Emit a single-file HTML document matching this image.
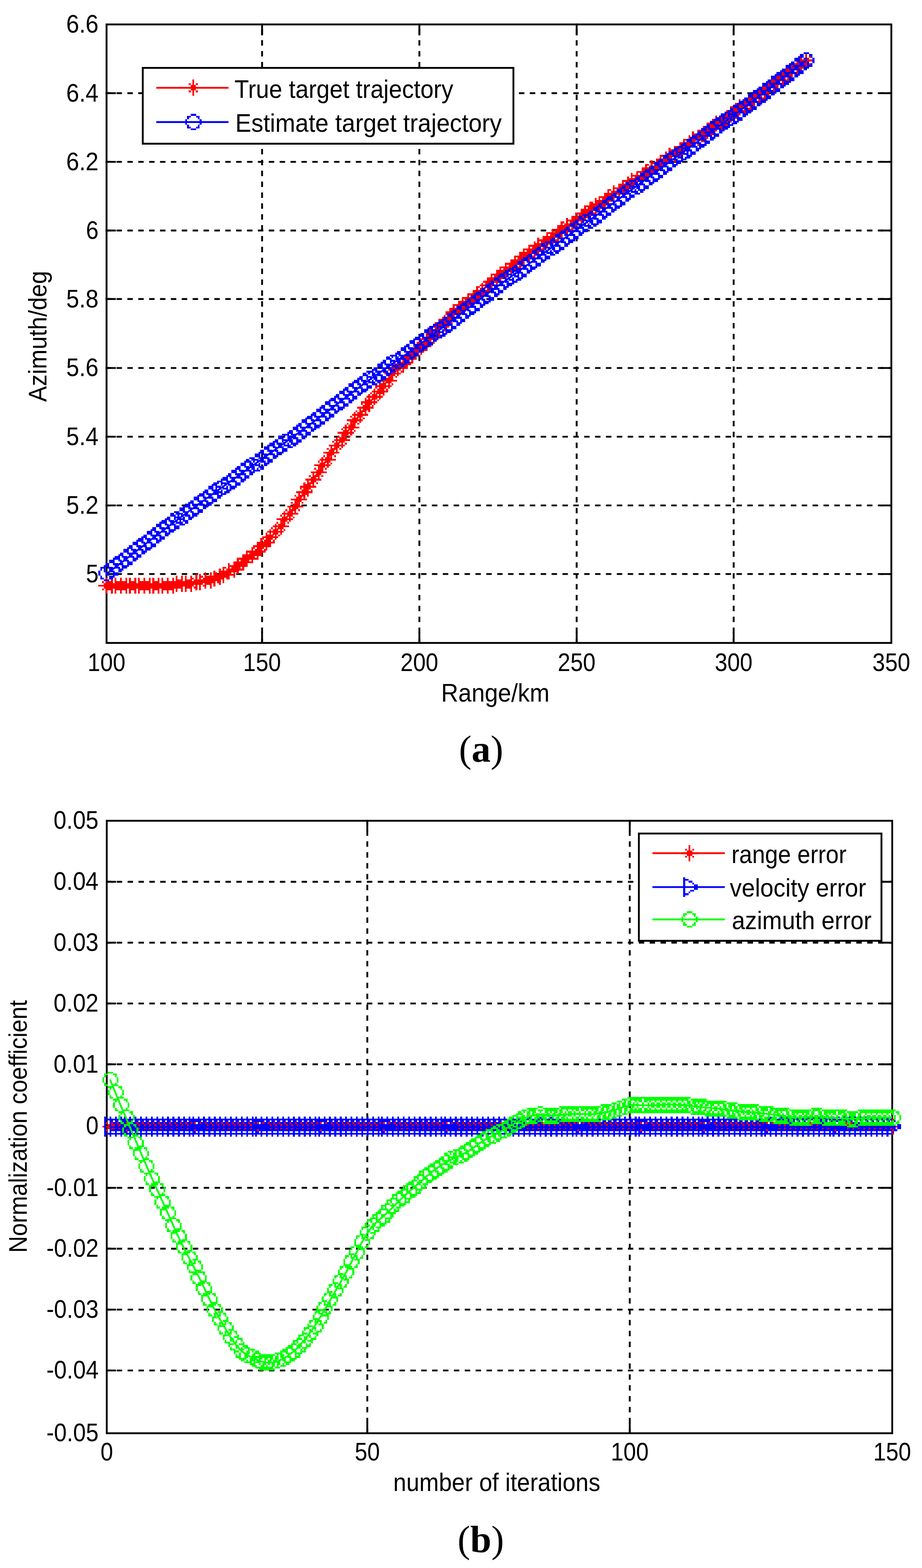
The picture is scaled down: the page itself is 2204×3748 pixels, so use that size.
<!DOCTYPE html><html><head><meta charset="utf-8"><title>Figure</title><style>html,body{margin:0;padding:0;background:#fff;}svg{display:block;}.ax{stroke:#000;stroke-width:4.4;fill:none;stroke-linecap:square}.gr{stroke:#000;stroke-width:4.4;stroke-dasharray:13 13;fill:none}text{font-family:'Liberation Sans', Arial, Helvetica, sans-serif;fill:#000}.cap{font-family:'Liberation Serif', 'Times New Roman', serif}</style></head><body>
<svg xmlns="http://www.w3.org/2000/svg" width="2204" height="3748" viewBox="0 0 2204 3748">
<rect width="2204" height="3748" fill="#fff"/>
<line x1="626.5" y1="1539.0" x2="626.5" y2="58.4" class="gr"/>
<line x1="1002.5" y1="1539.0" x2="1002.5" y2="58.4" class="gr"/>
<line x1="1378.5" y1="1539.0" x2="1378.5" y2="58.4" class="gr"/>
<line x1="1753.8" y1="1539.0" x2="1753.8" y2="58.4" class="gr"/>
<line x1="252.5" y1="222.8" x2="2130.7" y2="222.8" class="gr"/>
<line x1="252.5" y1="386.9" x2="2130.7" y2="386.9" class="gr"/>
<line x1="252.5" y1="551.0" x2="2130.7" y2="551.0" class="gr"/>
<line x1="252.5" y1="714.8" x2="2130.7" y2="714.8" class="gr"/>
<line x1="252.5" y1="879.6" x2="2130.7" y2="879.6" class="gr"/>
<line x1="252.5" y1="1043.9" x2="2130.7" y2="1043.9" class="gr"/>
<line x1="252.5" y1="1208.1" x2="2130.7" y2="1208.1" class="gr"/>
<line x1="252.5" y1="1372.1" x2="2130.7" y2="1372.1" class="gr"/>
<path d="M626.5 1536.8v-24M626.5 58.4v24" class="ax"/>
<path d="M1002.5 1536.8v-24M1002.5 58.4v24" class="ax"/>
<path d="M1378.5 1536.8v-24M1378.5 58.4v24" class="ax"/>
<path d="M1753.8 1536.8v-24M1753.8 58.4v24" class="ax"/>
<path d="M254.7 222.8h20M2130.7 222.8h-24" class="ax"/>
<path d="M254.7 386.9h20M2130.7 386.9h-24" class="ax"/>
<path d="M254.7 551.0h20M2130.7 551.0h-24" class="ax"/>
<path d="M254.7 714.8h20M2130.7 714.8h-24" class="ax"/>
<path d="M254.7 879.6h20M2130.7 879.6h-24" class="ax"/>
<path d="M254.7 1043.9h20M2130.7 1043.9h-24" class="ax"/>
<path d="M254.7 1208.1h20M2130.7 1208.1h-24" class="ax"/>
<path d="M254.7 1372.1h20M2130.7 1372.1h-24" class="ax"/>
<rect x="254.7" y="58.4" width="1876.0" height="1478.4" class="ax" fill="none"/>
<polyline points="255.0,1398.4 266.2,1398.4 277.4,1398.4 288.7,1398.4 299.9,1398.4 311.1,1398.4 322.3,1398.4 333.6,1398.4 344.8,1398.4 356.0,1398.4 367.2,1398.4 378.5,1398.4 389.7,1398.4 400.9,1398.4 412.1,1398.2 423.4,1397.4 434.6,1396.5 445.8,1395.5 457.0,1393.8 468.3,1392.1 479.5,1390.3 490.7,1387.8 501.9,1385.1 513.2,1381.6 524.4,1377.3 535.6,1372.9 546.8,1367.2 558.1,1360.2 569.3,1353.1 580.5,1344.8 591.7,1335.3 602.9,1326.0 614.2,1316.3 625.4,1306.3 636.6,1295.5 647.8,1284.1 659.1,1270.7 670.3,1256.6 681.5,1241.9 692.7,1226.1 704.0,1210.6 715.2,1194.8 726.4,1178.6 737.6,1162.2 748.9,1145.9 760.1,1129.8 771.3,1113.4 782.5,1097.0 793.8,1081.4 805.0,1065.9 816.2,1050.2 827.4,1035.8 838.7,1021.1 849.9,1005.7 861.1,991.0 872.3,976.3 883.6,962.4 894.8,948.5 906.0,934.5 917.2,921.3 928.4,908.0 939.7,894.4 950.9,881.7 962.1,870.5 973.3,859.6 984.6,849.7 995.8,839.9 1007.0,829.9 1018.2,819.0 1029.5,807.9 1040.7,795.2 1051.9,782.7 1063.1,770.2 1074.4,758.2 1085.6,746.7 1096.8,736.6 1108.0,727.4 1119.3,718.7 1130.5,710.2 1141.7,701.8 1152.9,692.9 1164.2,683.8 1175.4,674.7 1186.6,665.5 1197.8,656.4 1209.1,647.2 1220.3,638.3 1231.5,629.6 1242.7,621.1 1254.0,612.9 1265.2,604.9 1276.4,597.0 1287.6,589.1 1298.8,581.2 1310.1,573.3 1321.3,565.4 1332.5,557.4 1343.7,549.5 1355.0,541.6 1366.2,533.7 1377.4,525.8 1388.6,517.9 1399.9,510.0 1411.1,502.3 1422.3,494.5 1433.5,486.9 1444.8,479.3 1456.0,471.8 1467.2,464.2 1478.4,456.7 1489.7,449.1 1500.9,441.6 1512.1,434.1 1523.3,426.5 1534.6,419.0 1545.8,411.4 1557.0,403.9 1568.2,396.3 1579.5,388.8 1590.7,381.2 1601.9,373.6 1613.1,365.9 1624.3,358.3 1635.6,350.6 1646.8,342.9 1658.0,335.3 1669.2,327.6 1680.5,319.9 1691.7,312.3 1702.9,304.6 1714.1,296.9 1725.4,289.3 1736.6,281.6 1747.8,273.9 1759.0,266.2 1770.3,258.3 1781.5,250.2 1792.7,242.0 1803.9,233.5 1815.2,225.0 1826.4,216.4 1837.6,207.8 1848.8,199.3 1860.1,191.1 1871.3,183.0 1882.5,175.2 1893.7,167.5 1905.0,159.9 1916.2,152.4 1927.4,144.8" fill="none" stroke="#ff0000" stroke-width="4.3" stroke-linejoin="round" shape-rendering="crispEdges"/>
<path d="M252.40 1380.70h4.30v38.70h-4.30zM235.20 1397.90h38.70v4.30h-38.70zM248.10 1393.60h12.90v12.90h-12.90zM243.80 1389.30h4.30v4.30h-4.30zM261.00 1389.30h4.30v4.30h-4.30zM243.80 1406.50h4.30v4.30h-4.30zM261.00 1406.50h4.30v4.30h-4.30zM265.30 1380.70h4.30v38.70h-4.30zM248.10 1397.90h38.70v4.30h-38.70zM261.00 1393.60h12.90v12.90h-12.90zM256.70 1389.30h4.30v4.30h-4.30zM273.90 1389.30h4.30v4.30h-4.30zM256.70 1406.50h4.30v4.30h-4.30zM273.90 1406.50h4.30v4.30h-4.30zM273.90 1380.70h4.30v38.70h-4.30zM256.70 1397.90h38.70v4.30h-38.70zM269.60 1393.60h12.90v12.90h-12.90zM265.30 1389.30h4.30v4.30h-4.30zM282.50 1389.30h4.30v4.30h-4.30zM265.30 1406.50h4.30v4.30h-4.30zM282.50 1406.50h4.30v4.30h-4.30zM286.80 1380.70h4.30v38.70h-4.30zM269.60 1397.90h38.70v4.30h-38.70zM282.50 1393.60h12.90v12.90h-12.90zM278.20 1389.30h4.30v4.30h-4.30zM295.40 1389.30h4.30v4.30h-4.30zM278.20 1406.50h4.30v4.30h-4.30zM295.40 1406.50h4.30v4.30h-4.30zM299.70 1380.70h4.30v38.70h-4.30zM282.50 1397.90h38.70v4.30h-38.70zM295.40 1393.60h12.90v12.90h-12.90zM291.10 1389.30h4.30v4.30h-4.30zM308.30 1389.30h4.30v4.30h-4.30zM291.10 1406.50h4.30v4.30h-4.30zM308.30 1406.50h4.30v4.30h-4.30zM308.30 1380.70h4.30v38.70h-4.30zM291.10 1397.90h38.70v4.30h-38.70zM304.00 1393.60h12.90v12.90h-12.90zM299.70 1389.30h4.30v4.30h-4.30zM316.90 1389.30h4.30v4.30h-4.30zM299.70 1406.50h4.30v4.30h-4.30zM316.90 1406.50h4.30v4.30h-4.30zM321.20 1380.70h4.30v38.70h-4.30zM304.00 1397.90h38.70v4.30h-38.70zM316.90 1393.60h12.90v12.90h-12.90zM312.60 1389.30h4.30v4.30h-4.30zM329.80 1389.30h4.30v4.30h-4.30zM312.60 1406.50h4.30v4.30h-4.30zM329.80 1406.50h4.30v4.30h-4.30zM329.80 1380.70h4.30v38.70h-4.30zM312.60 1397.90h38.70v4.30h-38.70zM325.50 1393.60h12.90v12.90h-12.90zM321.20 1389.30h4.30v4.30h-4.30zM338.40 1389.30h4.30v4.30h-4.30zM321.20 1406.50h4.30v4.30h-4.30zM338.40 1406.50h4.30v4.30h-4.30zM342.70 1380.70h4.30v38.70h-4.30zM325.50 1397.90h38.70v4.30h-38.70zM338.40 1393.60h12.90v12.90h-12.90zM334.10 1389.30h4.30v4.30h-4.30zM351.30 1389.30h4.30v4.30h-4.30zM334.10 1406.50h4.30v4.30h-4.30zM351.30 1406.50h4.30v4.30h-4.30zM355.60 1380.70h4.30v38.70h-4.30zM338.40 1397.90h38.70v4.30h-38.70zM351.30 1393.60h12.90v12.90h-12.90zM347.00 1389.30h4.30v4.30h-4.30zM364.20 1389.30h4.30v4.30h-4.30zM347.00 1406.50h4.30v4.30h-4.30zM364.20 1406.50h4.30v4.30h-4.30zM364.20 1380.70h4.30v38.70h-4.30zM347.00 1397.90h38.70v4.30h-38.70zM359.90 1393.60h12.90v12.90h-12.90zM355.60 1389.30h4.30v4.30h-4.30zM372.80 1389.30h4.30v4.30h-4.30zM355.60 1406.50h4.30v4.30h-4.30zM372.80 1406.50h4.30v4.30h-4.30zM377.10 1380.70h4.30v38.70h-4.30zM359.90 1397.90h38.70v4.30h-38.70zM372.80 1393.60h12.90v12.90h-12.90zM368.50 1389.30h4.30v4.30h-4.30zM385.70 1389.30h4.30v4.30h-4.30zM368.50 1406.50h4.30v4.30h-4.30zM385.70 1406.50h4.30v4.30h-4.30zM385.70 1380.70h4.30v38.70h-4.30zM368.50 1397.90h38.70v4.30h-38.70zM381.40 1393.60h12.90v12.90h-12.90zM377.10 1389.30h4.30v4.30h-4.30zM394.30 1389.30h4.30v4.30h-4.30zM377.10 1406.50h4.30v4.30h-4.30zM394.30 1406.50h4.30v4.30h-4.30zM398.60 1380.70h4.30v38.70h-4.30zM381.40 1397.90h38.70v4.30h-38.70zM394.30 1393.60h12.90v12.90h-12.90zM390.00 1389.30h4.30v4.30h-4.30zM407.20 1389.30h4.30v4.30h-4.30zM390.00 1406.50h4.30v4.30h-4.30zM407.20 1406.50h4.30v4.30h-4.30zM411.50 1380.70h4.30v38.70h-4.30zM394.30 1397.90h38.70v4.30h-38.70zM407.20 1393.60h12.90v12.90h-12.90zM402.90 1389.30h4.30v4.30h-4.30zM420.10 1389.30h4.30v4.30h-4.30zM402.90 1406.50h4.30v4.30h-4.30zM420.10 1406.50h4.30v4.30h-4.30zM420.10 1376.40h4.30v38.70h-4.30zM402.90 1393.60h38.70v4.30h-38.70zM415.80 1389.30h12.90v12.90h-12.90zM411.50 1385.00h4.30v4.30h-4.30zM428.70 1385.00h4.30v4.30h-4.30zM411.50 1402.20h4.30v4.30h-4.30zM428.70 1402.20h4.30v4.30h-4.30zM433.00 1376.40h4.30v38.70h-4.30zM415.80 1393.60h38.70v4.30h-38.70zM428.70 1389.30h12.90v12.90h-12.90zM424.40 1385.00h4.30v4.30h-4.30zM441.60 1385.00h4.30v4.30h-4.30zM424.40 1402.20h4.30v4.30h-4.30zM441.60 1402.20h4.30v4.30h-4.30zM441.60 1376.40h4.30v38.70h-4.30zM424.40 1393.60h38.70v4.30h-38.70zM437.30 1389.30h12.90v12.90h-12.90zM433.00 1385.00h4.30v4.30h-4.30zM450.20 1385.00h4.30v4.30h-4.30zM433.00 1402.20h4.30v4.30h-4.30zM450.20 1402.20h4.30v4.30h-4.30zM454.50 1376.40h4.30v38.70h-4.30zM437.30 1393.60h38.70v4.30h-38.70zM450.20 1389.30h12.90v12.90h-12.90zM445.90 1385.00h4.30v4.30h-4.30zM463.10 1385.00h4.30v4.30h-4.30zM445.90 1402.20h4.30v4.30h-4.30zM463.10 1402.20h4.30v4.30h-4.30zM467.40 1372.10h4.30v38.70h-4.30zM450.20 1389.30h38.70v4.30h-38.70zM463.10 1385.00h12.90v12.90h-12.90zM458.80 1380.70h4.30v4.30h-4.30zM476.00 1380.70h4.30v4.30h-4.30zM458.80 1397.90h4.30v4.30h-4.30zM476.00 1397.90h4.30v4.30h-4.30zM476.00 1372.10h4.30v38.70h-4.30zM458.80 1389.30h38.70v4.30h-38.70zM471.70 1385.00h12.90v12.90h-12.90zM467.40 1380.70h4.30v4.30h-4.30zM484.60 1380.70h4.30v4.30h-4.30zM467.40 1397.90h4.30v4.30h-4.30zM484.60 1397.90h4.30v4.30h-4.30zM488.90 1367.80h4.30v38.70h-4.30zM471.70 1385.00h38.70v4.30h-38.70zM484.60 1380.70h12.90v12.90h-12.90zM480.30 1376.40h4.30v4.30h-4.30zM497.50 1376.40h4.30v4.30h-4.30zM480.30 1393.60h4.30v4.30h-4.30zM497.50 1393.60h4.30v4.30h-4.30zM501.80 1367.80h4.30v38.70h-4.30zM484.60 1385.00h38.70v4.30h-38.70zM497.50 1380.70h12.90v12.90h-12.90zM493.20 1376.40h4.30v4.30h-4.30zM510.40 1376.40h4.30v4.30h-4.30zM493.20 1393.60h4.30v4.30h-4.30zM510.40 1393.60h4.30v4.30h-4.30zM510.40 1363.50h4.30v38.70h-4.30zM493.20 1380.70h38.70v4.30h-38.70zM506.10 1376.40h12.90v12.90h-12.90zM501.80 1372.10h4.30v4.30h-4.30zM519.00 1372.10h4.30v4.30h-4.30zM501.80 1389.30h4.30v4.30h-4.30zM519.00 1389.30h4.30v4.30h-4.30zM523.30 1359.20h4.30v38.70h-4.30zM506.10 1376.40h38.70v4.30h-38.70zM519.00 1372.10h12.90v12.90h-12.90zM514.70 1367.80h4.30v4.30h-4.30zM531.90 1367.80h4.30v4.30h-4.30zM514.70 1385.00h4.30v4.30h-4.30zM531.90 1385.00h4.30v4.30h-4.30zM531.90 1354.90h4.30v38.70h-4.30zM514.70 1372.10h38.70v4.30h-38.70zM527.60 1367.80h12.90v12.90h-12.90zM523.30 1363.50h4.30v4.30h-4.30zM540.50 1363.50h4.30v4.30h-4.30zM523.30 1380.70h4.30v4.30h-4.30zM540.50 1380.70h4.30v4.30h-4.30zM544.80 1346.30h4.30v38.70h-4.30zM527.60 1363.50h38.70v4.30h-38.70zM540.50 1359.20h12.90v12.90h-12.90zM536.20 1354.90h4.30v4.30h-4.30zM553.40 1354.90h4.30v4.30h-4.30zM536.20 1372.10h4.30v4.30h-4.30zM553.40 1372.10h4.30v4.30h-4.30zM557.70 1342.00h4.30v38.70h-4.30zM540.50 1359.20h38.70v4.30h-38.70zM553.40 1354.90h12.90v12.90h-12.90zM549.10 1350.60h4.30v4.30h-4.30zM566.30 1350.60h4.30v4.30h-4.30zM549.10 1367.80h4.30v4.30h-4.30zM566.30 1367.80h4.30v4.30h-4.30zM566.30 1333.40h4.30v38.70h-4.30zM549.10 1350.60h38.70v4.30h-38.70zM562.00 1346.30h12.90v12.90h-12.90zM557.70 1342.00h4.30v4.30h-4.30zM574.90 1342.00h4.30v4.30h-4.30zM557.70 1359.20h4.30v4.30h-4.30zM574.90 1359.20h4.30v4.30h-4.30zM579.20 1324.80h4.30v38.70h-4.30zM562.00 1342.00h38.70v4.30h-38.70zM574.90 1337.70h12.90v12.90h-12.90zM570.60 1333.40h4.30v4.30h-4.30zM587.80 1333.40h4.30v4.30h-4.30zM570.60 1350.60h4.30v4.30h-4.30zM587.80 1350.60h4.30v4.30h-4.30zM587.80 1316.20h4.30v38.70h-4.30zM570.60 1333.40h38.70v4.30h-38.70zM583.50 1329.10h12.90v12.90h-12.90zM579.20 1324.80h4.30v4.30h-4.30zM596.40 1324.80h4.30v4.30h-4.30zM579.20 1342.00h4.30v4.30h-4.30zM596.40 1342.00h4.30v4.30h-4.30zM600.70 1307.60h4.30v38.70h-4.30zM583.50 1324.80h38.70v4.30h-38.70zM596.40 1320.50h12.90v12.90h-12.90zM592.10 1316.20h4.30v4.30h-4.30zM609.30 1316.20h4.30v4.30h-4.30zM592.10 1333.40h4.30v4.30h-4.30zM609.30 1333.40h4.30v4.30h-4.30zM613.60 1299.00h4.30v38.70h-4.30zM596.40 1316.20h38.70v4.30h-38.70zM609.30 1311.90h12.90v12.90h-12.90zM605.00 1307.60h4.30v4.30h-4.30zM622.20 1307.60h4.30v4.30h-4.30zM605.00 1324.80h4.30v4.30h-4.30zM622.20 1324.80h4.30v4.30h-4.30zM622.20 1286.10h4.30v38.70h-4.30zM605.00 1303.30h38.70v4.30h-38.70zM617.90 1299.00h12.90v12.90h-12.90zM613.60 1294.70h4.30v4.30h-4.30zM630.80 1294.70h4.30v4.30h-4.30zM613.60 1311.90h4.30v4.30h-4.30zM630.80 1311.90h4.30v4.30h-4.30zM635.10 1277.50h4.30v38.70h-4.30zM617.90 1294.70h38.70v4.30h-38.70zM630.80 1290.40h12.90v12.90h-12.90zM626.50 1286.10h4.30v4.30h-4.30zM643.70 1286.10h4.30v4.30h-4.30zM626.50 1303.30h4.30v4.30h-4.30zM643.70 1303.30h4.30v4.30h-4.30zM643.70 1264.60h4.30v38.70h-4.30zM626.50 1281.80h38.70v4.30h-38.70zM639.40 1277.50h12.90v12.90h-12.90zM635.10 1273.20h4.30v4.30h-4.30zM652.30 1273.20h4.30v4.30h-4.30zM635.10 1290.40h4.30v4.30h-4.30zM652.30 1290.40h4.30v4.30h-4.30zM656.60 1251.70h4.30v38.70h-4.30zM639.40 1268.90h38.70v4.30h-38.70zM652.30 1264.60h12.90v12.90h-12.90zM648.00 1260.30h4.30v4.30h-4.30zM665.20 1260.30h4.30v4.30h-4.30zM648.00 1277.50h4.30v4.30h-4.30zM665.20 1277.50h4.30v4.30h-4.30zM669.50 1238.80h4.30v38.70h-4.30zM652.30 1256.00h38.70v4.30h-38.70zM665.20 1251.70h12.90v12.90h-12.90zM660.90 1247.40h4.30v4.30h-4.30zM678.10 1247.40h4.30v4.30h-4.30zM660.90 1264.60h4.30v4.30h-4.30zM678.10 1264.60h4.30v4.30h-4.30zM678.10 1221.60h4.30v38.70h-4.30zM660.90 1238.80h38.70v4.30h-38.70zM673.80 1234.50h12.90v12.90h-12.90zM669.50 1230.20h4.30v4.30h-4.30zM686.70 1230.20h4.30v4.30h-4.30zM669.50 1247.40h4.30v4.30h-4.30zM686.70 1247.40h4.30v4.30h-4.30zM691.00 1208.70h4.30v38.70h-4.30zM673.80 1225.90h38.70v4.30h-38.70zM686.70 1221.60h12.90v12.90h-12.90zM682.40 1217.30h4.30v4.30h-4.30zM699.60 1217.30h4.30v4.30h-4.30zM682.40 1234.50h4.30v4.30h-4.30zM699.60 1234.50h4.30v4.30h-4.30zM703.90 1191.50h4.30v38.70h-4.30zM686.70 1208.70h38.70v4.30h-38.70zM699.60 1204.40h12.90v12.90h-12.90zM695.30 1200.10h4.30v4.30h-4.30zM712.50 1200.10h4.30v4.30h-4.30zM695.30 1217.30h4.30v4.30h-4.30zM712.50 1217.30h4.30v4.30h-4.30zM712.50 1174.30h4.30v38.70h-4.30zM695.30 1191.50h38.70v4.30h-38.70zM708.20 1187.20h12.90v12.90h-12.90zM703.90 1182.90h4.30v4.30h-4.30zM721.10 1182.90h4.30v4.30h-4.30zM703.90 1200.10h4.30v4.30h-4.30zM721.10 1200.10h4.30v4.30h-4.30zM725.40 1157.10h4.30v38.70h-4.30zM708.20 1174.30h38.70v4.30h-38.70zM721.10 1170.00h12.90v12.90h-12.90zM716.80 1165.70h4.30v4.30h-4.30zM734.00 1165.70h4.30v4.30h-4.30zM716.80 1182.90h4.30v4.30h-4.30zM734.00 1182.90h4.30v4.30h-4.30zM734.00 1144.20h4.30v38.70h-4.30zM716.80 1161.40h38.70v4.30h-38.70zM729.70 1157.10h12.90v12.90h-12.90zM725.40 1152.80h4.30v4.30h-4.30zM742.60 1152.80h4.30v4.30h-4.30zM725.40 1170.00h4.30v4.30h-4.30zM742.60 1170.00h4.30v4.30h-4.30zM746.90 1127.00h4.30v38.70h-4.30zM729.70 1144.20h38.70v4.30h-38.70zM742.60 1139.90h12.90v12.90h-12.90zM738.30 1135.60h4.30v4.30h-4.30zM755.50 1135.60h4.30v4.30h-4.30zM738.30 1152.80h4.30v4.30h-4.30zM755.50 1152.80h4.30v4.30h-4.30zM759.80 1109.80h4.30v38.70h-4.30zM742.60 1127.00h38.70v4.30h-38.70zM755.50 1122.70h12.90v12.90h-12.90zM751.20 1118.40h4.30v4.30h-4.30zM768.40 1118.40h4.30v4.30h-4.30zM751.20 1135.60h4.30v4.30h-4.30zM768.40 1135.60h4.30v4.30h-4.30zM768.40 1092.60h4.30v38.70h-4.30zM751.20 1109.80h38.70v4.30h-38.70zM764.10 1105.50h12.90v12.90h-12.90zM759.80 1101.20h4.30v4.30h-4.30zM777.00 1101.20h4.30v4.30h-4.30zM759.80 1118.40h4.30v4.30h-4.30zM777.00 1118.40h4.30v4.30h-4.30zM781.30 1079.70h4.30v38.70h-4.30zM764.10 1096.90h38.70v4.30h-38.70zM777.00 1092.60h12.90v12.90h-12.90zM772.70 1088.30h4.30v4.30h-4.30zM789.90 1088.30h4.30v4.30h-4.30zM772.70 1105.50h4.30v4.30h-4.30zM789.90 1105.50h4.30v4.30h-4.30zM789.90 1062.50h4.30v38.70h-4.30zM772.70 1079.70h38.70v4.30h-38.70zM785.60 1075.40h12.90v12.90h-12.90zM781.30 1071.10h4.30v4.30h-4.30zM798.50 1071.10h4.30v4.30h-4.30zM781.30 1088.30h4.30v4.30h-4.30zM798.50 1088.30h4.30v4.30h-4.30zM802.80 1045.30h4.30v38.70h-4.30zM785.60 1062.50h38.70v4.30h-38.70zM798.50 1058.20h12.90v12.90h-12.90zM794.20 1053.90h4.30v4.30h-4.30zM811.40 1053.90h4.30v4.30h-4.30zM794.20 1071.10h4.30v4.30h-4.30zM811.40 1071.10h4.30v4.30h-4.30zM815.70 1032.40h4.30v38.70h-4.30zM798.50 1049.60h38.70v4.30h-38.70zM811.40 1045.30h12.90v12.90h-12.90zM807.10 1041.00h4.30v4.30h-4.30zM824.30 1041.00h4.30v4.30h-4.30zM807.10 1058.20h4.30v4.30h-4.30zM824.30 1058.20h4.30v4.30h-4.30zM824.30 1015.20h4.30v38.70h-4.30zM807.10 1032.40h38.70v4.30h-38.70zM820.00 1028.10h12.90v12.90h-12.90zM815.70 1023.80h4.30v4.30h-4.30zM832.90 1023.80h4.30v4.30h-4.30zM815.70 1041.00h4.30v4.30h-4.30zM832.90 1041.00h4.30v4.30h-4.30zM837.20 1002.30h4.30v38.70h-4.30zM820.00 1019.50h38.70v4.30h-38.70zM832.90 1015.20h12.90v12.90h-12.90zM828.60 1010.90h4.30v4.30h-4.30zM845.80 1010.90h4.30v4.30h-4.30zM828.60 1028.10h4.30v4.30h-4.30zM845.80 1028.10h4.30v4.30h-4.30zM845.80 985.10h4.30v38.70h-4.30zM828.60 1002.30h38.70v4.30h-38.70zM841.50 998.00h12.90v12.90h-12.90zM837.20 993.70h4.30v4.30h-4.30zM854.40 993.70h4.30v4.30h-4.30zM837.20 1010.90h4.30v4.30h-4.30zM854.40 1010.90h4.30v4.30h-4.30zM858.70 972.20h4.30v38.70h-4.30zM841.50 989.40h38.70v4.30h-38.70zM854.40 985.10h12.90v12.90h-12.90zM850.10 980.80h4.30v4.30h-4.30zM867.30 980.80h4.30v4.30h-4.30zM850.10 998.00h4.30v4.30h-4.30zM867.30 998.00h4.30v4.30h-4.30zM871.60 955.00h4.30v38.70h-4.30zM854.40 972.20h38.70v4.30h-38.70zM867.30 967.90h12.90v12.90h-12.90zM863.00 963.60h4.30v4.30h-4.30zM880.20 963.60h4.30v4.30h-4.30zM863.00 980.80h4.30v4.30h-4.30zM880.20 980.80h4.30v4.30h-4.30zM880.20 942.10h4.30v38.70h-4.30zM863.00 959.30h38.70v4.30h-38.70zM875.90 955.00h12.90v12.90h-12.90zM871.60 950.70h4.30v4.30h-4.30zM888.80 950.70h4.30v4.30h-4.30zM871.60 967.90h4.30v4.30h-4.30zM888.80 967.90h4.30v4.30h-4.30zM893.10 929.20h4.30v38.70h-4.30zM875.90 946.40h38.70v4.30h-38.70zM888.80 942.10h12.90v12.90h-12.90zM884.50 937.80h4.30v4.30h-4.30zM901.70 937.80h4.30v4.30h-4.30zM884.50 955.00h4.30v4.30h-4.30zM901.70 955.00h4.30v4.30h-4.30zM906.00 916.30h4.30v38.70h-4.30zM888.80 933.50h38.70v4.30h-38.70zM901.70 929.20h12.90v12.90h-12.90zM897.40 924.90h4.30v4.30h-4.30zM914.60 924.90h4.30v4.30h-4.30zM897.40 942.10h4.30v4.30h-4.30zM914.60 942.10h4.30v4.30h-4.30zM914.60 903.40h4.30v38.70h-4.30zM897.40 920.60h38.70v4.30h-38.70zM910.30 916.30h12.90v12.90h-12.90zM906.00 912.00h4.30v4.30h-4.30zM923.20 912.00h4.30v4.30h-4.30zM906.00 929.20h4.30v4.30h-4.30zM923.20 929.20h4.30v4.30h-4.30zM927.50 890.50h4.30v38.70h-4.30zM910.30 907.70h38.70v4.30h-38.70zM923.20 903.40h12.90v12.90h-12.90zM918.90 899.10h4.30v4.30h-4.30zM936.10 899.10h4.30v4.30h-4.30zM918.90 916.30h4.30v4.30h-4.30zM936.10 916.30h4.30v4.30h-4.30zM936.10 873.30h4.30v38.70h-4.30zM918.90 890.50h38.70v4.30h-38.70zM931.80 886.20h12.90v12.90h-12.90zM927.50 881.90h4.30v4.30h-4.30zM944.70 881.90h4.30v4.30h-4.30zM927.50 899.10h4.30v4.30h-4.30zM944.70 899.10h4.30v4.30h-4.30zM949.00 860.40h4.30v38.70h-4.30zM931.80 877.60h38.70v4.30h-38.70zM944.70 873.30h12.90v12.90h-12.90zM940.40 869.00h4.30v4.30h-4.30zM957.60 869.00h4.30v4.30h-4.30zM940.40 886.20h4.30v4.30h-4.30zM957.60 886.20h4.30v4.30h-4.30zM961.90 851.80h4.30v38.70h-4.30zM944.70 869.00h38.70v4.30h-38.70zM957.60 864.70h12.90v12.90h-12.90zM953.30 860.40h4.30v4.30h-4.30zM970.50 860.40h4.30v4.30h-4.30zM953.30 877.60h4.30v4.30h-4.30zM970.50 877.60h4.30v4.30h-4.30zM970.50 838.90h4.30v38.70h-4.30zM953.30 856.10h38.70v4.30h-38.70zM966.20 851.80h12.90v12.90h-12.90zM961.90 847.50h4.30v4.30h-4.30zM979.10 847.50h4.30v4.30h-4.30zM961.90 864.70h4.30v4.30h-4.30zM979.10 864.70h4.30v4.30h-4.30zM983.40 830.30h4.30v38.70h-4.30zM966.20 847.50h38.70v4.30h-38.70zM979.10 843.20h12.90v12.90h-12.90zM974.80 838.90h4.30v4.30h-4.30zM992.00 838.90h4.30v4.30h-4.30zM974.80 856.10h4.30v4.30h-4.30zM992.00 856.10h4.30v4.30h-4.30zM992.00 821.70h4.30v38.70h-4.30zM974.80 838.90h38.70v4.30h-38.70zM987.70 834.60h12.90v12.90h-12.90zM983.40 830.30h4.30v4.30h-4.30zM1000.60 830.30h4.30v4.30h-4.30zM983.40 847.50h4.30v4.30h-4.30zM1000.60 847.50h4.30v4.30h-4.30zM1004.90 808.80h4.30v38.70h-4.30zM987.70 826.00h38.70v4.30h-38.70zM1000.60 821.70h12.90v12.90h-12.90zM996.30 817.40h4.30v4.30h-4.30zM1013.50 817.40h4.30v4.30h-4.30zM996.30 834.60h4.30v4.30h-4.30zM1013.50 834.60h4.30v4.30h-4.30zM1017.80 800.20h4.30v38.70h-4.30zM1000.60 817.40h38.70v4.30h-38.70zM1013.50 813.10h12.90v12.90h-12.90zM1009.20 808.80h4.30v4.30h-4.30zM1026.40 808.80h4.30v4.30h-4.30zM1009.20 826.00h4.30v4.30h-4.30zM1026.40 826.00h4.30v4.30h-4.30zM1026.40 787.30h4.30v38.70h-4.30zM1009.20 804.50h38.70v4.30h-38.70zM1022.10 800.20h12.90v12.90h-12.90zM1017.80 795.90h4.30v4.30h-4.30zM1035.00 795.90h4.30v4.30h-4.30zM1017.80 813.10h4.30v4.30h-4.30zM1035.00 813.10h4.30v4.30h-4.30zM1039.30 774.40h4.30v38.70h-4.30zM1022.10 791.60h38.70v4.30h-38.70zM1035.00 787.30h12.90v12.90h-12.90zM1030.70 783.00h4.30v4.30h-4.30zM1047.90 783.00h4.30v4.30h-4.30zM1030.70 800.20h4.30v4.30h-4.30zM1047.90 800.20h4.30v4.30h-4.30zM1047.90 761.50h4.30v38.70h-4.30zM1030.70 778.70h38.70v4.30h-38.70zM1043.60 774.40h12.90v12.90h-12.90zM1039.30 770.10h4.30v4.30h-4.30zM1056.50 770.10h4.30v4.30h-4.30zM1039.30 787.30h4.30v4.30h-4.30zM1056.50 787.30h4.30v4.30h-4.30zM1060.80 752.90h4.30v38.70h-4.30zM1043.60 770.10h38.70v4.30h-38.70zM1056.50 765.80h12.90v12.90h-12.90zM1052.20 761.50h4.30v4.30h-4.30zM1069.40 761.50h4.30v4.30h-4.30zM1052.20 778.70h4.30v4.30h-4.30zM1069.40 778.70h4.30v4.30h-4.30zM1073.70 740.00h4.30v38.70h-4.30zM1056.50 757.20h38.70v4.30h-38.70zM1069.40 752.90h12.90v12.90h-12.90zM1065.10 748.60h4.30v4.30h-4.30zM1082.30 748.60h4.30v4.30h-4.30zM1065.10 765.80h4.30v4.30h-4.30zM1082.30 765.80h4.30v4.30h-4.30zM1082.30 727.10h4.30v38.70h-4.30zM1065.10 744.30h38.70v4.30h-38.70zM1078.00 740.00h12.90v12.90h-12.90zM1073.70 735.70h4.30v4.30h-4.30zM1090.90 735.70h4.30v4.30h-4.30zM1073.70 752.90h4.30v4.30h-4.30zM1090.90 752.90h4.30v4.30h-4.30zM1095.20 718.50h4.30v38.70h-4.30zM1078.00 735.70h38.70v4.30h-38.70zM1090.90 731.40h12.90v12.90h-12.90zM1086.60 727.10h4.30v4.30h-4.30zM1103.80 727.10h4.30v4.30h-4.30zM1086.60 744.30h4.30v4.30h-4.30zM1103.80 744.30h4.30v4.30h-4.30zM1103.80 709.90h4.30v38.70h-4.30zM1086.60 727.10h38.70v4.30h-38.70zM1099.50 722.80h12.90v12.90h-12.90zM1095.20 718.50h4.30v4.30h-4.30zM1112.40 718.50h4.30v4.30h-4.30zM1095.20 735.70h4.30v4.30h-4.30zM1112.40 735.70h4.30v4.30h-4.30zM1116.70 701.30h4.30v38.70h-4.30zM1099.50 718.50h38.70v4.30h-38.70zM1112.40 714.20h12.90v12.90h-12.90zM1108.10 709.90h4.30v4.30h-4.30zM1125.30 709.90h4.30v4.30h-4.30zM1108.10 727.10h4.30v4.30h-4.30zM1125.30 727.10h4.30v4.30h-4.30zM1129.60 692.70h4.30v38.70h-4.30zM1112.40 709.90h38.70v4.30h-38.70zM1125.30 705.60h12.90v12.90h-12.90zM1121.00 701.30h4.30v4.30h-4.30zM1138.20 701.30h4.30v4.30h-4.30zM1121.00 718.50h4.30v4.30h-4.30zM1138.20 718.50h4.30v4.30h-4.30zM1138.20 684.10h4.30v38.70h-4.30zM1121.00 701.30h38.70v4.30h-38.70zM1133.90 697.00h12.90v12.90h-12.90zM1129.60 692.70h4.30v4.30h-4.30zM1146.80 692.70h4.30v4.30h-4.30zM1129.60 709.90h4.30v4.30h-4.30zM1146.80 709.90h4.30v4.30h-4.30zM1151.10 675.50h4.30v38.70h-4.30zM1133.90 692.70h38.70v4.30h-38.70zM1146.80 688.40h12.90v12.90h-12.90zM1142.50 684.10h4.30v4.30h-4.30zM1159.70 684.10h4.30v4.30h-4.30zM1142.50 701.30h4.30v4.30h-4.30zM1159.70 701.30h4.30v4.30h-4.30zM1164.00 662.60h4.30v38.70h-4.30zM1146.80 679.80h38.70v4.30h-38.70zM1159.70 675.50h12.90v12.90h-12.90zM1155.40 671.20h4.30v4.30h-4.30zM1172.60 671.20h4.30v4.30h-4.30zM1155.40 688.40h4.30v4.30h-4.30zM1172.60 688.40h4.30v4.30h-4.30zM1172.60 654.00h4.30v38.70h-4.30zM1155.40 671.20h38.70v4.30h-38.70zM1168.30 666.90h12.90v12.90h-12.90zM1164.00 662.60h4.30v4.30h-4.30zM1181.20 662.60h4.30v4.30h-4.30zM1164.00 679.80h4.30v4.30h-4.30zM1181.20 679.80h4.30v4.30h-4.30zM1185.50 645.40h4.30v38.70h-4.30zM1168.30 662.60h38.70v4.30h-38.70zM1181.20 658.30h12.90v12.90h-12.90zM1176.90 654.00h4.30v4.30h-4.30zM1194.10 654.00h4.30v4.30h-4.30zM1176.90 671.20h4.30v4.30h-4.30zM1194.10 671.20h4.30v4.30h-4.30zM1194.10 636.80h4.30v38.70h-4.30zM1176.90 654.00h38.70v4.30h-38.70zM1189.80 649.70h12.90v12.90h-12.90zM1185.50 645.40h4.30v4.30h-4.30zM1202.70 645.40h4.30v4.30h-4.30zM1185.50 662.60h4.30v4.30h-4.30zM1202.70 662.60h4.30v4.30h-4.30zM1207.00 628.20h4.30v38.70h-4.30zM1189.80 645.40h38.70v4.30h-38.70zM1202.70 641.10h12.90v12.90h-12.90zM1198.40 636.80h4.30v4.30h-4.30zM1215.60 636.80h4.30v4.30h-4.30zM1198.40 654.00h4.30v4.30h-4.30zM1215.60 654.00h4.30v4.30h-4.30zM1219.90 619.60h4.30v38.70h-4.30zM1202.70 636.80h38.70v4.30h-38.70zM1215.60 632.50h12.90v12.90h-12.90zM1211.30 628.20h4.30v4.30h-4.30zM1228.50 628.20h4.30v4.30h-4.30zM1211.30 645.40h4.30v4.30h-4.30zM1228.50 645.40h4.30v4.30h-4.30zM1228.50 611.00h4.30v38.70h-4.30zM1211.30 628.20h38.70v4.30h-38.70zM1224.20 623.90h12.90v12.90h-12.90zM1219.90 619.60h4.30v4.30h-4.30zM1237.10 619.60h4.30v4.30h-4.30zM1219.90 636.80h4.30v4.30h-4.30zM1237.10 636.80h4.30v4.30h-4.30zM1241.40 602.40h4.30v38.70h-4.30zM1224.20 619.60h38.70v4.30h-38.70zM1237.10 615.30h12.90v12.90h-12.90zM1232.80 611.00h4.30v4.30h-4.30zM1250.00 611.00h4.30v4.30h-4.30zM1232.80 628.20h4.30v4.30h-4.30zM1250.00 628.20h4.30v4.30h-4.30zM1250.00 593.80h4.30v38.70h-4.30zM1232.80 611.00h38.70v4.30h-38.70zM1245.70 606.70h12.90v12.90h-12.90zM1241.40 602.40h4.30v4.30h-4.30zM1258.60 602.40h4.30v4.30h-4.30zM1241.40 619.60h4.30v4.30h-4.30zM1258.60 619.60h4.30v4.30h-4.30zM1262.90 585.20h4.30v38.70h-4.30zM1245.70 602.40h38.70v4.30h-38.70zM1258.60 598.10h12.90v12.90h-12.90zM1254.30 593.80h4.30v4.30h-4.30zM1271.50 593.80h4.30v4.30h-4.30zM1254.30 611.00h4.30v4.30h-4.30zM1271.50 611.00h4.30v4.30h-4.30zM1275.80 576.60h4.30v38.70h-4.30zM1258.60 593.80h38.70v4.30h-38.70zM1271.50 589.50h12.90v12.90h-12.90zM1267.20 585.20h4.30v4.30h-4.30zM1284.40 585.20h4.30v4.30h-4.30zM1267.20 602.40h4.30v4.30h-4.30zM1284.40 602.40h4.30v4.30h-4.30zM1284.40 568.00h4.30v38.70h-4.30zM1267.20 585.20h38.70v4.30h-38.70zM1280.10 580.90h12.90v12.90h-12.90zM1275.80 576.60h4.30v4.30h-4.30zM1293.00 576.60h4.30v4.30h-4.30zM1275.80 593.80h4.30v4.30h-4.30zM1293.00 593.80h4.30v4.30h-4.30zM1297.30 563.70h4.30v38.70h-4.30zM1280.10 580.90h38.70v4.30h-38.70zM1293.00 576.60h12.90v12.90h-12.90zM1288.70 572.30h4.30v4.30h-4.30zM1305.90 572.30h4.30v4.30h-4.30zM1288.70 589.50h4.30v4.30h-4.30zM1305.90 589.50h4.30v4.30h-4.30zM1305.90 555.10h4.30v38.70h-4.30zM1288.70 572.30h38.70v4.30h-38.70zM1301.60 568.00h12.90v12.90h-12.90zM1297.30 563.70h4.30v4.30h-4.30zM1314.50 563.70h4.30v4.30h-4.30zM1297.30 580.90h4.30v4.30h-4.30zM1314.50 580.90h4.30v4.30h-4.30zM1318.80 546.50h4.30v38.70h-4.30zM1301.60 563.70h38.70v4.30h-38.70zM1314.50 559.40h12.90v12.90h-12.90zM1310.20 555.10h4.30v4.30h-4.30zM1327.40 555.10h4.30v4.30h-4.30zM1310.20 572.30h4.30v4.30h-4.30zM1327.40 572.30h4.30v4.30h-4.30zM1331.70 537.90h4.30v38.70h-4.30zM1314.50 555.10h38.70v4.30h-38.70zM1327.40 550.80h12.90v12.90h-12.90zM1323.10 546.50h4.30v4.30h-4.30zM1340.30 546.50h4.30v4.30h-4.30zM1323.10 563.70h4.30v4.30h-4.30zM1340.30 563.70h4.30v4.30h-4.30zM1340.30 529.30h4.30v38.70h-4.30zM1323.10 546.50h38.70v4.30h-38.70zM1336.00 542.20h12.90v12.90h-12.90zM1331.70 537.90h4.30v4.30h-4.30zM1348.90 537.90h4.30v4.30h-4.30zM1331.70 555.10h4.30v4.30h-4.30zM1348.90 555.10h4.30v4.30h-4.30zM1353.20 520.70h4.30v38.70h-4.30zM1336.00 537.90h38.70v4.30h-38.70zM1348.90 533.60h12.90v12.90h-12.90zM1344.60 529.30h4.30v4.30h-4.30zM1361.80 529.30h4.30v4.30h-4.30zM1344.60 546.50h4.30v4.30h-4.30zM1361.80 546.50h4.30v4.30h-4.30zM1366.10 516.40h4.30v38.70h-4.30zM1348.90 533.60h38.70v4.30h-38.70zM1361.80 529.30h12.90v12.90h-12.90zM1357.50 525.00h4.30v4.30h-4.30zM1374.70 525.00h4.30v4.30h-4.30zM1357.50 542.20h4.30v4.30h-4.30zM1374.70 542.20h4.30v4.30h-4.30zM1374.70 507.80h4.30v38.70h-4.30zM1357.50 525.00h38.70v4.30h-38.70zM1370.40 520.70h12.90v12.90h-12.90zM1366.10 516.40h4.30v4.30h-4.30zM1383.30 516.40h4.30v4.30h-4.30zM1366.10 533.60h4.30v4.30h-4.30zM1383.30 533.60h4.30v4.30h-4.30zM1387.60 499.20h4.30v38.70h-4.30zM1370.40 516.40h38.70v4.30h-38.70zM1383.30 512.10h12.90v12.90h-12.90zM1379.00 507.80h4.30v4.30h-4.30zM1396.20 507.80h4.30v4.30h-4.30zM1379.00 525.00h4.30v4.30h-4.30zM1396.20 525.00h4.30v4.30h-4.30zM1396.20 490.60h4.30v38.70h-4.30zM1379.00 507.80h38.70v4.30h-38.70zM1391.90 503.50h12.90v12.90h-12.90zM1387.60 499.20h4.30v4.30h-4.30zM1404.80 499.20h4.30v4.30h-4.30zM1387.60 516.40h4.30v4.30h-4.30zM1404.80 516.40h4.30v4.30h-4.30zM1409.10 482.00h4.30v38.70h-4.30zM1391.90 499.20h38.70v4.30h-38.70zM1404.80 494.90h12.90v12.90h-12.90zM1400.50 490.60h4.30v4.30h-4.30zM1417.70 490.60h4.30v4.30h-4.30zM1400.50 507.80h4.30v4.30h-4.30zM1417.70 507.80h4.30v4.30h-4.30zM1422.00 473.40h4.30v38.70h-4.30zM1404.80 490.60h38.70v4.30h-38.70zM1417.70 486.30h12.90v12.90h-12.90zM1413.40 482.00h4.30v4.30h-4.30zM1430.60 482.00h4.30v4.30h-4.30zM1413.40 499.20h4.30v4.30h-4.30zM1430.60 499.20h4.30v4.30h-4.30zM1430.60 469.10h4.30v38.70h-4.30zM1413.40 486.30h38.70v4.30h-38.70zM1426.30 482.00h12.90v12.90h-12.90zM1422.00 477.70h4.30v4.30h-4.30zM1439.20 477.70h4.30v4.30h-4.30zM1422.00 494.90h4.30v4.30h-4.30zM1439.20 494.90h4.30v4.30h-4.30zM1443.50 460.50h4.30v38.70h-4.30zM1426.30 477.70h38.70v4.30h-38.70zM1439.20 473.40h12.90v12.90h-12.90zM1434.90 469.10h4.30v4.30h-4.30zM1452.10 469.10h4.30v4.30h-4.30zM1434.90 486.30h4.30v4.30h-4.30zM1452.10 486.30h4.30v4.30h-4.30zM1452.10 451.90h4.30v38.70h-4.30zM1434.90 469.10h38.70v4.30h-38.70zM1447.80 464.80h12.90v12.90h-12.90zM1443.50 460.50h4.30v4.30h-4.30zM1460.70 460.50h4.30v4.30h-4.30zM1443.50 477.70h4.30v4.30h-4.30zM1460.70 477.70h4.30v4.30h-4.30zM1465.00 443.30h4.30v38.70h-4.30zM1447.80 460.50h38.70v4.30h-38.70zM1460.70 456.20h12.90v12.90h-12.90zM1456.40 451.90h4.30v4.30h-4.30zM1473.60 451.90h4.30v4.30h-4.30zM1456.40 469.10h4.30v4.30h-4.30zM1473.60 469.10h4.30v4.30h-4.30zM1477.90 439.00h4.30v38.70h-4.30zM1460.70 456.20h38.70v4.30h-38.70zM1473.60 451.90h12.90v12.90h-12.90zM1469.30 447.60h4.30v4.30h-4.30zM1486.50 447.60h4.30v4.30h-4.30zM1469.30 464.80h4.30v4.30h-4.30zM1486.50 464.80h4.30v4.30h-4.30zM1486.50 430.40h4.30v38.70h-4.30zM1469.30 447.60h38.70v4.30h-38.70zM1482.20 443.30h12.90v12.90h-12.90zM1477.90 439.00h4.30v4.30h-4.30zM1495.10 439.00h4.30v4.30h-4.30zM1477.90 456.20h4.30v4.30h-4.30zM1495.10 456.20h4.30v4.30h-4.30zM1499.40 421.80h4.30v38.70h-4.30zM1482.20 439.00h38.70v4.30h-38.70zM1495.10 434.70h12.90v12.90h-12.90zM1490.80 430.40h4.30v4.30h-4.30zM1508.00 430.40h4.30v4.30h-4.30zM1490.80 447.60h4.30v4.30h-4.30zM1508.00 447.60h4.30v4.30h-4.30zM1508.00 413.20h4.30v38.70h-4.30zM1490.80 430.40h38.70v4.30h-38.70zM1503.70 426.10h12.90v12.90h-12.90zM1499.40 421.80h4.30v4.30h-4.30zM1516.60 421.80h4.30v4.30h-4.30zM1499.40 439.00h4.30v4.30h-4.30zM1516.60 439.00h4.30v4.30h-4.30zM1520.90 408.90h4.30v38.70h-4.30zM1503.70 426.10h38.70v4.30h-38.70zM1516.60 421.80h12.90v12.90h-12.90zM1512.30 417.50h4.30v4.30h-4.30zM1529.50 417.50h4.30v4.30h-4.30zM1512.30 434.70h4.30v4.30h-4.30zM1529.50 434.70h4.30v4.30h-4.30zM1533.80 400.30h4.30v38.70h-4.30zM1516.60 417.50h38.70v4.30h-38.70zM1529.50 413.20h12.90v12.90h-12.90zM1525.20 408.90h4.30v4.30h-4.30zM1542.40 408.90h4.30v4.30h-4.30zM1525.20 426.10h4.30v4.30h-4.30zM1542.40 426.10h4.30v4.30h-4.30zM1542.40 391.70h4.30v38.70h-4.30zM1525.20 408.90h38.70v4.30h-38.70zM1538.10 404.60h12.90v12.90h-12.90zM1533.80 400.30h4.30v4.30h-4.30zM1551.00 400.30h4.30v4.30h-4.30zM1533.80 417.50h4.30v4.30h-4.30zM1551.00 417.50h4.30v4.30h-4.30zM1555.30 383.10h4.30v38.70h-4.30zM1538.10 400.30h38.70v4.30h-38.70zM1551.00 396.00h12.90v12.90h-12.90zM1546.70 391.70h4.30v4.30h-4.30zM1563.90 391.70h4.30v4.30h-4.30zM1546.70 408.90h4.30v4.30h-4.30zM1563.90 408.90h4.30v4.30h-4.30zM1568.20 378.80h4.30v38.70h-4.30zM1551.00 396.00h38.70v4.30h-38.70zM1563.90 391.70h12.90v12.90h-12.90zM1559.60 387.40h4.30v4.30h-4.30zM1576.80 387.40h4.30v4.30h-4.30zM1559.60 404.60h4.30v4.30h-4.30zM1576.80 404.60h4.30v4.30h-4.30zM1576.80 370.20h4.30v38.70h-4.30zM1559.60 387.40h38.70v4.30h-38.70zM1572.50 383.10h12.90v12.90h-12.90zM1568.20 378.80h4.30v4.30h-4.30zM1585.40 378.80h4.30v4.30h-4.30zM1568.20 396.00h4.30v4.30h-4.30zM1585.40 396.00h4.30v4.30h-4.30zM1589.70 361.60h4.30v38.70h-4.30zM1572.50 378.80h38.70v4.30h-38.70zM1585.40 374.50h12.90v12.90h-12.90zM1581.10 370.20h4.30v4.30h-4.30zM1598.30 370.20h4.30v4.30h-4.30zM1581.10 387.40h4.30v4.30h-4.30zM1598.30 387.40h4.30v4.30h-4.30zM1598.30 353.00h4.30v38.70h-4.30zM1581.10 370.20h38.70v4.30h-38.70zM1594.00 365.90h12.90v12.90h-12.90zM1589.70 361.60h4.30v4.30h-4.30zM1606.90 361.60h4.30v4.30h-4.30zM1589.70 378.80h4.30v4.30h-4.30zM1606.90 378.80h4.30v4.30h-4.30zM1611.20 348.70h4.30v38.70h-4.30zM1594.00 365.90h38.70v4.30h-38.70zM1606.90 361.60h12.90v12.90h-12.90zM1602.60 357.30h4.30v4.30h-4.30zM1619.80 357.30h4.30v4.30h-4.30zM1602.60 374.50h4.30v4.30h-4.30zM1619.80 374.50h4.30v4.30h-4.30zM1624.10 340.10h4.30v38.70h-4.30zM1606.90 357.30h38.70v4.30h-38.70zM1619.80 353.00h12.90v12.90h-12.90zM1615.50 348.70h4.30v4.30h-4.30zM1632.70 348.70h4.30v4.30h-4.30zM1615.50 365.90h4.30v4.30h-4.30zM1632.70 365.90h4.30v4.30h-4.30zM1632.70 331.50h4.30v38.70h-4.30zM1615.50 348.70h38.70v4.30h-38.70zM1628.40 344.40h12.90v12.90h-12.90zM1624.10 340.10h4.30v4.30h-4.30zM1641.30 340.10h4.30v4.30h-4.30zM1624.10 357.30h4.30v4.30h-4.30zM1641.30 357.30h4.30v4.30h-4.30zM1645.60 322.90h4.30v38.70h-4.30zM1628.40 340.10h38.70v4.30h-38.70zM1641.30 335.80h12.90v12.90h-12.90zM1637.00 331.50h4.30v4.30h-4.30zM1654.20 331.50h4.30v4.30h-4.30zM1637.00 348.70h4.30v4.30h-4.30zM1654.20 348.70h4.30v4.30h-4.30zM1654.20 314.30h4.30v38.70h-4.30zM1637.00 331.50h38.70v4.30h-38.70zM1649.90 327.20h12.90v12.90h-12.90zM1645.60 322.90h4.30v4.30h-4.30zM1662.80 322.90h4.30v4.30h-4.30zM1645.60 340.10h4.30v4.30h-4.30zM1662.80 340.10h4.30v4.30h-4.30zM1667.10 310.00h4.30v38.70h-4.30zM1649.90 327.20h38.70v4.30h-38.70zM1662.80 322.90h12.90v12.90h-12.90zM1658.50 318.60h4.30v4.30h-4.30zM1675.70 318.60h4.30v4.30h-4.30zM1658.50 335.80h4.30v4.30h-4.30zM1675.70 335.80h4.30v4.30h-4.30zM1680.00 301.40h4.30v38.70h-4.30zM1662.80 318.60h38.70v4.30h-38.70zM1675.70 314.30h12.90v12.90h-12.90zM1671.40 310.00h4.30v4.30h-4.30zM1688.60 310.00h4.30v4.30h-4.30zM1671.40 327.20h4.30v4.30h-4.30zM1688.60 327.20h4.30v4.30h-4.30zM1688.60 292.80h4.30v38.70h-4.30zM1671.40 310.00h38.70v4.30h-38.70zM1684.30 305.70h12.90v12.90h-12.90zM1680.00 301.40h4.30v4.30h-4.30zM1697.20 301.40h4.30v4.30h-4.30zM1680.00 318.60h4.30v4.30h-4.30zM1697.20 318.60h4.30v4.30h-4.30zM1701.50 284.20h4.30v38.70h-4.30zM1684.30 301.40h38.70v4.30h-38.70zM1697.20 297.10h12.90v12.90h-12.90zM1692.90 292.80h4.30v4.30h-4.30zM1710.10 292.80h4.30v4.30h-4.30zM1692.90 310.00h4.30v4.30h-4.30zM1710.10 310.00h4.30v4.30h-4.30zM1710.10 275.60h4.30v38.70h-4.30zM1692.90 292.80h38.70v4.30h-38.70zM1705.80 288.50h12.90v12.90h-12.90zM1701.50 284.20h4.30v4.30h-4.30zM1718.70 284.20h4.30v4.30h-4.30zM1701.50 301.40h4.30v4.30h-4.30zM1718.70 301.40h4.30v4.30h-4.30zM1723.00 271.30h4.30v38.70h-4.30zM1705.80 288.50h38.70v4.30h-38.70zM1718.70 284.20h12.90v12.90h-12.90zM1714.40 279.90h4.30v4.30h-4.30zM1731.60 279.90h4.30v4.30h-4.30zM1714.40 297.10h4.30v4.30h-4.30zM1731.60 297.10h4.30v4.30h-4.30zM1735.90 262.70h4.30v38.70h-4.30zM1718.70 279.90h38.70v4.30h-38.70zM1731.60 275.60h12.90v12.90h-12.90zM1727.30 271.30h4.30v4.30h-4.30zM1744.50 271.30h4.30v4.30h-4.30zM1727.30 288.50h4.30v4.30h-4.30zM1744.50 288.50h4.30v4.30h-4.30zM1744.50 254.10h4.30v38.70h-4.30zM1727.30 271.30h38.70v4.30h-38.70zM1740.20 267.00h12.90v12.90h-12.90zM1735.90 262.70h4.30v4.30h-4.30zM1753.10 262.70h4.30v4.30h-4.30zM1735.90 279.90h4.30v4.30h-4.30zM1753.10 279.90h4.30v4.30h-4.30zM1757.40 245.50h4.30v38.70h-4.30zM1740.20 262.70h38.70v4.30h-38.70zM1753.10 258.40h12.90v12.90h-12.90zM1748.80 254.10h4.30v4.30h-4.30zM1766.00 254.10h4.30v4.30h-4.30zM1748.80 271.30h4.30v4.30h-4.30zM1766.00 271.30h4.30v4.30h-4.30zM1766.00 236.90h4.30v38.70h-4.30zM1748.80 254.10h38.70v4.30h-38.70zM1761.70 249.80h12.90v12.90h-12.90zM1757.40 245.50h4.30v4.30h-4.30zM1774.60 245.50h4.30v4.30h-4.30zM1757.40 262.70h4.30v4.30h-4.30zM1774.60 262.70h4.30v4.30h-4.30zM1778.90 232.60h4.30v38.70h-4.30zM1761.70 249.80h38.70v4.30h-38.70zM1774.60 245.50h12.90v12.90h-12.90zM1770.30 241.20h4.30v4.30h-4.30zM1787.50 241.20h4.30v4.30h-4.30zM1770.30 258.40h4.30v4.30h-4.30zM1787.50 258.40h4.30v4.30h-4.30zM1791.80 224.00h4.30v38.70h-4.30zM1774.60 241.20h38.70v4.30h-38.70zM1787.50 236.90h12.90v12.90h-12.90zM1783.20 232.60h4.30v4.30h-4.30zM1800.40 232.60h4.30v4.30h-4.30zM1783.20 249.80h4.30v4.30h-4.30zM1800.40 249.80h4.30v4.30h-4.30zM1800.40 215.40h4.30v38.70h-4.30zM1783.20 232.60h38.70v4.30h-38.70zM1796.10 228.30h12.90v12.90h-12.90zM1791.80 224.00h4.30v4.30h-4.30zM1809.00 224.00h4.30v4.30h-4.30zM1791.80 241.20h4.30v4.30h-4.30zM1809.00 241.20h4.30v4.30h-4.30zM1813.30 206.80h4.30v38.70h-4.30zM1796.10 224.00h38.70v4.30h-38.70zM1809.00 219.70h12.90v12.90h-12.90zM1804.70 215.40h4.30v4.30h-4.30zM1821.90 215.40h4.30v4.30h-4.30zM1804.70 232.60h4.30v4.30h-4.30zM1821.90 232.60h4.30v4.30h-4.30zM1826.20 198.20h4.30v38.70h-4.30zM1809.00 215.40h38.70v4.30h-38.70zM1821.90 211.10h12.90v12.90h-12.90zM1817.60 206.80h4.30v4.30h-4.30zM1834.80 206.80h4.30v4.30h-4.30zM1817.60 224.00h4.30v4.30h-4.30zM1834.80 224.00h4.30v4.30h-4.30zM1834.80 189.60h4.30v38.70h-4.30zM1817.60 206.80h38.70v4.30h-38.70zM1830.50 202.50h12.90v12.90h-12.90zM1826.20 198.20h4.30v4.30h-4.30zM1843.40 198.20h4.30v4.30h-4.30zM1826.20 215.40h4.30v4.30h-4.30zM1843.40 215.40h4.30v4.30h-4.30zM1847.70 181.00h4.30v38.70h-4.30zM1830.50 198.20h38.70v4.30h-38.70zM1843.40 193.90h12.90v12.90h-12.90zM1839.10 189.60h4.30v4.30h-4.30zM1856.30 189.60h4.30v4.30h-4.30zM1839.10 206.80h4.30v4.30h-4.30zM1856.30 206.80h4.30v4.30h-4.30zM1856.30 172.40h4.30v38.70h-4.30zM1839.10 189.60h38.70v4.30h-38.70zM1852.00 185.30h12.90v12.90h-12.90zM1847.70 181.00h4.30v4.30h-4.30zM1864.90 181.00h4.30v4.30h-4.30zM1847.70 198.20h4.30v4.30h-4.30zM1864.90 198.20h4.30v4.30h-4.30zM1869.20 163.80h4.30v38.70h-4.30zM1852.00 181.00h38.70v4.30h-38.70zM1864.90 176.70h12.90v12.90h-12.90zM1860.60 172.40h4.30v4.30h-4.30zM1877.80 172.40h4.30v4.30h-4.30zM1860.60 189.60h4.30v4.30h-4.30zM1877.80 189.60h4.30v4.30h-4.30zM1882.10 155.20h4.30v38.70h-4.30zM1864.90 172.40h38.70v4.30h-38.70zM1877.80 168.10h12.90v12.90h-12.90zM1873.50 163.80h4.30v4.30h-4.30zM1890.70 163.80h4.30v4.30h-4.30zM1873.50 181.00h4.30v4.30h-4.30zM1890.70 181.00h4.30v4.30h-4.30zM1890.70 146.60h4.30v38.70h-4.30zM1873.50 163.80h38.70v4.30h-38.70zM1886.40 159.50h12.90v12.90h-12.90zM1882.10 155.20h4.30v4.30h-4.30zM1899.30 155.20h4.30v4.30h-4.30zM1882.10 172.40h4.30v4.30h-4.30zM1899.30 172.40h4.30v4.30h-4.30zM1903.60 142.30h4.30v38.70h-4.30zM1886.40 159.50h38.70v4.30h-38.70zM1899.30 155.20h12.90v12.90h-12.90zM1895.00 150.90h4.30v4.30h-4.30zM1912.20 150.90h4.30v4.30h-4.30zM1895.00 168.10h4.30v4.30h-4.30zM1912.20 168.10h4.30v4.30h-4.30zM1912.20 133.70h4.30v38.70h-4.30zM1895.00 150.90h38.70v4.30h-38.70zM1907.90 146.60h12.90v12.90h-12.90zM1903.60 142.30h4.30v4.30h-4.30zM1920.80 142.30h4.30v4.30h-4.30zM1903.60 159.50h4.30v4.30h-4.30zM1920.80 159.50h4.30v4.30h-4.30zM1925.10 125.10h4.30v38.70h-4.30zM1907.90 142.30h38.70v4.30h-38.70zM1920.80 138.00h12.90v12.90h-12.90zM1916.50 133.70h4.30v4.30h-4.30zM1933.70 133.70h4.30v4.30h-4.30zM1916.50 150.90h4.30v4.30h-4.30zM1933.70 150.90h4.30v4.30h-4.30z" fill="#ff0000" shape-rendering="crispEdges"/>
<polyline points="255.0,1371.8 266.2,1363.2 277.4,1354.6 288.7,1346.0 299.9,1337.4 311.1,1328.7 322.3,1320.1 333.6,1311.4 344.8,1302.7 356.0,1294.0 367.2,1285.5 378.5,1276.9 389.7,1268.3 400.9,1259.8 412.1,1251.3 423.4,1242.9 434.6,1234.5 445.8,1226.2 457.0,1218.0 468.3,1209.8 479.5,1201.7 490.7,1193.6 501.9,1185.6 513.2,1177.5 524.4,1169.5 535.6,1161.5 546.8,1153.5 558.1,1145.6 569.3,1137.6 580.5,1129.6 591.7,1121.6 602.9,1113.7 614.2,1105.7 625.4,1097.7 636.6,1089.7 647.8,1081.7 659.1,1073.7 670.3,1065.7 681.5,1057.7 692.7,1049.7 704.0,1041.6 715.2,1033.5 726.4,1025.3 737.6,1017.1 748.9,1008.8 760.1,1000.5 771.3,992.1 782.5,983.6 793.8,975.1 805.0,966.5 816.2,958.0 827.4,949.4 838.7,941.0 849.9,932.5 861.1,924.1 872.3,915.8 883.6,907.6 894.8,899.6 906.0,891.8 917.2,884.0 928.4,876.3 939.7,868.5 950.9,860.7 962.1,852.9 973.3,845.1 984.6,837.1 995.8,828.9 1007.0,820.6 1018.2,812.2 1029.5,804.0 1040.7,795.9 1051.9,787.7 1063.1,779.3 1074.4,770.9 1085.6,762.3 1096.8,753.8 1108.0,745.3 1119.3,736.8 1130.5,728.3 1141.7,719.6 1152.9,711.0 1164.2,702.6 1175.4,694.4 1186.6,686.4 1197.8,678.3 1209.1,670.3 1220.3,662.2 1231.5,654.1 1242.7,646.1 1254.0,638.0 1265.2,630.0 1276.4,621.9 1287.6,613.9 1298.8,605.9 1310.1,597.8 1321.3,589.8 1332.5,581.7 1343.7,573.7 1355.0,565.6 1366.2,557.6 1377.4,549.5 1388.6,541.5 1399.9,533.4 1411.1,525.3 1422.3,517.2 1433.5,509.0 1444.8,500.9 1456.0,492.7 1467.2,484.5 1478.4,476.3 1489.7,468.1 1500.9,459.9 1512.1,451.7 1523.3,443.5 1534.6,435.3 1545.8,427.1 1557.0,418.9 1568.2,410.7 1579.5,402.6 1590.7,394.4 1601.9,386.2 1613.1,378.0 1624.3,369.9 1635.6,361.7 1646.8,353.6 1658.0,345.4 1669.2,337.3 1680.5,329.1 1691.7,321.0 1702.9,312.8 1714.1,304.7 1725.4,296.5 1736.6,288.4 1747.8,280.1 1759.0,271.8 1770.3,263.4 1781.5,255.0 1792.7,246.4 1803.9,237.8 1815.2,229.1 1826.4,220.4 1837.6,211.7 1848.8,203.1 1860.1,194.6 1871.3,186.1 1882.5,177.7 1893.7,169.4 1905.0,161.1 1916.2,152.9 1927.4,144.8" fill="none" stroke="#0000ff" stroke-width="4.3" stroke-linejoin="round" shape-rendering="crispEdges"/>
<path d="M248.10 1350.60h12.90v4.30h-12.90zM239.50 1354.90h8.60v4.30h-8.60zM261.00 1354.90h8.60v4.30h-8.60zM239.50 1359.20h4.30v4.30h-4.30zM265.30 1359.20h4.30v4.30h-4.30zM235.20 1363.50h4.30v12.90h-4.30zM269.60 1363.50h4.30v12.90h-4.30zM239.50 1376.40h4.30v4.30h-4.30zM265.30 1376.40h4.30v4.30h-4.30zM239.50 1380.70h8.60v4.30h-8.60zM261.00 1380.70h8.60v4.30h-8.60zM248.10 1385.00h12.90v4.30h-12.90zM261.00 1342.00h12.90v4.30h-12.90zM252.40 1346.30h8.60v4.30h-8.60zM273.90 1346.30h8.60v4.30h-8.60zM252.40 1350.60h4.30v4.30h-4.30zM278.20 1350.60h4.30v4.30h-4.30zM248.10 1354.90h4.30v12.90h-4.30zM282.50 1354.90h4.30v12.90h-4.30zM252.40 1367.80h4.30v4.30h-4.30zM278.20 1367.80h4.30v4.30h-4.30zM252.40 1372.10h8.60v4.30h-8.60zM273.90 1372.10h8.60v4.30h-8.60zM261.00 1376.40h12.90v4.30h-12.90zM269.60 1333.40h12.90v4.30h-12.90zM261.00 1337.70h8.60v4.30h-8.60zM282.50 1337.70h8.60v4.30h-8.60zM261.00 1342.00h4.30v4.30h-4.30zM286.80 1342.00h4.30v4.30h-4.30zM256.70 1346.30h4.30v12.90h-4.30zM291.10 1346.30h4.30v12.90h-4.30zM261.00 1359.20h4.30v4.30h-4.30zM286.80 1359.20h4.30v4.30h-4.30zM261.00 1363.50h8.60v4.30h-8.60zM282.50 1363.50h8.60v4.30h-8.60zM269.60 1367.80h12.90v4.30h-12.90zM282.50 1324.80h12.90v4.30h-12.90zM273.90 1329.10h8.60v4.30h-8.60zM295.40 1329.10h8.60v4.30h-8.60zM273.90 1333.40h4.30v4.30h-4.30zM299.70 1333.40h4.30v4.30h-4.30zM269.60 1337.70h4.30v12.90h-4.30zM304.00 1337.70h4.30v12.90h-4.30zM273.90 1350.60h4.30v4.30h-4.30zM299.70 1350.60h4.30v4.30h-4.30zM273.90 1354.90h8.60v4.30h-8.60zM295.40 1354.90h8.60v4.30h-8.60zM282.50 1359.20h12.90v4.30h-12.90zM295.40 1316.20h12.90v4.30h-12.90zM286.80 1320.50h8.60v4.30h-8.60zM308.30 1320.50h8.60v4.30h-8.60zM286.80 1324.80h4.30v4.30h-4.30zM312.60 1324.80h4.30v4.30h-4.30zM282.50 1329.10h4.30v12.90h-4.30zM316.90 1329.10h4.30v12.90h-4.30zM286.80 1342.00h4.30v4.30h-4.30zM312.60 1342.00h4.30v4.30h-4.30zM286.80 1346.30h8.60v4.30h-8.60zM308.30 1346.30h8.60v4.30h-8.60zM295.40 1350.60h12.90v4.30h-12.90zM304.00 1307.60h12.90v4.30h-12.90zM295.40 1311.90h8.60v4.30h-8.60zM316.90 1311.90h8.60v4.30h-8.60zM295.40 1316.20h4.30v4.30h-4.30zM321.20 1316.20h4.30v4.30h-4.30zM291.10 1320.50h4.30v12.90h-4.30zM325.50 1320.50h4.30v12.90h-4.30zM295.40 1333.40h4.30v4.30h-4.30zM321.20 1333.40h4.30v4.30h-4.30zM295.40 1337.70h8.60v4.30h-8.60zM316.90 1337.70h8.60v4.30h-8.60zM304.00 1342.00h12.90v4.30h-12.90zM316.90 1299.00h12.90v4.30h-12.90zM308.30 1303.30h8.60v4.30h-8.60zM329.80 1303.30h8.60v4.30h-8.60zM308.30 1307.60h4.30v4.30h-4.30zM334.10 1307.60h4.30v4.30h-4.30zM304.00 1311.90h4.30v12.90h-4.30zM338.40 1311.90h4.30v12.90h-4.30zM308.30 1324.80h4.30v4.30h-4.30zM334.10 1324.80h4.30v4.30h-4.30zM308.30 1329.10h8.60v4.30h-8.60zM329.80 1329.10h8.60v4.30h-8.60zM316.90 1333.40h12.90v4.30h-12.90zM325.50 1290.40h12.90v4.30h-12.90zM316.90 1294.70h8.60v4.30h-8.60zM338.40 1294.70h8.60v4.30h-8.60zM316.90 1299.00h4.30v4.30h-4.30zM342.70 1299.00h4.30v4.30h-4.30zM312.60 1303.30h4.30v12.90h-4.30zM347.00 1303.30h4.30v12.90h-4.30zM316.90 1316.20h4.30v4.30h-4.30zM342.70 1316.20h4.30v4.30h-4.30zM316.90 1320.50h8.60v4.30h-8.60zM338.40 1320.50h8.60v4.30h-8.60zM325.50 1324.80h12.90v4.30h-12.90zM338.40 1281.80h12.90v4.30h-12.90zM329.80 1286.10h8.60v4.30h-8.60zM351.30 1286.10h8.60v4.30h-8.60zM329.80 1290.40h4.30v4.30h-4.30zM355.60 1290.40h4.30v4.30h-4.30zM325.50 1294.70h4.30v12.90h-4.30zM359.90 1294.70h4.30v12.90h-4.30zM329.80 1307.60h4.30v4.30h-4.30zM355.60 1307.60h4.30v4.30h-4.30zM329.80 1311.90h8.60v4.30h-8.60zM351.30 1311.90h8.60v4.30h-8.60zM338.40 1316.20h12.90v4.30h-12.90zM351.30 1273.20h12.90v4.30h-12.90zM342.70 1277.50h8.60v4.30h-8.60zM364.20 1277.50h8.60v4.30h-8.60zM342.70 1281.80h4.30v4.30h-4.30zM368.50 1281.80h4.30v4.30h-4.30zM338.40 1286.10h4.30v12.90h-4.30zM372.80 1286.10h4.30v12.90h-4.30zM342.70 1299.00h4.30v4.30h-4.30zM368.50 1299.00h4.30v4.30h-4.30zM342.70 1303.30h8.60v4.30h-8.60zM364.20 1303.30h8.60v4.30h-8.60zM351.30 1307.60h12.90v4.30h-12.90zM359.90 1264.60h12.90v4.30h-12.90zM351.30 1268.90h8.60v4.30h-8.60zM372.80 1268.90h8.60v4.30h-8.60zM351.30 1273.20h4.30v4.30h-4.30zM377.10 1273.20h4.30v4.30h-4.30zM347.00 1277.50h4.30v12.90h-4.30zM381.40 1277.50h4.30v12.90h-4.30zM351.30 1290.40h4.30v4.30h-4.30zM377.10 1290.40h4.30v4.30h-4.30zM351.30 1294.70h8.60v4.30h-8.60zM372.80 1294.70h8.60v4.30h-8.60zM359.90 1299.00h12.90v4.30h-12.90zM372.80 1256.00h12.90v4.30h-12.90zM364.20 1260.30h8.60v4.30h-8.60zM385.70 1260.30h8.60v4.30h-8.60zM364.20 1264.60h4.30v4.30h-4.30zM390.00 1264.60h4.30v4.30h-4.30zM359.90 1268.90h4.30v12.90h-4.30zM394.30 1268.90h4.30v12.90h-4.30zM364.20 1281.80h4.30v4.30h-4.30zM390.00 1281.80h4.30v4.30h-4.30zM364.20 1286.10h8.60v4.30h-8.60zM385.70 1286.10h8.60v4.30h-8.60zM372.80 1290.40h12.90v4.30h-12.90zM381.40 1247.40h12.90v4.30h-12.90zM372.80 1251.70h8.60v4.30h-8.60zM394.30 1251.70h8.60v4.30h-8.60zM372.80 1256.00h4.30v4.30h-4.30zM398.60 1256.00h4.30v4.30h-4.30zM368.50 1260.30h4.30v12.90h-4.30zM402.90 1260.30h4.30v12.90h-4.30zM372.80 1273.20h4.30v4.30h-4.30zM398.60 1273.20h4.30v4.30h-4.30zM372.80 1277.50h8.60v4.30h-8.60zM394.30 1277.50h8.60v4.30h-8.60zM381.40 1281.80h12.90v4.30h-12.90zM394.30 1238.80h12.90v4.30h-12.90zM385.70 1243.10h8.60v4.30h-8.60zM407.20 1243.10h8.60v4.30h-8.60zM385.70 1247.40h4.30v4.30h-4.30zM411.50 1247.40h4.30v4.30h-4.30zM381.40 1251.70h4.30v12.90h-4.30zM415.80 1251.70h4.30v12.90h-4.30zM385.70 1264.60h4.30v4.30h-4.30zM411.50 1264.60h4.30v4.30h-4.30zM385.70 1268.90h8.60v4.30h-8.60zM407.20 1268.90h8.60v4.30h-8.60zM394.30 1273.20h12.90v4.30h-12.90zM407.20 1230.20h12.90v4.30h-12.90zM398.60 1234.50h8.60v4.30h-8.60zM420.10 1234.50h8.60v4.30h-8.60zM398.60 1238.80h4.30v4.30h-4.30zM424.40 1238.80h4.30v4.30h-4.30zM394.30 1243.10h4.30v12.90h-4.30zM428.70 1243.10h4.30v12.90h-4.30zM398.60 1256.00h4.30v4.30h-4.30zM424.40 1256.00h4.30v4.30h-4.30zM398.60 1260.30h8.60v4.30h-8.60zM420.10 1260.30h8.60v4.30h-8.60zM407.20 1264.60h12.90v4.30h-12.90zM415.80 1221.60h12.90v4.30h-12.90zM407.20 1225.90h8.60v4.30h-8.60zM428.70 1225.90h8.60v4.30h-8.60zM407.20 1230.20h4.30v4.30h-4.30zM433.00 1230.20h4.30v4.30h-4.30zM402.90 1234.50h4.30v12.90h-4.30zM437.30 1234.50h4.30v12.90h-4.30zM407.20 1247.40h4.30v4.30h-4.30zM433.00 1247.40h4.30v4.30h-4.30zM407.20 1251.70h8.60v4.30h-8.60zM428.70 1251.70h8.60v4.30h-8.60zM415.80 1256.00h12.90v4.30h-12.90zM428.70 1217.30h12.90v4.30h-12.90zM420.10 1221.60h8.60v4.30h-8.60zM441.60 1221.60h8.60v4.30h-8.60zM420.10 1225.90h4.30v4.30h-4.30zM445.90 1225.90h4.30v4.30h-4.30zM415.80 1230.20h4.30v12.90h-4.30zM450.20 1230.20h4.30v12.90h-4.30zM420.10 1243.10h4.30v4.30h-4.30zM445.90 1243.10h4.30v4.30h-4.30zM420.10 1247.40h8.60v4.30h-8.60zM441.60 1247.40h8.60v4.30h-8.60zM428.70 1251.70h12.90v4.30h-12.90zM437.30 1208.70h12.90v4.30h-12.90zM428.70 1213.00h8.60v4.30h-8.60zM450.20 1213.00h8.60v4.30h-8.60zM428.70 1217.30h4.30v4.30h-4.30zM454.50 1217.30h4.30v4.30h-4.30zM424.40 1221.60h4.30v12.90h-4.30zM458.80 1221.60h4.30v12.90h-4.30zM428.70 1234.50h4.30v4.30h-4.30zM454.50 1234.50h4.30v4.30h-4.30zM428.70 1238.80h8.60v4.30h-8.60zM450.20 1238.80h8.60v4.30h-8.60zM437.30 1243.10h12.90v4.30h-12.90zM450.20 1200.10h12.90v4.30h-12.90zM441.60 1204.40h8.60v4.30h-8.60zM463.10 1204.40h8.60v4.30h-8.60zM441.60 1208.70h4.30v4.30h-4.30zM467.40 1208.70h4.30v4.30h-4.30zM437.30 1213.00h4.30v12.90h-4.30zM471.70 1213.00h4.30v12.90h-4.30zM441.60 1225.90h4.30v4.30h-4.30zM467.40 1225.90h4.30v4.30h-4.30zM441.60 1230.20h8.60v4.30h-8.60zM463.10 1230.20h8.60v4.30h-8.60zM450.20 1234.50h12.90v4.30h-12.90zM463.10 1191.50h12.90v4.30h-12.90zM454.50 1195.80h8.60v4.30h-8.60zM476.00 1195.80h8.60v4.30h-8.60zM454.50 1200.10h4.30v4.30h-4.30zM480.30 1200.10h4.30v4.30h-4.30zM450.20 1204.40h4.30v12.90h-4.30zM484.60 1204.40h4.30v12.90h-4.30zM454.50 1217.30h4.30v4.30h-4.30zM480.30 1217.30h4.30v4.30h-4.30zM454.50 1221.60h8.60v4.30h-8.60zM476.00 1221.60h8.60v4.30h-8.60zM463.10 1225.90h12.90v4.30h-12.90zM471.70 1182.90h12.90v4.30h-12.90zM463.10 1187.20h8.60v4.30h-8.60zM484.60 1187.20h8.60v4.30h-8.60zM463.10 1191.50h4.30v4.30h-4.30zM488.90 1191.50h4.30v4.30h-4.30zM458.80 1195.80h4.30v12.90h-4.30zM493.20 1195.80h4.30v12.90h-4.30zM463.10 1208.70h4.30v4.30h-4.30zM488.90 1208.70h4.30v4.30h-4.30zM463.10 1213.00h8.60v4.30h-8.60zM484.60 1213.00h8.60v4.30h-8.60zM471.70 1217.30h12.90v4.30h-12.90zM484.60 1174.30h12.90v4.30h-12.90zM476.00 1178.60h8.60v4.30h-8.60zM497.50 1178.60h8.60v4.30h-8.60zM476.00 1182.90h4.30v4.30h-4.30zM501.80 1182.90h4.30v4.30h-4.30zM471.70 1187.20h4.30v12.90h-4.30zM506.10 1187.20h4.30v12.90h-4.30zM476.00 1200.10h4.30v4.30h-4.30zM501.80 1200.10h4.30v4.30h-4.30zM476.00 1204.40h8.60v4.30h-8.60zM497.50 1204.40h8.60v4.30h-8.60zM484.60 1208.70h12.90v4.30h-12.90zM497.50 1165.70h12.90v4.30h-12.90zM488.90 1170.00h8.60v4.30h-8.60zM510.40 1170.00h8.60v4.30h-8.60zM488.90 1174.30h4.30v4.30h-4.30zM514.70 1174.30h4.30v4.30h-4.30zM484.60 1178.60h4.30v12.90h-4.30zM519.00 1178.60h4.30v12.90h-4.30zM488.90 1191.50h4.30v4.30h-4.30zM514.70 1191.50h4.30v4.30h-4.30zM488.90 1195.80h8.60v4.30h-8.60zM510.40 1195.80h8.60v4.30h-8.60zM497.50 1200.10h12.90v4.30h-12.90zM506.10 1157.10h12.90v4.30h-12.90zM497.50 1161.40h8.60v4.30h-8.60zM519.00 1161.40h8.60v4.30h-8.60zM497.50 1165.70h4.30v4.30h-4.30zM523.30 1165.70h4.30v4.30h-4.30zM493.20 1170.00h4.30v12.90h-4.30zM527.60 1170.00h4.30v12.90h-4.30zM497.50 1182.90h4.30v4.30h-4.30zM523.30 1182.90h4.30v4.30h-4.30zM497.50 1187.20h8.60v4.30h-8.60zM519.00 1187.20h8.60v4.30h-8.60zM506.10 1191.50h12.90v4.30h-12.90zM519.00 1148.50h12.90v4.30h-12.90zM510.40 1152.80h8.60v4.30h-8.60zM531.90 1152.80h8.60v4.30h-8.60zM510.40 1157.10h4.30v4.30h-4.30zM536.20 1157.10h4.30v4.30h-4.30zM506.10 1161.40h4.30v12.90h-4.30zM540.50 1161.40h4.30v12.90h-4.30zM510.40 1174.30h4.30v4.30h-4.30zM536.20 1174.30h4.30v4.30h-4.30zM510.40 1178.60h8.60v4.30h-8.60zM531.90 1178.60h8.60v4.30h-8.60zM519.00 1182.90h12.90v4.30h-12.90zM527.60 1144.20h12.90v4.30h-12.90zM519.00 1148.50h8.60v4.30h-8.60zM540.50 1148.50h8.60v4.30h-8.60zM519.00 1152.80h4.30v4.30h-4.30zM544.80 1152.80h4.30v4.30h-4.30zM514.70 1157.10h4.30v12.90h-4.30zM549.10 1157.10h4.30v12.90h-4.30zM519.00 1170.00h4.30v4.30h-4.30zM544.80 1170.00h4.30v4.30h-4.30zM519.00 1174.30h8.60v4.30h-8.60zM540.50 1174.30h8.60v4.30h-8.60zM527.60 1178.60h12.90v4.30h-12.90zM540.50 1135.60h12.90v4.30h-12.90zM531.90 1139.90h8.60v4.30h-8.60zM553.40 1139.90h8.60v4.30h-8.60zM531.90 1144.20h4.30v4.30h-4.30zM557.70 1144.20h4.30v4.30h-4.30zM527.60 1148.50h4.30v12.90h-4.30zM562.00 1148.50h4.30v12.90h-4.30zM531.90 1161.40h4.30v4.30h-4.30zM557.70 1161.40h4.30v4.30h-4.30zM531.90 1165.70h8.60v4.30h-8.60zM553.40 1165.70h8.60v4.30h-8.60zM540.50 1170.00h12.90v4.30h-12.90zM553.40 1127.00h12.90v4.30h-12.90zM544.80 1131.30h8.60v4.30h-8.60zM566.30 1131.30h8.60v4.30h-8.60zM544.80 1135.60h4.30v4.30h-4.30zM570.60 1135.60h4.30v4.30h-4.30zM540.50 1139.90h4.30v12.90h-4.30zM574.90 1139.90h4.30v12.90h-4.30zM544.80 1152.80h4.30v4.30h-4.30zM570.60 1152.80h4.30v4.30h-4.30zM544.80 1157.10h8.60v4.30h-8.60zM566.30 1157.10h8.60v4.30h-8.60zM553.40 1161.40h12.90v4.30h-12.90zM562.00 1118.40h12.90v4.30h-12.90zM553.40 1122.70h8.60v4.30h-8.60zM574.90 1122.70h8.60v4.30h-8.60zM553.40 1127.00h4.30v4.30h-4.30zM579.20 1127.00h4.30v4.30h-4.30zM549.10 1131.30h4.30v12.90h-4.30zM583.50 1131.30h4.30v12.90h-4.30zM553.40 1144.20h4.30v4.30h-4.30zM579.20 1144.20h4.30v4.30h-4.30zM553.40 1148.50h8.60v4.30h-8.60zM574.90 1148.50h8.60v4.30h-8.60zM562.00 1152.80h12.90v4.30h-12.90zM574.90 1109.80h12.90v4.30h-12.90zM566.30 1114.10h8.60v4.30h-8.60zM587.80 1114.10h8.60v4.30h-8.60zM566.30 1118.40h4.30v4.30h-4.30zM592.10 1118.40h4.30v4.30h-4.30zM562.00 1122.70h4.30v12.90h-4.30zM596.40 1122.70h4.30v12.90h-4.30zM566.30 1135.60h4.30v4.30h-4.30zM592.10 1135.60h4.30v4.30h-4.30zM566.30 1139.90h8.60v4.30h-8.60zM587.80 1139.90h8.60v4.30h-8.60zM574.90 1144.20h12.90v4.30h-12.90zM583.50 1101.20h12.90v4.30h-12.90zM574.90 1105.50h8.60v4.30h-8.60zM596.40 1105.50h8.60v4.30h-8.60zM574.90 1109.80h4.30v4.30h-4.30zM600.70 1109.80h4.30v4.30h-4.30zM570.60 1114.10h4.30v12.90h-4.30zM605.00 1114.10h4.30v12.90h-4.30zM574.90 1127.00h4.30v4.30h-4.30zM600.70 1127.00h4.30v4.30h-4.30zM574.90 1131.30h8.60v4.30h-8.60zM596.40 1131.30h8.60v4.30h-8.60zM583.50 1135.60h12.90v4.30h-12.90zM596.40 1092.60h12.90v4.30h-12.90zM587.80 1096.90h8.60v4.30h-8.60zM609.30 1096.90h8.60v4.30h-8.60zM587.80 1101.20h4.30v4.30h-4.30zM613.60 1101.20h4.30v4.30h-4.30zM583.50 1105.50h4.30v12.90h-4.30zM617.90 1105.50h4.30v12.90h-4.30zM587.80 1118.40h4.30v4.30h-4.30zM613.60 1118.40h4.30v4.30h-4.30zM587.80 1122.70h8.60v4.30h-8.60zM609.30 1122.70h8.60v4.30h-8.60zM596.40 1127.00h12.90v4.30h-12.90zM609.30 1088.30h12.90v4.30h-12.90zM600.70 1092.60h8.60v4.30h-8.60zM622.20 1092.60h8.60v4.30h-8.60zM600.70 1096.90h4.30v4.30h-4.30zM626.50 1096.90h4.30v4.30h-4.30zM596.40 1101.20h4.30v12.90h-4.30zM630.80 1101.20h4.30v12.90h-4.30zM600.70 1114.10h4.30v4.30h-4.30zM626.50 1114.10h4.30v4.30h-4.30zM600.70 1118.40h8.60v4.30h-8.60zM622.20 1118.40h8.60v4.30h-8.60zM609.30 1122.70h12.90v4.30h-12.90zM617.90 1079.70h12.90v4.30h-12.90zM609.30 1084.00h8.60v4.30h-8.60zM630.80 1084.00h8.60v4.30h-8.60zM609.30 1088.30h4.30v4.30h-4.30zM635.10 1088.30h4.30v4.30h-4.30zM605.00 1092.60h4.30v12.90h-4.30zM639.40 1092.60h4.30v12.90h-4.30zM609.30 1105.50h4.30v4.30h-4.30zM635.10 1105.50h4.30v4.30h-4.30zM609.30 1109.80h8.60v4.30h-8.60zM630.80 1109.80h8.60v4.30h-8.60zM617.90 1114.10h12.90v4.30h-12.90zM630.80 1071.10h12.90v4.30h-12.90zM622.20 1075.40h8.60v4.30h-8.60zM643.70 1075.40h8.60v4.30h-8.60zM622.20 1079.70h4.30v4.30h-4.30zM648.00 1079.70h4.30v4.30h-4.30zM617.90 1084.00h4.30v12.90h-4.30zM652.30 1084.00h4.30v12.90h-4.30zM622.20 1096.90h4.30v4.30h-4.30zM648.00 1096.90h4.30v4.30h-4.30zM622.20 1101.20h8.60v4.30h-8.60zM643.70 1101.20h8.60v4.30h-8.60zM630.80 1105.50h12.90v4.30h-12.90zM639.40 1062.50h12.90v4.30h-12.90zM630.80 1066.80h8.60v4.30h-8.60zM652.30 1066.80h8.60v4.30h-8.60zM630.80 1071.10h4.30v4.30h-4.30zM656.60 1071.10h4.30v4.30h-4.30zM626.50 1075.40h4.30v12.90h-4.30zM660.90 1075.40h4.30v12.90h-4.30zM630.80 1088.30h4.30v4.30h-4.30zM656.60 1088.30h4.30v4.30h-4.30zM630.80 1092.60h8.60v4.30h-8.60zM652.30 1092.60h8.60v4.30h-8.60zM639.40 1096.90h12.90v4.30h-12.90zM652.30 1053.90h12.90v4.30h-12.90zM643.70 1058.20h8.60v4.30h-8.60zM665.20 1058.20h8.60v4.30h-8.60zM643.70 1062.50h4.30v4.30h-4.30zM669.50 1062.50h4.30v4.30h-4.30zM639.40 1066.80h4.30v12.90h-4.30zM673.80 1066.80h4.30v12.90h-4.30zM643.70 1079.70h4.30v4.30h-4.30zM669.50 1079.70h4.30v4.30h-4.30zM643.70 1084.00h8.60v4.30h-8.60zM665.20 1084.00h8.60v4.30h-8.60zM652.30 1088.30h12.90v4.30h-12.90zM665.20 1045.30h12.90v4.30h-12.90zM656.60 1049.60h8.60v4.30h-8.60zM678.10 1049.60h8.60v4.30h-8.60zM656.60 1053.90h4.30v4.30h-4.30zM682.40 1053.90h4.30v4.30h-4.30zM652.30 1058.20h4.30v12.90h-4.30zM686.70 1058.20h4.30v12.90h-4.30zM656.60 1071.10h4.30v4.30h-4.30zM682.40 1071.10h4.30v4.30h-4.30zM656.60 1075.40h8.60v4.30h-8.60zM678.10 1075.40h8.60v4.30h-8.60zM665.20 1079.70h12.90v4.30h-12.90zM673.80 1036.70h12.90v4.30h-12.90zM665.20 1041.00h8.60v4.30h-8.60zM686.70 1041.00h8.60v4.30h-8.60zM665.20 1045.30h4.30v4.30h-4.30zM691.00 1045.30h4.30v4.30h-4.30zM660.90 1049.60h4.30v12.90h-4.30zM695.30 1049.60h4.30v12.90h-4.30zM665.20 1062.50h4.30v4.30h-4.30zM691.00 1062.50h4.30v4.30h-4.30zM665.20 1066.80h8.60v4.30h-8.60zM686.70 1066.80h8.60v4.30h-8.60zM673.80 1071.10h12.90v4.30h-12.90zM686.70 1032.40h12.90v4.30h-12.90zM678.10 1036.70h8.60v4.30h-8.60zM699.60 1036.70h8.60v4.30h-8.60zM678.10 1041.00h4.30v4.30h-4.30zM703.90 1041.00h4.30v4.30h-4.30zM673.80 1045.30h4.30v12.90h-4.30zM708.20 1045.30h4.30v12.90h-4.30zM678.10 1058.20h4.30v4.30h-4.30zM703.90 1058.20h4.30v4.30h-4.30zM678.10 1062.50h8.60v4.30h-8.60zM699.60 1062.50h8.60v4.30h-8.60zM686.70 1066.80h12.90v4.30h-12.90zM699.60 1023.80h12.90v4.30h-12.90zM691.00 1028.10h8.60v4.30h-8.60zM712.50 1028.10h8.60v4.30h-8.60zM691.00 1032.40h4.30v4.30h-4.30zM716.80 1032.40h4.30v4.30h-4.30zM686.70 1036.70h4.30v12.90h-4.30zM721.10 1036.70h4.30v12.90h-4.30zM691.00 1049.60h4.30v4.30h-4.30zM716.80 1049.60h4.30v4.30h-4.30zM691.00 1053.90h8.60v4.30h-8.60zM712.50 1053.90h8.60v4.30h-8.60zM699.60 1058.20h12.90v4.30h-12.90zM708.20 1015.20h12.90v4.30h-12.90zM699.60 1019.50h8.60v4.30h-8.60zM721.10 1019.50h8.60v4.30h-8.60zM699.60 1023.80h4.30v4.30h-4.30zM725.40 1023.80h4.30v4.30h-4.30zM695.30 1028.10h4.30v12.90h-4.30zM729.70 1028.10h4.30v12.90h-4.30zM699.60 1041.00h4.30v4.30h-4.30zM725.40 1041.00h4.30v4.30h-4.30zM699.60 1045.30h8.60v4.30h-8.60zM721.10 1045.30h8.60v4.30h-8.60zM708.20 1049.60h12.90v4.30h-12.90zM721.10 1006.60h12.90v4.30h-12.90zM712.50 1010.90h8.60v4.30h-8.60zM734.00 1010.90h8.60v4.30h-8.60zM712.50 1015.20h4.30v4.30h-4.30zM738.30 1015.20h4.30v4.30h-4.30zM708.20 1019.50h4.30v12.90h-4.30zM742.60 1019.50h4.30v12.90h-4.30zM712.50 1032.40h4.30v4.30h-4.30zM738.30 1032.40h4.30v4.30h-4.30zM712.50 1036.70h8.60v4.30h-8.60zM734.00 1036.70h8.60v4.30h-8.60zM721.10 1041.00h12.90v4.30h-12.90zM729.70 998.00h12.90v4.30h-12.90zM721.10 1002.30h8.60v4.30h-8.60zM742.60 1002.30h8.60v4.30h-8.60zM721.10 1006.60h4.30v4.30h-4.30zM746.90 1006.60h4.30v4.30h-4.30zM716.80 1010.90h4.30v12.90h-4.30zM751.20 1010.90h4.30v12.90h-4.30zM721.10 1023.80h4.30v4.30h-4.30zM746.90 1023.80h4.30v4.30h-4.30zM721.10 1028.10h8.60v4.30h-8.60zM742.60 1028.10h8.60v4.30h-8.60zM729.70 1032.40h12.90v4.30h-12.90zM742.60 989.40h12.90v4.30h-12.90zM734.00 993.70h8.60v4.30h-8.60zM755.50 993.70h8.60v4.30h-8.60zM734.00 998.00h4.30v4.30h-4.30zM759.80 998.00h4.30v4.30h-4.30zM729.70 1002.30h4.30v12.90h-4.30zM764.10 1002.30h4.30v12.90h-4.30zM734.00 1015.20h4.30v4.30h-4.30zM759.80 1015.20h4.30v4.30h-4.30zM734.00 1019.50h8.60v4.30h-8.60zM755.50 1019.50h8.60v4.30h-8.60zM742.60 1023.80h12.90v4.30h-12.90zM755.50 980.80h12.90v4.30h-12.90zM746.90 985.10h8.60v4.30h-8.60zM768.40 985.10h8.60v4.30h-8.60zM746.90 989.40h4.30v4.30h-4.30zM772.70 989.40h4.30v4.30h-4.30zM742.60 993.70h4.30v12.90h-4.30zM777.00 993.70h4.30v12.90h-4.30zM746.90 1006.60h4.30v4.30h-4.30zM772.70 1006.60h4.30v4.30h-4.30zM746.90 1010.90h8.60v4.30h-8.60zM768.40 1010.90h8.60v4.30h-8.60zM755.50 1015.20h12.90v4.30h-12.90zM764.10 972.20h12.90v4.30h-12.90zM755.50 976.50h8.60v4.30h-8.60zM777.00 976.50h8.60v4.30h-8.60zM755.50 980.80h4.30v4.30h-4.30zM781.30 980.80h4.30v4.30h-4.30zM751.20 985.10h4.30v12.90h-4.30zM785.60 985.10h4.30v12.90h-4.30zM755.50 998.00h4.30v4.30h-4.30zM781.30 998.00h4.30v4.30h-4.30zM755.50 1002.30h8.60v4.30h-8.60zM777.00 1002.30h8.60v4.30h-8.60zM764.10 1006.60h12.90v4.30h-12.90zM777.00 963.60h12.90v4.30h-12.90zM768.40 967.90h8.60v4.30h-8.60zM789.90 967.90h8.60v4.30h-8.60zM768.40 972.20h4.30v4.30h-4.30zM794.20 972.20h4.30v4.30h-4.30zM764.10 976.50h4.30v12.90h-4.30zM798.50 976.50h4.30v12.90h-4.30zM768.40 989.40h4.30v4.30h-4.30zM794.20 989.40h4.30v4.30h-4.30zM768.40 993.70h8.60v4.30h-8.60zM789.90 993.70h8.60v4.30h-8.60zM777.00 998.00h12.90v4.30h-12.90zM785.60 955.00h12.90v4.30h-12.90zM777.00 959.30h8.60v4.30h-8.60zM798.50 959.30h8.60v4.30h-8.60zM777.00 963.60h4.30v4.30h-4.30zM802.80 963.60h4.30v4.30h-4.30zM772.70 967.90h4.30v12.90h-4.30zM807.10 967.90h4.30v12.90h-4.30zM777.00 980.80h4.30v4.30h-4.30zM802.80 980.80h4.30v4.30h-4.30zM777.00 985.10h8.60v4.30h-8.60zM798.50 985.10h8.60v4.30h-8.60zM785.60 989.40h12.90v4.30h-12.90zM798.50 946.40h12.90v4.30h-12.90zM789.90 950.70h8.60v4.30h-8.60zM811.40 950.70h8.60v4.30h-8.60zM789.90 955.00h4.30v4.30h-4.30zM815.70 955.00h4.30v4.30h-4.30zM785.60 959.30h4.30v12.90h-4.30zM820.00 959.30h4.30v12.90h-4.30zM789.90 972.20h4.30v4.30h-4.30zM815.70 972.20h4.30v4.30h-4.30zM789.90 976.50h8.60v4.30h-8.60zM811.40 976.50h8.60v4.30h-8.60zM798.50 980.80h12.90v4.30h-12.90zM811.40 937.80h12.90v4.30h-12.90zM802.80 942.10h8.60v4.30h-8.60zM824.30 942.10h8.60v4.30h-8.60zM802.80 946.40h4.30v4.30h-4.30zM828.60 946.40h4.30v4.30h-4.30zM798.50 950.70h4.30v12.90h-4.30zM832.90 950.70h4.30v12.90h-4.30zM802.80 963.60h4.30v4.30h-4.30zM828.60 963.60h4.30v4.30h-4.30zM802.80 967.90h8.60v4.30h-8.60zM824.30 967.90h8.60v4.30h-8.60zM811.40 972.20h12.90v4.30h-12.90zM820.00 929.20h12.90v4.30h-12.90zM811.40 933.50h8.60v4.30h-8.60zM832.90 933.50h8.60v4.30h-8.60zM811.40 937.80h4.30v4.30h-4.30zM837.20 937.80h4.30v4.30h-4.30zM807.10 942.10h4.30v12.90h-4.30zM841.50 942.10h4.30v12.90h-4.30zM811.40 955.00h4.30v4.30h-4.30zM837.20 955.00h4.30v4.30h-4.30zM811.40 959.30h8.60v4.30h-8.60zM832.90 959.30h8.60v4.30h-8.60zM820.00 963.60h12.90v4.30h-12.90zM832.90 920.60h12.90v4.30h-12.90zM824.30 924.90h8.60v4.30h-8.60zM845.80 924.90h8.60v4.30h-8.60zM824.30 929.20h4.30v4.30h-4.30zM850.10 929.20h4.30v4.30h-4.30zM820.00 933.50h4.30v12.90h-4.30zM854.40 933.50h4.30v12.90h-4.30zM824.30 946.40h4.30v4.30h-4.30zM850.10 946.40h4.30v4.30h-4.30zM824.30 950.70h8.60v4.30h-8.60zM845.80 950.70h8.60v4.30h-8.60zM832.90 955.00h12.90v4.30h-12.90zM841.50 912.00h12.90v4.30h-12.90zM832.90 916.30h8.60v4.30h-8.60zM854.40 916.30h8.60v4.30h-8.60zM832.90 920.60h4.30v4.30h-4.30zM858.70 920.60h4.30v4.30h-4.30zM828.60 924.90h4.30v12.90h-4.30zM863.00 924.90h4.30v12.90h-4.30zM832.90 937.80h4.30v4.30h-4.30zM858.70 937.80h4.30v4.30h-4.30zM832.90 942.10h8.60v4.30h-8.60zM854.40 942.10h8.60v4.30h-8.60zM841.50 946.40h12.90v4.30h-12.90zM854.40 903.40h12.90v4.30h-12.90zM845.80 907.70h8.60v4.30h-8.60zM867.30 907.70h8.60v4.30h-8.60zM845.80 912.00h4.30v4.30h-4.30zM871.60 912.00h4.30v4.30h-4.30zM841.50 916.30h4.30v12.90h-4.30zM875.90 916.30h4.30v12.90h-4.30zM845.80 929.20h4.30v4.30h-4.30zM871.60 929.20h4.30v4.30h-4.30zM845.80 933.50h8.60v4.30h-8.60zM867.30 933.50h8.60v4.30h-8.60zM854.40 937.80h12.90v4.30h-12.90zM867.30 894.80h12.90v4.30h-12.90zM858.70 899.10h8.60v4.30h-8.60zM880.20 899.10h8.60v4.30h-8.60zM858.70 903.40h4.30v4.30h-4.30zM884.50 903.40h4.30v4.30h-4.30zM854.40 907.70h4.30v12.90h-4.30zM888.80 907.70h4.30v12.90h-4.30zM858.70 920.60h4.30v4.30h-4.30zM884.50 920.60h4.30v4.30h-4.30zM858.70 924.90h8.60v4.30h-8.60zM880.20 924.90h8.60v4.30h-8.60zM867.30 929.20h12.90v4.30h-12.90zM875.90 886.20h12.90v4.30h-12.90zM867.30 890.50h8.60v4.30h-8.60zM888.80 890.50h8.60v4.30h-8.60zM867.30 894.80h4.30v4.30h-4.30zM893.10 894.80h4.30v4.30h-4.30zM863.00 899.10h4.30v12.90h-4.30zM897.40 899.10h4.30v12.90h-4.30zM867.30 912.00h4.30v4.30h-4.30zM893.10 912.00h4.30v4.30h-4.30zM867.30 916.30h8.60v4.30h-8.60zM888.80 916.30h8.60v4.30h-8.60zM875.90 920.60h12.90v4.30h-12.90zM888.80 881.90h12.90v4.30h-12.90zM880.20 886.20h8.60v4.30h-8.60zM901.70 886.20h8.60v4.30h-8.60zM880.20 890.50h4.30v4.30h-4.30zM906.00 890.50h4.30v4.30h-4.30zM875.90 894.80h4.30v12.90h-4.30zM910.30 894.80h4.30v12.90h-4.30zM880.20 907.70h4.30v4.30h-4.30zM906.00 907.70h4.30v4.30h-4.30zM880.20 912.00h8.60v4.30h-8.60zM901.70 912.00h8.60v4.30h-8.60zM888.80 916.30h12.90v4.30h-12.90zM901.70 873.30h12.90v4.30h-12.90zM893.10 877.60h8.60v4.30h-8.60zM914.60 877.60h8.60v4.30h-8.60zM893.10 881.90h4.30v4.30h-4.30zM918.90 881.90h4.30v4.30h-4.30zM888.80 886.20h4.30v12.90h-4.30zM923.20 886.20h4.30v12.90h-4.30zM893.10 899.10h4.30v4.30h-4.30zM918.90 899.10h4.30v4.30h-4.30zM893.10 903.40h8.60v4.30h-8.60zM914.60 903.40h8.60v4.30h-8.60zM901.70 907.70h12.90v4.30h-12.90zM910.30 864.70h12.90v4.30h-12.90zM901.70 869.00h8.60v4.30h-8.60zM923.20 869.00h8.60v4.30h-8.60zM901.70 873.30h4.30v4.30h-4.30zM927.50 873.30h4.30v4.30h-4.30zM897.40 877.60h4.30v12.90h-4.30zM931.80 877.60h4.30v12.90h-4.30zM901.70 890.50h4.30v4.30h-4.30zM927.50 890.50h4.30v4.30h-4.30zM901.70 894.80h8.60v4.30h-8.60zM923.20 894.80h8.60v4.30h-8.60zM910.30 899.10h12.90v4.30h-12.90zM923.20 856.10h12.90v4.30h-12.90zM914.60 860.40h8.60v4.30h-8.60zM936.10 860.40h8.60v4.30h-8.60zM914.60 864.70h4.30v4.30h-4.30zM940.40 864.70h4.30v4.30h-4.30zM910.30 869.00h4.30v12.90h-4.30zM944.70 869.00h4.30v12.90h-4.30zM914.60 881.90h4.30v4.30h-4.30zM940.40 881.90h4.30v4.30h-4.30zM914.60 886.20h8.60v4.30h-8.60zM936.10 886.20h8.60v4.30h-8.60zM923.20 890.50h12.90v4.30h-12.90zM931.80 847.50h12.90v4.30h-12.90zM923.20 851.80h8.60v4.30h-8.60zM944.70 851.80h8.60v4.30h-8.60zM923.20 856.10h4.30v4.30h-4.30zM949.00 856.10h4.30v4.30h-4.30zM918.90 860.40h4.30v12.90h-4.30zM953.30 860.40h4.30v12.90h-4.30zM923.20 873.30h4.30v4.30h-4.30zM949.00 873.30h4.30v4.30h-4.30zM923.20 877.60h8.60v4.30h-8.60zM944.70 877.60h8.60v4.30h-8.60zM931.80 881.90h12.90v4.30h-12.90zM944.70 843.20h12.90v4.30h-12.90zM936.10 847.50h8.60v4.30h-8.60zM957.60 847.50h8.60v4.30h-8.60zM936.10 851.80h4.30v4.30h-4.30zM961.90 851.80h4.30v4.30h-4.30zM931.80 856.10h4.30v12.90h-4.30zM966.20 856.10h4.30v12.90h-4.30zM936.10 869.00h4.30v4.30h-4.30zM961.90 869.00h4.30v4.30h-4.30zM936.10 873.30h8.60v4.30h-8.60zM957.60 873.30h8.60v4.30h-8.60zM944.70 877.60h12.90v4.30h-12.90zM957.60 834.60h12.90v4.30h-12.90zM949.00 838.90h8.60v4.30h-8.60zM970.50 838.90h8.60v4.30h-8.60zM949.00 843.20h4.30v4.30h-4.30zM974.80 843.20h4.30v4.30h-4.30zM944.70 847.50h4.30v12.90h-4.30zM979.10 847.50h4.30v12.90h-4.30zM949.00 860.40h4.30v4.30h-4.30zM974.80 860.40h4.30v4.30h-4.30zM949.00 864.70h8.60v4.30h-8.60zM970.50 864.70h8.60v4.30h-8.60zM957.60 869.00h12.90v4.30h-12.90zM966.20 826.00h12.90v4.30h-12.90zM957.60 830.30h8.60v4.30h-8.60zM979.10 830.30h8.60v4.30h-8.60zM957.60 834.60h4.30v4.30h-4.30zM983.40 834.60h4.30v4.30h-4.30zM953.30 838.90h4.30v12.90h-4.30zM987.70 838.90h4.30v12.90h-4.30zM957.60 851.80h4.30v4.30h-4.30zM983.40 851.80h4.30v4.30h-4.30zM957.60 856.10h8.60v4.30h-8.60zM979.10 856.10h8.60v4.30h-8.60zM966.20 860.40h12.90v4.30h-12.90zM979.10 817.40h12.90v4.30h-12.90zM970.50 821.70h8.60v4.30h-8.60zM992.00 821.70h8.60v4.30h-8.60zM970.50 826.00h4.30v4.30h-4.30zM996.30 826.00h4.30v4.30h-4.30zM966.20 830.30h4.30v12.90h-4.30zM1000.60 830.30h4.30v12.90h-4.30zM970.50 843.20h4.30v4.30h-4.30zM996.30 843.20h4.30v4.30h-4.30zM970.50 847.50h8.60v4.30h-8.60zM992.00 847.50h8.60v4.30h-8.60zM979.10 851.80h12.90v4.30h-12.90zM987.70 808.80h12.90v4.30h-12.90zM979.10 813.10h8.60v4.30h-8.60zM1000.60 813.10h8.60v4.30h-8.60zM979.10 817.40h4.30v4.30h-4.30zM1004.90 817.40h4.30v4.30h-4.30zM974.80 821.70h4.30v12.90h-4.30zM1009.20 821.70h4.30v12.90h-4.30zM979.10 834.60h4.30v4.30h-4.30zM1004.90 834.60h4.30v4.30h-4.30zM979.10 838.90h8.60v4.30h-8.60zM1000.60 838.90h8.60v4.30h-8.60zM987.70 843.20h12.90v4.30h-12.90zM1000.60 800.20h12.90v4.30h-12.90zM992.00 804.50h8.60v4.30h-8.60zM1013.50 804.50h8.60v4.30h-8.60zM992.00 808.80h4.30v4.30h-4.30zM1017.80 808.80h4.30v4.30h-4.30zM987.70 813.10h4.30v12.90h-4.30zM1022.10 813.10h4.30v12.90h-4.30zM992.00 826.00h4.30v4.30h-4.30zM1017.80 826.00h4.30v4.30h-4.30zM992.00 830.30h8.60v4.30h-8.60zM1013.50 830.30h8.60v4.30h-8.60zM1000.60 834.60h12.90v4.30h-12.90zM1013.50 791.60h12.90v4.30h-12.90zM1004.90 795.90h8.60v4.30h-8.60zM1026.40 795.90h8.60v4.30h-8.60zM1004.90 800.20h4.30v4.30h-4.30zM1030.70 800.20h4.30v4.30h-4.30zM1000.60 804.50h4.30v12.90h-4.30zM1035.00 804.50h4.30v12.90h-4.30zM1004.90 817.40h4.30v4.30h-4.30zM1030.70 817.40h4.30v4.30h-4.30zM1004.90 821.70h8.60v4.30h-8.60zM1026.40 821.70h8.60v4.30h-8.60zM1013.50 826.00h12.90v4.30h-12.90zM1022.10 783.00h12.90v4.30h-12.90zM1013.50 787.30h8.60v4.30h-8.60zM1035.00 787.30h8.60v4.30h-8.60zM1013.50 791.60h4.30v4.30h-4.30zM1039.30 791.60h4.30v4.30h-4.30zM1009.20 795.90h4.30v12.90h-4.30zM1043.60 795.90h4.30v12.90h-4.30zM1013.50 808.80h4.30v4.30h-4.30zM1039.30 808.80h4.30v4.30h-4.30zM1013.50 813.10h8.60v4.30h-8.60zM1035.00 813.10h8.60v4.30h-8.60zM1022.10 817.40h12.90v4.30h-12.90zM1035.00 774.40h12.90v4.30h-12.90zM1026.40 778.70h8.60v4.30h-8.60zM1047.90 778.70h8.60v4.30h-8.60zM1026.40 783.00h4.30v4.30h-4.30zM1052.20 783.00h4.30v4.30h-4.30zM1022.10 787.30h4.30v12.90h-4.30zM1056.50 787.30h4.30v12.90h-4.30zM1026.40 800.20h4.30v4.30h-4.30zM1052.20 800.20h4.30v4.30h-4.30zM1026.40 804.50h8.60v4.30h-8.60zM1047.90 804.50h8.60v4.30h-8.60zM1035.00 808.80h12.90v4.30h-12.90zM1043.60 770.10h12.90v4.30h-12.90zM1035.00 774.40h8.60v4.30h-8.60zM1056.50 774.40h8.60v4.30h-8.60zM1035.00 778.70h4.30v4.30h-4.30zM1060.80 778.70h4.30v4.30h-4.30zM1030.70 783.00h4.30v12.90h-4.30zM1065.10 783.00h4.30v12.90h-4.30zM1035.00 795.90h4.30v4.30h-4.30zM1060.80 795.90h4.30v4.30h-4.30zM1035.00 800.20h8.60v4.30h-8.60zM1056.50 800.20h8.60v4.30h-8.60zM1043.60 804.50h12.90v4.30h-12.90zM1056.50 761.50h12.90v4.30h-12.90zM1047.90 765.80h8.60v4.30h-8.60zM1069.40 765.80h8.60v4.30h-8.60zM1047.90 770.10h4.30v4.30h-4.30zM1073.70 770.10h4.30v4.30h-4.30zM1043.60 774.40h4.30v12.90h-4.30zM1078.00 774.40h4.30v12.90h-4.30zM1047.90 787.30h4.30v4.30h-4.30zM1073.70 787.30h4.30v4.30h-4.30zM1047.90 791.60h8.60v4.30h-8.60zM1069.40 791.60h8.60v4.30h-8.60zM1056.50 795.90h12.90v4.30h-12.90zM1069.40 752.90h12.90v4.30h-12.90zM1060.80 757.20h8.60v4.30h-8.60zM1082.30 757.20h8.60v4.30h-8.60zM1060.80 761.50h4.30v4.30h-4.30zM1086.60 761.50h4.30v4.30h-4.30zM1056.50 765.80h4.30v12.90h-4.30zM1090.90 765.80h4.30v12.90h-4.30zM1060.80 778.70h4.30v4.30h-4.30zM1086.60 778.70h4.30v4.30h-4.30zM1060.80 783.00h8.60v4.30h-8.60zM1082.30 783.00h8.60v4.30h-8.60zM1069.40 787.30h12.90v4.30h-12.90zM1078.00 744.30h12.90v4.30h-12.90zM1069.40 748.60h8.60v4.30h-8.60zM1090.90 748.60h8.60v4.30h-8.60zM1069.40 752.90h4.30v4.30h-4.30zM1095.20 752.90h4.30v4.30h-4.30zM1065.10 757.20h4.30v12.90h-4.30zM1099.50 757.20h4.30v12.90h-4.30zM1069.40 770.10h4.30v4.30h-4.30zM1095.20 770.10h4.30v4.30h-4.30zM1069.40 774.40h8.60v4.30h-8.60zM1090.90 774.40h8.60v4.30h-8.60zM1078.00 778.70h12.90v4.30h-12.90zM1090.90 735.70h12.90v4.30h-12.90zM1082.30 740.00h8.60v4.30h-8.60zM1103.80 740.00h8.60v4.30h-8.60zM1082.30 744.30h4.30v4.30h-4.30zM1108.10 744.30h4.30v4.30h-4.30zM1078.00 748.60h4.30v12.90h-4.30zM1112.40 748.60h4.30v12.90h-4.30zM1082.30 761.50h4.30v4.30h-4.30zM1108.10 761.50h4.30v4.30h-4.30zM1082.30 765.80h8.60v4.30h-8.60zM1103.80 765.80h8.60v4.30h-8.60zM1090.90 770.10h12.90v4.30h-12.90zM1099.50 727.10h12.90v4.30h-12.90zM1090.90 731.40h8.60v4.30h-8.60zM1112.40 731.40h8.60v4.30h-8.60zM1090.90 735.70h4.30v4.30h-4.30zM1116.70 735.70h4.30v4.30h-4.30zM1086.60 740.00h4.30v12.90h-4.30zM1121.00 740.00h4.30v12.90h-4.30zM1090.90 752.90h4.30v4.30h-4.30zM1116.70 752.90h4.30v4.30h-4.30zM1090.90 757.20h8.60v4.30h-8.60zM1112.40 757.20h8.60v4.30h-8.60zM1099.50 761.50h12.90v4.30h-12.90zM1112.40 718.50h12.90v4.30h-12.90zM1103.80 722.80h8.60v4.30h-8.60zM1125.30 722.80h8.60v4.30h-8.60zM1103.80 727.10h4.30v4.30h-4.30zM1129.60 727.10h4.30v4.30h-4.30zM1099.50 731.40h4.30v12.90h-4.30zM1133.90 731.40h4.30v12.90h-4.30zM1103.80 744.30h4.30v4.30h-4.30zM1129.60 744.30h4.30v4.30h-4.30zM1103.80 748.60h8.60v4.30h-8.60zM1125.30 748.60h8.60v4.30h-8.60zM1112.40 752.90h12.90v4.30h-12.90zM1125.30 709.90h12.90v4.30h-12.90zM1116.70 714.20h8.60v4.30h-8.60zM1138.20 714.20h8.60v4.30h-8.60zM1116.70 718.50h4.30v4.30h-4.30zM1142.50 718.50h4.30v4.30h-4.30zM1112.40 722.80h4.30v12.90h-4.30zM1146.80 722.80h4.30v12.90h-4.30zM1116.70 735.70h4.30v4.30h-4.30zM1142.50 735.70h4.30v4.30h-4.30zM1116.70 740.00h8.60v4.30h-8.60zM1138.20 740.00h8.60v4.30h-8.60zM1125.30 744.30h12.90v4.30h-12.90zM1133.90 701.30h12.90v4.30h-12.90zM1125.30 705.60h8.60v4.30h-8.60zM1146.80 705.60h8.60v4.30h-8.60zM1125.30 709.90h4.30v4.30h-4.30zM1151.10 709.90h4.30v4.30h-4.30zM1121.00 714.20h4.30v12.90h-4.30zM1155.40 714.20h4.30v12.90h-4.30zM1125.30 727.10h4.30v4.30h-4.30zM1151.10 727.10h4.30v4.30h-4.30zM1125.30 731.40h8.60v4.30h-8.60zM1146.80 731.40h8.60v4.30h-8.60zM1133.90 735.70h12.90v4.30h-12.90zM1146.80 692.70h12.90v4.30h-12.90zM1138.20 697.00h8.60v4.30h-8.60zM1159.70 697.00h8.60v4.30h-8.60zM1138.20 701.30h4.30v4.30h-4.30zM1164.00 701.30h4.30v4.30h-4.30zM1133.90 705.60h4.30v12.90h-4.30zM1168.30 705.60h4.30v12.90h-4.30zM1138.20 718.50h4.30v4.30h-4.30zM1164.00 718.50h4.30v4.30h-4.30zM1138.20 722.80h8.60v4.30h-8.60zM1159.70 722.80h8.60v4.30h-8.60zM1146.80 727.10h12.90v4.30h-12.90zM1159.70 684.10h12.90v4.30h-12.90zM1151.10 688.40h8.60v4.30h-8.60zM1172.60 688.40h8.60v4.30h-8.60zM1151.10 692.70h4.30v4.30h-4.30zM1176.90 692.70h4.30v4.30h-4.30zM1146.80 697.00h4.30v12.90h-4.30zM1181.20 697.00h4.30v12.90h-4.30zM1151.10 709.90h4.30v4.30h-4.30zM1176.90 709.90h4.30v4.30h-4.30zM1151.10 714.20h8.60v4.30h-8.60zM1172.60 714.20h8.60v4.30h-8.60zM1159.70 718.50h12.90v4.30h-12.90zM1168.30 675.50h12.90v4.30h-12.90zM1159.70 679.80h8.60v4.30h-8.60zM1181.20 679.80h8.60v4.30h-8.60zM1159.70 684.10h4.30v4.30h-4.30zM1185.50 684.10h4.30v4.30h-4.30zM1155.40 688.40h4.30v12.90h-4.30zM1189.80 688.40h4.30v12.90h-4.30zM1159.70 701.30h4.30v4.30h-4.30zM1185.50 701.30h4.30v4.30h-4.30zM1159.70 705.60h8.60v4.30h-8.60zM1181.20 705.60h8.60v4.30h-8.60zM1168.30 709.90h12.90v4.30h-12.90zM1181.20 666.90h12.90v4.30h-12.90zM1172.60 671.20h8.60v4.30h-8.60zM1194.10 671.20h8.60v4.30h-8.60zM1172.60 675.50h4.30v4.30h-4.30zM1198.40 675.50h4.30v4.30h-4.30zM1168.30 679.80h4.30v12.90h-4.30zM1202.70 679.80h4.30v12.90h-4.30zM1172.60 692.70h4.30v4.30h-4.30zM1198.40 692.70h4.30v4.30h-4.30zM1172.60 697.00h8.60v4.30h-8.60zM1194.10 697.00h8.60v4.30h-8.60zM1181.20 701.30h12.90v4.30h-12.90zM1189.80 658.30h12.90v4.30h-12.90zM1181.20 662.60h8.60v4.30h-8.60zM1202.70 662.60h8.60v4.30h-8.60zM1181.20 666.90h4.30v4.30h-4.30zM1207.00 666.90h4.30v4.30h-4.30zM1176.90 671.20h4.30v12.90h-4.30zM1211.30 671.20h4.30v12.90h-4.30zM1181.20 684.10h4.30v4.30h-4.30zM1207.00 684.10h4.30v4.30h-4.30zM1181.20 688.40h8.60v4.30h-8.60zM1202.70 688.40h8.60v4.30h-8.60zM1189.80 692.70h12.90v4.30h-12.90zM1202.70 649.70h12.90v4.30h-12.90zM1194.10 654.00h8.60v4.30h-8.60zM1215.60 654.00h8.60v4.30h-8.60zM1194.10 658.30h4.30v4.30h-4.30zM1219.90 658.30h4.30v4.30h-4.30zM1189.80 662.60h4.30v12.90h-4.30zM1224.20 662.60h4.30v12.90h-4.30zM1194.10 675.50h4.30v4.30h-4.30zM1219.90 675.50h4.30v4.30h-4.30zM1194.10 679.80h8.60v4.30h-8.60zM1215.60 679.80h8.60v4.30h-8.60zM1202.70 684.10h12.90v4.30h-12.90zM1215.60 641.10h12.90v4.30h-12.90zM1207.00 645.40h8.60v4.30h-8.60zM1228.50 645.40h8.60v4.30h-8.60zM1207.00 649.70h4.30v4.30h-4.30zM1232.80 649.70h4.30v4.30h-4.30zM1202.70 654.00h4.30v12.90h-4.30zM1237.10 654.00h4.30v12.90h-4.30zM1207.00 666.90h4.30v4.30h-4.30zM1232.80 666.90h4.30v4.30h-4.30zM1207.00 671.20h8.60v4.30h-8.60zM1228.50 671.20h8.60v4.30h-8.60zM1215.60 675.50h12.90v4.30h-12.90zM1224.20 636.80h12.90v4.30h-12.90zM1215.60 641.10h8.60v4.30h-8.60zM1237.10 641.10h8.60v4.30h-8.60zM1215.60 645.40h4.30v4.30h-4.30zM1241.40 645.40h4.30v4.30h-4.30zM1211.30 649.70h4.30v12.90h-4.30zM1245.70 649.70h4.30v12.90h-4.30zM1215.60 662.60h4.30v4.30h-4.30zM1241.40 662.60h4.30v4.30h-4.30zM1215.60 666.90h8.60v4.30h-8.60zM1237.10 666.90h8.60v4.30h-8.60zM1224.20 671.20h12.90v4.30h-12.90zM1237.10 628.20h12.90v4.30h-12.90zM1228.50 632.50h8.60v4.30h-8.60zM1250.00 632.50h8.60v4.30h-8.60zM1228.50 636.80h4.30v4.30h-4.30zM1254.30 636.80h4.30v4.30h-4.30zM1224.20 641.10h4.30v12.90h-4.30zM1258.60 641.10h4.30v12.90h-4.30zM1228.50 654.00h4.30v4.30h-4.30zM1254.30 654.00h4.30v4.30h-4.30zM1228.50 658.30h8.60v4.30h-8.60zM1250.00 658.30h8.60v4.30h-8.60zM1237.10 662.60h12.90v4.30h-12.90zM1245.70 619.60h12.90v4.30h-12.90zM1237.10 623.90h8.60v4.30h-8.60zM1258.60 623.90h8.60v4.30h-8.60zM1237.10 628.20h4.30v4.30h-4.30zM1262.90 628.20h4.30v4.30h-4.30zM1232.80 632.50h4.30v12.90h-4.30zM1267.20 632.50h4.30v12.90h-4.30zM1237.10 645.40h4.30v4.30h-4.30zM1262.90 645.40h4.30v4.30h-4.30zM1237.10 649.70h8.60v4.30h-8.60zM1258.60 649.70h8.60v4.30h-8.60zM1245.70 654.00h12.90v4.30h-12.90zM1258.60 611.00h12.90v4.30h-12.90zM1250.00 615.30h8.60v4.30h-8.60zM1271.50 615.30h8.60v4.30h-8.60zM1250.00 619.60h4.30v4.30h-4.30zM1275.80 619.60h4.30v4.30h-4.30zM1245.70 623.90h4.30v12.90h-4.30zM1280.10 623.90h4.30v12.90h-4.30zM1250.00 636.80h4.30v4.30h-4.30zM1275.80 636.80h4.30v4.30h-4.30zM1250.00 641.10h8.60v4.30h-8.60zM1271.50 641.10h8.60v4.30h-8.60zM1258.60 645.40h12.90v4.30h-12.90zM1271.50 602.40h12.90v4.30h-12.90zM1262.90 606.70h8.60v4.30h-8.60zM1284.40 606.70h8.60v4.30h-8.60zM1262.90 611.00h4.30v4.30h-4.30zM1288.70 611.00h4.30v4.30h-4.30zM1258.60 615.30h4.30v12.90h-4.30zM1293.00 615.30h4.30v12.90h-4.30zM1262.90 628.20h4.30v4.30h-4.30zM1288.70 628.20h4.30v4.30h-4.30zM1262.90 632.50h8.60v4.30h-8.60zM1284.40 632.50h8.60v4.30h-8.60zM1271.50 636.80h12.90v4.30h-12.90zM1280.10 593.80h12.90v4.30h-12.90zM1271.50 598.10h8.60v4.30h-8.60zM1293.00 598.10h8.60v4.30h-8.60zM1271.50 602.40h4.30v4.30h-4.30zM1297.30 602.40h4.30v4.30h-4.30zM1267.20 606.70h4.30v12.90h-4.30zM1301.60 606.70h4.30v12.90h-4.30zM1271.50 619.60h4.30v4.30h-4.30zM1297.30 619.60h4.30v4.30h-4.30zM1271.50 623.90h8.60v4.30h-8.60zM1293.00 623.90h8.60v4.30h-8.60zM1280.10 628.20h12.90v4.30h-12.90zM1293.00 585.20h12.90v4.30h-12.90zM1284.40 589.50h8.60v4.30h-8.60zM1305.90 589.50h8.60v4.30h-8.60zM1284.40 593.80h4.30v4.30h-4.30zM1310.20 593.80h4.30v4.30h-4.30zM1280.10 598.10h4.30v12.90h-4.30zM1314.50 598.10h4.30v12.90h-4.30zM1284.40 611.00h4.30v4.30h-4.30zM1310.20 611.00h4.30v4.30h-4.30zM1284.40 615.30h8.60v4.30h-8.60zM1305.90 615.30h8.60v4.30h-8.60zM1293.00 619.60h12.90v4.30h-12.90zM1301.60 576.60h12.90v4.30h-12.90zM1293.00 580.90h8.60v4.30h-8.60zM1314.50 580.90h8.60v4.30h-8.60zM1293.00 585.20h4.30v4.30h-4.30zM1318.80 585.20h4.30v4.30h-4.30zM1288.70 589.50h4.30v12.90h-4.30zM1323.10 589.50h4.30v12.90h-4.30zM1293.00 602.40h4.30v4.30h-4.30zM1318.80 602.40h4.30v4.30h-4.30zM1293.00 606.70h8.60v4.30h-8.60zM1314.50 606.70h8.60v4.30h-8.60zM1301.60 611.00h12.90v4.30h-12.90zM1314.50 572.30h12.90v4.30h-12.90zM1305.90 576.60h8.60v4.30h-8.60zM1327.40 576.60h8.60v4.30h-8.60zM1305.90 580.90h4.30v4.30h-4.30zM1331.70 580.90h4.30v4.30h-4.30zM1301.60 585.20h4.30v12.90h-4.30zM1336.00 585.20h4.30v12.90h-4.30zM1305.90 598.10h4.30v4.30h-4.30zM1331.70 598.10h4.30v4.30h-4.30zM1305.90 602.40h8.60v4.30h-8.60zM1327.40 602.40h8.60v4.30h-8.60zM1314.50 606.70h12.90v4.30h-12.90zM1327.40 563.70h12.90v4.30h-12.90zM1318.80 568.00h8.60v4.30h-8.60zM1340.30 568.00h8.60v4.30h-8.60zM1318.80 572.30h4.30v4.30h-4.30zM1344.60 572.30h4.30v4.30h-4.30zM1314.50 576.60h4.30v12.90h-4.30zM1348.90 576.60h4.30v12.90h-4.30zM1318.80 589.50h4.30v4.30h-4.30zM1344.60 589.50h4.30v4.30h-4.30zM1318.80 593.80h8.60v4.30h-8.60zM1340.30 593.80h8.60v4.30h-8.60zM1327.40 598.10h12.90v4.30h-12.90zM1336.00 555.10h12.90v4.30h-12.90zM1327.40 559.40h8.60v4.30h-8.60zM1348.90 559.40h8.60v4.30h-8.60zM1327.40 563.70h4.30v4.30h-4.30zM1353.20 563.70h4.30v4.30h-4.30zM1323.10 568.00h4.30v12.90h-4.30zM1357.50 568.00h4.30v12.90h-4.30zM1327.40 580.90h4.30v4.30h-4.30zM1353.20 580.90h4.30v4.30h-4.30zM1327.40 585.20h8.60v4.30h-8.60zM1348.90 585.20h8.60v4.30h-8.60zM1336.00 589.50h12.90v4.30h-12.90zM1348.90 546.50h12.90v4.30h-12.90zM1340.30 550.80h8.60v4.30h-8.60zM1361.80 550.80h8.60v4.30h-8.60zM1340.30 555.10h4.30v4.30h-4.30zM1366.10 555.10h4.30v4.30h-4.30zM1336.00 559.40h4.30v12.90h-4.30zM1370.40 559.40h4.30v12.90h-4.30zM1340.30 572.30h4.30v4.30h-4.30zM1366.10 572.30h4.30v4.30h-4.30zM1340.30 576.60h8.60v4.30h-8.60zM1361.80 576.60h8.60v4.30h-8.60zM1348.90 580.90h12.90v4.30h-12.90zM1361.80 537.90h12.90v4.30h-12.90zM1353.20 542.20h8.60v4.30h-8.60zM1374.70 542.20h8.60v4.30h-8.60zM1353.20 546.50h4.30v4.30h-4.30zM1379.00 546.50h4.30v4.30h-4.30zM1348.90 550.80h4.30v12.90h-4.30zM1383.30 550.80h4.30v12.90h-4.30zM1353.20 563.70h4.30v4.30h-4.30zM1379.00 563.70h4.30v4.30h-4.30zM1353.20 568.00h8.60v4.30h-8.60zM1374.70 568.00h8.60v4.30h-8.60zM1361.80 572.30h12.90v4.30h-12.90zM1370.40 529.30h12.90v4.30h-12.90zM1361.80 533.60h8.60v4.30h-8.60zM1383.30 533.60h8.60v4.30h-8.60zM1361.80 537.90h4.30v4.30h-4.30zM1387.60 537.90h4.30v4.30h-4.30zM1357.50 542.20h4.30v12.90h-4.30zM1391.90 542.20h4.30v12.90h-4.30zM1361.80 555.10h4.30v4.30h-4.30zM1387.60 555.10h4.30v4.30h-4.30zM1361.80 559.40h8.60v4.30h-8.60zM1383.30 559.40h8.60v4.30h-8.60zM1370.40 563.70h12.90v4.30h-12.90zM1383.30 520.70h12.90v4.30h-12.90zM1374.70 525.00h8.60v4.30h-8.60zM1396.20 525.00h8.60v4.30h-8.60zM1374.70 529.30h4.30v4.30h-4.30zM1400.50 529.30h4.30v4.30h-4.30zM1370.40 533.60h4.30v12.90h-4.30zM1404.80 533.60h4.30v12.90h-4.30zM1374.70 546.50h4.30v4.30h-4.30zM1400.50 546.50h4.30v4.30h-4.30zM1374.70 550.80h8.60v4.30h-8.60zM1396.20 550.80h8.60v4.30h-8.60zM1383.30 555.10h12.90v4.30h-12.90zM1391.90 512.10h12.90v4.30h-12.90zM1383.30 516.40h8.60v4.30h-8.60zM1404.80 516.40h8.60v4.30h-8.60zM1383.30 520.70h4.30v4.30h-4.30zM1409.10 520.70h4.30v4.30h-4.30zM1379.00 525.00h4.30v12.90h-4.30zM1413.40 525.00h4.30v12.90h-4.30zM1383.30 537.90h4.30v4.30h-4.30zM1409.10 537.90h4.30v4.30h-4.30zM1383.30 542.20h8.60v4.30h-8.60zM1404.80 542.20h8.60v4.30h-8.60zM1391.90 546.50h12.90v4.30h-12.90zM1404.80 507.80h12.90v4.30h-12.90zM1396.20 512.10h8.60v4.30h-8.60zM1417.70 512.10h8.60v4.30h-8.60zM1396.20 516.40h4.30v4.30h-4.30zM1422.00 516.40h4.30v4.30h-4.30zM1391.90 520.70h4.30v12.90h-4.30zM1426.30 520.70h4.30v12.90h-4.30zM1396.20 533.60h4.30v4.30h-4.30zM1422.00 533.60h4.30v4.30h-4.30zM1396.20 537.90h8.60v4.30h-8.60zM1417.70 537.90h8.60v4.30h-8.60zM1404.80 542.20h12.90v4.30h-12.90zM1417.70 499.20h12.90v4.30h-12.90zM1409.10 503.50h8.60v4.30h-8.60zM1430.60 503.50h8.60v4.30h-8.60zM1409.10 507.80h4.30v4.30h-4.30zM1434.90 507.80h4.30v4.30h-4.30zM1404.80 512.10h4.30v12.90h-4.30zM1439.20 512.10h4.30v12.90h-4.30zM1409.10 525.00h4.30v4.30h-4.30zM1434.90 525.00h4.30v4.30h-4.30zM1409.10 529.30h8.60v4.30h-8.60zM1430.60 529.30h8.60v4.30h-8.60zM1417.70 533.60h12.90v4.30h-12.90zM1426.30 490.60h12.90v4.30h-12.90zM1417.70 494.90h8.60v4.30h-8.60zM1439.20 494.90h8.60v4.30h-8.60zM1417.70 499.20h4.30v4.30h-4.30zM1443.50 499.20h4.30v4.30h-4.30zM1413.40 503.50h4.30v12.90h-4.30zM1447.80 503.50h4.30v12.90h-4.30zM1417.70 516.40h4.30v4.30h-4.30zM1443.50 516.40h4.30v4.30h-4.30zM1417.70 520.70h8.60v4.30h-8.60zM1439.20 520.70h8.60v4.30h-8.60zM1426.30 525.00h12.90v4.30h-12.90zM1439.20 482.00h12.90v4.30h-12.90zM1430.60 486.30h8.60v4.30h-8.60zM1452.10 486.30h8.60v4.30h-8.60zM1430.60 490.60h4.30v4.30h-4.30zM1456.40 490.60h4.30v4.30h-4.30zM1426.30 494.90h4.30v12.90h-4.30zM1460.70 494.90h4.30v12.90h-4.30zM1430.60 507.80h4.30v4.30h-4.30zM1456.40 507.80h4.30v4.30h-4.30zM1430.60 512.10h8.60v4.30h-8.60zM1452.10 512.10h8.60v4.30h-8.60zM1439.20 516.40h12.90v4.30h-12.90zM1447.80 473.40h12.90v4.30h-12.90zM1439.20 477.70h8.60v4.30h-8.60zM1460.70 477.70h8.60v4.30h-8.60zM1439.20 482.00h4.30v4.30h-4.30zM1465.00 482.00h4.30v4.30h-4.30zM1434.90 486.30h4.30v12.90h-4.30zM1469.30 486.30h4.30v12.90h-4.30zM1439.20 499.20h4.30v4.30h-4.30zM1465.00 499.20h4.30v4.30h-4.30zM1439.20 503.50h8.60v4.30h-8.60zM1460.70 503.50h8.60v4.30h-8.60zM1447.80 507.80h12.90v4.30h-12.90zM1460.70 464.80h12.90v4.30h-12.90zM1452.10 469.10h8.60v4.30h-8.60zM1473.60 469.10h8.60v4.30h-8.60zM1452.10 473.40h4.30v4.30h-4.30zM1477.90 473.40h4.30v4.30h-4.30zM1447.80 477.70h4.30v12.90h-4.30zM1482.20 477.70h4.30v12.90h-4.30zM1452.10 490.60h4.30v4.30h-4.30zM1477.90 490.60h4.30v4.30h-4.30zM1452.10 494.90h8.60v4.30h-8.60zM1473.60 494.90h8.60v4.30h-8.60zM1460.70 499.20h12.90v4.30h-12.90zM1473.60 456.20h12.90v4.30h-12.90zM1465.00 460.50h8.60v4.30h-8.60zM1486.50 460.50h8.60v4.30h-8.60zM1465.00 464.80h4.30v4.30h-4.30zM1490.80 464.80h4.30v4.30h-4.30zM1460.70 469.10h4.30v12.90h-4.30zM1495.10 469.10h4.30v12.90h-4.30zM1465.00 482.00h4.30v4.30h-4.30zM1490.80 482.00h4.30v4.30h-4.30zM1465.00 486.30h8.60v4.30h-8.60zM1486.50 486.30h8.60v4.30h-8.60zM1473.60 490.60h12.90v4.30h-12.90zM1482.20 447.60h12.90v4.30h-12.90zM1473.60 451.90h8.60v4.30h-8.60zM1495.10 451.90h8.60v4.30h-8.60zM1473.60 456.20h4.30v4.30h-4.30zM1499.40 456.20h4.30v4.30h-4.30zM1469.30 460.50h4.30v12.90h-4.30zM1503.70 460.50h4.30v12.90h-4.30zM1473.60 473.40h4.30v4.30h-4.30zM1499.40 473.40h4.30v4.30h-4.30zM1473.60 477.70h8.60v4.30h-8.60zM1495.10 477.70h8.60v4.30h-8.60zM1482.20 482.00h12.90v4.30h-12.90zM1495.10 439.00h12.90v4.30h-12.90zM1486.50 443.30h8.60v4.30h-8.60zM1508.00 443.30h8.60v4.30h-8.60zM1486.50 447.60h4.30v4.30h-4.30zM1512.30 447.60h4.30v4.30h-4.30zM1482.20 451.90h4.30v12.90h-4.30zM1516.60 451.90h4.30v12.90h-4.30zM1486.50 464.80h4.30v4.30h-4.30zM1512.30 464.80h4.30v4.30h-4.30zM1486.50 469.10h8.60v4.30h-8.60zM1508.00 469.10h8.60v4.30h-8.60zM1495.10 473.40h12.90v4.30h-12.90zM1503.70 430.40h12.90v4.30h-12.90zM1495.10 434.70h8.60v4.30h-8.60zM1516.60 434.70h8.60v4.30h-8.60zM1495.10 439.00h4.30v4.30h-4.30zM1520.90 439.00h4.30v4.30h-4.30zM1490.80 443.30h4.30v12.90h-4.30zM1525.20 443.30h4.30v12.90h-4.30zM1495.10 456.20h4.30v4.30h-4.30zM1520.90 456.20h4.30v4.30h-4.30zM1495.10 460.50h8.60v4.30h-8.60zM1516.60 460.50h8.60v4.30h-8.60zM1503.70 464.80h12.90v4.30h-12.90zM1516.60 426.10h12.90v4.30h-12.90zM1508.00 430.40h8.60v4.30h-8.60zM1529.50 430.40h8.60v4.30h-8.60zM1508.00 434.70h4.30v4.30h-4.30zM1533.80 434.70h4.30v4.30h-4.30zM1503.70 439.00h4.30v12.90h-4.30zM1538.10 439.00h4.30v12.90h-4.30zM1508.00 451.90h4.30v4.30h-4.30zM1533.80 451.90h4.30v4.30h-4.30zM1508.00 456.20h8.60v4.30h-8.60zM1529.50 456.20h8.60v4.30h-8.60zM1516.60 460.50h12.90v4.30h-12.90zM1529.50 417.50h12.90v4.30h-12.90zM1520.90 421.80h8.60v4.30h-8.60zM1542.40 421.80h8.60v4.30h-8.60zM1520.90 426.10h4.30v4.30h-4.30zM1546.70 426.10h4.30v4.30h-4.30zM1516.60 430.40h4.30v12.90h-4.30zM1551.00 430.40h4.30v12.90h-4.30zM1520.90 443.30h4.30v4.30h-4.30zM1546.70 443.30h4.30v4.30h-4.30zM1520.90 447.60h8.60v4.30h-8.60zM1542.40 447.60h8.60v4.30h-8.60zM1529.50 451.90h12.90v4.30h-12.90zM1538.10 408.90h12.90v4.30h-12.90zM1529.50 413.20h8.60v4.30h-8.60zM1551.00 413.20h8.60v4.30h-8.60zM1529.50 417.50h4.30v4.30h-4.30zM1555.30 417.50h4.30v4.30h-4.30zM1525.20 421.80h4.30v12.90h-4.30zM1559.60 421.80h4.30v12.90h-4.30zM1529.50 434.70h4.30v4.30h-4.30zM1555.30 434.70h4.30v4.30h-4.30zM1529.50 439.00h8.60v4.30h-8.60zM1551.00 439.00h8.60v4.30h-8.60zM1538.10 443.30h12.90v4.30h-12.90zM1551.00 400.30h12.90v4.30h-12.90zM1542.40 404.60h8.60v4.30h-8.60zM1563.90 404.60h8.60v4.30h-8.60zM1542.40 408.90h4.30v4.30h-4.30zM1568.20 408.90h4.30v4.30h-4.30zM1538.10 413.20h4.30v12.90h-4.30zM1572.50 413.20h4.30v12.90h-4.30zM1542.40 426.10h4.30v4.30h-4.30zM1568.20 426.10h4.30v4.30h-4.30zM1542.40 430.40h8.60v4.30h-8.60zM1563.90 430.40h8.60v4.30h-8.60zM1551.00 434.70h12.90v4.30h-12.90zM1563.90 391.70h12.90v4.30h-12.90zM1555.30 396.00h8.60v4.30h-8.60zM1576.80 396.00h8.60v4.30h-8.60zM1555.30 400.30h4.30v4.30h-4.30zM1581.10 400.30h4.30v4.30h-4.30zM1551.00 404.60h4.30v12.90h-4.30zM1585.40 404.60h4.30v12.90h-4.30zM1555.30 417.50h4.30v4.30h-4.30zM1581.10 417.50h4.30v4.30h-4.30zM1555.30 421.80h8.60v4.30h-8.60zM1576.80 421.80h8.60v4.30h-8.60zM1563.90 426.10h12.90v4.30h-12.90zM1572.50 383.10h12.90v4.30h-12.90zM1563.90 387.40h8.60v4.30h-8.60zM1585.40 387.40h8.60v4.30h-8.60zM1563.90 391.70h4.30v4.30h-4.30zM1589.70 391.70h4.30v4.30h-4.30zM1559.60 396.00h4.30v12.90h-4.30zM1594.00 396.00h4.30v12.90h-4.30zM1563.90 408.90h4.30v4.30h-4.30zM1589.70 408.90h4.30v4.30h-4.30zM1563.90 413.20h8.60v4.30h-8.60zM1585.40 413.20h8.60v4.30h-8.60zM1572.50 417.50h12.90v4.30h-12.90zM1585.40 374.50h12.90v4.30h-12.90zM1576.80 378.80h8.60v4.30h-8.60zM1598.30 378.80h8.60v4.30h-8.60zM1576.80 383.10h4.30v4.30h-4.30zM1602.60 383.10h4.30v4.30h-4.30zM1572.50 387.40h4.30v12.90h-4.30zM1606.90 387.40h4.30v12.90h-4.30zM1576.80 400.30h4.30v4.30h-4.30zM1602.60 400.30h4.30v4.30h-4.30zM1576.80 404.60h8.60v4.30h-8.60zM1598.30 404.60h8.60v4.30h-8.60zM1585.40 408.90h12.90v4.30h-12.90zM1594.00 365.90h12.90v4.30h-12.90zM1585.40 370.20h8.60v4.30h-8.60zM1606.90 370.20h8.60v4.30h-8.60zM1585.40 374.50h4.30v4.30h-4.30zM1611.20 374.50h4.30v4.30h-4.30zM1581.10 378.80h4.30v12.90h-4.30zM1615.50 378.80h4.30v12.90h-4.30zM1585.40 391.70h4.30v4.30h-4.30zM1611.20 391.70h4.30v4.30h-4.30zM1585.40 396.00h8.60v4.30h-8.60zM1606.90 396.00h8.60v4.30h-8.60zM1594.00 400.30h12.90v4.30h-12.90zM1606.90 357.30h12.90v4.30h-12.90zM1598.30 361.60h8.60v4.30h-8.60zM1619.80 361.60h8.60v4.30h-8.60zM1598.30 365.90h4.30v4.30h-4.30zM1624.10 365.90h4.30v4.30h-4.30zM1594.00 370.20h4.30v12.90h-4.30zM1628.40 370.20h4.30v12.90h-4.30zM1598.30 383.10h4.30v4.30h-4.30zM1624.10 383.10h4.30v4.30h-4.30zM1598.30 387.40h8.60v4.30h-8.60zM1619.80 387.40h8.60v4.30h-8.60zM1606.90 391.70h12.90v4.30h-12.90zM1619.80 348.70h12.90v4.30h-12.90zM1611.20 353.00h8.60v4.30h-8.60zM1632.70 353.00h8.60v4.30h-8.60zM1611.20 357.30h4.30v4.30h-4.30zM1637.00 357.30h4.30v4.30h-4.30zM1606.90 361.60h4.30v12.90h-4.30zM1641.30 361.60h4.30v12.90h-4.30zM1611.20 374.50h4.30v4.30h-4.30zM1637.00 374.50h4.30v4.30h-4.30zM1611.20 378.80h8.60v4.30h-8.60zM1632.70 378.80h8.60v4.30h-8.60zM1619.80 383.10h12.90v4.30h-12.90zM1628.40 344.40h12.90v4.30h-12.90zM1619.80 348.70h8.60v4.30h-8.60zM1641.30 348.70h8.60v4.30h-8.60zM1619.80 353.00h4.30v4.30h-4.30zM1645.60 353.00h4.30v4.30h-4.30zM1615.50 357.30h4.30v12.90h-4.30zM1649.90 357.30h4.30v12.90h-4.30zM1619.80 370.20h4.30v4.30h-4.30zM1645.60 370.20h4.30v4.30h-4.30zM1619.80 374.50h8.60v4.30h-8.60zM1641.30 374.50h8.60v4.30h-8.60zM1628.40 378.80h12.90v4.30h-12.90zM1641.30 335.80h12.90v4.30h-12.90zM1632.70 340.10h8.60v4.30h-8.60zM1654.20 340.10h8.60v4.30h-8.60zM1632.70 344.40h4.30v4.30h-4.30zM1658.50 344.40h4.30v4.30h-4.30zM1628.40 348.70h4.30v12.90h-4.30zM1662.80 348.70h4.30v12.90h-4.30zM1632.70 361.60h4.30v4.30h-4.30zM1658.50 361.60h4.30v4.30h-4.30zM1632.70 365.90h8.60v4.30h-8.60zM1654.20 365.90h8.60v4.30h-8.60zM1641.30 370.20h12.90v4.30h-12.90zM1649.90 327.20h12.90v4.30h-12.90zM1641.30 331.50h8.60v4.30h-8.60zM1662.80 331.50h8.60v4.30h-8.60zM1641.30 335.80h4.30v4.30h-4.30zM1667.10 335.80h4.30v4.30h-4.30zM1637.00 340.10h4.30v12.90h-4.30zM1671.40 340.10h4.30v12.90h-4.30zM1641.30 353.00h4.30v4.30h-4.30zM1667.10 353.00h4.30v4.30h-4.30zM1641.30 357.30h8.60v4.30h-8.60zM1662.80 357.30h8.60v4.30h-8.60zM1649.90 361.60h12.90v4.30h-12.90zM1662.80 318.60h12.90v4.30h-12.90zM1654.20 322.90h8.60v4.30h-8.60zM1675.70 322.90h8.60v4.30h-8.60zM1654.20 327.20h4.30v4.30h-4.30zM1680.00 327.20h4.30v4.30h-4.30zM1649.90 331.50h4.30v12.90h-4.30zM1684.30 331.50h4.30v12.90h-4.30zM1654.20 344.40h4.30v4.30h-4.30zM1680.00 344.40h4.30v4.30h-4.30zM1654.20 348.70h8.60v4.30h-8.60zM1675.70 348.70h8.60v4.30h-8.60zM1662.80 353.00h12.90v4.30h-12.90zM1675.70 310.00h12.90v4.30h-12.90zM1667.10 314.30h8.60v4.30h-8.60zM1688.60 314.30h8.60v4.30h-8.60zM1667.10 318.60h4.30v4.30h-4.30zM1692.90 318.60h4.30v4.30h-4.30zM1662.80 322.90h4.30v12.90h-4.30zM1697.20 322.90h4.30v12.90h-4.30zM1667.10 335.80h4.30v4.30h-4.30zM1692.90 335.80h4.30v4.30h-4.30zM1667.10 340.10h8.60v4.30h-8.60zM1688.60 340.10h8.60v4.30h-8.60zM1675.70 344.40h12.90v4.30h-12.90zM1684.30 301.40h12.90v4.30h-12.90zM1675.70 305.70h8.60v4.30h-8.60zM1697.20 305.70h8.60v4.30h-8.60zM1675.70 310.00h4.30v4.30h-4.30zM1701.50 310.00h4.30v4.30h-4.30zM1671.40 314.30h4.30v12.90h-4.30zM1705.80 314.30h4.30v12.90h-4.30zM1675.70 327.20h4.30v4.30h-4.30zM1701.50 327.20h4.30v4.30h-4.30zM1675.70 331.50h8.60v4.30h-8.60zM1697.20 331.50h8.60v4.30h-8.60zM1684.30 335.80h12.90v4.30h-12.90zM1697.20 292.80h12.90v4.30h-12.90zM1688.60 297.10h8.60v4.30h-8.60zM1710.10 297.10h8.60v4.30h-8.60zM1688.60 301.40h4.30v4.30h-4.30zM1714.40 301.40h4.30v4.30h-4.30zM1684.30 305.70h4.30v12.90h-4.30zM1718.70 305.70h4.30v12.90h-4.30zM1688.60 318.60h4.30v4.30h-4.30zM1714.40 318.60h4.30v4.30h-4.30zM1688.60 322.90h8.60v4.30h-8.60zM1710.10 322.90h8.60v4.30h-8.60zM1697.20 327.20h12.90v4.30h-12.90zM1705.80 284.20h12.90v4.30h-12.90zM1697.20 288.50h8.60v4.30h-8.60zM1718.70 288.50h8.60v4.30h-8.60zM1697.20 292.80h4.30v4.30h-4.30zM1723.00 292.80h4.30v4.30h-4.30zM1692.90 297.10h4.30v12.90h-4.30zM1727.30 297.10h4.30v12.90h-4.30zM1697.20 310.00h4.30v4.30h-4.30zM1723.00 310.00h4.30v4.30h-4.30zM1697.20 314.30h8.60v4.30h-8.60zM1718.70 314.30h8.60v4.30h-8.60zM1705.80 318.60h12.90v4.30h-12.90zM1718.70 275.60h12.90v4.30h-12.90zM1710.10 279.90h8.60v4.30h-8.60zM1731.60 279.90h8.60v4.30h-8.60zM1710.10 284.20h4.30v4.30h-4.30zM1735.90 284.20h4.30v4.30h-4.30zM1705.80 288.50h4.30v12.90h-4.30zM1740.20 288.50h4.30v12.90h-4.30zM1710.10 301.40h4.30v4.30h-4.30zM1735.90 301.40h4.30v4.30h-4.30zM1710.10 305.70h8.60v4.30h-8.60zM1731.60 305.70h8.60v4.30h-8.60zM1718.70 310.00h12.90v4.30h-12.90zM1731.60 267.00h12.90v4.30h-12.90zM1723.00 271.30h8.60v4.30h-8.60zM1744.50 271.30h8.60v4.30h-8.60zM1723.00 275.60h4.30v4.30h-4.30zM1748.80 275.60h4.30v4.30h-4.30zM1718.70 279.90h4.30v12.90h-4.30zM1753.10 279.90h4.30v12.90h-4.30zM1723.00 292.80h4.30v4.30h-4.30zM1748.80 292.80h4.30v4.30h-4.30zM1723.00 297.10h8.60v4.30h-8.60zM1744.50 297.10h8.60v4.30h-8.60zM1731.60 301.40h12.90v4.30h-12.90zM1740.20 262.70h12.90v4.30h-12.90zM1731.60 267.00h8.60v4.30h-8.60zM1753.10 267.00h8.60v4.30h-8.60zM1731.60 271.30h4.30v4.30h-4.30zM1757.40 271.30h4.30v4.30h-4.30zM1727.30 275.60h4.30v12.90h-4.30zM1761.70 275.60h4.30v12.90h-4.30zM1731.60 288.50h4.30v4.30h-4.30zM1757.40 288.50h4.30v4.30h-4.30zM1731.60 292.80h8.60v4.30h-8.60zM1753.10 292.80h8.60v4.30h-8.60zM1740.20 297.10h12.90v4.30h-12.90zM1753.10 254.10h12.90v4.30h-12.90zM1744.50 258.40h8.60v4.30h-8.60zM1766.00 258.40h8.60v4.30h-8.60zM1744.50 262.70h4.30v4.30h-4.30zM1770.30 262.70h4.30v4.30h-4.30zM1740.20 267.00h4.30v12.90h-4.30zM1774.60 267.00h4.30v12.90h-4.30zM1744.50 279.90h4.30v4.30h-4.30zM1770.30 279.90h4.30v4.30h-4.30zM1744.50 284.20h8.60v4.30h-8.60zM1766.00 284.20h8.60v4.30h-8.60zM1753.10 288.50h12.90v4.30h-12.90zM1761.70 245.50h12.90v4.30h-12.90zM1753.10 249.80h8.60v4.30h-8.60zM1774.60 249.80h8.60v4.30h-8.60zM1753.10 254.10h4.30v4.30h-4.30zM1778.90 254.10h4.30v4.30h-4.30zM1748.80 258.40h4.30v12.90h-4.30zM1783.20 258.40h4.30v12.90h-4.30zM1753.10 271.30h4.30v4.30h-4.30zM1778.90 271.30h4.30v4.30h-4.30zM1753.10 275.60h8.60v4.30h-8.60zM1774.60 275.60h8.60v4.30h-8.60zM1761.70 279.90h12.90v4.30h-12.90zM1774.60 236.90h12.90v4.30h-12.90zM1766.00 241.20h8.60v4.30h-8.60zM1787.50 241.20h8.60v4.30h-8.60zM1766.00 245.50h4.30v4.30h-4.30zM1791.80 245.50h4.30v4.30h-4.30zM1761.70 249.80h4.30v12.90h-4.30zM1796.10 249.80h4.30v12.90h-4.30zM1766.00 262.70h4.30v4.30h-4.30zM1791.80 262.70h4.30v4.30h-4.30zM1766.00 267.00h8.60v4.30h-8.60zM1787.50 267.00h8.60v4.30h-8.60zM1774.60 271.30h12.90v4.30h-12.90zM1787.50 228.30h12.90v4.30h-12.90zM1778.90 232.60h8.60v4.30h-8.60zM1800.40 232.60h8.60v4.30h-8.60zM1778.90 236.90h4.30v4.30h-4.30zM1804.70 236.90h4.30v4.30h-4.30zM1774.60 241.20h4.30v12.90h-4.30zM1809.00 241.20h4.30v12.90h-4.30zM1778.90 254.10h4.30v4.30h-4.30zM1804.70 254.10h4.30v4.30h-4.30zM1778.90 258.40h8.60v4.30h-8.60zM1800.40 258.40h8.60v4.30h-8.60zM1787.50 262.70h12.90v4.30h-12.90zM1796.10 219.70h12.90v4.30h-12.90zM1787.50 224.00h8.60v4.30h-8.60zM1809.00 224.00h8.60v4.30h-8.60zM1787.50 228.30h4.30v4.30h-4.30zM1813.30 228.30h4.30v4.30h-4.30zM1783.20 232.60h4.30v12.90h-4.30zM1817.60 232.60h4.30v12.90h-4.30zM1787.50 245.50h4.30v4.30h-4.30zM1813.30 245.50h4.30v4.30h-4.30zM1787.50 249.80h8.60v4.30h-8.60zM1809.00 249.80h8.60v4.30h-8.60zM1796.10 254.10h12.90v4.30h-12.90zM1809.00 211.10h12.90v4.30h-12.90zM1800.40 215.40h8.60v4.30h-8.60zM1821.90 215.40h8.60v4.30h-8.60zM1800.40 219.70h4.30v4.30h-4.30zM1826.20 219.70h4.30v4.30h-4.30zM1796.10 224.00h4.30v12.90h-4.30zM1830.50 224.00h4.30v12.90h-4.30zM1800.40 236.90h4.30v4.30h-4.30zM1826.20 236.90h4.30v4.30h-4.30zM1800.40 241.20h8.60v4.30h-8.60zM1821.90 241.20h8.60v4.30h-8.60zM1809.00 245.50h12.90v4.30h-12.90zM1821.90 202.50h12.90v4.30h-12.90zM1813.30 206.80h8.60v4.30h-8.60zM1834.80 206.80h8.60v4.30h-8.60zM1813.30 211.10h4.30v4.30h-4.30zM1839.10 211.10h4.30v4.30h-4.30zM1809.00 215.40h4.30v12.90h-4.30zM1843.40 215.40h4.30v12.90h-4.30zM1813.30 228.30h4.30v4.30h-4.30zM1839.10 228.30h4.30v4.30h-4.30zM1813.30 232.60h8.60v4.30h-8.60zM1834.80 232.60h8.60v4.30h-8.60zM1821.90 236.90h12.90v4.30h-12.90zM1830.50 193.90h12.90v4.30h-12.90zM1821.90 198.20h8.60v4.30h-8.60zM1843.40 198.20h8.60v4.30h-8.60zM1821.90 202.50h4.30v4.30h-4.30zM1847.70 202.50h4.30v4.30h-4.30zM1817.60 206.80h4.30v12.90h-4.30zM1852.00 206.80h4.30v12.90h-4.30zM1821.90 219.70h4.30v4.30h-4.30zM1847.70 219.70h4.30v4.30h-4.30zM1821.90 224.00h8.60v4.30h-8.60zM1843.40 224.00h8.60v4.30h-8.60zM1830.50 228.30h12.90v4.30h-12.90zM1843.40 185.30h12.90v4.30h-12.90zM1834.80 189.60h8.60v4.30h-8.60zM1856.30 189.60h8.60v4.30h-8.60zM1834.80 193.90h4.30v4.30h-4.30zM1860.60 193.90h4.30v4.30h-4.30zM1830.50 198.20h4.30v12.90h-4.30zM1864.90 198.20h4.30v12.90h-4.30zM1834.80 211.10h4.30v4.30h-4.30zM1860.60 211.10h4.30v4.30h-4.30zM1834.80 215.40h8.60v4.30h-8.60zM1856.30 215.40h8.60v4.30h-8.60zM1843.40 219.70h12.90v4.30h-12.90zM1852.00 176.70h12.90v4.30h-12.90zM1843.40 181.00h8.60v4.30h-8.60zM1864.90 181.00h8.60v4.30h-8.60zM1843.40 185.30h4.30v4.30h-4.30zM1869.20 185.30h4.30v4.30h-4.30zM1839.10 189.60h4.30v12.90h-4.30zM1873.50 189.60h4.30v12.90h-4.30zM1843.40 202.50h4.30v4.30h-4.30zM1869.20 202.50h4.30v4.30h-4.30zM1843.40 206.80h8.60v4.30h-8.60zM1864.90 206.80h8.60v4.30h-8.60zM1852.00 211.10h12.90v4.30h-12.90zM1864.90 168.10h12.90v4.30h-12.90zM1856.30 172.40h8.60v4.30h-8.60zM1877.80 172.40h8.60v4.30h-8.60zM1856.30 176.70h4.30v4.30h-4.30zM1882.10 176.70h4.30v4.30h-4.30zM1852.00 181.00h4.30v12.90h-4.30zM1886.40 181.00h4.30v12.90h-4.30zM1856.30 193.90h4.30v4.30h-4.30zM1882.10 193.90h4.30v4.30h-4.30zM1856.30 198.20h8.60v4.30h-8.60zM1877.80 198.20h8.60v4.30h-8.60zM1864.90 202.50h12.90v4.30h-12.90zM1877.80 159.50h12.90v4.30h-12.90zM1869.20 163.80h8.60v4.30h-8.60zM1890.70 163.80h8.60v4.30h-8.60zM1869.20 168.10h4.30v4.30h-4.30zM1895.00 168.10h4.30v4.30h-4.30zM1864.90 172.40h4.30v12.90h-4.30zM1899.30 172.40h4.30v12.90h-4.30zM1869.20 185.30h4.30v4.30h-4.30zM1895.00 185.30h4.30v4.30h-4.30zM1869.20 189.60h8.60v4.30h-8.60zM1890.70 189.60h8.60v4.30h-8.60zM1877.80 193.90h12.90v4.30h-12.90zM1886.40 150.90h12.90v4.30h-12.90zM1877.80 155.20h8.60v4.30h-8.60zM1899.30 155.20h8.60v4.30h-8.60zM1877.80 159.50h4.30v4.30h-4.30zM1903.60 159.50h4.30v4.30h-4.30zM1873.50 163.80h4.30v12.90h-4.30zM1907.90 163.80h4.30v12.90h-4.30zM1877.80 176.70h4.30v4.30h-4.30zM1903.60 176.70h4.30v4.30h-4.30zM1877.80 181.00h8.60v4.30h-8.60zM1899.30 181.00h8.60v4.30h-8.60zM1886.40 185.30h12.90v4.30h-12.90zM1899.30 142.30h12.90v4.30h-12.90zM1890.70 146.60h8.60v4.30h-8.60zM1912.20 146.60h8.60v4.30h-8.60zM1890.70 150.90h4.30v4.30h-4.30zM1916.50 150.90h4.30v4.30h-4.30zM1886.40 155.20h4.30v12.90h-4.30zM1920.80 155.20h4.30v12.90h-4.30zM1890.70 168.10h4.30v4.30h-4.30zM1916.50 168.10h4.30v4.30h-4.30zM1890.70 172.40h8.60v4.30h-8.60zM1912.20 172.40h8.60v4.30h-8.60zM1899.30 176.70h12.90v4.30h-12.90zM1907.90 133.70h12.90v4.30h-12.90zM1899.30 138.00h8.60v4.30h-8.60zM1920.80 138.00h8.60v4.30h-8.60zM1899.30 142.30h4.30v4.30h-4.30zM1925.10 142.30h4.30v4.30h-4.30zM1895.00 146.60h4.30v12.90h-4.30zM1929.40 146.60h4.30v12.90h-4.30zM1899.30 159.50h4.30v4.30h-4.30zM1925.10 159.50h4.30v4.30h-4.30zM1899.30 163.80h8.60v4.30h-8.60zM1920.80 163.80h8.60v4.30h-8.60zM1907.90 168.10h12.90v4.30h-12.90zM1920.80 125.10h12.90v4.30h-12.90zM1912.20 129.40h8.60v4.30h-8.60zM1933.70 129.40h8.60v4.30h-8.60zM1912.20 133.70h4.30v4.30h-4.30zM1938.00 133.70h4.30v4.30h-4.30zM1907.90 138.00h4.30v12.90h-4.30zM1942.30 138.00h4.30v12.90h-4.30zM1912.20 150.90h4.30v4.30h-4.30zM1938.00 150.90h4.30v4.30h-4.30zM1912.20 155.20h8.60v4.30h-8.60zM1933.70 155.20h8.60v4.30h-8.60zM1920.80 159.50h12.90v4.30h-12.90z" fill="#0000ff" shape-rendering="crispEdges"/>
<rect x="341.3" y="162.3" width="886" height="181.2" fill="#fff" stroke="#000" stroke-width="4.4"/>
<line x1="373.6" y1="209.9" x2="546.3" y2="209.9" stroke="#ff0000" stroke-width="4.4"/>
<path d="M459.85 190.45h4.30v38.70h-4.30zM442.65 207.65h38.70v4.30h-38.70zM455.55 203.35h12.90v12.90h-12.90zM451.25 199.05h4.30v4.30h-4.30zM468.45 199.05h4.30v4.30h-4.30zM451.25 216.25h4.30v4.30h-4.30zM468.45 216.25h4.30v4.30h-4.30z" fill="#ff0000" shape-rendering="crispEdges"/>
<line x1="373.6" y1="291.8" x2="546.3" y2="291.8" stroke="#0000ff" stroke-width="4.4"/>
<path d="M455.85 272.45h12.90v4.30h-12.90zM447.25 276.75h8.60v4.30h-8.60zM468.75 276.75h8.60v4.30h-8.60zM447.25 281.05h4.30v4.30h-4.30zM473.05 281.05h4.30v4.30h-4.30zM442.95 285.35h4.30v12.90h-4.30zM477.35 285.35h4.30v12.90h-4.30zM447.25 298.25h4.30v4.30h-4.30zM473.05 298.25h4.30v4.30h-4.30zM447.25 302.55h8.60v4.30h-8.60zM468.75 302.55h8.60v4.30h-8.60zM455.85 306.85h12.90v4.30h-12.90z" fill="#0000ff" shape-rendering="crispEdges"/>
<text x="560.5" y="233.5" text-anchor="start" textLength="523.0" lengthAdjust="spacingAndGlyphs" font-size="61">True target trajectory</text>
<text x="562.5" y="315.1" text-anchor="start" textLength="637.0" lengthAdjust="spacingAndGlyphs" font-size="61">Estimate target trajectory</text>
<text x="235.6" y="78.2" text-anchor="end" textLength="77.4" lengthAdjust="spacingAndGlyphs" font-size="61">6.6</text>
<text x="235.6" y="242.6" text-anchor="end" textLength="77.4" lengthAdjust="spacingAndGlyphs" font-size="61">6.4</text>
<text x="235.6" y="406.7" text-anchor="end" textLength="77.4" lengthAdjust="spacingAndGlyphs" font-size="61">6.2</text>
<text x="235.6" y="570.8" text-anchor="end" textLength="30.1" lengthAdjust="spacingAndGlyphs" font-size="61">6</text>
<text x="235.6" y="734.6" text-anchor="end" textLength="77.4" lengthAdjust="spacingAndGlyphs" font-size="61">5.8</text>
<text x="235.6" y="899.4" text-anchor="end" textLength="77.4" lengthAdjust="spacingAndGlyphs" font-size="61">5.6</text>
<text x="235.6" y="1063.7" text-anchor="end" textLength="77.4" lengthAdjust="spacingAndGlyphs" font-size="61">5.4</text>
<text x="235.6" y="1227.9" text-anchor="end" textLength="77.4" lengthAdjust="spacingAndGlyphs" font-size="61">5.2</text>
<text x="235.6" y="1391.9" text-anchor="end" textLength="30.1" lengthAdjust="spacingAndGlyphs" font-size="61">5</text>
<text x="254.7" y="1603.6" text-anchor="middle" textLength="90.3" lengthAdjust="spacingAndGlyphs" font-size="61">100</text>
<text x="626.5" y="1603.6" text-anchor="middle" textLength="90.3" lengthAdjust="spacingAndGlyphs" font-size="61">150</text>
<text x="1002.5" y="1603.6" text-anchor="middle" textLength="90.3" lengthAdjust="spacingAndGlyphs" font-size="61">200</text>
<text x="1378.5" y="1603.6" text-anchor="middle" textLength="90.3" lengthAdjust="spacingAndGlyphs" font-size="61">250</text>
<text x="1753.8" y="1603.6" text-anchor="middle" textLength="90.3" lengthAdjust="spacingAndGlyphs" font-size="61">300</text>
<text x="2130.7" y="1603.6" text-anchor="middle" textLength="90.3" lengthAdjust="spacingAndGlyphs" font-size="61">350</text>
<text x="1054.5" y="1677.0" text-anchor="start" textLength="259.0" lengthAdjust="spacingAndGlyphs" font-size="61">Range/km</text>
<text transform="translate(110.5 960.5) rotate(-90)" x="0" y="0" textLength="313" lengthAdjust="spacingAndGlyphs" font-size="61">Azimuth/deg</text>
<text class="cap" x="1150" y="1821" text-anchor="middle" font-size="91">(<tspan font-weight="bold">a</tspan>)</text>
<line x1="878.0" y1="3428.1" x2="878.0" y2="1961.9" class="gr"/>
<line x1="1505.4" y1="3428.1" x2="1505.4" y2="1961.9" class="gr"/>
<line x1="253.0" y1="2107.7" x2="2132.8" y2="2107.7" class="gr"/>
<line x1="253.0" y1="2253.3" x2="2132.8" y2="2253.3" class="gr"/>
<line x1="253.0" y1="2398.6" x2="2132.8" y2="2398.6" class="gr"/>
<line x1="253.0" y1="2544.0" x2="2132.8" y2="2544.0" class="gr"/>
<line x1="253.0" y1="2691.6" x2="2132.8" y2="2691.6" class="gr"/>
<line x1="253.0" y1="2839.3" x2="2132.8" y2="2839.3" class="gr"/>
<line x1="253.0" y1="2984.8" x2="2132.8" y2="2984.8" class="gr"/>
<line x1="253.0" y1="3130.4" x2="2132.8" y2="3130.4" class="gr"/>
<line x1="253.0" y1="3275.9" x2="2132.8" y2="3275.9" class="gr"/>
<path d="M878.0 3425.9v-24M878.0 1961.9v24" class="ax"/>
<path d="M1505.4 3425.9v-24M1505.4 1961.9v24" class="ax"/>
<path d="M255.2 2107.7h20M2132.8 2107.7h-24" class="ax"/>
<path d="M255.2 2253.3h20M2132.8 2253.3h-24" class="ax"/>
<path d="M255.2 2398.6h20M2132.8 2398.6h-24" class="ax"/>
<path d="M255.2 2544.0h20M2132.8 2544.0h-24" class="ax"/>
<path d="M255.2 2691.6h20M2132.8 2691.6h-24" class="ax"/>
<path d="M255.2 2839.3h20M2132.8 2839.3h-24" class="ax"/>
<path d="M255.2 2984.8h20M2132.8 2984.8h-24" class="ax"/>
<path d="M255.2 3130.4h20M2132.8 3130.4h-24" class="ax"/>
<path d="M255.2 3275.9h20M2132.8 3275.9h-24" class="ax"/>
<rect x="255.2" y="1961.9" width="1877.6" height="1464.0" class="ax" fill="none"/>
<polyline points="263.1,2694.0 275.7,2694.0 288.2,2694.0 300.8,2694.0 313.3,2694.0 325.9,2694.0 338.4,2694.0 351.0,2694.0 363.5,2694.0 376.1,2694.0 388.6,2694.0 401.2,2694.0 413.7,2694.0 426.3,2694.0 438.8,2694.0 451.4,2694.0 463.9,2694.0 476.5,2694.0 489.0,2694.0 501.6,2694.0 514.1,2694.0 526.7,2694.0 539.2,2694.0 551.8,2694.0 564.3,2694.0 576.8,2694.0 589.4,2694.0 601.9,2694.0 614.5,2694.0 627.0,2694.0 639.6,2694.0 652.1,2694.0 664.7,2694.0 677.2,2694.0 689.8,2694.0 702.3,2694.0 714.9,2694.0 727.4,2694.0 740.0,2694.0 752.5,2694.0 765.1,2694.0 777.6,2694.0 790.2,2694.0 802.7,2694.0 815.3,2694.0 827.8,2694.0 840.4,2694.0 852.9,2694.0 865.5,2694.0 878.0,2694.0 890.5,2694.0 903.1,2694.0 915.6,2694.0 928.2,2694.0 940.7,2694.0 953.3,2694.0 965.8,2694.0 978.4,2694.0 990.9,2694.0 1003.5,2694.0 1016.0,2694.0 1028.6,2694.0 1041.1,2694.0 1053.7,2694.0 1066.2,2694.0 1078.8,2694.0 1091.3,2694.0 1103.9,2694.0 1116.4,2694.0 1129.0,2694.0 1141.5,2694.0 1154.1,2694.0 1166.6,2694.0 1179.2,2694.0 1191.7,2694.0 1204.2,2694.0 1216.8,2694.0 1229.3,2694.0 1241.9,2694.0 1254.4,2694.0 1267.0,2694.0 1279.5,2694.0 1292.1,2694.0 1304.6,2694.0 1317.2,2694.0 1329.7,2694.0 1342.3,2694.0 1354.8,2694.0 1367.4,2694.0 1379.9,2694.0 1392.5,2694.0 1405.0,2694.0 1417.6,2694.0 1430.1,2694.0 1442.7,2694.0 1455.2,2694.0 1467.8,2694.0 1480.3,2694.0 1492.9,2694.0 1505.4,2694.0 1517.9,2694.0 1530.5,2694.0 1543.0,2694.0 1555.6,2694.0 1568.1,2694.0 1580.7,2694.0 1593.2,2694.0 1605.8,2694.0 1618.3,2694.0 1630.9,2694.0 1643.4,2694.0 1656.0,2694.0 1668.5,2694.0 1681.1,2694.0 1693.6,2694.0 1706.2,2694.0 1718.7,2694.0 1731.3,2694.0 1743.8,2694.0 1756.4,2694.0 1768.9,2694.0 1781.5,2694.0 1794.0,2694.0 1806.6,2694.0 1819.1,2694.0 1831.6,2694.0 1844.2,2694.0 1856.7,2694.0 1869.3,2694.0 1881.8,2694.0 1894.4,2694.0 1906.9,2694.0 1919.5,2694.0 1932.0,2694.0 1944.6,2694.0 1957.1,2694.0 1969.7,2694.0 1982.2,2694.0 1994.8,2694.0 2007.3,2694.0 2019.9,2694.0 2032.4,2694.0 2045.0,2694.0 2057.5,2694.0 2070.1,2694.0 2082.6,2694.0 2095.2,2694.0 2107.7,2694.0 2120.3,2694.0 2132.8,2694.0" fill="none" stroke="#ff0000" stroke-width="4.3" stroke-linejoin="round" shape-rendering="crispEdges"/>
<path d="M261.80 2673.60h4.30v38.70h-4.30zM244.60 2690.80h38.70v4.30h-38.70zM257.50 2686.50h12.90v12.90h-12.90zM253.20 2682.20h4.30v4.30h-4.30zM270.40 2682.20h4.30v4.30h-4.30zM253.20 2699.40h4.30v4.30h-4.30zM270.40 2699.40h4.30v4.30h-4.30zM274.70 2673.60h4.30v38.70h-4.30zM257.50 2690.80h38.70v4.30h-38.70zM270.40 2686.50h12.90v12.90h-12.90zM266.10 2682.20h4.30v4.30h-4.30zM283.30 2682.20h4.30v4.30h-4.30zM266.10 2699.40h4.30v4.30h-4.30zM283.30 2699.40h4.30v4.30h-4.30zM287.60 2673.60h4.30v38.70h-4.30zM270.40 2690.80h38.70v4.30h-38.70zM283.30 2686.50h12.90v12.90h-12.90zM279.00 2682.20h4.30v4.30h-4.30zM296.20 2682.20h4.30v4.30h-4.30zM279.00 2699.40h4.30v4.30h-4.30zM296.20 2699.40h4.30v4.30h-4.30zM300.50 2673.60h4.30v38.70h-4.30zM283.30 2690.80h38.70v4.30h-38.70zM296.20 2686.50h12.90v12.90h-12.90zM291.90 2682.20h4.30v4.30h-4.30zM309.10 2682.20h4.30v4.30h-4.30zM291.90 2699.40h4.30v4.30h-4.30zM309.10 2699.40h4.30v4.30h-4.30zM309.10 2673.60h4.30v38.70h-4.30zM291.90 2690.80h38.70v4.30h-38.70zM304.80 2686.50h12.90v12.90h-12.90zM300.50 2682.20h4.30v4.30h-4.30zM317.70 2682.20h4.30v4.30h-4.30zM300.50 2699.40h4.30v4.30h-4.30zM317.70 2699.40h4.30v4.30h-4.30zM322.00 2673.60h4.30v38.70h-4.30zM304.80 2690.80h38.70v4.30h-38.70zM317.70 2686.50h12.90v12.90h-12.90zM313.40 2682.20h4.30v4.30h-4.30zM330.60 2682.20h4.30v4.30h-4.30zM313.40 2699.40h4.30v4.30h-4.30zM330.60 2699.40h4.30v4.30h-4.30zM334.90 2673.60h4.30v38.70h-4.30zM317.70 2690.80h38.70v4.30h-38.70zM330.60 2686.50h12.90v12.90h-12.90zM326.30 2682.20h4.30v4.30h-4.30zM343.50 2682.20h4.30v4.30h-4.30zM326.30 2699.40h4.30v4.30h-4.30zM343.50 2699.40h4.30v4.30h-4.30zM347.80 2673.60h4.30v38.70h-4.30zM330.60 2690.80h38.70v4.30h-38.70zM343.50 2686.50h12.90v12.90h-12.90zM339.20 2682.20h4.30v4.30h-4.30zM356.40 2682.20h4.30v4.30h-4.30zM339.20 2699.40h4.30v4.30h-4.30zM356.40 2699.40h4.30v4.30h-4.30zM360.70 2673.60h4.30v38.70h-4.30zM343.50 2690.80h38.70v4.30h-38.70zM356.40 2686.50h12.90v12.90h-12.90zM352.10 2682.20h4.30v4.30h-4.30zM369.30 2682.20h4.30v4.30h-4.30zM352.10 2699.40h4.30v4.30h-4.30zM369.30 2699.40h4.30v4.30h-4.30zM373.60 2673.60h4.30v38.70h-4.30zM356.40 2690.80h38.70v4.30h-38.70zM369.30 2686.50h12.90v12.90h-12.90zM365.00 2682.20h4.30v4.30h-4.30zM382.20 2682.20h4.30v4.30h-4.30zM365.00 2699.40h4.30v4.30h-4.30zM382.20 2699.40h4.30v4.30h-4.30zM386.50 2673.60h4.30v38.70h-4.30zM369.30 2690.80h38.70v4.30h-38.70zM382.20 2686.50h12.90v12.90h-12.90zM377.90 2682.20h4.30v4.30h-4.30zM395.10 2682.20h4.30v4.30h-4.30zM377.90 2699.40h4.30v4.30h-4.30zM395.10 2699.40h4.30v4.30h-4.30zM399.40 2673.60h4.30v38.70h-4.30zM382.20 2690.80h38.70v4.30h-38.70zM395.10 2686.50h12.90v12.90h-12.90zM390.80 2682.20h4.30v4.30h-4.30zM408.00 2682.20h4.30v4.30h-4.30zM390.80 2699.40h4.30v4.30h-4.30zM408.00 2699.40h4.30v4.30h-4.30zM412.30 2673.60h4.30v38.70h-4.30zM395.10 2690.80h38.70v4.30h-38.70zM408.00 2686.50h12.90v12.90h-12.90zM403.70 2682.20h4.30v4.30h-4.30zM420.90 2682.20h4.30v4.30h-4.30zM403.70 2699.40h4.30v4.30h-4.30zM420.90 2699.40h4.30v4.30h-4.30zM425.20 2673.60h4.30v38.70h-4.30zM408.00 2690.80h38.70v4.30h-38.70zM420.90 2686.50h12.90v12.90h-12.90zM416.60 2682.20h4.30v4.30h-4.30zM433.80 2682.20h4.30v4.30h-4.30zM416.60 2699.40h4.30v4.30h-4.30zM433.80 2699.40h4.30v4.30h-4.30zM438.10 2673.60h4.30v38.70h-4.30zM420.90 2690.80h38.70v4.30h-38.70zM433.80 2686.50h12.90v12.90h-12.90zM429.50 2682.20h4.30v4.30h-4.30zM446.70 2682.20h4.30v4.30h-4.30zM429.50 2699.40h4.30v4.30h-4.30zM446.70 2699.40h4.30v4.30h-4.30zM451.00 2673.60h4.30v38.70h-4.30zM433.80 2690.80h38.70v4.30h-38.70zM446.70 2686.50h12.90v12.90h-12.90zM442.40 2682.20h4.30v4.30h-4.30zM459.60 2682.20h4.30v4.30h-4.30zM442.40 2699.40h4.30v4.30h-4.30zM459.60 2699.40h4.30v4.30h-4.30zM463.90 2673.60h4.30v38.70h-4.30zM446.70 2690.80h38.70v4.30h-38.70zM459.60 2686.50h12.90v12.90h-12.90zM455.30 2682.20h4.30v4.30h-4.30zM472.50 2682.20h4.30v4.30h-4.30zM455.30 2699.40h4.30v4.30h-4.30zM472.50 2699.40h4.30v4.30h-4.30zM472.50 2673.60h4.30v38.70h-4.30zM455.30 2690.80h38.70v4.30h-38.70zM468.20 2686.50h12.90v12.90h-12.90zM463.90 2682.20h4.30v4.30h-4.30zM481.10 2682.20h4.30v4.30h-4.30zM463.90 2699.40h4.30v4.30h-4.30zM481.10 2699.40h4.30v4.30h-4.30zM485.40 2673.60h4.30v38.70h-4.30zM468.20 2690.80h38.70v4.30h-38.70zM481.10 2686.50h12.90v12.90h-12.90zM476.80 2682.20h4.30v4.30h-4.30zM494.00 2682.20h4.30v4.30h-4.30zM476.80 2699.40h4.30v4.30h-4.30zM494.00 2699.40h4.30v4.30h-4.30zM498.30 2673.60h4.30v38.70h-4.30zM481.10 2690.80h38.70v4.30h-38.70zM494.00 2686.50h12.90v12.90h-12.90zM489.70 2682.20h4.30v4.30h-4.30zM506.90 2682.20h4.30v4.30h-4.30zM489.70 2699.40h4.30v4.30h-4.30zM506.90 2699.40h4.30v4.30h-4.30zM511.20 2673.60h4.30v38.70h-4.30zM494.00 2690.80h38.70v4.30h-38.70zM506.90 2686.50h12.90v12.90h-12.90zM502.60 2682.20h4.30v4.30h-4.30zM519.80 2682.20h4.30v4.30h-4.30zM502.60 2699.40h4.30v4.30h-4.30zM519.80 2699.40h4.30v4.30h-4.30zM524.10 2673.60h4.30v38.70h-4.30zM506.90 2690.80h38.70v4.30h-38.70zM519.80 2686.50h12.90v12.90h-12.90zM515.50 2682.20h4.30v4.30h-4.30zM532.70 2682.20h4.30v4.30h-4.30zM515.50 2699.40h4.30v4.30h-4.30zM532.70 2699.40h4.30v4.30h-4.30zM537.00 2673.60h4.30v38.70h-4.30zM519.80 2690.80h38.70v4.30h-38.70zM532.70 2686.50h12.90v12.90h-12.90zM528.40 2682.20h4.30v4.30h-4.30zM545.60 2682.20h4.30v4.30h-4.30zM528.40 2699.40h4.30v4.30h-4.30zM545.60 2699.40h4.30v4.30h-4.30zM549.90 2673.60h4.30v38.70h-4.30zM532.70 2690.80h38.70v4.30h-38.70zM545.60 2686.50h12.90v12.90h-12.90zM541.30 2682.20h4.30v4.30h-4.30zM558.50 2682.20h4.30v4.30h-4.30zM541.30 2699.40h4.30v4.30h-4.30zM558.50 2699.40h4.30v4.30h-4.30zM562.80 2673.60h4.30v38.70h-4.30zM545.60 2690.80h38.70v4.30h-38.70zM558.50 2686.50h12.90v12.90h-12.90zM554.20 2682.20h4.30v4.30h-4.30zM571.40 2682.20h4.30v4.30h-4.30zM554.20 2699.40h4.30v4.30h-4.30zM571.40 2699.40h4.30v4.30h-4.30zM575.70 2673.60h4.30v38.70h-4.30zM558.50 2690.80h38.70v4.30h-38.70zM571.40 2686.50h12.90v12.90h-12.90zM567.10 2682.20h4.30v4.30h-4.30zM584.30 2682.20h4.30v4.30h-4.30zM567.10 2699.40h4.30v4.30h-4.30zM584.30 2699.40h4.30v4.30h-4.30zM588.60 2673.60h4.30v38.70h-4.30zM571.40 2690.80h38.70v4.30h-38.70zM584.30 2686.50h12.90v12.90h-12.90zM580.00 2682.20h4.30v4.30h-4.30zM597.20 2682.20h4.30v4.30h-4.30zM580.00 2699.40h4.30v4.30h-4.30zM597.20 2699.40h4.30v4.30h-4.30zM601.50 2673.60h4.30v38.70h-4.30zM584.30 2690.80h38.70v4.30h-38.70zM597.20 2686.50h12.90v12.90h-12.90zM592.90 2682.20h4.30v4.30h-4.30zM610.10 2682.20h4.30v4.30h-4.30zM592.90 2699.40h4.30v4.30h-4.30zM610.10 2699.40h4.30v4.30h-4.30zM614.40 2673.60h4.30v38.70h-4.30zM597.20 2690.80h38.70v4.30h-38.70zM610.10 2686.50h12.90v12.90h-12.90zM605.80 2682.20h4.30v4.30h-4.30zM623.00 2682.20h4.30v4.30h-4.30zM605.80 2699.40h4.30v4.30h-4.30zM623.00 2699.40h4.30v4.30h-4.30zM623.00 2673.60h4.30v38.70h-4.30zM605.80 2690.80h38.70v4.30h-38.70zM618.70 2686.50h12.90v12.90h-12.90zM614.40 2682.20h4.30v4.30h-4.30zM631.60 2682.20h4.30v4.30h-4.30zM614.40 2699.40h4.30v4.30h-4.30zM631.60 2699.40h4.30v4.30h-4.30zM635.90 2673.60h4.30v38.70h-4.30zM618.70 2690.80h38.70v4.30h-38.70zM631.60 2686.50h12.90v12.90h-12.90zM627.30 2682.20h4.30v4.30h-4.30zM644.50 2682.20h4.30v4.30h-4.30zM627.30 2699.40h4.30v4.30h-4.30zM644.50 2699.40h4.30v4.30h-4.30zM648.80 2673.60h4.30v38.70h-4.30zM631.60 2690.80h38.70v4.30h-38.70zM644.50 2686.50h12.90v12.90h-12.90zM640.20 2682.20h4.30v4.30h-4.30zM657.40 2682.20h4.30v4.30h-4.30zM640.20 2699.40h4.30v4.30h-4.30zM657.40 2699.40h4.30v4.30h-4.30zM661.70 2673.60h4.30v38.70h-4.30zM644.50 2690.80h38.70v4.30h-38.70zM657.40 2686.50h12.90v12.90h-12.90zM653.10 2682.20h4.30v4.30h-4.30zM670.30 2682.20h4.30v4.30h-4.30zM653.10 2699.40h4.30v4.30h-4.30zM670.30 2699.40h4.30v4.30h-4.30zM674.60 2673.60h4.30v38.70h-4.30zM657.40 2690.80h38.70v4.30h-38.70zM670.30 2686.50h12.90v12.90h-12.90zM666.00 2682.20h4.30v4.30h-4.30zM683.20 2682.20h4.30v4.30h-4.30zM666.00 2699.40h4.30v4.30h-4.30zM683.20 2699.40h4.30v4.30h-4.30zM687.50 2673.60h4.30v38.70h-4.30zM670.30 2690.80h38.70v4.30h-38.70zM683.20 2686.50h12.90v12.90h-12.90zM678.90 2682.20h4.30v4.30h-4.30zM696.10 2682.20h4.30v4.30h-4.30zM678.90 2699.40h4.30v4.30h-4.30zM696.10 2699.40h4.30v4.30h-4.30zM700.40 2673.60h4.30v38.70h-4.30zM683.20 2690.80h38.70v4.30h-38.70zM696.10 2686.50h12.90v12.90h-12.90zM691.80 2682.20h4.30v4.30h-4.30zM709.00 2682.20h4.30v4.30h-4.30zM691.80 2699.40h4.30v4.30h-4.30zM709.00 2699.40h4.30v4.30h-4.30zM713.30 2673.60h4.30v38.70h-4.30zM696.10 2690.80h38.70v4.30h-38.70zM709.00 2686.50h12.90v12.90h-12.90zM704.70 2682.20h4.30v4.30h-4.30zM721.90 2682.20h4.30v4.30h-4.30zM704.70 2699.40h4.30v4.30h-4.30zM721.90 2699.40h4.30v4.30h-4.30zM726.20 2673.60h4.30v38.70h-4.30zM709.00 2690.80h38.70v4.30h-38.70zM721.90 2686.50h12.90v12.90h-12.90zM717.60 2682.20h4.30v4.30h-4.30zM734.80 2682.20h4.30v4.30h-4.30zM717.60 2699.40h4.30v4.30h-4.30zM734.80 2699.40h4.30v4.30h-4.30zM739.10 2673.60h4.30v38.70h-4.30zM721.90 2690.80h38.70v4.30h-38.70zM734.80 2686.50h12.90v12.90h-12.90zM730.50 2682.20h4.30v4.30h-4.30zM747.70 2682.20h4.30v4.30h-4.30zM730.50 2699.40h4.30v4.30h-4.30zM747.70 2699.40h4.30v4.30h-4.30zM752.00 2673.60h4.30v38.70h-4.30zM734.80 2690.80h38.70v4.30h-38.70zM747.70 2686.50h12.90v12.90h-12.90zM743.40 2682.20h4.30v4.30h-4.30zM760.60 2682.20h4.30v4.30h-4.30zM743.40 2699.40h4.30v4.30h-4.30zM760.60 2699.40h4.30v4.30h-4.30zM764.90 2673.60h4.30v38.70h-4.30zM747.70 2690.80h38.70v4.30h-38.70zM760.60 2686.50h12.90v12.90h-12.90zM756.30 2682.20h4.30v4.30h-4.30zM773.50 2682.20h4.30v4.30h-4.30zM756.30 2699.40h4.30v4.30h-4.30zM773.50 2699.40h4.30v4.30h-4.30zM773.50 2673.60h4.30v38.70h-4.30zM756.30 2690.80h38.70v4.30h-38.70zM769.20 2686.50h12.90v12.90h-12.90zM764.90 2682.20h4.30v4.30h-4.30zM782.10 2682.20h4.30v4.30h-4.30zM764.90 2699.40h4.30v4.30h-4.30zM782.10 2699.40h4.30v4.30h-4.30zM786.40 2673.60h4.30v38.70h-4.30zM769.20 2690.80h38.70v4.30h-38.70zM782.10 2686.50h12.90v12.90h-12.90zM777.80 2682.20h4.30v4.30h-4.30zM795.00 2682.20h4.30v4.30h-4.30zM777.80 2699.40h4.30v4.30h-4.30zM795.00 2699.40h4.30v4.30h-4.30zM799.30 2673.60h4.30v38.70h-4.30zM782.10 2690.80h38.70v4.30h-38.70zM795.00 2686.50h12.90v12.90h-12.90zM790.70 2682.20h4.30v4.30h-4.30zM807.90 2682.20h4.30v4.30h-4.30zM790.70 2699.40h4.30v4.30h-4.30zM807.90 2699.40h4.30v4.30h-4.30zM812.20 2673.60h4.30v38.70h-4.30zM795.00 2690.80h38.70v4.30h-38.70zM807.90 2686.50h12.90v12.90h-12.90zM803.60 2682.20h4.30v4.30h-4.30zM820.80 2682.20h4.30v4.30h-4.30zM803.60 2699.40h4.30v4.30h-4.30zM820.80 2699.40h4.30v4.30h-4.30zM825.10 2673.60h4.30v38.70h-4.30zM807.90 2690.80h38.70v4.30h-38.70zM820.80 2686.50h12.90v12.90h-12.90zM816.50 2682.20h4.30v4.30h-4.30zM833.70 2682.20h4.30v4.30h-4.30zM816.50 2699.40h4.30v4.30h-4.30zM833.70 2699.40h4.30v4.30h-4.30zM838.00 2673.60h4.30v38.70h-4.30zM820.80 2690.80h38.70v4.30h-38.70zM833.70 2686.50h12.90v12.90h-12.90zM829.40 2682.20h4.30v4.30h-4.30zM846.60 2682.20h4.30v4.30h-4.30zM829.40 2699.40h4.30v4.30h-4.30zM846.60 2699.40h4.30v4.30h-4.30zM850.90 2673.60h4.30v38.70h-4.30zM833.70 2690.80h38.70v4.30h-38.70zM846.60 2686.50h12.90v12.90h-12.90zM842.30 2682.20h4.30v4.30h-4.30zM859.50 2682.20h4.30v4.30h-4.30zM842.30 2699.40h4.30v4.30h-4.30zM859.50 2699.40h4.30v4.30h-4.30zM863.80 2673.60h4.30v38.70h-4.30zM846.60 2690.80h38.70v4.30h-38.70zM859.50 2686.50h12.90v12.90h-12.90zM855.20 2682.20h4.30v4.30h-4.30zM872.40 2682.20h4.30v4.30h-4.30zM855.20 2699.40h4.30v4.30h-4.30zM872.40 2699.40h4.30v4.30h-4.30zM876.70 2673.60h4.30v38.70h-4.30zM859.50 2690.80h38.70v4.30h-38.70zM872.40 2686.50h12.90v12.90h-12.90zM868.10 2682.20h4.30v4.30h-4.30zM885.30 2682.20h4.30v4.30h-4.30zM868.10 2699.40h4.30v4.30h-4.30zM885.30 2699.40h4.30v4.30h-4.30zM889.60 2673.60h4.30v38.70h-4.30zM872.40 2690.80h38.70v4.30h-38.70zM885.30 2686.50h12.90v12.90h-12.90zM881.00 2682.20h4.30v4.30h-4.30zM898.20 2682.20h4.30v4.30h-4.30zM881.00 2699.40h4.30v4.30h-4.30zM898.20 2699.40h4.30v4.30h-4.30zM902.50 2673.60h4.30v38.70h-4.30zM885.30 2690.80h38.70v4.30h-38.70zM898.20 2686.50h12.90v12.90h-12.90zM893.90 2682.20h4.30v4.30h-4.30zM911.10 2682.20h4.30v4.30h-4.30zM893.90 2699.40h4.30v4.30h-4.30zM911.10 2699.40h4.30v4.30h-4.30zM915.40 2673.60h4.30v38.70h-4.30zM898.20 2690.80h38.70v4.30h-38.70zM911.10 2686.50h12.90v12.90h-12.90zM906.80 2682.20h4.30v4.30h-4.30zM924.00 2682.20h4.30v4.30h-4.30zM906.80 2699.40h4.30v4.30h-4.30zM924.00 2699.40h4.30v4.30h-4.30zM924.00 2673.60h4.30v38.70h-4.30zM906.80 2690.80h38.70v4.30h-38.70zM919.70 2686.50h12.90v12.90h-12.90zM915.40 2682.20h4.30v4.30h-4.30zM932.60 2682.20h4.30v4.30h-4.30zM915.40 2699.40h4.30v4.30h-4.30zM932.60 2699.40h4.30v4.30h-4.30zM936.90 2673.60h4.30v38.70h-4.30zM919.70 2690.80h38.70v4.30h-38.70zM932.60 2686.50h12.90v12.90h-12.90zM928.30 2682.20h4.30v4.30h-4.30zM945.50 2682.20h4.30v4.30h-4.30zM928.30 2699.40h4.30v4.30h-4.30zM945.50 2699.40h4.30v4.30h-4.30zM949.80 2673.60h4.30v38.70h-4.30zM932.60 2690.80h38.70v4.30h-38.70zM945.50 2686.50h12.90v12.90h-12.90zM941.20 2682.20h4.30v4.30h-4.30zM958.40 2682.20h4.30v4.30h-4.30zM941.20 2699.40h4.30v4.30h-4.30zM958.40 2699.40h4.30v4.30h-4.30zM962.70 2673.60h4.30v38.70h-4.30zM945.50 2690.80h38.70v4.30h-38.70zM958.40 2686.50h12.90v12.90h-12.90zM954.10 2682.20h4.30v4.30h-4.30zM971.30 2682.20h4.30v4.30h-4.30zM954.10 2699.40h4.30v4.30h-4.30zM971.30 2699.40h4.30v4.30h-4.30zM975.60 2673.60h4.30v38.70h-4.30zM958.40 2690.80h38.70v4.30h-38.70zM971.30 2686.50h12.90v12.90h-12.90zM967.00 2682.20h4.30v4.30h-4.30zM984.20 2682.20h4.30v4.30h-4.30zM967.00 2699.40h4.30v4.30h-4.30zM984.20 2699.40h4.30v4.30h-4.30zM988.50 2673.60h4.30v38.70h-4.30zM971.30 2690.80h38.70v4.30h-38.70zM984.20 2686.50h12.90v12.90h-12.90zM979.90 2682.20h4.30v4.30h-4.30zM997.10 2682.20h4.30v4.30h-4.30zM979.90 2699.40h4.30v4.30h-4.30zM997.10 2699.40h4.30v4.30h-4.30zM1001.40 2673.60h4.30v38.70h-4.30zM984.20 2690.80h38.70v4.30h-38.70zM997.10 2686.50h12.90v12.90h-12.90zM992.80 2682.20h4.30v4.30h-4.30zM1010.00 2682.20h4.30v4.30h-4.30zM992.80 2699.40h4.30v4.30h-4.30zM1010.00 2699.40h4.30v4.30h-4.30zM1014.30 2673.60h4.30v38.70h-4.30zM997.10 2690.80h38.70v4.30h-38.70zM1010.00 2686.50h12.90v12.90h-12.90zM1005.70 2682.20h4.30v4.30h-4.30zM1022.90 2682.20h4.30v4.30h-4.30zM1005.70 2699.40h4.30v4.30h-4.30zM1022.90 2699.40h4.30v4.30h-4.30zM1027.20 2673.60h4.30v38.70h-4.30zM1010.00 2690.80h38.70v4.30h-38.70zM1022.90 2686.50h12.90v12.90h-12.90zM1018.60 2682.20h4.30v4.30h-4.30zM1035.80 2682.20h4.30v4.30h-4.30zM1018.60 2699.40h4.30v4.30h-4.30zM1035.80 2699.40h4.30v4.30h-4.30zM1040.10 2673.60h4.30v38.70h-4.30zM1022.90 2690.80h38.70v4.30h-38.70zM1035.80 2686.50h12.90v12.90h-12.90zM1031.50 2682.20h4.30v4.30h-4.30zM1048.70 2682.20h4.30v4.30h-4.30zM1031.50 2699.40h4.30v4.30h-4.30zM1048.70 2699.40h4.30v4.30h-4.30zM1053.00 2673.60h4.30v38.70h-4.30zM1035.80 2690.80h38.70v4.30h-38.70zM1048.70 2686.50h12.90v12.90h-12.90zM1044.40 2682.20h4.30v4.30h-4.30zM1061.60 2682.20h4.30v4.30h-4.30zM1044.40 2699.40h4.30v4.30h-4.30zM1061.60 2699.40h4.30v4.30h-4.30zM1065.90 2673.60h4.30v38.70h-4.30zM1048.70 2690.80h38.70v4.30h-38.70zM1061.60 2686.50h12.90v12.90h-12.90zM1057.30 2682.20h4.30v4.30h-4.30zM1074.50 2682.20h4.30v4.30h-4.30zM1057.30 2699.40h4.30v4.30h-4.30zM1074.50 2699.40h4.30v4.30h-4.30zM1074.50 2673.60h4.30v38.70h-4.30zM1057.30 2690.80h38.70v4.30h-38.70zM1070.20 2686.50h12.90v12.90h-12.90zM1065.90 2682.20h4.30v4.30h-4.30zM1083.10 2682.20h4.30v4.30h-4.30zM1065.90 2699.40h4.30v4.30h-4.30zM1083.10 2699.40h4.30v4.30h-4.30zM1087.40 2673.60h4.30v38.70h-4.30zM1070.20 2690.80h38.70v4.30h-38.70zM1083.10 2686.50h12.90v12.90h-12.90zM1078.80 2682.20h4.30v4.30h-4.30zM1096.00 2682.20h4.30v4.30h-4.30zM1078.80 2699.40h4.30v4.30h-4.30zM1096.00 2699.40h4.30v4.30h-4.30zM1100.30 2673.60h4.30v38.70h-4.30zM1083.10 2690.80h38.70v4.30h-38.70zM1096.00 2686.50h12.90v12.90h-12.90zM1091.70 2682.20h4.30v4.30h-4.30zM1108.90 2682.20h4.30v4.30h-4.30zM1091.70 2699.40h4.30v4.30h-4.30zM1108.90 2699.40h4.30v4.30h-4.30zM1113.20 2673.60h4.30v38.70h-4.30zM1096.00 2690.80h38.70v4.30h-38.70zM1108.90 2686.50h12.90v12.90h-12.90zM1104.60 2682.20h4.30v4.30h-4.30zM1121.80 2682.20h4.30v4.30h-4.30zM1104.60 2699.40h4.30v4.30h-4.30zM1121.80 2699.40h4.30v4.30h-4.30zM1126.10 2673.60h4.30v38.70h-4.30zM1108.90 2690.80h38.70v4.30h-38.70zM1121.80 2686.50h12.90v12.90h-12.90zM1117.50 2682.20h4.30v4.30h-4.30zM1134.70 2682.20h4.30v4.30h-4.30zM1117.50 2699.40h4.30v4.30h-4.30zM1134.70 2699.40h4.30v4.30h-4.30zM1139.00 2673.60h4.30v38.70h-4.30zM1121.80 2690.80h38.70v4.30h-38.70zM1134.70 2686.50h12.90v12.90h-12.90zM1130.40 2682.20h4.30v4.30h-4.30zM1147.60 2682.20h4.30v4.30h-4.30zM1130.40 2699.40h4.30v4.30h-4.30zM1147.60 2699.40h4.30v4.30h-4.30zM1151.90 2673.60h4.30v38.70h-4.30zM1134.70 2690.80h38.70v4.30h-38.70zM1147.60 2686.50h12.90v12.90h-12.90zM1143.30 2682.20h4.30v4.30h-4.30zM1160.50 2682.20h4.30v4.30h-4.30zM1143.30 2699.40h4.30v4.30h-4.30zM1160.50 2699.40h4.30v4.30h-4.30zM1164.80 2673.60h4.30v38.70h-4.30zM1147.60 2690.80h38.70v4.30h-38.70zM1160.50 2686.50h12.90v12.90h-12.90zM1156.20 2682.20h4.30v4.30h-4.30zM1173.40 2682.20h4.30v4.30h-4.30zM1156.20 2699.40h4.30v4.30h-4.30zM1173.40 2699.40h4.30v4.30h-4.30zM1177.70 2673.60h4.30v38.70h-4.30zM1160.50 2690.80h38.70v4.30h-38.70zM1173.40 2686.50h12.90v12.90h-12.90zM1169.10 2682.20h4.30v4.30h-4.30zM1186.30 2682.20h4.30v4.30h-4.30zM1169.10 2699.40h4.30v4.30h-4.30zM1186.30 2699.40h4.30v4.30h-4.30zM1190.60 2673.60h4.30v38.70h-4.30zM1173.40 2690.80h38.70v4.30h-38.70zM1186.30 2686.50h12.90v12.90h-12.90zM1182.00 2682.20h4.30v4.30h-4.30zM1199.20 2682.20h4.30v4.30h-4.30zM1182.00 2699.40h4.30v4.30h-4.30zM1199.20 2699.40h4.30v4.30h-4.30zM1203.50 2673.60h4.30v38.70h-4.30zM1186.30 2690.80h38.70v4.30h-38.70zM1199.20 2686.50h12.90v12.90h-12.90zM1194.90 2682.20h4.30v4.30h-4.30zM1212.10 2682.20h4.30v4.30h-4.30zM1194.90 2699.40h4.30v4.30h-4.30zM1212.10 2699.40h4.30v4.30h-4.30zM1216.40 2673.60h4.30v38.70h-4.30zM1199.20 2690.80h38.70v4.30h-38.70zM1212.10 2686.50h12.90v12.90h-12.90zM1207.80 2682.20h4.30v4.30h-4.30zM1225.00 2682.20h4.30v4.30h-4.30zM1207.80 2699.40h4.30v4.30h-4.30zM1225.00 2699.40h4.30v4.30h-4.30zM1229.30 2673.60h4.30v38.70h-4.30zM1212.10 2690.80h38.70v4.30h-38.70zM1225.00 2686.50h12.90v12.90h-12.90zM1220.70 2682.20h4.30v4.30h-4.30zM1237.90 2682.20h4.30v4.30h-4.30zM1220.70 2699.40h4.30v4.30h-4.30zM1237.90 2699.40h4.30v4.30h-4.30zM1237.90 2673.60h4.30v38.70h-4.30zM1220.70 2690.80h38.70v4.30h-38.70zM1233.60 2686.50h12.90v12.90h-12.90zM1229.30 2682.20h4.30v4.30h-4.30zM1246.50 2682.20h4.30v4.30h-4.30zM1229.30 2699.40h4.30v4.30h-4.30zM1246.50 2699.40h4.30v4.30h-4.30zM1250.80 2673.60h4.30v38.70h-4.30zM1233.60 2690.80h38.70v4.30h-38.70zM1246.50 2686.50h12.90v12.90h-12.90zM1242.20 2682.20h4.30v4.30h-4.30zM1259.40 2682.20h4.30v4.30h-4.30zM1242.20 2699.40h4.30v4.30h-4.30zM1259.40 2699.40h4.30v4.30h-4.30zM1263.70 2673.60h4.30v38.70h-4.30zM1246.50 2690.80h38.70v4.30h-38.70zM1259.40 2686.50h12.90v12.90h-12.90zM1255.10 2682.20h4.30v4.30h-4.30zM1272.30 2682.20h4.30v4.30h-4.30zM1255.10 2699.40h4.30v4.30h-4.30zM1272.30 2699.40h4.30v4.30h-4.30zM1276.60 2673.60h4.30v38.70h-4.30zM1259.40 2690.80h38.70v4.30h-38.70zM1272.30 2686.50h12.90v12.90h-12.90zM1268.00 2682.20h4.30v4.30h-4.30zM1285.20 2682.20h4.30v4.30h-4.30zM1268.00 2699.40h4.30v4.30h-4.30zM1285.20 2699.40h4.30v4.30h-4.30zM1289.50 2673.60h4.30v38.70h-4.30zM1272.30 2690.80h38.70v4.30h-38.70zM1285.20 2686.50h12.90v12.90h-12.90zM1280.90 2682.20h4.30v4.30h-4.30zM1298.10 2682.20h4.30v4.30h-4.30zM1280.90 2699.40h4.30v4.30h-4.30zM1298.10 2699.40h4.30v4.30h-4.30zM1302.40 2673.60h4.30v38.70h-4.30zM1285.20 2690.80h38.70v4.30h-38.70zM1298.10 2686.50h12.90v12.90h-12.90zM1293.80 2682.20h4.30v4.30h-4.30zM1311.00 2682.20h4.30v4.30h-4.30zM1293.80 2699.40h4.30v4.30h-4.30zM1311.00 2699.40h4.30v4.30h-4.30zM1315.30 2673.60h4.30v38.70h-4.30zM1298.10 2690.80h38.70v4.30h-38.70zM1311.00 2686.50h12.90v12.90h-12.90zM1306.70 2682.20h4.30v4.30h-4.30zM1323.90 2682.20h4.30v4.30h-4.30zM1306.70 2699.40h4.30v4.30h-4.30zM1323.90 2699.40h4.30v4.30h-4.30zM1328.20 2673.60h4.30v38.70h-4.30zM1311.00 2690.80h38.70v4.30h-38.70zM1323.90 2686.50h12.90v12.90h-12.90zM1319.60 2682.20h4.30v4.30h-4.30zM1336.80 2682.20h4.30v4.30h-4.30zM1319.60 2699.40h4.30v4.30h-4.30zM1336.80 2699.40h4.30v4.30h-4.30zM1341.10 2673.60h4.30v38.70h-4.30zM1323.90 2690.80h38.70v4.30h-38.70zM1336.80 2686.50h12.90v12.90h-12.90zM1332.50 2682.20h4.30v4.30h-4.30zM1349.70 2682.20h4.30v4.30h-4.30zM1332.50 2699.40h4.30v4.30h-4.30zM1349.70 2699.40h4.30v4.30h-4.30zM1354.00 2673.60h4.30v38.70h-4.30zM1336.80 2690.80h38.70v4.30h-38.70zM1349.70 2686.50h12.90v12.90h-12.90zM1345.40 2682.20h4.30v4.30h-4.30zM1362.60 2682.20h4.30v4.30h-4.30zM1345.40 2699.40h4.30v4.30h-4.30zM1362.60 2699.40h4.30v4.30h-4.30zM1366.90 2673.60h4.30v38.70h-4.30zM1349.70 2690.80h38.70v4.30h-38.70zM1362.60 2686.50h12.90v12.90h-12.90zM1358.30 2682.20h4.30v4.30h-4.30zM1375.50 2682.20h4.30v4.30h-4.30zM1358.30 2699.40h4.30v4.30h-4.30zM1375.50 2699.40h4.30v4.30h-4.30zM1379.80 2673.60h4.30v38.70h-4.30zM1362.60 2690.80h38.70v4.30h-38.70zM1375.50 2686.50h12.90v12.90h-12.90zM1371.20 2682.20h4.30v4.30h-4.30zM1388.40 2682.20h4.30v4.30h-4.30zM1371.20 2699.40h4.30v4.30h-4.30zM1388.40 2699.40h4.30v4.30h-4.30zM1388.40 2673.60h4.30v38.70h-4.30zM1371.20 2690.80h38.70v4.30h-38.70zM1384.10 2686.50h12.90v12.90h-12.90zM1379.80 2682.20h4.30v4.30h-4.30zM1397.00 2682.20h4.30v4.30h-4.30zM1379.80 2699.40h4.30v4.30h-4.30zM1397.00 2699.40h4.30v4.30h-4.30zM1401.30 2673.60h4.30v38.70h-4.30zM1384.10 2690.80h38.70v4.30h-38.70zM1397.00 2686.50h12.90v12.90h-12.90zM1392.70 2682.20h4.30v4.30h-4.30zM1409.90 2682.20h4.30v4.30h-4.30zM1392.70 2699.40h4.30v4.30h-4.30zM1409.90 2699.40h4.30v4.30h-4.30zM1414.20 2673.60h4.30v38.70h-4.30zM1397.00 2690.80h38.70v4.30h-38.70zM1409.90 2686.50h12.90v12.90h-12.90zM1405.60 2682.20h4.30v4.30h-4.30zM1422.80 2682.20h4.30v4.30h-4.30zM1405.60 2699.40h4.30v4.30h-4.30zM1422.80 2699.40h4.30v4.30h-4.30zM1427.10 2673.60h4.30v38.70h-4.30zM1409.90 2690.80h38.70v4.30h-38.70zM1422.80 2686.50h12.90v12.90h-12.90zM1418.50 2682.20h4.30v4.30h-4.30zM1435.70 2682.20h4.30v4.30h-4.30zM1418.50 2699.40h4.30v4.30h-4.30zM1435.70 2699.40h4.30v4.30h-4.30zM1440.00 2673.60h4.30v38.70h-4.30zM1422.80 2690.80h38.70v4.30h-38.70zM1435.70 2686.50h12.90v12.90h-12.90zM1431.40 2682.20h4.30v4.30h-4.30zM1448.60 2682.20h4.30v4.30h-4.30zM1431.40 2699.40h4.30v4.30h-4.30zM1448.60 2699.40h4.30v4.30h-4.30zM1452.90 2673.60h4.30v38.70h-4.30zM1435.70 2690.80h38.70v4.30h-38.70zM1448.60 2686.50h12.90v12.90h-12.90zM1444.30 2682.20h4.30v4.30h-4.30zM1461.50 2682.20h4.30v4.30h-4.30zM1444.30 2699.40h4.30v4.30h-4.30zM1461.50 2699.40h4.30v4.30h-4.30zM1465.80 2673.60h4.30v38.70h-4.30zM1448.60 2690.80h38.70v4.30h-38.70zM1461.50 2686.50h12.90v12.90h-12.90zM1457.20 2682.20h4.30v4.30h-4.30zM1474.40 2682.20h4.30v4.30h-4.30zM1457.20 2699.40h4.30v4.30h-4.30zM1474.40 2699.40h4.30v4.30h-4.30zM1478.70 2673.60h4.30v38.70h-4.30zM1461.50 2690.80h38.70v4.30h-38.70zM1474.40 2686.50h12.90v12.90h-12.90zM1470.10 2682.20h4.30v4.30h-4.30zM1487.30 2682.20h4.30v4.30h-4.30zM1470.10 2699.40h4.30v4.30h-4.30zM1487.30 2699.40h4.30v4.30h-4.30zM1491.60 2673.60h4.30v38.70h-4.30zM1474.40 2690.80h38.70v4.30h-38.70zM1487.30 2686.50h12.90v12.90h-12.90zM1483.00 2682.20h4.30v4.30h-4.30zM1500.20 2682.20h4.30v4.30h-4.30zM1483.00 2699.40h4.30v4.30h-4.30zM1500.20 2699.40h4.30v4.30h-4.30zM1504.50 2673.60h4.30v38.70h-4.30zM1487.30 2690.80h38.70v4.30h-38.70zM1500.20 2686.50h12.90v12.90h-12.90zM1495.90 2682.20h4.30v4.30h-4.30zM1513.10 2682.20h4.30v4.30h-4.30zM1495.90 2699.40h4.30v4.30h-4.30zM1513.10 2699.40h4.30v4.30h-4.30zM1517.40 2673.60h4.30v38.70h-4.30zM1500.20 2690.80h38.70v4.30h-38.70zM1513.10 2686.50h12.90v12.90h-12.90zM1508.80 2682.20h4.30v4.30h-4.30zM1526.00 2682.20h4.30v4.30h-4.30zM1508.80 2699.40h4.30v4.30h-4.30zM1526.00 2699.40h4.30v4.30h-4.30zM1530.30 2673.60h4.30v38.70h-4.30zM1513.10 2690.80h38.70v4.30h-38.70zM1526.00 2686.50h12.90v12.90h-12.90zM1521.70 2682.20h4.30v4.30h-4.30zM1538.90 2682.20h4.30v4.30h-4.30zM1521.70 2699.40h4.30v4.30h-4.30zM1538.90 2699.40h4.30v4.30h-4.30zM1538.90 2673.60h4.30v38.70h-4.30zM1521.70 2690.80h38.70v4.30h-38.70zM1534.60 2686.50h12.90v12.90h-12.90zM1530.30 2682.20h4.30v4.30h-4.30zM1547.50 2682.20h4.30v4.30h-4.30zM1530.30 2699.40h4.30v4.30h-4.30zM1547.50 2699.40h4.30v4.30h-4.30zM1551.80 2673.60h4.30v38.70h-4.30zM1534.60 2690.80h38.70v4.30h-38.70zM1547.50 2686.50h12.90v12.90h-12.90zM1543.20 2682.20h4.30v4.30h-4.30zM1560.40 2682.20h4.30v4.30h-4.30zM1543.20 2699.40h4.30v4.30h-4.30zM1560.40 2699.40h4.30v4.30h-4.30zM1564.70 2673.60h4.30v38.70h-4.30zM1547.50 2690.80h38.70v4.30h-38.70zM1560.40 2686.50h12.90v12.90h-12.90zM1556.10 2682.20h4.30v4.30h-4.30zM1573.30 2682.20h4.30v4.30h-4.30zM1556.10 2699.40h4.30v4.30h-4.30zM1573.30 2699.40h4.30v4.30h-4.30zM1577.60 2673.60h4.30v38.70h-4.30zM1560.40 2690.80h38.70v4.30h-38.70zM1573.30 2686.50h12.90v12.90h-12.90zM1569.00 2682.20h4.30v4.30h-4.30zM1586.20 2682.20h4.30v4.30h-4.30zM1569.00 2699.40h4.30v4.30h-4.30zM1586.20 2699.40h4.30v4.30h-4.30zM1590.50 2673.60h4.30v38.70h-4.30zM1573.30 2690.80h38.70v4.30h-38.70zM1586.20 2686.50h12.90v12.90h-12.90zM1581.90 2682.20h4.30v4.30h-4.30zM1599.10 2682.20h4.30v4.30h-4.30zM1581.90 2699.40h4.30v4.30h-4.30zM1599.10 2699.40h4.30v4.30h-4.30zM1603.40 2673.60h4.30v38.70h-4.30zM1586.20 2690.80h38.70v4.30h-38.70zM1599.10 2686.50h12.90v12.90h-12.90zM1594.80 2682.20h4.30v4.30h-4.30zM1612.00 2682.20h4.30v4.30h-4.30zM1594.80 2699.40h4.30v4.30h-4.30zM1612.00 2699.40h4.30v4.30h-4.30zM1616.30 2673.60h4.30v38.70h-4.30zM1599.10 2690.80h38.70v4.30h-38.70zM1612.00 2686.50h12.90v12.90h-12.90zM1607.70 2682.20h4.30v4.30h-4.30zM1624.90 2682.20h4.30v4.30h-4.30zM1607.70 2699.40h4.30v4.30h-4.30zM1624.90 2699.40h4.30v4.30h-4.30zM1629.20 2673.60h4.30v38.70h-4.30zM1612.00 2690.80h38.70v4.30h-38.70zM1624.90 2686.50h12.90v12.90h-12.90zM1620.60 2682.20h4.30v4.30h-4.30zM1637.80 2682.20h4.30v4.30h-4.30zM1620.60 2699.40h4.30v4.30h-4.30zM1637.80 2699.40h4.30v4.30h-4.30zM1642.10 2673.60h4.30v38.70h-4.30zM1624.90 2690.80h38.70v4.30h-38.70zM1637.80 2686.50h12.90v12.90h-12.90zM1633.50 2682.20h4.30v4.30h-4.30zM1650.70 2682.20h4.30v4.30h-4.30zM1633.50 2699.40h4.30v4.30h-4.30zM1650.70 2699.40h4.30v4.30h-4.30zM1655.00 2673.60h4.30v38.70h-4.30zM1637.80 2690.80h38.70v4.30h-38.70zM1650.70 2686.50h12.90v12.90h-12.90zM1646.40 2682.20h4.30v4.30h-4.30zM1663.60 2682.20h4.30v4.30h-4.30zM1646.40 2699.40h4.30v4.30h-4.30zM1663.60 2699.40h4.30v4.30h-4.30zM1667.90 2673.60h4.30v38.70h-4.30zM1650.70 2690.80h38.70v4.30h-38.70zM1663.60 2686.50h12.90v12.90h-12.90zM1659.30 2682.20h4.30v4.30h-4.30zM1676.50 2682.20h4.30v4.30h-4.30zM1659.30 2699.40h4.30v4.30h-4.30zM1676.50 2699.40h4.30v4.30h-4.30zM1680.80 2673.60h4.30v38.70h-4.30zM1663.60 2690.80h38.70v4.30h-38.70zM1676.50 2686.50h12.90v12.90h-12.90zM1672.20 2682.20h4.30v4.30h-4.30zM1689.40 2682.20h4.30v4.30h-4.30zM1672.20 2699.40h4.30v4.30h-4.30zM1689.40 2699.40h4.30v4.30h-4.30zM1689.40 2673.60h4.30v38.70h-4.30zM1672.20 2690.80h38.70v4.30h-38.70zM1685.10 2686.50h12.90v12.90h-12.90zM1680.80 2682.20h4.30v4.30h-4.30zM1698.00 2682.20h4.30v4.30h-4.30zM1680.80 2699.40h4.30v4.30h-4.30zM1698.00 2699.40h4.30v4.30h-4.30zM1702.30 2673.60h4.30v38.70h-4.30zM1685.10 2690.80h38.70v4.30h-38.70zM1698.00 2686.50h12.90v12.90h-12.90zM1693.70 2682.20h4.30v4.30h-4.30zM1710.90 2682.20h4.30v4.30h-4.30zM1693.70 2699.40h4.30v4.30h-4.30zM1710.90 2699.40h4.30v4.30h-4.30zM1715.20 2673.60h4.30v38.70h-4.30zM1698.00 2690.80h38.70v4.30h-38.70zM1710.90 2686.50h12.90v12.90h-12.90zM1706.60 2682.20h4.30v4.30h-4.30zM1723.80 2682.20h4.30v4.30h-4.30zM1706.60 2699.40h4.30v4.30h-4.30zM1723.80 2699.40h4.30v4.30h-4.30zM1728.10 2673.60h4.30v38.70h-4.30zM1710.90 2690.80h38.70v4.30h-38.70zM1723.80 2686.50h12.90v12.90h-12.90zM1719.50 2682.20h4.30v4.30h-4.30zM1736.70 2682.20h4.30v4.30h-4.30zM1719.50 2699.40h4.30v4.30h-4.30zM1736.70 2699.40h4.30v4.30h-4.30zM1741.00 2673.60h4.30v38.70h-4.30zM1723.80 2690.80h38.70v4.30h-38.70zM1736.70 2686.50h12.90v12.90h-12.90zM1732.40 2682.20h4.30v4.30h-4.30zM1749.60 2682.20h4.30v4.30h-4.30zM1732.40 2699.40h4.30v4.30h-4.30zM1749.60 2699.40h4.30v4.30h-4.30zM1753.90 2673.60h4.30v38.70h-4.30zM1736.70 2690.80h38.70v4.30h-38.70zM1749.60 2686.50h12.90v12.90h-12.90zM1745.30 2682.20h4.30v4.30h-4.30zM1762.50 2682.20h4.30v4.30h-4.30zM1745.30 2699.40h4.30v4.30h-4.30zM1762.50 2699.40h4.30v4.30h-4.30zM1766.80 2673.60h4.30v38.70h-4.30zM1749.60 2690.80h38.70v4.30h-38.70zM1762.50 2686.50h12.90v12.90h-12.90zM1758.20 2682.20h4.30v4.30h-4.30zM1775.40 2682.20h4.30v4.30h-4.30zM1758.20 2699.40h4.30v4.30h-4.30zM1775.40 2699.40h4.30v4.30h-4.30zM1779.70 2673.60h4.30v38.70h-4.30zM1762.50 2690.80h38.70v4.30h-38.70zM1775.40 2686.50h12.90v12.90h-12.90zM1771.10 2682.20h4.30v4.30h-4.30zM1788.30 2682.20h4.30v4.30h-4.30zM1771.10 2699.40h4.30v4.30h-4.30zM1788.30 2699.40h4.30v4.30h-4.30zM1792.60 2673.60h4.30v38.70h-4.30zM1775.40 2690.80h38.70v4.30h-38.70zM1788.30 2686.50h12.90v12.90h-12.90zM1784.00 2682.20h4.30v4.30h-4.30zM1801.20 2682.20h4.30v4.30h-4.30zM1784.00 2699.40h4.30v4.30h-4.30zM1801.20 2699.40h4.30v4.30h-4.30zM1805.50 2673.60h4.30v38.70h-4.30zM1788.30 2690.80h38.70v4.30h-38.70zM1801.20 2686.50h12.90v12.90h-12.90zM1796.90 2682.20h4.30v4.30h-4.30zM1814.10 2682.20h4.30v4.30h-4.30zM1796.90 2699.40h4.30v4.30h-4.30zM1814.10 2699.40h4.30v4.30h-4.30zM1818.40 2673.60h4.30v38.70h-4.30zM1801.20 2690.80h38.70v4.30h-38.70zM1814.10 2686.50h12.90v12.90h-12.90zM1809.80 2682.20h4.30v4.30h-4.30zM1827.00 2682.20h4.30v4.30h-4.30zM1809.80 2699.40h4.30v4.30h-4.30zM1827.00 2699.40h4.30v4.30h-4.30zM1831.30 2673.60h4.30v38.70h-4.30zM1814.10 2690.80h38.70v4.30h-38.70zM1827.00 2686.50h12.90v12.90h-12.90zM1822.70 2682.20h4.30v4.30h-4.30zM1839.90 2682.20h4.30v4.30h-4.30zM1822.70 2699.40h4.30v4.30h-4.30zM1839.90 2699.40h4.30v4.30h-4.30zM1839.90 2673.60h4.30v38.70h-4.30zM1822.70 2690.80h38.70v4.30h-38.70zM1835.60 2686.50h12.90v12.90h-12.90zM1831.30 2682.20h4.30v4.30h-4.30zM1848.50 2682.20h4.30v4.30h-4.30zM1831.30 2699.40h4.30v4.30h-4.30zM1848.50 2699.40h4.30v4.30h-4.30zM1852.80 2673.60h4.30v38.70h-4.30zM1835.60 2690.80h38.70v4.30h-38.70zM1848.50 2686.50h12.90v12.90h-12.90zM1844.20 2682.20h4.30v4.30h-4.30zM1861.40 2682.20h4.30v4.30h-4.30zM1844.20 2699.40h4.30v4.30h-4.30zM1861.40 2699.40h4.30v4.30h-4.30zM1865.70 2673.60h4.30v38.70h-4.30zM1848.50 2690.80h38.70v4.30h-38.70zM1861.40 2686.50h12.90v12.90h-12.90zM1857.10 2682.20h4.30v4.30h-4.30zM1874.30 2682.20h4.30v4.30h-4.30zM1857.10 2699.40h4.30v4.30h-4.30zM1874.30 2699.40h4.30v4.30h-4.30zM1878.60 2673.60h4.30v38.70h-4.30zM1861.40 2690.80h38.70v4.30h-38.70zM1874.30 2686.50h12.90v12.90h-12.90zM1870.00 2682.20h4.30v4.30h-4.30zM1887.20 2682.20h4.30v4.30h-4.30zM1870.00 2699.40h4.30v4.30h-4.30zM1887.20 2699.40h4.30v4.30h-4.30zM1891.50 2673.60h4.30v38.70h-4.30zM1874.30 2690.80h38.70v4.30h-38.70zM1887.20 2686.50h12.90v12.90h-12.90zM1882.90 2682.20h4.30v4.30h-4.30zM1900.10 2682.20h4.30v4.30h-4.30zM1882.90 2699.40h4.30v4.30h-4.30zM1900.10 2699.40h4.30v4.30h-4.30zM1904.40 2673.60h4.30v38.70h-4.30zM1887.20 2690.80h38.70v4.30h-38.70zM1900.10 2686.50h12.90v12.90h-12.90zM1895.80 2682.20h4.30v4.30h-4.30zM1913.00 2682.20h4.30v4.30h-4.30zM1895.80 2699.40h4.30v4.30h-4.30zM1913.00 2699.40h4.30v4.30h-4.30zM1917.30 2673.60h4.30v38.70h-4.30zM1900.10 2690.80h38.70v4.30h-38.70zM1913.00 2686.50h12.90v12.90h-12.90zM1908.70 2682.20h4.30v4.30h-4.30zM1925.90 2682.20h4.30v4.30h-4.30zM1908.70 2699.40h4.30v4.30h-4.30zM1925.90 2699.40h4.30v4.30h-4.30zM1930.20 2673.60h4.30v38.70h-4.30zM1913.00 2690.80h38.70v4.30h-38.70zM1925.90 2686.50h12.90v12.90h-12.90zM1921.60 2682.20h4.30v4.30h-4.30zM1938.80 2682.20h4.30v4.30h-4.30zM1921.60 2699.40h4.30v4.30h-4.30zM1938.80 2699.40h4.30v4.30h-4.30zM1943.10 2673.60h4.30v38.70h-4.30zM1925.90 2690.80h38.70v4.30h-38.70zM1938.80 2686.50h12.90v12.90h-12.90zM1934.50 2682.20h4.30v4.30h-4.30zM1951.70 2682.20h4.30v4.30h-4.30zM1934.50 2699.40h4.30v4.30h-4.30zM1951.70 2699.40h4.30v4.30h-4.30zM1956.00 2673.60h4.30v38.70h-4.30zM1938.80 2690.80h38.70v4.30h-38.70zM1951.70 2686.50h12.90v12.90h-12.90zM1947.40 2682.20h4.30v4.30h-4.30zM1964.60 2682.20h4.30v4.30h-4.30zM1947.40 2699.40h4.30v4.30h-4.30zM1964.60 2699.40h4.30v4.30h-4.30zM1968.90 2673.60h4.30v38.70h-4.30zM1951.70 2690.80h38.70v4.30h-38.70zM1964.60 2686.50h12.90v12.90h-12.90zM1960.30 2682.20h4.30v4.30h-4.30zM1977.50 2682.20h4.30v4.30h-4.30zM1960.30 2699.40h4.30v4.30h-4.30zM1977.50 2699.40h4.30v4.30h-4.30zM1981.80 2673.60h4.30v38.70h-4.30zM1964.60 2690.80h38.70v4.30h-38.70zM1977.50 2686.50h12.90v12.90h-12.90zM1973.20 2682.20h4.30v4.30h-4.30zM1990.40 2682.20h4.30v4.30h-4.30zM1973.20 2699.40h4.30v4.30h-4.30zM1990.40 2699.40h4.30v4.30h-4.30zM1994.70 2673.60h4.30v38.70h-4.30zM1977.50 2690.80h38.70v4.30h-38.70zM1990.40 2686.50h12.90v12.90h-12.90zM1986.10 2682.20h4.30v4.30h-4.30zM2003.30 2682.20h4.30v4.30h-4.30zM1986.10 2699.40h4.30v4.30h-4.30zM2003.30 2699.40h4.30v4.30h-4.30zM2003.30 2673.60h4.30v38.70h-4.30zM1986.10 2690.80h38.70v4.30h-38.70zM1999.00 2686.50h12.90v12.90h-12.90zM1994.70 2682.20h4.30v4.30h-4.30zM2011.90 2682.20h4.30v4.30h-4.30zM1994.70 2699.40h4.30v4.30h-4.30zM2011.90 2699.40h4.30v4.30h-4.30zM2016.20 2673.60h4.30v38.70h-4.30zM1999.00 2690.80h38.70v4.30h-38.70zM2011.90 2686.50h12.90v12.90h-12.90zM2007.60 2682.20h4.30v4.30h-4.30zM2024.80 2682.20h4.30v4.30h-4.30zM2007.60 2699.40h4.30v4.30h-4.30zM2024.80 2699.40h4.30v4.30h-4.30zM2029.10 2673.60h4.30v38.70h-4.30zM2011.90 2690.80h38.70v4.30h-38.70zM2024.80 2686.50h12.90v12.90h-12.90zM2020.50 2682.20h4.30v4.30h-4.30zM2037.70 2682.20h4.30v4.30h-4.30zM2020.50 2699.40h4.30v4.30h-4.30zM2037.70 2699.40h4.30v4.30h-4.30zM2042.00 2673.60h4.30v38.70h-4.30zM2024.80 2690.80h38.70v4.30h-38.70zM2037.70 2686.50h12.90v12.90h-12.90zM2033.40 2682.20h4.30v4.30h-4.30zM2050.60 2682.20h4.30v4.30h-4.30zM2033.40 2699.40h4.30v4.30h-4.30zM2050.60 2699.40h4.30v4.30h-4.30zM2054.90 2673.60h4.30v38.70h-4.30zM2037.70 2690.80h38.70v4.30h-38.70zM2050.60 2686.50h12.90v12.90h-12.90zM2046.30 2682.20h4.30v4.30h-4.30zM2063.50 2682.20h4.30v4.30h-4.30zM2046.30 2699.40h4.30v4.30h-4.30zM2063.50 2699.40h4.30v4.30h-4.30zM2067.80 2673.60h4.30v38.70h-4.30zM2050.60 2690.80h38.70v4.30h-38.70zM2063.50 2686.50h12.90v12.90h-12.90zM2059.20 2682.20h4.30v4.30h-4.30zM2076.40 2682.20h4.30v4.30h-4.30zM2059.20 2699.40h4.30v4.30h-4.30zM2076.40 2699.40h4.30v4.30h-4.30zM2080.70 2673.60h4.30v38.70h-4.30zM2063.50 2690.80h38.70v4.30h-38.70zM2076.40 2686.50h12.90v12.90h-12.90zM2072.10 2682.20h4.30v4.30h-4.30zM2089.30 2682.20h4.30v4.30h-4.30zM2072.10 2699.40h4.30v4.30h-4.30zM2089.30 2699.40h4.30v4.30h-4.30zM2093.60 2673.60h4.30v38.70h-4.30zM2076.40 2690.80h38.70v4.30h-38.70zM2089.30 2686.50h12.90v12.90h-12.90zM2085.00 2682.20h4.30v4.30h-4.30zM2102.20 2682.20h4.30v4.30h-4.30zM2085.00 2699.40h4.30v4.30h-4.30zM2102.20 2699.40h4.30v4.30h-4.30zM2106.50 2673.60h4.30v38.70h-4.30zM2089.30 2690.80h38.70v4.30h-38.70zM2102.20 2686.50h12.90v12.90h-12.90zM2097.90 2682.20h4.30v4.30h-4.30zM2115.10 2682.20h4.30v4.30h-4.30zM2097.90 2699.40h4.30v4.30h-4.30zM2115.10 2699.40h4.30v4.30h-4.30zM2119.40 2673.60h4.30v38.70h-4.30zM2102.20 2690.80h38.70v4.30h-38.70zM2115.10 2686.50h12.90v12.90h-12.90zM2110.80 2682.20h4.30v4.30h-4.30zM2128.00 2682.20h4.30v4.30h-4.30zM2110.80 2699.40h4.30v4.30h-4.30zM2128.00 2699.40h4.30v4.30h-4.30zM2132.30 2673.60h4.30v38.70h-4.30zM2115.10 2690.80h38.70v4.30h-38.70zM2128.00 2686.50h12.90v12.90h-12.90zM2123.70 2682.20h4.30v4.30h-4.30zM2140.90 2682.20h4.30v4.30h-4.30zM2123.70 2699.40h4.30v4.30h-4.30zM2140.90 2699.40h4.30v4.30h-4.30z" fill="#ff0000" shape-rendering="crispEdges"/>
<polyline points="263.1,2694.0 275.7,2694.0 288.2,2694.0 300.8,2694.0 313.3,2694.0 325.9,2694.0 338.4,2694.0 351.0,2694.0 363.5,2694.0 376.1,2694.0 388.6,2694.0 401.2,2694.0 413.7,2694.0 426.3,2694.0 438.8,2694.0 451.4,2694.0 463.9,2694.0 476.5,2694.0 489.0,2694.0 501.6,2694.0 514.1,2694.0 526.7,2694.0 539.2,2694.0 551.8,2694.0 564.3,2694.0 576.8,2694.0 589.4,2694.0 601.9,2694.0 614.5,2694.0 627.0,2694.0 639.6,2694.0 652.1,2694.0 664.7,2694.0 677.2,2694.0 689.8,2694.0 702.3,2694.0 714.9,2694.0 727.4,2694.0 740.0,2694.0 752.5,2694.0 765.1,2694.0 777.6,2694.0 790.2,2694.0 802.7,2694.0 815.3,2694.0 827.8,2694.0 840.4,2694.0 852.9,2694.0 865.5,2694.0 878.0,2694.0 890.5,2694.0 903.1,2694.0 915.6,2694.0 928.2,2694.0 940.7,2694.0 953.3,2694.0 965.8,2694.0 978.4,2694.0 990.9,2694.0 1003.5,2694.0 1016.0,2694.0 1028.6,2694.0 1041.1,2694.0 1053.7,2694.0 1066.2,2694.0 1078.8,2694.0 1091.3,2694.0 1103.9,2694.0 1116.4,2694.0 1129.0,2694.0 1141.5,2694.0 1154.1,2694.0 1166.6,2694.0 1179.2,2694.0 1191.7,2694.0 1204.2,2694.0 1216.8,2694.0 1229.3,2694.0 1241.9,2694.0 1254.4,2694.0 1267.0,2694.0 1279.5,2694.0 1292.1,2694.0 1304.6,2694.0 1317.2,2694.0 1329.7,2694.0 1342.3,2694.0 1354.8,2694.0 1367.4,2694.0 1379.9,2694.0 1392.5,2694.0 1405.0,2694.0 1417.6,2694.0 1430.1,2694.0 1442.7,2694.0 1455.2,2694.0 1467.8,2694.0 1480.3,2694.0 1492.9,2694.0 1505.4,2694.0 1517.9,2694.0 1530.5,2694.0 1543.0,2694.0 1555.6,2694.0 1568.1,2694.0 1580.7,2694.0 1593.2,2694.0 1605.8,2694.0 1618.3,2694.0 1630.9,2694.0 1643.4,2694.0 1656.0,2694.0 1668.5,2694.0 1681.1,2694.0 1693.6,2694.0 1706.2,2694.0 1718.7,2694.0 1731.3,2694.0 1743.8,2694.0 1756.4,2694.0 1768.9,2694.0 1781.5,2694.0 1794.0,2694.0 1806.6,2694.0 1819.1,2694.0 1831.6,2694.0 1844.2,2694.0 1856.7,2694.0 1869.3,2694.0 1881.8,2694.0 1894.4,2694.0 1906.9,2694.0 1919.5,2694.0 1932.0,2694.0 1944.6,2694.0 1957.1,2694.0 1969.7,2694.0 1982.2,2694.0 1994.8,2694.0 2007.3,2694.0 2019.9,2694.0 2032.4,2694.0 2045.0,2694.0 2057.5,2694.0 2070.1,2694.0 2082.6,2694.0 2095.2,2694.0 2107.7,2694.0 2120.3,2694.0 2132.8,2694.0" fill="none" stroke="#0000ff" stroke-width="4.3" stroke-linejoin="round" shape-rendering="crispEdges"/>
<path d="M248.90 2669.30h4.30v47.30h-4.30zM253.20 2673.60h8.60v4.30h-8.60zM261.80 2677.90h8.60v4.30h-8.60zM270.40 2682.20h4.30v4.30h-4.30zM274.70 2686.50h8.60v12.90h-8.60zM266.10 2699.40h8.60v4.30h-8.60zM261.80 2703.70h4.30v4.30h-4.30zM253.20 2708.00h8.60v4.30h-8.60zM261.80 2669.30h4.30v47.30h-4.30zM266.10 2673.60h8.60v4.30h-8.60zM274.70 2677.90h8.60v4.30h-8.60zM283.30 2682.20h4.30v4.30h-4.30zM287.60 2686.50h8.60v12.90h-8.60zM279.00 2699.40h8.60v4.30h-8.60zM274.70 2703.70h4.30v4.30h-4.30zM266.10 2708.00h8.60v4.30h-8.60zM274.70 2669.30h4.30v47.30h-4.30zM279.00 2673.60h8.60v4.30h-8.60zM287.60 2677.90h8.60v4.30h-8.60zM296.20 2682.20h4.30v4.30h-4.30zM300.50 2686.50h8.60v12.90h-8.60zM291.90 2699.40h8.60v4.30h-8.60zM287.60 2703.70h4.30v4.30h-4.30zM279.00 2708.00h8.60v4.30h-8.60zM287.60 2669.30h4.30v47.30h-4.30zM291.90 2673.60h8.60v4.30h-8.60zM300.50 2677.90h8.60v4.30h-8.60zM309.10 2682.20h4.30v4.30h-4.30zM313.40 2686.50h8.60v12.90h-8.60zM304.80 2699.40h8.60v4.30h-8.60zM300.50 2703.70h4.30v4.30h-4.30zM291.90 2708.00h8.60v4.30h-8.60zM296.20 2669.30h4.30v47.30h-4.30zM300.50 2673.60h8.60v4.30h-8.60zM309.10 2677.90h8.60v4.30h-8.60zM317.70 2682.20h4.30v4.30h-4.30zM322.00 2686.50h8.60v12.90h-8.60zM313.40 2699.40h8.60v4.30h-8.60zM309.10 2703.70h4.30v4.30h-4.30zM300.50 2708.00h8.60v4.30h-8.60zM309.10 2669.30h4.30v47.30h-4.30zM313.40 2673.60h8.60v4.30h-8.60zM322.00 2677.90h8.60v4.30h-8.60zM330.60 2682.20h4.30v4.30h-4.30zM334.90 2686.50h8.60v12.90h-8.60zM326.30 2699.40h8.60v4.30h-8.60zM322.00 2703.70h4.30v4.30h-4.30zM313.40 2708.00h8.60v4.30h-8.60zM322.00 2669.30h4.30v47.30h-4.30zM326.30 2673.60h8.60v4.30h-8.60zM334.90 2677.90h8.60v4.30h-8.60zM343.50 2682.20h4.30v4.30h-4.30zM347.80 2686.50h8.60v12.90h-8.60zM339.20 2699.40h8.60v4.30h-8.60zM334.90 2703.70h4.30v4.30h-4.30zM326.30 2708.00h8.60v4.30h-8.60zM334.90 2669.30h4.30v47.30h-4.30zM339.20 2673.60h8.60v4.30h-8.60zM347.80 2677.90h8.60v4.30h-8.60zM356.40 2682.20h4.30v4.30h-4.30zM360.70 2686.50h8.60v12.90h-8.60zM352.10 2699.40h8.60v4.30h-8.60zM347.80 2703.70h4.30v4.30h-4.30zM339.20 2708.00h8.60v4.30h-8.60zM347.80 2669.30h4.30v47.30h-4.30zM352.10 2673.60h8.60v4.30h-8.60zM360.70 2677.90h8.60v4.30h-8.60zM369.30 2682.20h4.30v4.30h-4.30zM373.60 2686.50h8.60v12.90h-8.60zM365.00 2699.40h8.60v4.30h-8.60zM360.70 2703.70h4.30v4.30h-4.30zM352.10 2708.00h8.60v4.30h-8.60zM360.70 2669.30h4.30v47.30h-4.30zM365.00 2673.60h8.60v4.30h-8.60zM373.60 2677.90h8.60v4.30h-8.60zM382.20 2682.20h4.30v4.30h-4.30zM386.50 2686.50h8.60v12.90h-8.60zM377.90 2699.40h8.60v4.30h-8.60zM373.60 2703.70h4.30v4.30h-4.30zM365.00 2708.00h8.60v4.30h-8.60zM373.60 2669.30h4.30v47.30h-4.30zM377.90 2673.60h8.60v4.30h-8.60zM386.50 2677.90h8.60v4.30h-8.60zM395.10 2682.20h4.30v4.30h-4.30zM399.40 2686.50h8.60v12.90h-8.60zM390.80 2699.40h8.60v4.30h-8.60zM386.50 2703.70h4.30v4.30h-4.30zM377.90 2708.00h8.60v4.30h-8.60zM386.50 2669.30h4.30v47.30h-4.30zM390.80 2673.60h8.60v4.30h-8.60zM399.40 2677.90h8.60v4.30h-8.60zM408.00 2682.20h4.30v4.30h-4.30zM412.30 2686.50h8.60v12.90h-8.60zM403.70 2699.40h8.60v4.30h-8.60zM399.40 2703.70h4.30v4.30h-4.30zM390.80 2708.00h8.60v4.30h-8.60zM399.40 2669.30h4.30v47.30h-4.30zM403.70 2673.60h8.60v4.30h-8.60zM412.30 2677.90h8.60v4.30h-8.60zM420.90 2682.20h4.30v4.30h-4.30zM425.20 2686.50h8.60v12.90h-8.60zM416.60 2699.40h8.60v4.30h-8.60zM412.30 2703.70h4.30v4.30h-4.30zM403.70 2708.00h8.60v4.30h-8.60zM412.30 2669.30h4.30v47.30h-4.30zM416.60 2673.60h8.60v4.30h-8.60zM425.20 2677.90h8.60v4.30h-8.60zM433.80 2682.20h4.30v4.30h-4.30zM438.10 2686.50h8.60v12.90h-8.60zM429.50 2699.40h8.60v4.30h-8.60zM425.20 2703.70h4.30v4.30h-4.30zM416.60 2708.00h8.60v4.30h-8.60zM425.20 2669.30h4.30v47.30h-4.30zM429.50 2673.60h8.60v4.30h-8.60zM438.10 2677.90h8.60v4.30h-8.60zM446.70 2682.20h4.30v4.30h-4.30zM451.00 2686.50h8.60v12.90h-8.60zM442.40 2699.40h8.60v4.30h-8.60zM438.10 2703.70h4.30v4.30h-4.30zM429.50 2708.00h8.60v4.30h-8.60zM438.10 2669.30h4.30v47.30h-4.30zM442.40 2673.60h8.60v4.30h-8.60zM451.00 2677.90h8.60v4.30h-8.60zM459.60 2682.20h4.30v4.30h-4.30zM463.90 2686.50h8.60v12.90h-8.60zM455.30 2699.40h8.60v4.30h-8.60zM451.00 2703.70h4.30v4.30h-4.30zM442.40 2708.00h8.60v4.30h-8.60zM451.00 2669.30h4.30v47.30h-4.30zM455.30 2673.60h8.60v4.30h-8.60zM463.90 2677.90h8.60v4.30h-8.60zM472.50 2682.20h4.30v4.30h-4.30zM476.80 2686.50h8.60v12.90h-8.60zM468.20 2699.40h8.60v4.30h-8.60zM463.90 2703.70h4.30v4.30h-4.30zM455.30 2708.00h8.60v4.30h-8.60zM459.60 2669.30h4.30v47.30h-4.30zM463.90 2673.60h8.60v4.30h-8.60zM472.50 2677.90h8.60v4.30h-8.60zM481.10 2682.20h4.30v4.30h-4.30zM485.40 2686.50h8.60v12.90h-8.60zM476.80 2699.40h8.60v4.30h-8.60zM472.50 2703.70h4.30v4.30h-4.30zM463.90 2708.00h8.60v4.30h-8.60zM472.50 2669.30h4.30v47.30h-4.30zM476.80 2673.60h8.60v4.30h-8.60zM485.40 2677.90h8.60v4.30h-8.60zM494.00 2682.20h4.30v4.30h-4.30zM498.30 2686.50h8.60v12.90h-8.60zM489.70 2699.40h8.60v4.30h-8.60zM485.40 2703.70h4.30v4.30h-4.30zM476.80 2708.00h8.60v4.30h-8.60zM485.40 2669.30h4.30v47.30h-4.30zM489.70 2673.60h8.60v4.30h-8.60zM498.30 2677.90h8.60v4.30h-8.60zM506.90 2682.20h4.30v4.30h-4.30zM511.20 2686.50h8.60v12.90h-8.60zM502.60 2699.40h8.60v4.30h-8.60zM498.30 2703.70h4.30v4.30h-4.30zM489.70 2708.00h8.60v4.30h-8.60zM498.30 2669.30h4.30v47.30h-4.30zM502.60 2673.60h8.60v4.30h-8.60zM511.20 2677.90h8.60v4.30h-8.60zM519.80 2682.20h4.30v4.30h-4.30zM524.10 2686.50h8.60v12.90h-8.60zM515.50 2699.40h8.60v4.30h-8.60zM511.20 2703.70h4.30v4.30h-4.30zM502.60 2708.00h8.60v4.30h-8.60zM511.20 2669.30h4.30v47.30h-4.30zM515.50 2673.60h8.60v4.30h-8.60zM524.10 2677.90h8.60v4.30h-8.60zM532.70 2682.20h4.30v4.30h-4.30zM537.00 2686.50h8.60v12.90h-8.60zM528.40 2699.40h8.60v4.30h-8.60zM524.10 2703.70h4.30v4.30h-4.30zM515.50 2708.00h8.60v4.30h-8.60zM524.10 2669.30h4.30v47.30h-4.30zM528.40 2673.60h8.60v4.30h-8.60zM537.00 2677.90h8.60v4.30h-8.60zM545.60 2682.20h4.30v4.30h-4.30zM549.90 2686.50h8.60v12.90h-8.60zM541.30 2699.40h8.60v4.30h-8.60zM537.00 2703.70h4.30v4.30h-4.30zM528.40 2708.00h8.60v4.30h-8.60zM537.00 2669.30h4.30v47.30h-4.30zM541.30 2673.60h8.60v4.30h-8.60zM549.90 2677.90h8.60v4.30h-8.60zM558.50 2682.20h4.30v4.30h-4.30zM562.80 2686.50h8.60v12.90h-8.60zM554.20 2699.40h8.60v4.30h-8.60zM549.90 2703.70h4.30v4.30h-4.30zM541.30 2708.00h8.60v4.30h-8.60zM549.90 2669.30h4.30v47.30h-4.30zM554.20 2673.60h8.60v4.30h-8.60zM562.80 2677.90h8.60v4.30h-8.60zM571.40 2682.20h4.30v4.30h-4.30zM575.70 2686.50h8.60v12.90h-8.60zM567.10 2699.40h8.60v4.30h-8.60zM562.80 2703.70h4.30v4.30h-4.30zM554.20 2708.00h8.60v4.30h-8.60zM562.80 2669.30h4.30v47.30h-4.30zM567.10 2673.60h8.60v4.30h-8.60zM575.70 2677.90h8.60v4.30h-8.60zM584.30 2682.20h4.30v4.30h-4.30zM588.60 2686.50h8.60v12.90h-8.60zM580.00 2699.40h8.60v4.30h-8.60zM575.70 2703.70h4.30v4.30h-4.30zM567.10 2708.00h8.60v4.30h-8.60zM575.70 2669.30h4.30v47.30h-4.30zM580.00 2673.60h8.60v4.30h-8.60zM588.60 2677.90h8.60v4.30h-8.60zM597.20 2682.20h4.30v4.30h-4.30zM601.50 2686.50h8.60v12.90h-8.60zM592.90 2699.40h8.60v4.30h-8.60zM588.60 2703.70h4.30v4.30h-4.30zM580.00 2708.00h8.60v4.30h-8.60zM588.60 2669.30h4.30v47.30h-4.30zM592.90 2673.60h8.60v4.30h-8.60zM601.50 2677.90h8.60v4.30h-8.60zM610.10 2682.20h4.30v4.30h-4.30zM614.40 2686.50h8.60v12.90h-8.60zM605.80 2699.40h8.60v4.30h-8.60zM601.50 2703.70h4.30v4.30h-4.30zM592.90 2708.00h8.60v4.30h-8.60zM601.50 2669.30h4.30v47.30h-4.30zM605.80 2673.60h8.60v4.30h-8.60zM614.40 2677.90h8.60v4.30h-8.60zM623.00 2682.20h4.30v4.30h-4.30zM627.30 2686.50h8.60v12.90h-8.60zM618.70 2699.40h8.60v4.30h-8.60zM614.40 2703.70h4.30v4.30h-4.30zM605.80 2708.00h8.60v4.30h-8.60zM610.10 2669.30h4.30v47.30h-4.30zM614.40 2673.60h8.60v4.30h-8.60zM623.00 2677.90h8.60v4.30h-8.60zM631.60 2682.20h4.30v4.30h-4.30zM635.90 2686.50h8.60v12.90h-8.60zM627.30 2699.40h8.60v4.30h-8.60zM623.00 2703.70h4.30v4.30h-4.30zM614.40 2708.00h8.60v4.30h-8.60zM623.00 2669.30h4.30v47.30h-4.30zM627.30 2673.60h8.60v4.30h-8.60zM635.90 2677.90h8.60v4.30h-8.60zM644.50 2682.20h4.30v4.30h-4.30zM648.80 2686.50h8.60v12.90h-8.60zM640.20 2699.40h8.60v4.30h-8.60zM635.90 2703.70h4.30v4.30h-4.30zM627.30 2708.00h8.60v4.30h-8.60zM635.90 2669.30h4.30v47.30h-4.30zM640.20 2673.60h8.60v4.30h-8.60zM648.80 2677.90h8.60v4.30h-8.60zM657.40 2682.20h4.30v4.30h-4.30zM661.70 2686.50h8.60v12.90h-8.60zM653.10 2699.40h8.60v4.30h-8.60zM648.80 2703.70h4.30v4.30h-4.30zM640.20 2708.00h8.60v4.30h-8.60zM648.80 2669.30h4.30v47.30h-4.30zM653.10 2673.60h8.60v4.30h-8.60zM661.70 2677.90h8.60v4.30h-8.60zM670.30 2682.20h4.30v4.30h-4.30zM674.60 2686.50h8.60v12.90h-8.60zM666.00 2699.40h8.60v4.30h-8.60zM661.70 2703.70h4.30v4.30h-4.30zM653.10 2708.00h8.60v4.30h-8.60zM661.70 2669.30h4.30v47.30h-4.30zM666.00 2673.60h8.60v4.30h-8.60zM674.60 2677.90h8.60v4.30h-8.60zM683.20 2682.20h4.30v4.30h-4.30zM687.50 2686.50h8.60v12.90h-8.60zM678.90 2699.40h8.60v4.30h-8.60zM674.60 2703.70h4.30v4.30h-4.30zM666.00 2708.00h8.60v4.30h-8.60zM674.60 2669.30h4.30v47.30h-4.30zM678.90 2673.60h8.60v4.30h-8.60zM687.50 2677.90h8.60v4.30h-8.60zM696.10 2682.20h4.30v4.30h-4.30zM700.40 2686.50h8.60v12.90h-8.60zM691.80 2699.40h8.60v4.30h-8.60zM687.50 2703.70h4.30v4.30h-4.30zM678.90 2708.00h8.60v4.30h-8.60zM687.50 2669.30h4.30v47.30h-4.30zM691.80 2673.60h8.60v4.30h-8.60zM700.40 2677.90h8.60v4.30h-8.60zM709.00 2682.20h4.30v4.30h-4.30zM713.30 2686.50h8.60v12.90h-8.60zM704.70 2699.40h8.60v4.30h-8.60zM700.40 2703.70h4.30v4.30h-4.30zM691.80 2708.00h8.60v4.30h-8.60zM700.40 2669.30h4.30v47.30h-4.30zM704.70 2673.60h8.60v4.30h-8.60zM713.30 2677.90h8.60v4.30h-8.60zM721.90 2682.20h4.30v4.30h-4.30zM726.20 2686.50h8.60v12.90h-8.60zM717.60 2699.40h8.60v4.30h-8.60zM713.30 2703.70h4.30v4.30h-4.30zM704.70 2708.00h8.60v4.30h-8.60zM713.30 2669.30h4.30v47.30h-4.30zM717.60 2673.60h8.60v4.30h-8.60zM726.20 2677.90h8.60v4.30h-8.60zM734.80 2682.20h4.30v4.30h-4.30zM739.10 2686.50h8.60v12.90h-8.60zM730.50 2699.40h8.60v4.30h-8.60zM726.20 2703.70h4.30v4.30h-4.30zM717.60 2708.00h8.60v4.30h-8.60zM726.20 2669.30h4.30v47.30h-4.30zM730.50 2673.60h8.60v4.30h-8.60zM739.10 2677.90h8.60v4.30h-8.60zM747.70 2682.20h4.30v4.30h-4.30zM752.00 2686.50h8.60v12.90h-8.60zM743.40 2699.40h8.60v4.30h-8.60zM739.10 2703.70h4.30v4.30h-4.30zM730.50 2708.00h8.60v4.30h-8.60zM739.10 2669.30h4.30v47.30h-4.30zM743.40 2673.60h8.60v4.30h-8.60zM752.00 2677.90h8.60v4.30h-8.60zM760.60 2682.20h4.30v4.30h-4.30zM764.90 2686.50h8.60v12.90h-8.60zM756.30 2699.40h8.60v4.30h-8.60zM752.00 2703.70h4.30v4.30h-4.30zM743.40 2708.00h8.60v4.30h-8.60zM752.00 2669.30h4.30v47.30h-4.30zM756.30 2673.60h8.60v4.30h-8.60zM764.90 2677.90h8.60v4.30h-8.60zM773.50 2682.20h4.30v4.30h-4.30zM777.80 2686.50h8.60v12.90h-8.60zM769.20 2699.40h8.60v4.30h-8.60zM764.90 2703.70h4.30v4.30h-4.30zM756.30 2708.00h8.60v4.30h-8.60zM760.60 2669.30h4.30v47.30h-4.30zM764.90 2673.60h8.60v4.30h-8.60zM773.50 2677.90h8.60v4.30h-8.60zM782.10 2682.20h4.30v4.30h-4.30zM786.40 2686.50h8.60v12.90h-8.60zM777.80 2699.40h8.60v4.30h-8.60zM773.50 2703.70h4.30v4.30h-4.30zM764.90 2708.00h8.60v4.30h-8.60zM773.50 2669.30h4.30v47.30h-4.30zM777.80 2673.60h8.60v4.30h-8.60zM786.40 2677.90h8.60v4.30h-8.60zM795.00 2682.20h4.30v4.30h-4.30zM799.30 2686.50h8.60v12.90h-8.60zM790.70 2699.40h8.60v4.30h-8.60zM786.40 2703.70h4.30v4.30h-4.30zM777.80 2708.00h8.60v4.30h-8.60zM786.40 2669.30h4.30v47.30h-4.30zM790.70 2673.60h8.60v4.30h-8.60zM799.30 2677.90h8.60v4.30h-8.60zM807.90 2682.20h4.30v4.30h-4.30zM812.20 2686.50h8.60v12.90h-8.60zM803.60 2699.40h8.60v4.30h-8.60zM799.30 2703.70h4.30v4.30h-4.30zM790.70 2708.00h8.60v4.30h-8.60zM799.30 2669.30h4.30v47.30h-4.30zM803.60 2673.60h8.60v4.30h-8.60zM812.20 2677.90h8.60v4.30h-8.60zM820.80 2682.20h4.30v4.30h-4.30zM825.10 2686.50h8.60v12.90h-8.60zM816.50 2699.40h8.60v4.30h-8.60zM812.20 2703.70h4.30v4.30h-4.30zM803.60 2708.00h8.60v4.30h-8.60zM812.20 2669.30h4.30v47.30h-4.30zM816.50 2673.60h8.60v4.30h-8.60zM825.10 2677.90h8.60v4.30h-8.60zM833.70 2682.20h4.30v4.30h-4.30zM838.00 2686.50h8.60v12.90h-8.60zM829.40 2699.40h8.60v4.30h-8.60zM825.10 2703.70h4.30v4.30h-4.30zM816.50 2708.00h8.60v4.30h-8.60zM825.10 2669.30h4.30v47.30h-4.30zM829.40 2673.60h8.60v4.30h-8.60zM838.00 2677.90h8.60v4.30h-8.60zM846.60 2682.20h4.30v4.30h-4.30zM850.90 2686.50h8.60v12.90h-8.60zM842.30 2699.40h8.60v4.30h-8.60zM838.00 2703.70h4.30v4.30h-4.30zM829.40 2708.00h8.60v4.30h-8.60zM838.00 2669.30h4.30v47.30h-4.30zM842.30 2673.60h8.60v4.30h-8.60zM850.90 2677.90h8.60v4.30h-8.60zM859.50 2682.20h4.30v4.30h-4.30zM863.80 2686.50h8.60v12.90h-8.60zM855.20 2699.40h8.60v4.30h-8.60zM850.90 2703.70h4.30v4.30h-4.30zM842.30 2708.00h8.60v4.30h-8.60zM850.90 2669.30h4.30v47.30h-4.30zM855.20 2673.60h8.60v4.30h-8.60zM863.80 2677.90h8.60v4.30h-8.60zM872.40 2682.20h4.30v4.30h-4.30zM876.70 2686.50h8.60v12.90h-8.60zM868.10 2699.40h8.60v4.30h-8.60zM863.80 2703.70h4.30v4.30h-4.30zM855.20 2708.00h8.60v4.30h-8.60zM863.80 2669.30h4.30v47.30h-4.30zM868.10 2673.60h8.60v4.30h-8.60zM876.70 2677.90h8.60v4.30h-8.60zM885.30 2682.20h4.30v4.30h-4.30zM889.60 2686.50h8.60v12.90h-8.60zM881.00 2699.40h8.60v4.30h-8.60zM876.70 2703.70h4.30v4.30h-4.30zM868.10 2708.00h8.60v4.30h-8.60zM876.70 2669.30h4.30v47.30h-4.30zM881.00 2673.60h8.60v4.30h-8.60zM889.60 2677.90h8.60v4.30h-8.60zM898.20 2682.20h4.30v4.30h-4.30zM902.50 2686.50h8.60v12.90h-8.60zM893.90 2699.40h8.60v4.30h-8.60zM889.60 2703.70h4.30v4.30h-4.30zM881.00 2708.00h8.60v4.30h-8.60zM889.60 2669.30h4.30v47.30h-4.30zM893.90 2673.60h8.60v4.30h-8.60zM902.50 2677.90h8.60v4.30h-8.60zM911.10 2682.20h4.30v4.30h-4.30zM915.40 2686.50h8.60v12.90h-8.60zM906.80 2699.40h8.60v4.30h-8.60zM902.50 2703.70h4.30v4.30h-4.30zM893.90 2708.00h8.60v4.30h-8.60zM902.50 2669.30h4.30v47.30h-4.30zM906.80 2673.60h8.60v4.30h-8.60zM915.40 2677.90h8.60v4.30h-8.60zM924.00 2682.20h4.30v4.30h-4.30zM928.30 2686.50h8.60v12.90h-8.60zM919.70 2699.40h8.60v4.30h-8.60zM915.40 2703.70h4.30v4.30h-4.30zM906.80 2708.00h8.60v4.30h-8.60zM911.10 2669.30h4.30v47.30h-4.30zM915.40 2673.60h8.60v4.30h-8.60zM924.00 2677.90h8.60v4.30h-8.60zM932.60 2682.20h4.30v4.30h-4.30zM936.90 2686.50h8.60v12.90h-8.60zM928.30 2699.40h8.60v4.30h-8.60zM924.00 2703.70h4.30v4.30h-4.30zM915.40 2708.00h8.60v4.30h-8.60zM924.00 2669.30h4.30v47.30h-4.30zM928.30 2673.60h8.60v4.30h-8.60zM936.90 2677.90h8.60v4.30h-8.60zM945.50 2682.20h4.30v4.30h-4.30zM949.80 2686.50h8.60v12.90h-8.60zM941.20 2699.40h8.60v4.30h-8.60zM936.90 2703.70h4.30v4.30h-4.30zM928.30 2708.00h8.60v4.30h-8.60zM936.90 2669.30h4.30v47.30h-4.30zM941.20 2673.60h8.60v4.30h-8.60zM949.80 2677.90h8.60v4.30h-8.60zM958.40 2682.20h4.30v4.30h-4.30zM962.70 2686.50h8.60v12.90h-8.60zM954.10 2699.40h8.60v4.30h-8.60zM949.80 2703.70h4.30v4.30h-4.30zM941.20 2708.00h8.60v4.30h-8.60zM949.80 2669.30h4.30v47.30h-4.30zM954.10 2673.60h8.60v4.30h-8.60zM962.70 2677.90h8.60v4.30h-8.60zM971.30 2682.20h4.30v4.30h-4.30zM975.60 2686.50h8.60v12.90h-8.60zM967.00 2699.40h8.60v4.30h-8.60zM962.70 2703.70h4.30v4.30h-4.30zM954.10 2708.00h8.60v4.30h-8.60zM962.70 2669.30h4.30v47.30h-4.30zM967.00 2673.60h8.60v4.30h-8.60zM975.60 2677.90h8.60v4.30h-8.60zM984.20 2682.20h4.30v4.30h-4.30zM988.50 2686.50h8.60v12.90h-8.60zM979.90 2699.40h8.60v4.30h-8.60zM975.60 2703.70h4.30v4.30h-4.30zM967.00 2708.00h8.60v4.30h-8.60zM975.60 2669.30h4.30v47.30h-4.30zM979.90 2673.60h8.60v4.30h-8.60zM988.50 2677.90h8.60v4.30h-8.60zM997.10 2682.20h4.30v4.30h-4.30zM1001.40 2686.50h8.60v12.90h-8.60zM992.80 2699.40h8.60v4.30h-8.60zM988.50 2703.70h4.30v4.30h-4.30zM979.90 2708.00h8.60v4.30h-8.60zM988.50 2669.30h4.30v47.30h-4.30zM992.80 2673.60h8.60v4.30h-8.60zM1001.40 2677.90h8.60v4.30h-8.60zM1010.00 2682.20h4.30v4.30h-4.30zM1014.30 2686.50h8.60v12.90h-8.60zM1005.70 2699.40h8.60v4.30h-8.60zM1001.40 2703.70h4.30v4.30h-4.30zM992.80 2708.00h8.60v4.30h-8.60zM1001.40 2669.30h4.30v47.30h-4.30zM1005.70 2673.60h8.60v4.30h-8.60zM1014.30 2677.90h8.60v4.30h-8.60zM1022.90 2682.20h4.30v4.30h-4.30zM1027.20 2686.50h8.60v12.90h-8.60zM1018.60 2699.40h8.60v4.30h-8.60zM1014.30 2703.70h4.30v4.30h-4.30zM1005.70 2708.00h8.60v4.30h-8.60zM1014.30 2669.30h4.30v47.30h-4.30zM1018.60 2673.60h8.60v4.30h-8.60zM1027.20 2677.90h8.60v4.30h-8.60zM1035.80 2682.20h4.30v4.30h-4.30zM1040.10 2686.50h8.60v12.90h-8.60zM1031.50 2699.40h8.60v4.30h-8.60zM1027.20 2703.70h4.30v4.30h-4.30zM1018.60 2708.00h8.60v4.30h-8.60zM1027.20 2669.30h4.30v47.30h-4.30zM1031.50 2673.60h8.60v4.30h-8.60zM1040.10 2677.90h8.60v4.30h-8.60zM1048.70 2682.20h4.30v4.30h-4.30zM1053.00 2686.50h8.60v12.90h-8.60zM1044.40 2699.40h8.60v4.30h-8.60zM1040.10 2703.70h4.30v4.30h-4.30zM1031.50 2708.00h8.60v4.30h-8.60zM1040.10 2669.30h4.30v47.30h-4.30zM1044.40 2673.60h8.60v4.30h-8.60zM1053.00 2677.90h8.60v4.30h-8.60zM1061.60 2682.20h4.30v4.30h-4.30zM1065.90 2686.50h8.60v12.90h-8.60zM1057.30 2699.40h8.60v4.30h-8.60zM1053.00 2703.70h4.30v4.30h-4.30zM1044.40 2708.00h8.60v4.30h-8.60zM1053.00 2669.30h4.30v47.30h-4.30zM1057.30 2673.60h8.60v4.30h-8.60zM1065.90 2677.90h8.60v4.30h-8.60zM1074.50 2682.20h4.30v4.30h-4.30zM1078.80 2686.50h8.60v12.90h-8.60zM1070.20 2699.40h8.60v4.30h-8.60zM1065.90 2703.70h4.30v4.30h-4.30zM1057.30 2708.00h8.60v4.30h-8.60zM1061.60 2669.30h4.30v47.30h-4.30zM1065.90 2673.60h8.60v4.30h-8.60zM1074.50 2677.90h8.60v4.30h-8.60zM1083.10 2682.20h4.30v4.30h-4.30zM1087.40 2686.50h8.60v12.90h-8.60zM1078.80 2699.40h8.60v4.30h-8.60zM1074.50 2703.70h4.30v4.30h-4.30zM1065.90 2708.00h8.60v4.30h-8.60zM1074.50 2669.30h4.30v47.30h-4.30zM1078.80 2673.60h8.60v4.30h-8.60zM1087.40 2677.90h8.60v4.30h-8.60zM1096.00 2682.20h4.30v4.30h-4.30zM1100.30 2686.50h8.60v12.90h-8.60zM1091.70 2699.40h8.60v4.30h-8.60zM1087.40 2703.70h4.30v4.30h-4.30zM1078.80 2708.00h8.60v4.30h-8.60zM1087.40 2669.30h4.30v47.30h-4.30zM1091.70 2673.60h8.60v4.30h-8.60zM1100.30 2677.90h8.60v4.30h-8.60zM1108.90 2682.20h4.30v4.30h-4.30zM1113.20 2686.50h8.60v12.90h-8.60zM1104.60 2699.40h8.60v4.30h-8.60zM1100.30 2703.70h4.30v4.30h-4.30zM1091.70 2708.00h8.60v4.30h-8.60zM1100.30 2669.30h4.30v47.30h-4.30zM1104.60 2673.60h8.60v4.30h-8.60zM1113.20 2677.90h8.60v4.30h-8.60zM1121.80 2682.20h4.30v4.30h-4.30zM1126.10 2686.50h8.60v12.90h-8.60zM1117.50 2699.40h8.60v4.30h-8.60zM1113.20 2703.70h4.30v4.30h-4.30zM1104.60 2708.00h8.60v4.30h-8.60zM1113.20 2669.30h4.30v47.30h-4.30zM1117.50 2673.60h8.60v4.30h-8.60zM1126.10 2677.90h8.60v4.30h-8.60zM1134.70 2682.20h4.30v4.30h-4.30zM1139.00 2686.50h8.60v12.90h-8.60zM1130.40 2699.40h8.60v4.30h-8.60zM1126.10 2703.70h4.30v4.30h-4.30zM1117.50 2708.00h8.60v4.30h-8.60zM1126.10 2669.30h4.30v47.30h-4.30zM1130.40 2673.60h8.60v4.30h-8.60zM1139.00 2677.90h8.60v4.30h-8.60zM1147.60 2682.20h4.30v4.30h-4.30zM1151.90 2686.50h8.60v12.90h-8.60zM1143.30 2699.40h8.60v4.30h-8.60zM1139.00 2703.70h4.30v4.30h-4.30zM1130.40 2708.00h8.60v4.30h-8.60zM1139.00 2669.30h4.30v47.30h-4.30zM1143.30 2673.60h8.60v4.30h-8.60zM1151.90 2677.90h8.60v4.30h-8.60zM1160.50 2682.20h4.30v4.30h-4.30zM1164.80 2686.50h8.60v12.90h-8.60zM1156.20 2699.40h8.60v4.30h-8.60zM1151.90 2703.70h4.30v4.30h-4.30zM1143.30 2708.00h8.60v4.30h-8.60zM1151.90 2669.30h4.30v47.30h-4.30zM1156.20 2673.60h8.60v4.30h-8.60zM1164.80 2677.90h8.60v4.30h-8.60zM1173.40 2682.20h4.30v4.30h-4.30zM1177.70 2686.50h8.60v12.90h-8.60zM1169.10 2699.40h8.60v4.30h-8.60zM1164.80 2703.70h4.30v4.30h-4.30zM1156.20 2708.00h8.60v4.30h-8.60zM1164.80 2669.30h4.30v47.30h-4.30zM1169.10 2673.60h8.60v4.30h-8.60zM1177.70 2677.90h8.60v4.30h-8.60zM1186.30 2682.20h4.30v4.30h-4.30zM1190.60 2686.50h8.60v12.90h-8.60zM1182.00 2699.40h8.60v4.30h-8.60zM1177.70 2703.70h4.30v4.30h-4.30zM1169.10 2708.00h8.60v4.30h-8.60zM1177.70 2669.30h4.30v47.30h-4.30zM1182.00 2673.60h8.60v4.30h-8.60zM1190.60 2677.90h8.60v4.30h-8.60zM1199.20 2682.20h4.30v4.30h-4.30zM1203.50 2686.50h8.60v12.90h-8.60zM1194.90 2699.40h8.60v4.30h-8.60zM1190.60 2703.70h4.30v4.30h-4.30zM1182.00 2708.00h8.60v4.30h-8.60zM1190.60 2669.30h4.30v47.30h-4.30zM1194.90 2673.60h8.60v4.30h-8.60zM1203.50 2677.90h8.60v4.30h-8.60zM1212.10 2682.20h4.30v4.30h-4.30zM1216.40 2686.50h8.60v12.90h-8.60zM1207.80 2699.40h8.60v4.30h-8.60zM1203.50 2703.70h4.30v4.30h-4.30zM1194.90 2708.00h8.60v4.30h-8.60zM1203.50 2669.30h4.30v47.30h-4.30zM1207.80 2673.60h8.60v4.30h-8.60zM1216.40 2677.90h8.60v4.30h-8.60zM1225.00 2682.20h4.30v4.30h-4.30zM1229.30 2686.50h8.60v12.90h-8.60zM1220.70 2699.40h8.60v4.30h-8.60zM1216.40 2703.70h4.30v4.30h-4.30zM1207.80 2708.00h8.60v4.30h-8.60zM1216.40 2669.30h4.30v47.30h-4.30zM1220.70 2673.60h8.60v4.30h-8.60zM1229.30 2677.90h8.60v4.30h-8.60zM1237.90 2682.20h4.30v4.30h-4.30zM1242.20 2686.50h8.60v12.90h-8.60zM1233.60 2699.40h8.60v4.30h-8.60zM1229.30 2703.70h4.30v4.30h-4.30zM1220.70 2708.00h8.60v4.30h-8.60zM1225.00 2669.30h4.30v47.30h-4.30zM1229.30 2673.60h8.60v4.30h-8.60zM1237.90 2677.90h8.60v4.30h-8.60zM1246.50 2682.20h4.30v4.30h-4.30zM1250.80 2686.50h8.60v12.90h-8.60zM1242.20 2699.40h8.60v4.30h-8.60zM1237.90 2703.70h4.30v4.30h-4.30zM1229.30 2708.00h8.60v4.30h-8.60zM1237.90 2669.30h4.30v47.30h-4.30zM1242.20 2673.60h8.60v4.30h-8.60zM1250.80 2677.90h8.60v4.30h-8.60zM1259.40 2682.20h4.30v4.30h-4.30zM1263.70 2686.50h8.60v12.90h-8.60zM1255.10 2699.40h8.60v4.30h-8.60zM1250.80 2703.70h4.30v4.30h-4.30zM1242.20 2708.00h8.60v4.30h-8.60zM1250.80 2669.30h4.30v47.30h-4.30zM1255.10 2673.60h8.60v4.30h-8.60zM1263.70 2677.90h8.60v4.30h-8.60zM1272.30 2682.20h4.30v4.30h-4.30zM1276.60 2686.50h8.60v12.90h-8.60zM1268.00 2699.40h8.60v4.30h-8.60zM1263.70 2703.70h4.30v4.30h-4.30zM1255.10 2708.00h8.60v4.30h-8.60zM1263.70 2669.30h4.30v47.30h-4.30zM1268.00 2673.60h8.60v4.30h-8.60zM1276.60 2677.90h8.60v4.30h-8.60zM1285.20 2682.20h4.30v4.30h-4.30zM1289.50 2686.50h8.60v12.90h-8.60zM1280.90 2699.40h8.60v4.30h-8.60zM1276.60 2703.70h4.30v4.30h-4.30zM1268.00 2708.00h8.60v4.30h-8.60zM1276.60 2669.30h4.30v47.30h-4.30zM1280.90 2673.60h8.60v4.30h-8.60zM1289.50 2677.90h8.60v4.30h-8.60zM1298.10 2682.20h4.30v4.30h-4.30zM1302.40 2686.50h8.60v12.90h-8.60zM1293.80 2699.40h8.60v4.30h-8.60zM1289.50 2703.70h4.30v4.30h-4.30zM1280.90 2708.00h8.60v4.30h-8.60zM1289.50 2669.30h4.30v47.30h-4.30zM1293.80 2673.60h8.60v4.30h-8.60zM1302.40 2677.90h8.60v4.30h-8.60zM1311.00 2682.20h4.30v4.30h-4.30zM1315.30 2686.50h8.60v12.90h-8.60zM1306.70 2699.40h8.60v4.30h-8.60zM1302.40 2703.70h4.30v4.30h-4.30zM1293.80 2708.00h8.60v4.30h-8.60zM1302.40 2669.30h4.30v47.30h-4.30zM1306.70 2673.60h8.60v4.30h-8.60zM1315.30 2677.90h8.60v4.30h-8.60zM1323.90 2682.20h4.30v4.30h-4.30zM1328.20 2686.50h8.60v12.90h-8.60zM1319.60 2699.40h8.60v4.30h-8.60zM1315.30 2703.70h4.30v4.30h-4.30zM1306.70 2708.00h8.60v4.30h-8.60zM1315.30 2669.30h4.30v47.30h-4.30zM1319.60 2673.60h8.60v4.30h-8.60zM1328.20 2677.90h8.60v4.30h-8.60zM1336.80 2682.20h4.30v4.30h-4.30zM1341.10 2686.50h8.60v12.90h-8.60zM1332.50 2699.40h8.60v4.30h-8.60zM1328.20 2703.70h4.30v4.30h-4.30zM1319.60 2708.00h8.60v4.30h-8.60zM1328.20 2669.30h4.30v47.30h-4.30zM1332.50 2673.60h8.60v4.30h-8.60zM1341.10 2677.90h8.60v4.30h-8.60zM1349.70 2682.20h4.30v4.30h-4.30zM1354.00 2686.50h8.60v12.90h-8.60zM1345.40 2699.40h8.60v4.30h-8.60zM1341.10 2703.70h4.30v4.30h-4.30zM1332.50 2708.00h8.60v4.30h-8.60zM1341.10 2669.30h4.30v47.30h-4.30zM1345.40 2673.60h8.60v4.30h-8.60zM1354.00 2677.90h8.60v4.30h-8.60zM1362.60 2682.20h4.30v4.30h-4.30zM1366.90 2686.50h8.60v12.90h-8.60zM1358.30 2699.40h8.60v4.30h-8.60zM1354.00 2703.70h4.30v4.30h-4.30zM1345.40 2708.00h8.60v4.30h-8.60zM1354.00 2669.30h4.30v47.30h-4.30zM1358.30 2673.60h8.60v4.30h-8.60zM1366.90 2677.90h8.60v4.30h-8.60zM1375.50 2682.20h4.30v4.30h-4.30zM1379.80 2686.50h8.60v12.90h-8.60zM1371.20 2699.40h8.60v4.30h-8.60zM1366.90 2703.70h4.30v4.30h-4.30zM1358.30 2708.00h8.60v4.30h-8.60zM1366.90 2669.30h4.30v47.30h-4.30zM1371.20 2673.60h8.60v4.30h-8.60zM1379.80 2677.90h8.60v4.30h-8.60zM1388.40 2682.20h4.30v4.30h-4.30zM1392.70 2686.50h8.60v12.90h-8.60zM1384.10 2699.40h8.60v4.30h-8.60zM1379.80 2703.70h4.30v4.30h-4.30zM1371.20 2708.00h8.60v4.30h-8.60zM1375.50 2669.30h4.30v47.30h-4.30zM1379.80 2673.60h8.60v4.30h-8.60zM1388.40 2677.90h8.60v4.30h-8.60zM1397.00 2682.20h4.30v4.30h-4.30zM1401.30 2686.50h8.60v12.90h-8.60zM1392.70 2699.40h8.60v4.30h-8.60zM1388.40 2703.70h4.30v4.30h-4.30zM1379.80 2708.00h8.60v4.30h-8.60zM1388.40 2669.30h4.30v47.30h-4.30zM1392.70 2673.60h8.60v4.30h-8.60zM1401.30 2677.90h8.60v4.30h-8.60zM1409.90 2682.20h4.30v4.30h-4.30zM1414.20 2686.50h8.60v12.90h-8.60zM1405.60 2699.40h8.60v4.30h-8.60zM1401.30 2703.70h4.30v4.30h-4.30zM1392.70 2708.00h8.60v4.30h-8.60zM1401.30 2669.30h4.30v47.30h-4.30zM1405.60 2673.60h8.60v4.30h-8.60zM1414.20 2677.90h8.60v4.30h-8.60zM1422.80 2682.20h4.30v4.30h-4.30zM1427.10 2686.50h8.60v12.90h-8.60zM1418.50 2699.40h8.60v4.30h-8.60zM1414.20 2703.70h4.30v4.30h-4.30zM1405.60 2708.00h8.60v4.30h-8.60zM1414.20 2669.30h4.30v47.30h-4.30zM1418.50 2673.60h8.60v4.30h-8.60zM1427.10 2677.90h8.60v4.30h-8.60zM1435.70 2682.20h4.30v4.30h-4.30zM1440.00 2686.50h8.60v12.90h-8.60zM1431.40 2699.40h8.60v4.30h-8.60zM1427.10 2703.70h4.30v4.30h-4.30zM1418.50 2708.00h8.60v4.30h-8.60zM1427.10 2669.30h4.30v47.30h-4.30zM1431.40 2673.60h8.60v4.30h-8.60zM1440.00 2677.90h8.60v4.30h-8.60zM1448.60 2682.20h4.30v4.30h-4.30zM1452.90 2686.50h8.60v12.90h-8.60zM1444.30 2699.40h8.60v4.30h-8.60zM1440.00 2703.70h4.30v4.30h-4.30zM1431.40 2708.00h8.60v4.30h-8.60zM1440.00 2669.30h4.30v47.30h-4.30zM1444.30 2673.60h8.60v4.30h-8.60zM1452.90 2677.90h8.60v4.30h-8.60zM1461.50 2682.20h4.30v4.30h-4.30zM1465.80 2686.50h8.60v12.90h-8.60zM1457.20 2699.40h8.60v4.30h-8.60zM1452.90 2703.70h4.30v4.30h-4.30zM1444.30 2708.00h8.60v4.30h-8.60zM1452.90 2669.30h4.30v47.30h-4.30zM1457.20 2673.60h8.60v4.30h-8.60zM1465.80 2677.90h8.60v4.30h-8.60zM1474.40 2682.20h4.30v4.30h-4.30zM1478.70 2686.50h8.60v12.90h-8.60zM1470.10 2699.40h8.60v4.30h-8.60zM1465.80 2703.70h4.30v4.30h-4.30zM1457.20 2708.00h8.60v4.30h-8.60zM1465.80 2669.30h4.30v47.30h-4.30zM1470.10 2673.60h8.60v4.30h-8.60zM1478.70 2677.90h8.60v4.30h-8.60zM1487.30 2682.20h4.30v4.30h-4.30zM1491.60 2686.50h8.60v12.90h-8.60zM1483.00 2699.40h8.60v4.30h-8.60zM1478.70 2703.70h4.30v4.30h-4.30zM1470.10 2708.00h8.60v4.30h-8.60zM1478.70 2669.30h4.30v47.30h-4.30zM1483.00 2673.60h8.60v4.30h-8.60zM1491.60 2677.90h8.60v4.30h-8.60zM1500.20 2682.20h4.30v4.30h-4.30zM1504.50 2686.50h8.60v12.90h-8.60zM1495.90 2699.40h8.60v4.30h-8.60zM1491.60 2703.70h4.30v4.30h-4.30zM1483.00 2708.00h8.60v4.30h-8.60zM1491.60 2669.30h4.30v47.30h-4.30zM1495.90 2673.60h8.60v4.30h-8.60zM1504.50 2677.90h8.60v4.30h-8.60zM1513.10 2682.20h4.30v4.30h-4.30zM1517.40 2686.50h8.60v12.90h-8.60zM1508.80 2699.40h8.60v4.30h-8.60zM1504.50 2703.70h4.30v4.30h-4.30zM1495.90 2708.00h8.60v4.30h-8.60zM1504.50 2669.30h4.30v47.30h-4.30zM1508.80 2673.60h8.60v4.30h-8.60zM1517.40 2677.90h8.60v4.30h-8.60zM1526.00 2682.20h4.30v4.30h-4.30zM1530.30 2686.50h8.60v12.90h-8.60zM1521.70 2699.40h8.60v4.30h-8.60zM1517.40 2703.70h4.30v4.30h-4.30zM1508.80 2708.00h8.60v4.30h-8.60zM1517.40 2669.30h4.30v47.30h-4.30zM1521.70 2673.60h8.60v4.30h-8.60zM1530.30 2677.90h8.60v4.30h-8.60zM1538.90 2682.20h4.30v4.30h-4.30zM1543.20 2686.50h8.60v12.90h-8.60zM1534.60 2699.40h8.60v4.30h-8.60zM1530.30 2703.70h4.30v4.30h-4.30zM1521.70 2708.00h8.60v4.30h-8.60zM1526.00 2669.30h4.30v47.30h-4.30zM1530.30 2673.60h8.60v4.30h-8.60zM1538.90 2677.90h8.60v4.30h-8.60zM1547.50 2682.20h4.30v4.30h-4.30zM1551.80 2686.50h8.60v12.90h-8.60zM1543.20 2699.40h8.60v4.30h-8.60zM1538.90 2703.70h4.30v4.30h-4.30zM1530.30 2708.00h8.60v4.30h-8.60zM1538.90 2669.30h4.30v47.30h-4.30zM1543.20 2673.60h8.60v4.30h-8.60zM1551.80 2677.90h8.60v4.30h-8.60zM1560.40 2682.20h4.30v4.30h-4.30zM1564.70 2686.50h8.60v12.90h-8.60zM1556.10 2699.40h8.60v4.30h-8.60zM1551.80 2703.70h4.30v4.30h-4.30zM1543.20 2708.00h8.60v4.30h-8.60zM1551.80 2669.30h4.30v47.30h-4.30zM1556.10 2673.60h8.60v4.30h-8.60zM1564.70 2677.90h8.60v4.30h-8.60zM1573.30 2682.20h4.30v4.30h-4.30zM1577.60 2686.50h8.60v12.90h-8.60zM1569.00 2699.40h8.60v4.30h-8.60zM1564.70 2703.70h4.30v4.30h-4.30zM1556.10 2708.00h8.60v4.30h-8.60zM1564.70 2669.30h4.30v47.30h-4.30zM1569.00 2673.60h8.60v4.30h-8.60zM1577.60 2677.90h8.60v4.30h-8.60zM1586.20 2682.20h4.30v4.30h-4.30zM1590.50 2686.50h8.60v12.90h-8.60zM1581.90 2699.40h8.60v4.30h-8.60zM1577.60 2703.70h4.30v4.30h-4.30zM1569.00 2708.00h8.60v4.30h-8.60zM1577.60 2669.30h4.30v47.30h-4.30zM1581.90 2673.60h8.60v4.30h-8.60zM1590.50 2677.90h8.60v4.30h-8.60zM1599.10 2682.20h4.30v4.30h-4.30zM1603.40 2686.50h8.60v12.90h-8.60zM1594.80 2699.40h8.60v4.30h-8.60zM1590.50 2703.70h4.30v4.30h-4.30zM1581.90 2708.00h8.60v4.30h-8.60zM1590.50 2669.30h4.30v47.30h-4.30zM1594.80 2673.60h8.60v4.30h-8.60zM1603.40 2677.90h8.60v4.30h-8.60zM1612.00 2682.20h4.30v4.30h-4.30zM1616.30 2686.50h8.60v12.90h-8.60zM1607.70 2699.40h8.60v4.30h-8.60zM1603.40 2703.70h4.30v4.30h-4.30zM1594.80 2708.00h8.60v4.30h-8.60zM1603.40 2669.30h4.30v47.30h-4.30zM1607.70 2673.60h8.60v4.30h-8.60zM1616.30 2677.90h8.60v4.30h-8.60zM1624.90 2682.20h4.30v4.30h-4.30zM1629.20 2686.50h8.60v12.90h-8.60zM1620.60 2699.40h8.60v4.30h-8.60zM1616.30 2703.70h4.30v4.30h-4.30zM1607.70 2708.00h8.60v4.30h-8.60zM1616.30 2669.30h4.30v47.30h-4.30zM1620.60 2673.60h8.60v4.30h-8.60zM1629.20 2677.90h8.60v4.30h-8.60zM1637.80 2682.20h4.30v4.30h-4.30zM1642.10 2686.50h8.60v12.90h-8.60zM1633.50 2699.40h8.60v4.30h-8.60zM1629.20 2703.70h4.30v4.30h-4.30zM1620.60 2708.00h8.60v4.30h-8.60zM1629.20 2669.30h4.30v47.30h-4.30zM1633.50 2673.60h8.60v4.30h-8.60zM1642.10 2677.90h8.60v4.30h-8.60zM1650.70 2682.20h4.30v4.30h-4.30zM1655.00 2686.50h8.60v12.90h-8.60zM1646.40 2699.40h8.60v4.30h-8.60zM1642.10 2703.70h4.30v4.30h-4.30zM1633.50 2708.00h8.60v4.30h-8.60zM1642.10 2669.30h4.30v47.30h-4.30zM1646.40 2673.60h8.60v4.30h-8.60zM1655.00 2677.90h8.60v4.30h-8.60zM1663.60 2682.20h4.30v4.30h-4.30zM1667.90 2686.50h8.60v12.90h-8.60zM1659.30 2699.40h8.60v4.30h-8.60zM1655.00 2703.70h4.30v4.30h-4.30zM1646.40 2708.00h8.60v4.30h-8.60zM1655.00 2669.30h4.30v47.30h-4.30zM1659.30 2673.60h8.60v4.30h-8.60zM1667.90 2677.90h8.60v4.30h-8.60zM1676.50 2682.20h4.30v4.30h-4.30zM1680.80 2686.50h8.60v12.90h-8.60zM1672.20 2699.40h8.60v4.30h-8.60zM1667.90 2703.70h4.30v4.30h-4.30zM1659.30 2708.00h8.60v4.30h-8.60zM1667.90 2669.30h4.30v47.30h-4.30zM1672.20 2673.60h8.60v4.30h-8.60zM1680.80 2677.90h8.60v4.30h-8.60zM1689.40 2682.20h4.30v4.30h-4.30zM1693.70 2686.50h8.60v12.90h-8.60zM1685.10 2699.40h8.60v4.30h-8.60zM1680.80 2703.70h4.30v4.30h-4.30zM1672.20 2708.00h8.60v4.30h-8.60zM1676.50 2669.30h4.30v47.30h-4.30zM1680.80 2673.60h8.60v4.30h-8.60zM1689.40 2677.90h8.60v4.30h-8.60zM1698.00 2682.20h4.30v4.30h-4.30zM1702.30 2686.50h8.60v12.90h-8.60zM1693.70 2699.40h8.60v4.30h-8.60zM1689.40 2703.70h4.30v4.30h-4.30zM1680.80 2708.00h8.60v4.30h-8.60zM1689.40 2669.30h4.30v47.30h-4.30zM1693.70 2673.60h8.60v4.30h-8.60zM1702.30 2677.90h8.60v4.30h-8.60zM1710.90 2682.20h4.30v4.30h-4.30zM1715.20 2686.50h8.60v12.90h-8.60zM1706.60 2699.40h8.60v4.30h-8.60zM1702.30 2703.70h4.30v4.30h-4.30zM1693.70 2708.00h8.60v4.30h-8.60zM1702.30 2669.30h4.30v47.30h-4.30zM1706.60 2673.60h8.60v4.30h-8.60zM1715.20 2677.90h8.60v4.30h-8.60zM1723.80 2682.20h4.30v4.30h-4.30zM1728.10 2686.50h8.60v12.90h-8.60zM1719.50 2699.40h8.60v4.30h-8.60zM1715.20 2703.70h4.30v4.30h-4.30zM1706.60 2708.00h8.60v4.30h-8.60zM1715.20 2669.30h4.30v47.30h-4.30zM1719.50 2673.60h8.60v4.30h-8.60zM1728.10 2677.90h8.60v4.30h-8.60zM1736.70 2682.20h4.30v4.30h-4.30zM1741.00 2686.50h8.60v12.90h-8.60zM1732.40 2699.40h8.60v4.30h-8.60zM1728.10 2703.70h4.30v4.30h-4.30zM1719.50 2708.00h8.60v4.30h-8.60zM1728.10 2669.30h4.30v47.30h-4.30zM1732.40 2673.60h8.60v4.30h-8.60zM1741.00 2677.90h8.60v4.30h-8.60zM1749.60 2682.20h4.30v4.30h-4.30zM1753.90 2686.50h8.60v12.90h-8.60zM1745.30 2699.40h8.60v4.30h-8.60zM1741.00 2703.70h4.30v4.30h-4.30zM1732.40 2708.00h8.60v4.30h-8.60zM1741.00 2669.30h4.30v47.30h-4.30zM1745.30 2673.60h8.60v4.30h-8.60zM1753.90 2677.90h8.60v4.30h-8.60zM1762.50 2682.20h4.30v4.30h-4.30zM1766.80 2686.50h8.60v12.90h-8.60zM1758.20 2699.40h8.60v4.30h-8.60zM1753.90 2703.70h4.30v4.30h-4.30zM1745.30 2708.00h8.60v4.30h-8.60zM1753.90 2669.30h4.30v47.30h-4.30zM1758.20 2673.60h8.60v4.30h-8.60zM1766.80 2677.90h8.60v4.30h-8.60zM1775.40 2682.20h4.30v4.30h-4.30zM1779.70 2686.50h8.60v12.90h-8.60zM1771.10 2699.40h8.60v4.30h-8.60zM1766.80 2703.70h4.30v4.30h-4.30zM1758.20 2708.00h8.60v4.30h-8.60zM1766.80 2669.30h4.30v47.30h-4.30zM1771.10 2673.60h8.60v4.30h-8.60zM1779.70 2677.90h8.60v4.30h-8.60zM1788.30 2682.20h4.30v4.30h-4.30zM1792.60 2686.50h8.60v12.90h-8.60zM1784.00 2699.40h8.60v4.30h-8.60zM1779.70 2703.70h4.30v4.30h-4.30zM1771.10 2708.00h8.60v4.30h-8.60zM1779.70 2669.30h4.30v47.30h-4.30zM1784.00 2673.60h8.60v4.30h-8.60zM1792.60 2677.90h8.60v4.30h-8.60zM1801.20 2682.20h4.30v4.30h-4.30zM1805.50 2686.50h8.60v12.90h-8.60zM1796.90 2699.40h8.60v4.30h-8.60zM1792.60 2703.70h4.30v4.30h-4.30zM1784.00 2708.00h8.60v4.30h-8.60zM1792.60 2669.30h4.30v47.30h-4.30zM1796.90 2673.60h8.60v4.30h-8.60zM1805.50 2677.90h8.60v4.30h-8.60zM1814.10 2682.20h4.30v4.30h-4.30zM1818.40 2686.50h8.60v12.90h-8.60zM1809.80 2699.40h8.60v4.30h-8.60zM1805.50 2703.70h4.30v4.30h-4.30zM1796.90 2708.00h8.60v4.30h-8.60zM1805.50 2669.30h4.30v47.30h-4.30zM1809.80 2673.60h8.60v4.30h-8.60zM1818.40 2677.90h8.60v4.30h-8.60zM1827.00 2682.20h4.30v4.30h-4.30zM1831.30 2686.50h8.60v12.90h-8.60zM1822.70 2699.40h8.60v4.30h-8.60zM1818.40 2703.70h4.30v4.30h-4.30zM1809.80 2708.00h8.60v4.30h-8.60zM1818.40 2669.30h4.30v47.30h-4.30zM1822.70 2673.60h8.60v4.30h-8.60zM1831.30 2677.90h8.60v4.30h-8.60zM1839.90 2682.20h4.30v4.30h-4.30zM1844.20 2686.50h8.60v12.90h-8.60zM1835.60 2699.40h8.60v4.30h-8.60zM1831.30 2703.70h4.30v4.30h-4.30zM1822.70 2708.00h8.60v4.30h-8.60zM1827.00 2669.30h4.30v47.30h-4.30zM1831.30 2673.60h8.60v4.30h-8.60zM1839.90 2677.90h8.60v4.30h-8.60zM1848.50 2682.20h4.30v4.30h-4.30zM1852.80 2686.50h8.60v12.90h-8.60zM1844.20 2699.40h8.60v4.30h-8.60zM1839.90 2703.70h4.30v4.30h-4.30zM1831.30 2708.00h8.60v4.30h-8.60zM1839.90 2669.30h4.30v47.30h-4.30zM1844.20 2673.60h8.60v4.30h-8.60zM1852.80 2677.90h8.60v4.30h-8.60zM1861.40 2682.20h4.30v4.30h-4.30zM1865.70 2686.50h8.60v12.90h-8.60zM1857.10 2699.40h8.60v4.30h-8.60zM1852.80 2703.70h4.30v4.30h-4.30zM1844.20 2708.00h8.60v4.30h-8.60zM1852.80 2669.30h4.30v47.30h-4.30zM1857.10 2673.60h8.60v4.30h-8.60zM1865.70 2677.90h8.60v4.30h-8.60zM1874.30 2682.20h4.30v4.30h-4.30zM1878.60 2686.50h8.60v12.90h-8.60zM1870.00 2699.40h8.60v4.30h-8.60zM1865.70 2703.70h4.30v4.30h-4.30zM1857.10 2708.00h8.60v4.30h-8.60zM1865.70 2669.30h4.30v47.30h-4.30zM1870.00 2673.60h8.60v4.30h-8.60zM1878.60 2677.90h8.60v4.30h-8.60zM1887.20 2682.20h4.30v4.30h-4.30zM1891.50 2686.50h8.60v12.90h-8.60zM1882.90 2699.40h8.60v4.30h-8.60zM1878.60 2703.70h4.30v4.30h-4.30zM1870.00 2708.00h8.60v4.30h-8.60zM1878.60 2669.30h4.30v47.30h-4.30zM1882.90 2673.60h8.60v4.30h-8.60zM1891.50 2677.90h8.60v4.30h-8.60zM1900.10 2682.20h4.30v4.30h-4.30zM1904.40 2686.50h8.60v12.90h-8.60zM1895.80 2699.40h8.60v4.30h-8.60zM1891.50 2703.70h4.30v4.30h-4.30zM1882.90 2708.00h8.60v4.30h-8.60zM1891.50 2669.30h4.30v47.30h-4.30zM1895.80 2673.60h8.60v4.30h-8.60zM1904.40 2677.90h8.60v4.30h-8.60zM1913.00 2682.20h4.30v4.30h-4.30zM1917.30 2686.50h8.60v12.90h-8.60zM1908.70 2699.40h8.60v4.30h-8.60zM1904.40 2703.70h4.30v4.30h-4.30zM1895.80 2708.00h8.60v4.30h-8.60zM1904.40 2669.30h4.30v47.30h-4.30zM1908.70 2673.60h8.60v4.30h-8.60zM1917.30 2677.90h8.60v4.30h-8.60zM1925.90 2682.20h4.30v4.30h-4.30zM1930.20 2686.50h8.60v12.90h-8.60zM1921.60 2699.40h8.60v4.30h-8.60zM1917.30 2703.70h4.30v4.30h-4.30zM1908.70 2708.00h8.60v4.30h-8.60zM1917.30 2669.30h4.30v47.30h-4.30zM1921.60 2673.60h8.60v4.30h-8.60zM1930.20 2677.90h8.60v4.30h-8.60zM1938.80 2682.20h4.30v4.30h-4.30zM1943.10 2686.50h8.60v12.90h-8.60zM1934.50 2699.40h8.60v4.30h-8.60zM1930.20 2703.70h4.30v4.30h-4.30zM1921.60 2708.00h8.60v4.30h-8.60zM1930.20 2669.30h4.30v47.30h-4.30zM1934.50 2673.60h8.60v4.30h-8.60zM1943.10 2677.90h8.60v4.30h-8.60zM1951.70 2682.20h4.30v4.30h-4.30zM1956.00 2686.50h8.60v12.90h-8.60zM1947.40 2699.40h8.60v4.30h-8.60zM1943.10 2703.70h4.30v4.30h-4.30zM1934.50 2708.00h8.60v4.30h-8.60zM1943.10 2669.30h4.30v47.30h-4.30zM1947.40 2673.60h8.60v4.30h-8.60zM1956.00 2677.90h8.60v4.30h-8.60zM1964.60 2682.20h4.30v4.30h-4.30zM1968.90 2686.50h8.60v12.90h-8.60zM1960.30 2699.40h8.60v4.30h-8.60zM1956.00 2703.70h4.30v4.30h-4.30zM1947.40 2708.00h8.60v4.30h-8.60zM1956.00 2669.30h4.30v47.30h-4.30zM1960.30 2673.60h8.60v4.30h-8.60zM1968.90 2677.90h8.60v4.30h-8.60zM1977.50 2682.20h4.30v4.30h-4.30zM1981.80 2686.50h8.60v12.90h-8.60zM1973.20 2699.40h8.60v4.30h-8.60zM1968.90 2703.70h4.30v4.30h-4.30zM1960.30 2708.00h8.60v4.30h-8.60zM1968.90 2669.30h4.30v47.30h-4.30zM1973.20 2673.60h8.60v4.30h-8.60zM1981.80 2677.90h8.60v4.30h-8.60zM1990.40 2682.20h4.30v4.30h-4.30zM1994.70 2686.50h8.60v12.90h-8.60zM1986.10 2699.40h8.60v4.30h-8.60zM1981.80 2703.70h4.30v4.30h-4.30zM1973.20 2708.00h8.60v4.30h-8.60zM1981.80 2669.30h4.30v47.30h-4.30zM1986.10 2673.60h8.60v4.30h-8.60zM1994.70 2677.90h8.60v4.30h-8.60zM2003.30 2682.20h4.30v4.30h-4.30zM2007.60 2686.50h8.60v12.90h-8.60zM1999.00 2699.40h8.60v4.30h-8.60zM1994.70 2703.70h4.30v4.30h-4.30zM1986.10 2708.00h8.60v4.30h-8.60zM1990.40 2669.30h4.30v47.30h-4.30zM1994.70 2673.60h8.60v4.30h-8.60zM2003.30 2677.90h8.60v4.30h-8.60zM2011.90 2682.20h4.30v4.30h-4.30zM2016.20 2686.50h8.60v12.90h-8.60zM2007.60 2699.40h8.60v4.30h-8.60zM2003.30 2703.70h4.30v4.30h-4.30zM1994.70 2708.00h8.60v4.30h-8.60zM2003.30 2669.30h4.30v47.30h-4.30zM2007.60 2673.60h8.60v4.30h-8.60zM2016.20 2677.90h8.60v4.30h-8.60zM2024.80 2682.20h4.30v4.30h-4.30zM2029.10 2686.50h8.60v12.90h-8.60zM2020.50 2699.40h8.60v4.30h-8.60zM2016.20 2703.70h4.30v4.30h-4.30zM2007.60 2708.00h8.60v4.30h-8.60zM2016.20 2669.30h4.30v47.30h-4.30zM2020.50 2673.60h8.60v4.30h-8.60zM2029.10 2677.90h8.60v4.30h-8.60zM2037.70 2682.20h4.30v4.30h-4.30zM2042.00 2686.50h8.60v12.90h-8.60zM2033.40 2699.40h8.60v4.30h-8.60zM2029.10 2703.70h4.30v4.30h-4.30zM2020.50 2708.00h8.60v4.30h-8.60zM2029.10 2669.30h4.30v47.30h-4.30zM2033.40 2673.60h8.60v4.30h-8.60zM2042.00 2677.90h8.60v4.30h-8.60zM2050.60 2682.20h4.30v4.30h-4.30zM2054.90 2686.50h8.60v12.90h-8.60zM2046.30 2699.40h8.60v4.30h-8.60zM2042.00 2703.70h4.30v4.30h-4.30zM2033.40 2708.00h8.60v4.30h-8.60zM2042.00 2669.30h4.30v47.30h-4.30zM2046.30 2673.60h8.60v4.30h-8.60zM2054.90 2677.90h8.60v4.30h-8.60zM2063.50 2682.20h4.30v4.30h-4.30zM2067.80 2686.50h8.60v12.90h-8.60zM2059.20 2699.40h8.60v4.30h-8.60zM2054.90 2703.70h4.30v4.30h-4.30zM2046.30 2708.00h8.60v4.30h-8.60zM2054.90 2669.30h4.30v47.30h-4.30zM2059.20 2673.60h8.60v4.30h-8.60zM2067.80 2677.90h8.60v4.30h-8.60zM2076.40 2682.20h4.30v4.30h-4.30zM2080.70 2686.50h8.60v12.90h-8.60zM2072.10 2699.40h8.60v4.30h-8.60zM2067.80 2703.70h4.30v4.30h-4.30zM2059.20 2708.00h8.60v4.30h-8.60zM2067.80 2669.30h4.30v47.30h-4.30zM2072.10 2673.60h8.60v4.30h-8.60zM2080.70 2677.90h8.60v4.30h-8.60zM2089.30 2682.20h4.30v4.30h-4.30zM2093.60 2686.50h8.60v12.90h-8.60zM2085.00 2699.40h8.60v4.30h-8.60zM2080.70 2703.70h4.30v4.30h-4.30zM2072.10 2708.00h8.60v4.30h-8.60zM2080.70 2669.30h4.30v47.30h-4.30zM2085.00 2673.60h8.60v4.30h-8.60zM2093.60 2677.90h8.60v4.30h-8.60zM2102.20 2682.20h4.30v4.30h-4.30zM2106.50 2686.50h8.60v12.90h-8.60zM2097.90 2699.40h8.60v4.30h-8.60zM2093.60 2703.70h4.30v4.30h-4.30zM2085.00 2708.00h8.60v4.30h-8.60zM2093.60 2669.30h4.30v47.30h-4.30zM2097.90 2673.60h8.60v4.30h-8.60zM2106.50 2677.90h8.60v4.30h-8.60zM2115.10 2682.20h4.30v4.30h-4.30zM2119.40 2686.50h8.60v12.90h-8.60zM2110.80 2699.40h8.60v4.30h-8.60zM2106.50 2703.70h4.30v4.30h-4.30zM2097.90 2708.00h8.60v4.30h-8.60zM2106.50 2669.30h4.30v47.30h-4.30zM2110.80 2673.60h8.60v4.30h-8.60zM2119.40 2677.90h8.60v4.30h-8.60zM2128.00 2682.20h4.30v4.30h-4.30zM2132.30 2686.50h8.60v12.90h-8.60zM2123.70 2699.40h8.60v4.30h-8.60zM2119.40 2703.70h4.30v4.30h-4.30zM2110.80 2708.00h8.60v4.30h-8.60zM2119.40 2669.30h4.30v47.30h-4.30zM2123.70 2673.60h8.60v4.30h-8.60zM2132.30 2677.90h8.60v4.30h-8.60zM2140.90 2682.20h4.30v4.30h-4.30zM2145.20 2686.50h8.60v12.90h-8.60zM2136.60 2699.40h8.60v4.30h-8.60zM2132.30 2703.70h4.30v4.30h-4.30zM2123.70 2708.00h8.60v4.30h-8.60z" fill="#0000ff" shape-rendering="crispEdges"/>
<polyline points="263.1,2580.5 275.7,2611.1 288.2,2641.7 300.8,2670.9 313.3,2701.0 325.9,2729.8 338.4,2759.5 351.0,2788.3 363.5,2817.1 376.1,2845.0 388.6,2872.0 401.2,2899.9 413.7,2928.2 426.3,2956.1 438.8,2981.9 451.4,3006.2 463.9,3029.8 476.5,3054.5 489.0,3080.7 501.6,3107.5 514.1,3132.5 526.7,3155.2 539.2,3176.3 551.8,3197.0 564.3,3215.2 576.8,3228.8 589.4,3238.0 601.9,3244.8 614.5,3250.7 627.0,3255.0 639.6,3257.3 652.1,3256.7 664.7,3253.5 677.2,3247.6 689.8,3239.9 702.3,3229.9 714.9,3217.8 727.4,3203.5 740.0,3187.1 752.5,3168.9 765.1,3149.1 777.6,3128.6 790.2,3106.2 802.7,3084.6 815.3,3062.3 827.8,3040.2 840.4,3016.3 852.9,2992.4 865.5,2968.8 878.0,2947.8 890.5,2931.0 903.1,2918.6 915.6,2907.9 928.2,2896.3 940.7,2883.7 953.3,2871.0 965.8,2859.2 978.4,2848.0 990.9,2837.1 1003.5,2826.1 1016.0,2814.9 1028.6,2804.4 1041.1,2794.8 1053.7,2786.1 1066.2,2778.2 1078.8,2771.4 1091.3,2765.7 1103.9,2760.3 1116.4,2753.6 1129.0,2745.5 1141.5,2736.1 1154.1,2727.7 1166.6,2720.4 1179.2,2714.0 1191.7,2707.4 1204.2,2700.4 1216.8,2693.1 1229.3,2686.0 1241.9,2679.3 1254.4,2672.8 1267.0,2667.8 1279.5,2665.2 1292.1,2664.9 1304.6,2665.5 1317.2,2666.0 1329.7,2665.8 1342.3,2665.0 1354.8,2663.7 1367.4,2662.9 1379.9,2662.5 1392.5,2662.8 1405.0,2663.2 1417.6,2662.8 1430.1,2661.6 1442.7,2659.7 1455.2,2657.4 1467.8,2654.1 1480.3,2650.0 1492.9,2645.3 1505.4,2642.4 1517.9,2641.2 1530.5,2641.8 1543.0,2642.3 1555.6,2642.3 1568.1,2641.9 1580.7,2641.0 1593.2,2640.3 1605.8,2640.3 1618.3,2640.7 1630.9,2641.4 1643.4,2642.5 1656.0,2643.8 1668.5,2645.4 1681.1,2647.0 1693.6,2648.1 1706.2,2649.1 1718.7,2650.3 1731.3,2652.0 1743.8,2653.9 1756.4,2655.5 1768.9,2656.7 1781.5,2657.6 1794.0,2658.5 1806.6,2659.6 1819.1,2660.8 1831.6,2662.3 1844.2,2663.9 1856.7,2665.5 1869.3,2667.2 1881.8,2669.1 1894.4,2670.6 1906.9,2671.1 1919.5,2670.6 1932.0,2669.6 1944.6,2669.1 1957.1,2669.2 1969.7,2670.1 1982.2,2671.3 1994.8,2672.3 2007.3,2673.0 2019.9,2673.5 2032.4,2673.8 2045.0,2673.8 2057.5,2673.5 2070.1,2672.7 2082.6,2672.0 2095.2,2671.5 2107.7,2671.3 2120.3,2671.3 2132.8,2671.3" fill="none" stroke="#00ff00" stroke-width="4.3" stroke-linejoin="round" shape-rendering="crispEdges"/>
<path d="M257.50 2561.80h12.90v4.30h-12.90zM248.90 2566.10h8.60v4.30h-8.60zM270.40 2566.10h8.60v4.30h-8.60zM248.90 2570.40h4.30v4.30h-4.30zM274.70 2570.40h4.30v4.30h-4.30zM244.60 2574.70h4.30v12.90h-4.30zM279.00 2574.70h4.30v12.90h-4.30zM248.90 2587.60h4.30v4.30h-4.30zM274.70 2587.60h4.30v4.30h-4.30zM248.90 2591.90h8.60v4.30h-8.60zM270.40 2591.90h8.60v4.30h-8.60zM257.50 2596.20h12.90v4.30h-12.90zM270.40 2591.90h12.90v4.30h-12.90zM261.80 2596.20h8.60v4.30h-8.60zM283.30 2596.20h8.60v4.30h-8.60zM261.80 2600.50h4.30v4.30h-4.30zM287.60 2600.50h4.30v4.30h-4.30zM257.50 2604.80h4.30v12.90h-4.30zM291.90 2604.80h4.30v12.90h-4.30zM261.80 2617.70h4.30v4.30h-4.30zM287.60 2617.70h4.30v4.30h-4.30zM261.80 2622.00h8.60v4.30h-8.60zM283.30 2622.00h8.60v4.30h-8.60zM270.40 2626.30h12.90v4.30h-12.90zM283.30 2622.00h12.90v4.30h-12.90zM274.70 2626.30h8.60v4.30h-8.60zM296.20 2626.30h8.60v4.30h-8.60zM274.70 2630.60h4.30v4.30h-4.30zM300.50 2630.60h4.30v4.30h-4.30zM270.40 2634.90h4.30v12.90h-4.30zM304.80 2634.90h4.30v12.90h-4.30zM274.70 2647.80h4.30v4.30h-4.30zM300.50 2647.80h4.30v4.30h-4.30zM274.70 2652.10h8.60v4.30h-8.60zM296.20 2652.10h8.60v4.30h-8.60zM283.30 2656.40h12.90v4.30h-12.90zM296.20 2652.10h12.90v4.30h-12.90zM287.60 2656.40h8.60v4.30h-8.60zM309.10 2656.40h8.60v4.30h-8.60zM287.60 2660.70h4.30v4.30h-4.30zM313.40 2660.70h4.30v4.30h-4.30zM283.30 2665.00h4.30v12.90h-4.30zM317.70 2665.00h4.30v12.90h-4.30zM287.60 2677.90h4.30v4.30h-4.30zM313.40 2677.90h4.30v4.30h-4.30zM287.60 2682.20h8.60v4.30h-8.60zM309.10 2682.20h8.60v4.30h-8.60zM296.20 2686.50h12.90v4.30h-12.90zM304.80 2682.20h12.90v4.30h-12.90zM296.20 2686.50h8.60v4.30h-8.60zM317.70 2686.50h8.60v4.30h-8.60zM296.20 2690.80h4.30v4.30h-4.30zM322.00 2690.80h4.30v4.30h-4.30zM291.90 2695.10h4.30v12.90h-4.30zM326.30 2695.10h4.30v12.90h-4.30zM296.20 2708.00h4.30v4.30h-4.30zM322.00 2708.00h4.30v4.30h-4.30zM296.20 2712.30h8.60v4.30h-8.60zM317.70 2712.30h8.60v4.30h-8.60zM304.80 2716.60h12.90v4.30h-12.90zM317.70 2712.30h12.90v4.30h-12.90zM309.10 2716.60h8.60v4.30h-8.60zM330.60 2716.60h8.60v4.30h-8.60zM309.10 2720.90h4.30v4.30h-4.30zM334.90 2720.90h4.30v4.30h-4.30zM304.80 2725.20h4.30v12.90h-4.30zM339.20 2725.20h4.30v12.90h-4.30zM309.10 2738.10h4.30v4.30h-4.30zM334.90 2738.10h4.30v4.30h-4.30zM309.10 2742.40h8.60v4.30h-8.60zM330.60 2742.40h8.60v4.30h-8.60zM317.70 2746.70h12.90v4.30h-12.90zM330.60 2738.10h12.90v4.30h-12.90zM322.00 2742.40h8.60v4.30h-8.60zM343.50 2742.40h8.60v4.30h-8.60zM322.00 2746.70h4.30v4.30h-4.30zM347.80 2746.70h4.30v4.30h-4.30zM317.70 2751.00h4.30v12.90h-4.30zM352.10 2751.00h4.30v12.90h-4.30zM322.00 2763.90h4.30v4.30h-4.30zM347.80 2763.90h4.30v4.30h-4.30zM322.00 2768.20h8.60v4.30h-8.60zM343.50 2768.20h8.60v4.30h-8.60zM330.60 2772.50h12.90v4.30h-12.90zM343.50 2768.20h12.90v4.30h-12.90zM334.90 2772.50h8.60v4.30h-8.60zM356.40 2772.50h8.60v4.30h-8.60zM334.90 2776.80h4.30v4.30h-4.30zM360.70 2776.80h4.30v4.30h-4.30zM330.60 2781.10h4.30v12.90h-4.30zM365.00 2781.10h4.30v12.90h-4.30zM334.90 2794.00h4.30v4.30h-4.30zM360.70 2794.00h4.30v4.30h-4.30zM334.90 2798.30h8.60v4.30h-8.60zM356.40 2798.30h8.60v4.30h-8.60zM343.50 2802.60h12.90v4.30h-12.90zM356.40 2798.30h12.90v4.30h-12.90zM347.80 2802.60h8.60v4.30h-8.60zM369.30 2802.60h8.60v4.30h-8.60zM347.80 2806.90h4.30v4.30h-4.30zM373.60 2806.90h4.30v4.30h-4.30zM343.50 2811.20h4.30v12.90h-4.30zM377.90 2811.20h4.30v12.90h-4.30zM347.80 2824.10h4.30v4.30h-4.30zM373.60 2824.10h4.30v4.30h-4.30zM347.80 2828.40h8.60v4.30h-8.60zM369.30 2828.40h8.60v4.30h-8.60zM356.40 2832.70h12.90v4.30h-12.90zM369.30 2824.10h12.90v4.30h-12.90zM360.70 2828.40h8.60v4.30h-8.60zM382.20 2828.40h8.60v4.30h-8.60zM360.70 2832.70h4.30v4.30h-4.30zM386.50 2832.70h4.30v4.30h-4.30zM356.40 2837.00h4.30v12.90h-4.30zM390.80 2837.00h4.30v12.90h-4.30zM360.70 2849.90h4.30v4.30h-4.30zM386.50 2849.90h4.30v4.30h-4.30zM360.70 2854.20h8.60v4.30h-8.60zM382.20 2854.20h8.60v4.30h-8.60zM369.30 2858.50h12.90v4.30h-12.90zM382.20 2854.20h12.90v4.30h-12.90zM373.60 2858.50h8.60v4.30h-8.60zM395.10 2858.50h8.60v4.30h-8.60zM373.60 2862.80h4.30v4.30h-4.30zM399.40 2862.80h4.30v4.30h-4.30zM369.30 2867.10h4.30v12.90h-4.30zM403.70 2867.10h4.30v12.90h-4.30zM373.60 2880.00h4.30v4.30h-4.30zM399.40 2880.00h4.30v4.30h-4.30zM373.60 2884.30h8.60v4.30h-8.60zM395.10 2884.30h8.60v4.30h-8.60zM382.20 2888.60h12.90v4.30h-12.90zM395.10 2880.00h12.90v4.30h-12.90zM386.50 2884.30h8.60v4.30h-8.60zM408.00 2884.30h8.60v4.30h-8.60zM386.50 2888.60h4.30v4.30h-4.30zM412.30 2888.60h4.30v4.30h-4.30zM382.20 2892.90h4.30v12.90h-4.30zM416.60 2892.90h4.30v12.90h-4.30zM386.50 2905.80h4.30v4.30h-4.30zM412.30 2905.80h4.30v4.30h-4.30zM386.50 2910.10h8.60v4.30h-8.60zM408.00 2910.10h8.60v4.30h-8.60zM395.10 2914.40h12.90v4.30h-12.90zM408.00 2910.10h12.90v4.30h-12.90zM399.40 2914.40h8.60v4.30h-8.60zM420.90 2914.40h8.60v4.30h-8.60zM399.40 2918.70h4.30v4.30h-4.30zM425.20 2918.70h4.30v4.30h-4.30zM395.10 2923.00h4.30v12.90h-4.30zM429.50 2923.00h4.30v12.90h-4.30zM399.40 2935.90h4.30v4.30h-4.30zM425.20 2935.90h4.30v4.30h-4.30zM399.40 2940.20h8.60v4.30h-8.60zM420.90 2940.20h8.60v4.30h-8.60zM408.00 2944.50h12.90v4.30h-12.90zM420.90 2935.90h12.90v4.30h-12.90zM412.30 2940.20h8.60v4.30h-8.60zM433.80 2940.20h8.60v4.30h-8.60zM412.30 2944.50h4.30v4.30h-4.30zM438.10 2944.50h4.30v4.30h-4.30zM408.00 2948.80h4.30v12.90h-4.30zM442.40 2948.80h4.30v12.90h-4.30zM412.30 2961.70h4.30v4.30h-4.30zM438.10 2961.70h4.30v4.30h-4.30zM412.30 2966.00h8.60v4.30h-8.60zM433.80 2966.00h8.60v4.30h-8.60zM420.90 2970.30h12.90v4.30h-12.90zM433.80 2961.70h12.90v4.30h-12.90zM425.20 2966.00h8.60v4.30h-8.60zM446.70 2966.00h8.60v4.30h-8.60zM425.20 2970.30h4.30v4.30h-4.30zM451.00 2970.30h4.30v4.30h-4.30zM420.90 2974.60h4.30v12.90h-4.30zM455.30 2974.60h4.30v12.90h-4.30zM425.20 2987.50h4.30v4.30h-4.30zM451.00 2987.50h4.30v4.30h-4.30zM425.20 2991.80h8.60v4.30h-8.60zM446.70 2991.80h8.60v4.30h-8.60zM433.80 2996.10h12.90v4.30h-12.90zM446.70 2987.50h12.90v4.30h-12.90zM438.10 2991.80h8.60v4.30h-8.60zM459.60 2991.80h8.60v4.30h-8.60zM438.10 2996.10h4.30v4.30h-4.30zM463.90 2996.10h4.30v4.30h-4.30zM433.80 3000.40h4.30v12.90h-4.30zM468.20 3000.40h4.30v12.90h-4.30zM438.10 3013.30h4.30v4.30h-4.30zM463.90 3013.30h4.30v4.30h-4.30zM438.10 3017.60h8.60v4.30h-8.60zM459.60 3017.60h8.60v4.30h-8.60zM446.70 3021.90h12.90v4.30h-12.90zM459.60 3009.00h12.90v4.30h-12.90zM451.00 3013.30h8.60v4.30h-8.60zM472.50 3013.30h8.60v4.30h-8.60zM451.00 3017.60h4.30v4.30h-4.30zM476.80 3017.60h4.30v4.30h-4.30zM446.70 3021.90h4.30v12.90h-4.30zM481.10 3021.90h4.30v12.90h-4.30zM451.00 3034.80h4.30v4.30h-4.30zM476.80 3034.80h4.30v4.30h-4.30zM451.00 3039.10h8.60v4.30h-8.60zM472.50 3039.10h8.60v4.30h-8.60zM459.60 3043.40h12.90v4.30h-12.90zM468.20 3034.80h12.90v4.30h-12.90zM459.60 3039.10h8.60v4.30h-8.60zM481.10 3039.10h8.60v4.30h-8.60zM459.60 3043.40h4.30v4.30h-4.30zM485.40 3043.40h4.30v4.30h-4.30zM455.30 3047.70h4.30v12.90h-4.30zM489.70 3047.70h4.30v12.90h-4.30zM459.60 3060.60h4.30v4.30h-4.30zM485.40 3060.60h4.30v4.30h-4.30zM459.60 3064.90h8.60v4.30h-8.60zM481.10 3064.90h8.60v4.30h-8.60zM468.20 3069.20h12.90v4.30h-12.90zM481.10 3060.60h12.90v4.30h-12.90zM472.50 3064.90h8.60v4.30h-8.60zM494.00 3064.90h8.60v4.30h-8.60zM472.50 3069.20h4.30v4.30h-4.30zM498.30 3069.20h4.30v4.30h-4.30zM468.20 3073.50h4.30v12.90h-4.30zM502.60 3073.50h4.30v12.90h-4.30zM472.50 3086.40h4.30v4.30h-4.30zM498.30 3086.40h4.30v4.30h-4.30zM472.50 3090.70h8.60v4.30h-8.60zM494.00 3090.70h8.60v4.30h-8.60zM481.10 3095.00h12.90v4.30h-12.90zM494.00 3086.40h12.90v4.30h-12.90zM485.40 3090.70h8.60v4.30h-8.60zM506.90 3090.70h8.60v4.30h-8.60zM485.40 3095.00h4.30v4.30h-4.30zM511.20 3095.00h4.30v4.30h-4.30zM481.10 3099.30h4.30v12.90h-4.30zM515.50 3099.30h4.30v12.90h-4.30zM485.40 3112.20h4.30v4.30h-4.30zM511.20 3112.20h4.30v4.30h-4.30zM485.40 3116.50h8.60v4.30h-8.60zM506.90 3116.50h8.60v4.30h-8.60zM494.00 3120.80h12.90v4.30h-12.90zM506.90 3112.20h12.90v4.30h-12.90zM498.30 3116.50h8.60v4.30h-8.60zM519.80 3116.50h8.60v4.30h-8.60zM498.30 3120.80h4.30v4.30h-4.30zM524.10 3120.80h4.30v4.30h-4.30zM494.00 3125.10h4.30v12.90h-4.30zM528.40 3125.10h4.30v12.90h-4.30zM498.30 3138.00h4.30v4.30h-4.30zM524.10 3138.00h4.30v4.30h-4.30zM498.30 3142.30h8.60v4.30h-8.60zM519.80 3142.30h8.60v4.30h-8.60zM506.90 3146.60h12.90v4.30h-12.90zM519.80 3133.70h12.90v4.30h-12.90zM511.20 3138.00h8.60v4.30h-8.60zM532.70 3138.00h8.60v4.30h-8.60zM511.20 3142.30h4.30v4.30h-4.30zM537.00 3142.30h4.30v4.30h-4.30zM506.90 3146.60h4.30v12.90h-4.30zM541.30 3146.60h4.30v12.90h-4.30zM511.20 3159.50h4.30v4.30h-4.30zM537.00 3159.50h4.30v4.30h-4.30zM511.20 3163.80h8.60v4.30h-8.60zM532.70 3163.80h8.60v4.30h-8.60zM519.80 3168.10h12.90v4.30h-12.90zM532.70 3155.20h12.90v4.30h-12.90zM524.10 3159.50h8.60v4.30h-8.60zM545.60 3159.50h8.60v4.30h-8.60zM524.10 3163.80h4.30v4.30h-4.30zM549.90 3163.80h4.30v4.30h-4.30zM519.80 3168.10h4.30v12.90h-4.30zM554.20 3168.10h4.30v12.90h-4.30zM524.10 3181.00h4.30v4.30h-4.30zM549.90 3181.00h4.30v4.30h-4.30zM524.10 3185.30h8.60v4.30h-8.60zM545.60 3185.30h8.60v4.30h-8.60zM532.70 3189.60h12.90v4.30h-12.90zM545.60 3176.70h12.90v4.30h-12.90zM537.00 3181.00h8.60v4.30h-8.60zM558.50 3181.00h8.60v4.30h-8.60zM537.00 3185.30h4.30v4.30h-4.30zM562.80 3185.30h4.30v4.30h-4.30zM532.70 3189.60h4.30v12.90h-4.30zM567.10 3189.60h4.30v12.90h-4.30zM537.00 3202.50h4.30v4.30h-4.30zM562.80 3202.50h4.30v4.30h-4.30zM537.00 3206.80h8.60v4.30h-8.60zM558.50 3206.80h8.60v4.30h-8.60zM545.60 3211.10h12.90v4.30h-12.90zM558.50 3193.90h12.90v4.30h-12.90zM549.90 3198.20h8.60v4.30h-8.60zM571.40 3198.20h8.60v4.30h-8.60zM549.90 3202.50h4.30v4.30h-4.30zM575.70 3202.50h4.30v4.30h-4.30zM545.60 3206.80h4.30v12.90h-4.30zM580.00 3206.80h4.30v12.90h-4.30zM549.90 3219.70h4.30v4.30h-4.30zM575.70 3219.70h4.30v4.30h-4.30zM549.90 3224.00h8.60v4.30h-8.60zM571.40 3224.00h8.60v4.30h-8.60zM558.50 3228.30h12.90v4.30h-12.90zM571.40 3211.10h12.90v4.30h-12.90zM562.80 3215.40h8.60v4.30h-8.60zM584.30 3215.40h8.60v4.30h-8.60zM562.80 3219.70h4.30v4.30h-4.30zM588.60 3219.70h4.30v4.30h-4.30zM558.50 3224.00h4.30v12.90h-4.30zM592.90 3224.00h4.30v12.90h-4.30zM562.80 3236.90h4.30v4.30h-4.30zM588.60 3236.90h4.30v4.30h-4.30zM562.80 3241.20h8.60v4.30h-8.60zM584.30 3241.20h8.60v4.30h-8.60zM571.40 3245.50h12.90v4.30h-12.90zM584.30 3219.70h12.90v4.30h-12.90zM575.70 3224.00h8.60v4.30h-8.60zM597.20 3224.00h8.60v4.30h-8.60zM575.70 3228.30h4.30v4.30h-4.30zM601.50 3228.30h4.30v4.30h-4.30zM571.40 3232.60h4.30v12.90h-4.30zM605.80 3232.60h4.30v12.90h-4.30zM575.70 3245.50h4.30v4.30h-4.30zM601.50 3245.50h4.30v4.30h-4.30zM575.70 3249.80h8.60v4.30h-8.60zM597.20 3249.80h8.60v4.30h-8.60zM584.30 3254.10h12.90v4.30h-12.90zM597.20 3224.00h12.90v4.30h-12.90zM588.60 3228.30h8.60v4.30h-8.60zM610.10 3228.30h8.60v4.30h-8.60zM588.60 3232.60h4.30v4.30h-4.30zM614.40 3232.60h4.30v4.30h-4.30zM584.30 3236.90h4.30v12.90h-4.30zM618.70 3236.90h4.30v12.90h-4.30zM588.60 3249.80h4.30v4.30h-4.30zM614.40 3249.80h4.30v4.30h-4.30zM588.60 3254.10h8.60v4.30h-8.60zM610.10 3254.10h8.60v4.30h-8.60zM597.20 3258.40h12.90v4.30h-12.90zM610.10 3232.60h12.90v4.30h-12.90zM601.50 3236.90h8.60v4.30h-8.60zM623.00 3236.90h8.60v4.30h-8.60zM601.50 3241.20h4.30v4.30h-4.30zM627.30 3241.20h4.30v4.30h-4.30zM597.20 3245.50h4.30v12.90h-4.30zM631.60 3245.50h4.30v12.90h-4.30zM601.50 3258.40h4.30v4.30h-4.30zM627.30 3258.40h4.30v4.30h-4.30zM601.50 3262.70h8.60v4.30h-8.60zM623.00 3262.70h8.60v4.30h-8.60zM610.10 3267.00h12.90v4.30h-12.90zM618.70 3236.90h12.90v4.30h-12.90zM610.10 3241.20h8.60v4.30h-8.60zM631.60 3241.20h8.60v4.30h-8.60zM610.10 3245.50h4.30v4.30h-4.30zM635.90 3245.50h4.30v4.30h-4.30zM605.80 3249.80h4.30v12.90h-4.30zM640.20 3249.80h4.30v12.90h-4.30zM610.10 3262.70h4.30v4.30h-4.30zM635.90 3262.70h4.30v4.30h-4.30zM610.10 3267.00h8.60v4.30h-8.60zM631.60 3267.00h8.60v4.30h-8.60zM618.70 3271.30h12.90v4.30h-12.90zM631.60 3236.90h12.90v4.30h-12.90zM623.00 3241.20h8.60v4.30h-8.60zM644.50 3241.20h8.60v4.30h-8.60zM623.00 3245.50h4.30v4.30h-4.30zM648.80 3245.50h4.30v4.30h-4.30zM618.70 3249.80h4.30v12.90h-4.30zM653.10 3249.80h4.30v12.90h-4.30zM623.00 3262.70h4.30v4.30h-4.30zM648.80 3262.70h4.30v4.30h-4.30zM623.00 3267.00h8.60v4.30h-8.60zM644.50 3267.00h8.60v4.30h-8.60zM631.60 3271.30h12.90v4.30h-12.90zM644.50 3236.90h12.90v4.30h-12.90zM635.90 3241.20h8.60v4.30h-8.60zM657.40 3241.20h8.60v4.30h-8.60zM635.90 3245.50h4.30v4.30h-4.30zM661.70 3245.50h4.30v4.30h-4.30zM631.60 3249.80h4.30v12.90h-4.30zM666.00 3249.80h4.30v12.90h-4.30zM635.90 3262.70h4.30v4.30h-4.30zM661.70 3262.70h4.30v4.30h-4.30zM635.90 3267.00h8.60v4.30h-8.60zM657.40 3267.00h8.60v4.30h-8.60zM644.50 3271.30h12.90v4.30h-12.90zM657.40 3232.60h12.90v4.30h-12.90zM648.80 3236.90h8.60v4.30h-8.60zM670.30 3236.90h8.60v4.30h-8.60zM648.80 3241.20h4.30v4.30h-4.30zM674.60 3241.20h4.30v4.30h-4.30zM644.50 3245.50h4.30v12.90h-4.30zM678.90 3245.50h4.30v12.90h-4.30zM648.80 3258.40h4.30v4.30h-4.30zM674.60 3258.40h4.30v4.30h-4.30zM648.80 3262.70h8.60v4.30h-8.60zM670.30 3262.70h8.60v4.30h-8.60zM657.40 3267.00h12.90v4.30h-12.90zM670.30 3228.30h12.90v4.30h-12.90zM661.70 3232.60h8.60v4.30h-8.60zM683.20 3232.60h8.60v4.30h-8.60zM661.70 3236.90h4.30v4.30h-4.30zM687.50 3236.90h4.30v4.30h-4.30zM657.40 3241.20h4.30v12.90h-4.30zM691.80 3241.20h4.30v12.90h-4.30zM661.70 3254.10h4.30v4.30h-4.30zM687.50 3254.10h4.30v4.30h-4.30zM661.70 3258.40h8.60v4.30h-8.60zM683.20 3258.40h8.60v4.30h-8.60zM670.30 3262.70h12.90v4.30h-12.90zM683.20 3219.70h12.90v4.30h-12.90zM674.60 3224.00h8.60v4.30h-8.60zM696.10 3224.00h8.60v4.30h-8.60zM674.60 3228.30h4.30v4.30h-4.30zM700.40 3228.30h4.30v4.30h-4.30zM670.30 3232.60h4.30v12.90h-4.30zM704.70 3232.60h4.30v12.90h-4.30zM674.60 3245.50h4.30v4.30h-4.30zM700.40 3245.50h4.30v4.30h-4.30zM674.60 3249.80h8.60v4.30h-8.60zM696.10 3249.80h8.60v4.30h-8.60zM683.20 3254.10h12.90v4.30h-12.90zM696.10 3211.10h12.90v4.30h-12.90zM687.50 3215.40h8.60v4.30h-8.60zM709.00 3215.40h8.60v4.30h-8.60zM687.50 3219.70h4.30v4.30h-4.30zM713.30 3219.70h4.30v4.30h-4.30zM683.20 3224.00h4.30v12.90h-4.30zM717.60 3224.00h4.30v12.90h-4.30zM687.50 3236.90h4.30v4.30h-4.30zM713.30 3236.90h4.30v4.30h-4.30zM687.50 3241.20h8.60v4.30h-8.60zM709.00 3241.20h8.60v4.30h-8.60zM696.10 3245.50h12.90v4.30h-12.90zM709.00 3198.20h12.90v4.30h-12.90zM700.40 3202.50h8.60v4.30h-8.60zM721.90 3202.50h8.60v4.30h-8.60zM700.40 3206.80h4.30v4.30h-4.30zM726.20 3206.80h4.30v4.30h-4.30zM696.10 3211.10h4.30v12.90h-4.30zM730.50 3211.10h4.30v12.90h-4.30zM700.40 3224.00h4.30v4.30h-4.30zM726.20 3224.00h4.30v4.30h-4.30zM700.40 3228.30h8.60v4.30h-8.60zM721.90 3228.30h8.60v4.30h-8.60zM709.00 3232.60h12.90v4.30h-12.90zM721.90 3185.30h12.90v4.30h-12.90zM713.30 3189.60h8.60v4.30h-8.60zM734.80 3189.60h8.60v4.30h-8.60zM713.30 3193.90h4.30v4.30h-4.30zM739.10 3193.90h4.30v4.30h-4.30zM709.00 3198.20h4.30v12.90h-4.30zM743.40 3198.20h4.30v12.90h-4.30zM713.30 3211.10h4.30v4.30h-4.30zM739.10 3211.10h4.30v4.30h-4.30zM713.30 3215.40h8.60v4.30h-8.60zM734.80 3215.40h8.60v4.30h-8.60zM721.90 3219.70h12.90v4.30h-12.90zM734.80 3168.10h12.90v4.30h-12.90zM726.20 3172.40h8.60v4.30h-8.60zM747.70 3172.40h8.60v4.30h-8.60zM726.20 3176.70h4.30v4.30h-4.30zM752.00 3176.70h4.30v4.30h-4.30zM721.90 3181.00h4.30v12.90h-4.30zM756.30 3181.00h4.30v12.90h-4.30zM726.20 3193.90h4.30v4.30h-4.30zM752.00 3193.90h4.30v4.30h-4.30zM726.20 3198.20h8.60v4.30h-8.60zM747.70 3198.20h8.60v4.30h-8.60zM734.80 3202.50h12.90v4.30h-12.90zM747.70 3150.90h12.90v4.30h-12.90zM739.10 3155.20h8.60v4.30h-8.60zM760.60 3155.20h8.60v4.30h-8.60zM739.10 3159.50h4.30v4.30h-4.30zM764.90 3159.50h4.30v4.30h-4.30zM734.80 3163.80h4.30v12.90h-4.30zM769.20 3163.80h4.30v12.90h-4.30zM739.10 3176.70h4.30v4.30h-4.30zM764.90 3176.70h4.30v4.30h-4.30zM739.10 3181.00h8.60v4.30h-8.60zM760.60 3181.00h8.60v4.30h-8.60zM747.70 3185.30h12.90v4.30h-12.90zM760.60 3129.40h12.90v4.30h-12.90zM752.00 3133.70h8.60v4.30h-8.60zM773.50 3133.70h8.60v4.30h-8.60zM752.00 3138.00h4.30v4.30h-4.30zM777.80 3138.00h4.30v4.30h-4.30zM747.70 3142.30h4.30v12.90h-4.30zM782.10 3142.30h4.30v12.90h-4.30zM752.00 3155.20h4.30v4.30h-4.30zM777.80 3155.20h4.30v4.30h-4.30zM752.00 3159.50h8.60v4.30h-8.60zM773.50 3159.50h8.60v4.30h-8.60zM760.60 3163.80h12.90v4.30h-12.90zM769.20 3107.90h12.90v4.30h-12.90zM760.60 3112.20h8.60v4.30h-8.60zM782.10 3112.20h8.60v4.30h-8.60zM760.60 3116.50h4.30v4.30h-4.30zM786.40 3116.50h4.30v4.30h-4.30zM756.30 3120.80h4.30v12.90h-4.30zM790.70 3120.80h4.30v12.90h-4.30zM760.60 3133.70h4.30v4.30h-4.30zM786.40 3133.70h4.30v4.30h-4.30zM760.60 3138.00h8.60v4.30h-8.60zM782.10 3138.00h8.60v4.30h-8.60zM769.20 3142.30h12.90v4.30h-12.90zM782.10 3086.40h12.90v4.30h-12.90zM773.50 3090.70h8.60v4.30h-8.60zM795.00 3090.70h8.60v4.30h-8.60zM773.50 3095.00h4.30v4.30h-4.30zM799.30 3095.00h4.30v4.30h-4.30zM769.20 3099.30h4.30v12.90h-4.30zM803.60 3099.30h4.30v12.90h-4.30zM773.50 3112.20h4.30v4.30h-4.30zM799.30 3112.20h4.30v4.30h-4.30zM773.50 3116.50h8.60v4.30h-8.60zM795.00 3116.50h8.60v4.30h-8.60zM782.10 3120.80h12.90v4.30h-12.90zM795.00 3064.90h12.90v4.30h-12.90zM786.40 3069.20h8.60v4.30h-8.60zM807.90 3069.20h8.60v4.30h-8.60zM786.40 3073.50h4.30v4.30h-4.30zM812.20 3073.50h4.30v4.30h-4.30zM782.10 3077.80h4.30v12.90h-4.30zM816.50 3077.80h4.30v12.90h-4.30zM786.40 3090.70h4.30v4.30h-4.30zM812.20 3090.70h4.30v4.30h-4.30zM786.40 3095.00h8.60v4.30h-8.60zM807.90 3095.00h8.60v4.30h-8.60zM795.00 3099.30h12.90v4.30h-12.90zM807.90 3043.40h12.90v4.30h-12.90zM799.30 3047.70h8.60v4.30h-8.60zM820.80 3047.70h8.60v4.30h-8.60zM799.30 3052.00h4.30v4.30h-4.30zM825.10 3052.00h4.30v4.30h-4.30zM795.00 3056.30h4.30v12.90h-4.30zM829.40 3056.30h4.30v12.90h-4.30zM799.30 3069.20h4.30v4.30h-4.30zM825.10 3069.20h4.30v4.30h-4.30zM799.30 3073.50h8.60v4.30h-8.60zM820.80 3073.50h8.60v4.30h-8.60zM807.90 3077.80h12.90v4.30h-12.90zM820.80 3021.90h12.90v4.30h-12.90zM812.20 3026.20h8.60v4.30h-8.60zM833.70 3026.20h8.60v4.30h-8.60zM812.20 3030.50h4.30v4.30h-4.30zM838.00 3030.50h4.30v4.30h-4.30zM807.90 3034.80h4.30v12.90h-4.30zM842.30 3034.80h4.30v12.90h-4.30zM812.20 3047.70h4.30v4.30h-4.30zM838.00 3047.70h4.30v4.30h-4.30zM812.20 3052.00h8.60v4.30h-8.60zM833.70 3052.00h8.60v4.30h-8.60zM820.80 3056.30h12.90v4.30h-12.90zM833.70 2996.10h12.90v4.30h-12.90zM825.10 3000.40h8.60v4.30h-8.60zM846.60 3000.40h8.60v4.30h-8.60zM825.10 3004.70h4.30v4.30h-4.30zM850.90 3004.70h4.30v4.30h-4.30zM820.80 3009.00h4.30v12.90h-4.30zM855.20 3009.00h4.30v12.90h-4.30zM825.10 3021.90h4.30v4.30h-4.30zM850.90 3021.90h4.30v4.30h-4.30zM825.10 3026.20h8.60v4.30h-8.60zM846.60 3026.20h8.60v4.30h-8.60zM833.70 3030.50h12.90v4.30h-12.90zM846.60 2974.60h12.90v4.30h-12.90zM838.00 2978.90h8.60v4.30h-8.60zM859.50 2978.90h8.60v4.30h-8.60zM838.00 2983.20h4.30v4.30h-4.30zM863.80 2983.20h4.30v4.30h-4.30zM833.70 2987.50h4.30v12.90h-4.30zM868.10 2987.50h4.30v12.90h-4.30zM838.00 3000.40h4.30v4.30h-4.30zM863.80 3000.40h4.30v4.30h-4.30zM838.00 3004.70h8.60v4.30h-8.60zM859.50 3004.70h8.60v4.30h-8.60zM846.60 3009.00h12.90v4.30h-12.90zM859.50 2948.80h12.90v4.30h-12.90zM850.90 2953.10h8.60v4.30h-8.60zM872.40 2953.10h8.60v4.30h-8.60zM850.90 2957.40h4.30v4.30h-4.30zM876.70 2957.40h4.30v4.30h-4.30zM846.60 2961.70h4.30v12.90h-4.30zM881.00 2961.70h4.30v12.90h-4.30zM850.90 2974.60h4.30v4.30h-4.30zM876.70 2974.60h4.30v4.30h-4.30zM850.90 2978.90h8.60v4.30h-8.60zM872.40 2978.90h8.60v4.30h-8.60zM859.50 2983.20h12.90v4.30h-12.90zM872.40 2927.30h12.90v4.30h-12.90zM863.80 2931.60h8.60v4.30h-8.60zM885.30 2931.60h8.60v4.30h-8.60zM863.80 2935.90h4.30v4.30h-4.30zM889.60 2935.90h4.30v4.30h-4.30zM859.50 2940.20h4.30v12.90h-4.30zM893.90 2940.20h4.30v12.90h-4.30zM863.80 2953.10h4.30v4.30h-4.30zM889.60 2953.10h4.30v4.30h-4.30zM863.80 2957.40h8.60v4.30h-8.60zM885.30 2957.40h8.60v4.30h-8.60zM872.40 2961.70h12.90v4.30h-12.90zM885.30 2910.10h12.90v4.30h-12.90zM876.70 2914.40h8.60v4.30h-8.60zM898.20 2914.40h8.60v4.30h-8.60zM876.70 2918.70h4.30v4.30h-4.30zM902.50 2918.70h4.30v4.30h-4.30zM872.40 2923.00h4.30v12.90h-4.30zM906.80 2923.00h4.30v12.90h-4.30zM876.70 2935.90h4.30v4.30h-4.30zM902.50 2935.90h4.30v4.30h-4.30zM876.70 2940.20h8.60v4.30h-8.60zM898.20 2940.20h8.60v4.30h-8.60zM885.30 2944.50h12.90v4.30h-12.90zM898.20 2897.20h12.90v4.30h-12.90zM889.60 2901.50h8.60v4.30h-8.60zM911.10 2901.50h8.60v4.30h-8.60zM889.60 2905.80h4.30v4.30h-4.30zM915.40 2905.80h4.30v4.30h-4.30zM885.30 2910.10h4.30v12.90h-4.30zM919.70 2910.10h4.30v12.90h-4.30zM889.60 2923.00h4.30v4.30h-4.30zM915.40 2923.00h4.30v4.30h-4.30zM889.60 2927.30h8.60v4.30h-8.60zM911.10 2927.30h8.60v4.30h-8.60zM898.20 2931.60h12.90v4.30h-12.90zM911.10 2888.60h12.90v4.30h-12.90zM902.50 2892.90h8.60v4.30h-8.60zM924.00 2892.90h8.60v4.30h-8.60zM902.50 2897.20h4.30v4.30h-4.30zM928.30 2897.20h4.30v4.30h-4.30zM898.20 2901.50h4.30v12.90h-4.30zM932.60 2901.50h4.30v12.90h-4.30zM902.50 2914.40h4.30v4.30h-4.30zM928.30 2914.40h4.30v4.30h-4.30zM902.50 2918.70h8.60v4.30h-8.60zM924.00 2918.70h8.60v4.30h-8.60zM911.10 2923.00h12.90v4.30h-12.90zM919.70 2875.70h12.90v4.30h-12.90zM911.10 2880.00h8.60v4.30h-8.60zM932.60 2880.00h8.60v4.30h-8.60zM911.10 2884.30h4.30v4.30h-4.30zM936.90 2884.30h4.30v4.30h-4.30zM906.80 2888.60h4.30v12.90h-4.30zM941.20 2888.60h4.30v12.90h-4.30zM911.10 2901.50h4.30v4.30h-4.30zM936.90 2901.50h4.30v4.30h-4.30zM911.10 2905.80h8.60v4.30h-8.60zM932.60 2905.80h8.60v4.30h-8.60zM919.70 2910.10h12.90v4.30h-12.90zM932.60 2862.80h12.90v4.30h-12.90zM924.00 2867.10h8.60v4.30h-8.60zM945.50 2867.10h8.60v4.30h-8.60zM924.00 2871.40h4.30v4.30h-4.30zM949.80 2871.40h4.30v4.30h-4.30zM919.70 2875.70h4.30v12.90h-4.30zM954.10 2875.70h4.30v12.90h-4.30zM924.00 2888.60h4.30v4.30h-4.30zM949.80 2888.60h4.30v4.30h-4.30zM924.00 2892.90h8.60v4.30h-8.60zM945.50 2892.90h8.60v4.30h-8.60zM932.60 2897.20h12.90v4.30h-12.90zM945.50 2849.90h12.90v4.30h-12.90zM936.90 2854.20h8.60v4.30h-8.60zM958.40 2854.20h8.60v4.30h-8.60zM936.90 2858.50h4.30v4.30h-4.30zM962.70 2858.50h4.30v4.30h-4.30zM932.60 2862.80h4.30v12.90h-4.30zM967.00 2862.80h4.30v12.90h-4.30zM936.90 2875.70h4.30v4.30h-4.30zM962.70 2875.70h4.30v4.30h-4.30zM936.90 2880.00h8.60v4.30h-8.60zM958.40 2880.00h8.60v4.30h-8.60zM945.50 2884.30h12.90v4.30h-12.90zM958.40 2841.30h12.90v4.30h-12.90zM949.80 2845.60h8.60v4.30h-8.60zM971.30 2845.60h8.60v4.30h-8.60zM949.80 2849.90h4.30v4.30h-4.30zM975.60 2849.90h4.30v4.30h-4.30zM945.50 2854.20h4.30v12.90h-4.30zM979.90 2854.20h4.30v12.90h-4.30zM949.80 2867.10h4.30v4.30h-4.30zM975.60 2867.10h4.30v4.30h-4.30zM949.80 2871.40h8.60v4.30h-8.60zM971.30 2871.40h8.60v4.30h-8.60zM958.40 2875.70h12.90v4.30h-12.90zM971.30 2828.40h12.90v4.30h-12.90zM962.70 2832.70h8.60v4.30h-8.60zM984.20 2832.70h8.60v4.30h-8.60zM962.70 2837.00h4.30v4.30h-4.30zM988.50 2837.00h4.30v4.30h-4.30zM958.40 2841.30h4.30v12.90h-4.30zM992.80 2841.30h4.30v12.90h-4.30zM962.70 2854.20h4.30v4.30h-4.30zM988.50 2854.20h4.30v4.30h-4.30zM962.70 2858.50h8.60v4.30h-8.60zM984.20 2858.50h8.60v4.30h-8.60zM971.30 2862.80h12.90v4.30h-12.90zM984.20 2819.80h12.90v4.30h-12.90zM975.60 2824.10h8.60v4.30h-8.60zM997.10 2824.10h8.60v4.30h-8.60zM975.60 2828.40h4.30v4.30h-4.30zM1001.40 2828.40h4.30v4.30h-4.30zM971.30 2832.70h4.30v12.90h-4.30zM1005.70 2832.70h4.30v12.90h-4.30zM975.60 2845.60h4.30v4.30h-4.30zM1001.40 2845.60h4.30v4.30h-4.30zM975.60 2849.90h8.60v4.30h-8.60zM997.10 2849.90h8.60v4.30h-8.60zM984.20 2854.20h12.90v4.30h-12.90zM997.10 2806.90h12.90v4.30h-12.90zM988.50 2811.20h8.60v4.30h-8.60zM1010.00 2811.20h8.60v4.30h-8.60zM988.50 2815.50h4.30v4.30h-4.30zM1014.30 2815.50h4.30v4.30h-4.30zM984.20 2819.80h4.30v12.90h-4.30zM1018.60 2819.80h4.30v12.90h-4.30zM988.50 2832.70h4.30v4.30h-4.30zM1014.30 2832.70h4.30v4.30h-4.30zM988.50 2837.00h8.60v4.30h-8.60zM1010.00 2837.00h8.60v4.30h-8.60zM997.10 2841.30h12.90v4.30h-12.90zM1010.00 2794.00h12.90v4.30h-12.90zM1001.40 2798.30h8.60v4.30h-8.60zM1022.90 2798.30h8.60v4.30h-8.60zM1001.40 2802.60h4.30v4.30h-4.30zM1027.20 2802.60h4.30v4.30h-4.30zM997.10 2806.90h4.30v12.90h-4.30zM1031.50 2806.90h4.30v12.90h-4.30zM1001.40 2819.80h4.30v4.30h-4.30zM1027.20 2819.80h4.30v4.30h-4.30zM1001.40 2824.10h8.60v4.30h-8.60zM1022.90 2824.10h8.60v4.30h-8.60zM1010.00 2828.40h12.90v4.30h-12.90zM1022.90 2785.40h12.90v4.30h-12.90zM1014.30 2789.70h8.60v4.30h-8.60zM1035.80 2789.70h8.60v4.30h-8.60zM1014.30 2794.00h4.30v4.30h-4.30zM1040.10 2794.00h4.30v4.30h-4.30zM1010.00 2798.30h4.30v12.90h-4.30zM1044.40 2798.30h4.30v12.90h-4.30zM1014.30 2811.20h4.30v4.30h-4.30zM1040.10 2811.20h4.30v4.30h-4.30zM1014.30 2815.50h8.60v4.30h-8.60zM1035.80 2815.50h8.60v4.30h-8.60zM1022.90 2819.80h12.90v4.30h-12.90zM1035.80 2776.80h12.90v4.30h-12.90zM1027.20 2781.10h8.60v4.30h-8.60zM1048.70 2781.10h8.60v4.30h-8.60zM1027.20 2785.40h4.30v4.30h-4.30zM1053.00 2785.40h4.30v4.30h-4.30zM1022.90 2789.70h4.30v12.90h-4.30zM1057.30 2789.70h4.30v12.90h-4.30zM1027.20 2802.60h4.30v4.30h-4.30zM1053.00 2802.60h4.30v4.30h-4.30zM1027.20 2806.90h8.60v4.30h-8.60zM1048.70 2806.90h8.60v4.30h-8.60zM1035.80 2811.20h12.90v4.30h-12.90zM1048.70 2768.20h12.90v4.30h-12.90zM1040.10 2772.50h8.60v4.30h-8.60zM1061.60 2772.50h8.60v4.30h-8.60zM1040.10 2776.80h4.30v4.30h-4.30zM1065.90 2776.80h4.30v4.30h-4.30zM1035.80 2781.10h4.30v12.90h-4.30zM1070.20 2781.10h4.30v12.90h-4.30zM1040.10 2794.00h4.30v4.30h-4.30zM1065.90 2794.00h4.30v4.30h-4.30zM1040.10 2798.30h8.60v4.30h-8.60zM1061.60 2798.30h8.60v4.30h-8.60zM1048.70 2802.60h12.90v4.30h-12.90zM1061.60 2759.60h12.90v4.30h-12.90zM1053.00 2763.90h8.60v4.30h-8.60zM1074.50 2763.90h8.60v4.30h-8.60zM1053.00 2768.20h4.30v4.30h-4.30zM1078.80 2768.20h4.30v4.30h-4.30zM1048.70 2772.50h4.30v12.90h-4.30zM1083.10 2772.50h4.30v12.90h-4.30zM1053.00 2785.40h4.30v4.30h-4.30zM1078.80 2785.40h4.30v4.30h-4.30zM1053.00 2789.70h8.60v4.30h-8.60zM1074.50 2789.70h8.60v4.30h-8.60zM1061.60 2794.00h12.90v4.30h-12.90zM1070.20 2751.00h12.90v4.30h-12.90zM1061.60 2755.30h8.60v4.30h-8.60zM1083.10 2755.30h8.60v4.30h-8.60zM1061.60 2759.60h4.30v4.30h-4.30zM1087.40 2759.60h4.30v4.30h-4.30zM1057.30 2763.90h4.30v12.90h-4.30zM1091.70 2763.90h4.30v12.90h-4.30zM1061.60 2776.80h4.30v4.30h-4.30zM1087.40 2776.80h4.30v4.30h-4.30zM1061.60 2781.10h8.60v4.30h-8.60zM1083.10 2781.10h8.60v4.30h-8.60zM1070.20 2785.40h12.90v4.30h-12.90zM1083.10 2746.70h12.90v4.30h-12.90zM1074.50 2751.00h8.60v4.30h-8.60zM1096.00 2751.00h8.60v4.30h-8.60zM1074.50 2755.30h4.30v4.30h-4.30zM1100.30 2755.30h4.30v4.30h-4.30zM1070.20 2759.60h4.30v12.90h-4.30zM1104.60 2759.60h4.30v12.90h-4.30zM1074.50 2772.50h4.30v4.30h-4.30zM1100.30 2772.50h4.30v4.30h-4.30zM1074.50 2776.80h8.60v4.30h-8.60zM1096.00 2776.80h8.60v4.30h-8.60zM1083.10 2781.10h12.90v4.30h-12.90zM1096.00 2742.40h12.90v4.30h-12.90zM1087.40 2746.70h8.60v4.30h-8.60zM1108.90 2746.70h8.60v4.30h-8.60zM1087.40 2751.00h4.30v4.30h-4.30zM1113.20 2751.00h4.30v4.30h-4.30zM1083.10 2755.30h4.30v12.90h-4.30zM1117.50 2755.30h4.30v12.90h-4.30zM1087.40 2768.20h4.30v4.30h-4.30zM1113.20 2768.20h4.30v4.30h-4.30zM1087.40 2772.50h8.60v4.30h-8.60zM1108.90 2772.50h8.60v4.30h-8.60zM1096.00 2776.80h12.90v4.30h-12.90zM1108.90 2733.80h12.90v4.30h-12.90zM1100.30 2738.10h8.60v4.30h-8.60zM1121.80 2738.10h8.60v4.30h-8.60zM1100.30 2742.40h4.30v4.30h-4.30zM1126.10 2742.40h4.30v4.30h-4.30zM1096.00 2746.70h4.30v12.90h-4.30zM1130.40 2746.70h4.30v12.90h-4.30zM1100.30 2759.60h4.30v4.30h-4.30zM1126.10 2759.60h4.30v4.30h-4.30zM1100.30 2763.90h8.60v4.30h-8.60zM1121.80 2763.90h8.60v4.30h-8.60zM1108.90 2768.20h12.90v4.30h-12.90zM1121.80 2725.20h12.90v4.30h-12.90zM1113.20 2729.50h8.60v4.30h-8.60zM1134.70 2729.50h8.60v4.30h-8.60zM1113.20 2733.80h4.30v4.30h-4.30zM1139.00 2733.80h4.30v4.30h-4.30zM1108.90 2738.10h4.30v12.90h-4.30zM1143.30 2738.10h4.30v12.90h-4.30zM1113.20 2751.00h4.30v4.30h-4.30zM1139.00 2751.00h4.30v4.30h-4.30zM1113.20 2755.30h8.60v4.30h-8.60zM1134.70 2755.30h8.60v4.30h-8.60zM1121.80 2759.60h12.90v4.30h-12.90zM1134.70 2716.60h12.90v4.30h-12.90zM1126.10 2720.90h8.60v4.30h-8.60zM1147.60 2720.90h8.60v4.30h-8.60zM1126.10 2725.20h4.30v4.30h-4.30zM1151.90 2725.20h4.30v4.30h-4.30zM1121.80 2729.50h4.30v12.90h-4.30zM1156.20 2729.50h4.30v12.90h-4.30zM1126.10 2742.40h4.30v4.30h-4.30zM1151.90 2742.40h4.30v4.30h-4.30zM1126.10 2746.70h8.60v4.30h-8.60zM1147.60 2746.70h8.60v4.30h-8.60zM1134.70 2751.00h12.90v4.30h-12.90zM1147.60 2708.00h12.90v4.30h-12.90zM1139.00 2712.30h8.60v4.30h-8.60zM1160.50 2712.30h8.60v4.30h-8.60zM1139.00 2716.60h4.30v4.30h-4.30zM1164.80 2716.60h4.30v4.30h-4.30zM1134.70 2720.90h4.30v12.90h-4.30zM1169.10 2720.90h4.30v12.90h-4.30zM1139.00 2733.80h4.30v4.30h-4.30zM1164.80 2733.80h4.30v4.30h-4.30zM1139.00 2738.10h8.60v4.30h-8.60zM1160.50 2738.10h8.60v4.30h-8.60zM1147.60 2742.40h12.90v4.30h-12.90zM1160.50 2699.40h12.90v4.30h-12.90zM1151.90 2703.70h8.60v4.30h-8.60zM1173.40 2703.70h8.60v4.30h-8.60zM1151.90 2708.00h4.30v4.30h-4.30zM1177.70 2708.00h4.30v4.30h-4.30zM1147.60 2712.30h4.30v12.90h-4.30zM1182.00 2712.30h4.30v12.90h-4.30zM1151.90 2725.20h4.30v4.30h-4.30zM1177.70 2725.20h4.30v4.30h-4.30zM1151.90 2729.50h8.60v4.30h-8.60zM1173.40 2729.50h8.60v4.30h-8.60zM1160.50 2733.80h12.90v4.30h-12.90zM1173.40 2695.10h12.90v4.30h-12.90zM1164.80 2699.40h8.60v4.30h-8.60zM1186.30 2699.40h8.60v4.30h-8.60zM1164.80 2703.70h4.30v4.30h-4.30zM1190.60 2703.70h4.30v4.30h-4.30zM1160.50 2708.00h4.30v12.90h-4.30zM1194.90 2708.00h4.30v12.90h-4.30zM1164.80 2720.90h4.30v4.30h-4.30zM1190.60 2720.90h4.30v4.30h-4.30zM1164.80 2725.20h8.60v4.30h-8.60zM1186.30 2725.20h8.60v4.30h-8.60zM1173.40 2729.50h12.90v4.30h-12.90zM1186.30 2686.50h12.90v4.30h-12.90zM1177.70 2690.80h8.60v4.30h-8.60zM1199.20 2690.80h8.60v4.30h-8.60zM1177.70 2695.10h4.30v4.30h-4.30zM1203.50 2695.10h4.30v4.30h-4.30zM1173.40 2699.40h4.30v12.90h-4.30zM1207.80 2699.40h4.30v12.90h-4.30zM1177.70 2712.30h4.30v4.30h-4.30zM1203.50 2712.30h4.30v4.30h-4.30zM1177.70 2716.60h8.60v4.30h-8.60zM1199.20 2716.60h8.60v4.30h-8.60zM1186.30 2720.90h12.90v4.30h-12.90zM1199.20 2682.20h12.90v4.30h-12.90zM1190.60 2686.50h8.60v4.30h-8.60zM1212.10 2686.50h8.60v4.30h-8.60zM1190.60 2690.80h4.30v4.30h-4.30zM1216.40 2690.80h4.30v4.30h-4.30zM1186.30 2695.10h4.30v12.90h-4.30zM1220.70 2695.10h4.30v12.90h-4.30zM1190.60 2708.00h4.30v4.30h-4.30zM1216.40 2708.00h4.30v4.30h-4.30zM1190.60 2712.30h8.60v4.30h-8.60zM1212.10 2712.30h8.60v4.30h-8.60zM1199.20 2716.60h12.90v4.30h-12.90zM1212.10 2673.60h12.90v4.30h-12.90zM1203.50 2677.90h8.60v4.30h-8.60zM1225.00 2677.90h8.60v4.30h-8.60zM1203.50 2682.20h4.30v4.30h-4.30zM1229.30 2682.20h4.30v4.30h-4.30zM1199.20 2686.50h4.30v12.90h-4.30zM1233.60 2686.50h4.30v12.90h-4.30zM1203.50 2699.40h4.30v4.30h-4.30zM1229.30 2699.40h4.30v4.30h-4.30zM1203.50 2703.70h8.60v4.30h-8.60zM1225.00 2703.70h8.60v4.30h-8.60zM1212.10 2708.00h12.90v4.30h-12.90zM1225.00 2665.00h12.90v4.30h-12.90zM1216.40 2669.30h8.60v4.30h-8.60zM1237.90 2669.30h8.60v4.30h-8.60zM1216.40 2673.60h4.30v4.30h-4.30zM1242.20 2673.60h4.30v4.30h-4.30zM1212.10 2677.90h4.30v12.90h-4.30zM1246.50 2677.90h4.30v12.90h-4.30zM1216.40 2690.80h4.30v4.30h-4.30zM1242.20 2690.80h4.30v4.30h-4.30zM1216.40 2695.10h8.60v4.30h-8.60zM1237.90 2695.10h8.60v4.30h-8.60zM1225.00 2699.40h12.90v4.30h-12.90zM1233.60 2660.70h12.90v4.30h-12.90zM1225.00 2665.00h8.60v4.30h-8.60zM1246.50 2665.00h8.60v4.30h-8.60zM1225.00 2669.30h4.30v4.30h-4.30zM1250.80 2669.30h4.30v4.30h-4.30zM1220.70 2673.60h4.30v12.90h-4.30zM1255.10 2673.60h4.30v12.90h-4.30zM1225.00 2686.50h4.30v4.30h-4.30zM1250.80 2686.50h4.30v4.30h-4.30zM1225.00 2690.80h8.60v4.30h-8.60zM1246.50 2690.80h8.60v4.30h-8.60zM1233.60 2695.10h12.90v4.30h-12.90zM1246.50 2652.10h12.90v4.30h-12.90zM1237.90 2656.40h8.60v4.30h-8.60zM1259.40 2656.40h8.60v4.30h-8.60zM1237.90 2660.70h4.30v4.30h-4.30zM1263.70 2660.70h4.30v4.30h-4.30zM1233.60 2665.00h4.30v12.90h-4.30zM1268.00 2665.00h4.30v12.90h-4.30zM1237.90 2677.90h4.30v4.30h-4.30zM1263.70 2677.90h4.30v4.30h-4.30zM1237.90 2682.20h8.60v4.30h-8.60zM1259.40 2682.20h8.60v4.30h-8.60zM1246.50 2686.50h12.90v4.30h-12.90zM1259.40 2647.80h12.90v4.30h-12.90zM1250.80 2652.10h8.60v4.30h-8.60zM1272.30 2652.10h8.60v4.30h-8.60zM1250.80 2656.40h4.30v4.30h-4.30zM1276.60 2656.40h4.30v4.30h-4.30zM1246.50 2660.70h4.30v12.90h-4.30zM1280.90 2660.70h4.30v12.90h-4.30zM1250.80 2673.60h4.30v4.30h-4.30zM1276.60 2673.60h4.30v4.30h-4.30zM1250.80 2677.90h8.60v4.30h-8.60zM1272.30 2677.90h8.60v4.30h-8.60zM1259.40 2682.20h12.90v4.30h-12.90zM1272.30 2647.80h12.90v4.30h-12.90zM1263.70 2652.10h8.60v4.30h-8.60zM1285.20 2652.10h8.60v4.30h-8.60zM1263.70 2656.40h4.30v4.30h-4.30zM1289.50 2656.40h4.30v4.30h-4.30zM1259.40 2660.70h4.30v12.90h-4.30zM1293.80 2660.70h4.30v12.90h-4.30zM1263.70 2673.60h4.30v4.30h-4.30zM1289.50 2673.60h4.30v4.30h-4.30zM1263.70 2677.90h8.60v4.30h-8.60zM1285.20 2677.90h8.60v4.30h-8.60zM1272.30 2682.20h12.90v4.30h-12.90zM1285.20 2643.50h12.90v4.30h-12.90zM1276.60 2647.80h8.60v4.30h-8.60zM1298.10 2647.80h8.60v4.30h-8.60zM1276.60 2652.10h4.30v4.30h-4.30zM1302.40 2652.10h4.30v4.30h-4.30zM1272.30 2656.40h4.30v12.90h-4.30zM1306.70 2656.40h4.30v12.90h-4.30zM1276.60 2669.30h4.30v4.30h-4.30zM1302.40 2669.30h4.30v4.30h-4.30zM1276.60 2673.60h8.60v4.30h-8.60zM1298.10 2673.60h8.60v4.30h-8.60zM1285.20 2677.90h12.90v4.30h-12.90zM1298.10 2647.80h12.90v4.30h-12.90zM1289.50 2652.10h8.60v4.30h-8.60zM1311.00 2652.10h8.60v4.30h-8.60zM1289.50 2656.40h4.30v4.30h-4.30zM1315.30 2656.40h4.30v4.30h-4.30zM1285.20 2660.70h4.30v12.90h-4.30zM1319.60 2660.70h4.30v12.90h-4.30zM1289.50 2673.60h4.30v4.30h-4.30zM1315.30 2673.60h4.30v4.30h-4.30zM1289.50 2677.90h8.60v4.30h-8.60zM1311.00 2677.90h8.60v4.30h-8.60zM1298.10 2682.20h12.90v4.30h-12.90zM1311.00 2647.80h12.90v4.30h-12.90zM1302.40 2652.10h8.60v4.30h-8.60zM1323.90 2652.10h8.60v4.30h-8.60zM1302.40 2656.40h4.30v4.30h-4.30zM1328.20 2656.40h4.30v4.30h-4.30zM1298.10 2660.70h4.30v12.90h-4.30zM1332.50 2660.70h4.30v12.90h-4.30zM1302.40 2673.60h4.30v4.30h-4.30zM1328.20 2673.60h4.30v4.30h-4.30zM1302.40 2677.90h8.60v4.30h-8.60zM1323.90 2677.90h8.60v4.30h-8.60zM1311.00 2682.20h12.90v4.30h-12.90zM1323.90 2647.80h12.90v4.30h-12.90zM1315.30 2652.10h8.60v4.30h-8.60zM1336.80 2652.10h8.60v4.30h-8.60zM1315.30 2656.40h4.30v4.30h-4.30zM1341.10 2656.40h4.30v4.30h-4.30zM1311.00 2660.70h4.30v12.90h-4.30zM1345.40 2660.70h4.30v12.90h-4.30zM1315.30 2673.60h4.30v4.30h-4.30zM1341.10 2673.60h4.30v4.30h-4.30zM1315.30 2677.90h8.60v4.30h-8.60zM1336.80 2677.90h8.60v4.30h-8.60zM1323.90 2682.20h12.90v4.30h-12.90zM1336.80 2643.50h12.90v4.30h-12.90zM1328.20 2647.80h8.60v4.30h-8.60zM1349.70 2647.80h8.60v4.30h-8.60zM1328.20 2652.10h4.30v4.30h-4.30zM1354.00 2652.10h4.30v4.30h-4.30zM1323.90 2656.40h4.30v12.90h-4.30zM1358.30 2656.40h4.30v12.90h-4.30zM1328.20 2669.30h4.30v4.30h-4.30zM1354.00 2669.30h4.30v4.30h-4.30zM1328.20 2673.60h8.60v4.30h-8.60zM1349.70 2673.60h8.60v4.30h-8.60zM1336.80 2677.90h12.90v4.30h-12.90zM1349.70 2643.50h12.90v4.30h-12.90zM1341.10 2647.80h8.60v4.30h-8.60zM1362.60 2647.80h8.60v4.30h-8.60zM1341.10 2652.10h4.30v4.30h-4.30zM1366.90 2652.10h4.30v4.30h-4.30zM1336.80 2656.40h4.30v12.90h-4.30zM1371.20 2656.40h4.30v12.90h-4.30zM1341.10 2669.30h4.30v4.30h-4.30zM1366.90 2669.30h4.30v4.30h-4.30zM1341.10 2673.60h8.60v4.30h-8.60zM1362.60 2673.60h8.60v4.30h-8.60zM1349.70 2677.90h12.90v4.30h-12.90zM1362.60 2643.50h12.90v4.30h-12.90zM1354.00 2647.80h8.60v4.30h-8.60zM1375.50 2647.80h8.60v4.30h-8.60zM1354.00 2652.10h4.30v4.30h-4.30zM1379.80 2652.10h4.30v4.30h-4.30zM1349.70 2656.40h4.30v12.90h-4.30zM1384.10 2656.40h4.30v12.90h-4.30zM1354.00 2669.30h4.30v4.30h-4.30zM1379.80 2669.30h4.30v4.30h-4.30zM1354.00 2673.60h8.60v4.30h-8.60zM1375.50 2673.60h8.60v4.30h-8.60zM1362.60 2677.90h12.90v4.30h-12.90zM1375.50 2643.50h12.90v4.30h-12.90zM1366.90 2647.80h8.60v4.30h-8.60zM1388.40 2647.80h8.60v4.30h-8.60zM1366.90 2652.10h4.30v4.30h-4.30zM1392.70 2652.10h4.30v4.30h-4.30zM1362.60 2656.40h4.30v12.90h-4.30zM1397.00 2656.40h4.30v12.90h-4.30zM1366.90 2669.30h4.30v4.30h-4.30zM1392.70 2669.30h4.30v4.30h-4.30zM1366.90 2673.60h8.60v4.30h-8.60zM1388.40 2673.60h8.60v4.30h-8.60zM1375.50 2677.90h12.90v4.30h-12.90zM1384.10 2643.50h12.90v4.30h-12.90zM1375.50 2647.80h8.60v4.30h-8.60zM1397.00 2647.80h8.60v4.30h-8.60zM1375.50 2652.10h4.30v4.30h-4.30zM1401.30 2652.10h4.30v4.30h-4.30zM1371.20 2656.40h4.30v12.90h-4.30zM1405.60 2656.40h4.30v12.90h-4.30zM1375.50 2669.30h4.30v4.30h-4.30zM1401.30 2669.30h4.30v4.30h-4.30zM1375.50 2673.60h8.60v4.30h-8.60zM1397.00 2673.60h8.60v4.30h-8.60zM1384.10 2677.90h12.90v4.30h-12.90zM1397.00 2643.50h12.90v4.30h-12.90zM1388.40 2647.80h8.60v4.30h-8.60zM1409.90 2647.80h8.60v4.30h-8.60zM1388.40 2652.10h4.30v4.30h-4.30zM1414.20 2652.10h4.30v4.30h-4.30zM1384.10 2656.40h4.30v12.90h-4.30zM1418.50 2656.40h4.30v12.90h-4.30zM1388.40 2669.30h4.30v4.30h-4.30zM1414.20 2669.30h4.30v4.30h-4.30zM1388.40 2673.60h8.60v4.30h-8.60zM1409.90 2673.60h8.60v4.30h-8.60zM1397.00 2677.90h12.90v4.30h-12.90zM1409.90 2643.50h12.90v4.30h-12.90zM1401.30 2647.80h8.60v4.30h-8.60zM1422.80 2647.80h8.60v4.30h-8.60zM1401.30 2652.10h4.30v4.30h-4.30zM1427.10 2652.10h4.30v4.30h-4.30zM1397.00 2656.40h4.30v12.90h-4.30zM1431.40 2656.40h4.30v12.90h-4.30zM1401.30 2669.30h4.30v4.30h-4.30zM1427.10 2669.30h4.30v4.30h-4.30zM1401.30 2673.60h8.60v4.30h-8.60zM1422.80 2673.60h8.60v4.30h-8.60zM1409.90 2677.90h12.90v4.30h-12.90zM1422.80 2643.50h12.90v4.30h-12.90zM1414.20 2647.80h8.60v4.30h-8.60zM1435.70 2647.80h8.60v4.30h-8.60zM1414.20 2652.10h4.30v4.30h-4.30zM1440.00 2652.10h4.30v4.30h-4.30zM1409.90 2656.40h4.30v12.90h-4.30zM1444.30 2656.40h4.30v12.90h-4.30zM1414.20 2669.30h4.30v4.30h-4.30zM1440.00 2669.30h4.30v4.30h-4.30zM1414.20 2673.60h8.60v4.30h-8.60zM1435.70 2673.60h8.60v4.30h-8.60zM1422.80 2677.90h12.90v4.30h-12.90zM1435.70 2639.20h12.90v4.30h-12.90zM1427.10 2643.50h8.60v4.30h-8.60zM1448.60 2643.50h8.60v4.30h-8.60zM1427.10 2647.80h4.30v4.30h-4.30zM1452.90 2647.80h4.30v4.30h-4.30zM1422.80 2652.10h4.30v12.90h-4.30zM1457.20 2652.10h4.30v12.90h-4.30zM1427.10 2665.00h4.30v4.30h-4.30zM1452.90 2665.00h4.30v4.30h-4.30zM1427.10 2669.30h8.60v4.30h-8.60zM1448.60 2669.30h8.60v4.30h-8.60zM1435.70 2673.60h12.90v4.30h-12.90zM1448.60 2639.20h12.90v4.30h-12.90zM1440.00 2643.50h8.60v4.30h-8.60zM1461.50 2643.50h8.60v4.30h-8.60zM1440.00 2647.80h4.30v4.30h-4.30zM1465.80 2647.80h4.30v4.30h-4.30zM1435.70 2652.10h4.30v12.90h-4.30zM1470.10 2652.10h4.30v12.90h-4.30zM1440.00 2665.00h4.30v4.30h-4.30zM1465.80 2665.00h4.30v4.30h-4.30zM1440.00 2669.30h8.60v4.30h-8.60zM1461.50 2669.30h8.60v4.30h-8.60zM1448.60 2673.60h12.90v4.30h-12.90zM1461.50 2634.90h12.90v4.30h-12.90zM1452.90 2639.20h8.60v4.30h-8.60zM1474.40 2639.20h8.60v4.30h-8.60zM1452.90 2643.50h4.30v4.30h-4.30zM1478.70 2643.50h4.30v4.30h-4.30zM1448.60 2647.80h4.30v12.90h-4.30zM1483.00 2647.80h4.30v12.90h-4.30zM1452.90 2660.70h4.30v4.30h-4.30zM1478.70 2660.70h4.30v4.30h-4.30zM1452.90 2665.00h8.60v4.30h-8.60zM1474.40 2665.00h8.60v4.30h-8.60zM1461.50 2669.30h12.90v4.30h-12.90zM1474.40 2630.60h12.90v4.30h-12.90zM1465.80 2634.90h8.60v4.30h-8.60zM1487.30 2634.90h8.60v4.30h-8.60zM1465.80 2639.20h4.30v4.30h-4.30zM1491.60 2639.20h4.30v4.30h-4.30zM1461.50 2643.50h4.30v12.90h-4.30zM1495.90 2643.50h4.30v12.90h-4.30zM1465.80 2656.40h4.30v4.30h-4.30zM1491.60 2656.40h4.30v4.30h-4.30zM1465.80 2660.70h8.60v4.30h-8.60zM1487.30 2660.70h8.60v4.30h-8.60zM1474.40 2665.00h12.90v4.30h-12.90zM1487.30 2626.30h12.90v4.30h-12.90zM1478.70 2630.60h8.60v4.30h-8.60zM1500.20 2630.60h8.60v4.30h-8.60zM1478.70 2634.90h4.30v4.30h-4.30zM1504.50 2634.90h4.30v4.30h-4.30zM1474.40 2639.20h4.30v12.90h-4.30zM1508.80 2639.20h4.30v12.90h-4.30zM1478.70 2652.10h4.30v4.30h-4.30zM1504.50 2652.10h4.30v4.30h-4.30zM1478.70 2656.40h8.60v4.30h-8.60zM1500.20 2656.40h8.60v4.30h-8.60zM1487.30 2660.70h12.90v4.30h-12.90zM1500.20 2622.00h12.90v4.30h-12.90zM1491.60 2626.30h8.60v4.30h-8.60zM1513.10 2626.30h8.60v4.30h-8.60zM1491.60 2630.60h4.30v4.30h-4.30zM1517.40 2630.60h4.30v4.30h-4.30zM1487.30 2634.90h4.30v12.90h-4.30zM1521.70 2634.90h4.30v12.90h-4.30zM1491.60 2647.80h4.30v4.30h-4.30zM1517.40 2647.80h4.30v4.30h-4.30zM1491.60 2652.10h8.60v4.30h-8.60zM1513.10 2652.10h8.60v4.30h-8.60zM1500.20 2656.40h12.90v4.30h-12.90zM1513.10 2622.00h12.90v4.30h-12.90zM1504.50 2626.30h8.60v4.30h-8.60zM1526.00 2626.30h8.60v4.30h-8.60zM1504.50 2630.60h4.30v4.30h-4.30zM1530.30 2630.60h4.30v4.30h-4.30zM1500.20 2634.90h4.30v12.90h-4.30zM1534.60 2634.90h4.30v12.90h-4.30zM1504.50 2647.80h4.30v4.30h-4.30zM1530.30 2647.80h4.30v4.30h-4.30zM1504.50 2652.10h8.60v4.30h-8.60zM1526.00 2652.10h8.60v4.30h-8.60zM1513.10 2656.40h12.90v4.30h-12.90zM1526.00 2622.00h12.90v4.30h-12.90zM1517.40 2626.30h8.60v4.30h-8.60zM1538.90 2626.30h8.60v4.30h-8.60zM1517.40 2630.60h4.30v4.30h-4.30zM1543.20 2630.60h4.30v4.30h-4.30zM1513.10 2634.90h4.30v12.90h-4.30zM1547.50 2634.90h4.30v12.90h-4.30zM1517.40 2647.80h4.30v4.30h-4.30zM1543.20 2647.80h4.30v4.30h-4.30zM1517.40 2652.10h8.60v4.30h-8.60zM1538.90 2652.10h8.60v4.30h-8.60zM1526.00 2656.40h12.90v4.30h-12.90zM1534.60 2622.00h12.90v4.30h-12.90zM1526.00 2626.30h8.60v4.30h-8.60zM1547.50 2626.30h8.60v4.30h-8.60zM1526.00 2630.60h4.30v4.30h-4.30zM1551.80 2630.60h4.30v4.30h-4.30zM1521.70 2634.90h4.30v12.90h-4.30zM1556.10 2634.90h4.30v12.90h-4.30zM1526.00 2647.80h4.30v4.30h-4.30zM1551.80 2647.80h4.30v4.30h-4.30zM1526.00 2652.10h8.60v4.30h-8.60zM1547.50 2652.10h8.60v4.30h-8.60zM1534.60 2656.40h12.90v4.30h-12.90zM1547.50 2622.00h12.90v4.30h-12.90zM1538.90 2626.30h8.60v4.30h-8.60zM1560.40 2626.30h8.60v4.30h-8.60zM1538.90 2630.60h4.30v4.30h-4.30zM1564.70 2630.60h4.30v4.30h-4.30zM1534.60 2634.90h4.30v12.90h-4.30zM1569.00 2634.90h4.30v12.90h-4.30zM1538.90 2647.80h4.30v4.30h-4.30zM1564.70 2647.80h4.30v4.30h-4.30zM1538.90 2652.10h8.60v4.30h-8.60zM1560.40 2652.10h8.60v4.30h-8.60zM1547.50 2656.40h12.90v4.30h-12.90zM1560.40 2622.00h12.90v4.30h-12.90zM1551.80 2626.30h8.60v4.30h-8.60zM1573.30 2626.30h8.60v4.30h-8.60zM1551.80 2630.60h4.30v4.30h-4.30zM1577.60 2630.60h4.30v4.30h-4.30zM1547.50 2634.90h4.30v12.90h-4.30zM1581.90 2634.90h4.30v12.90h-4.30zM1551.80 2647.80h4.30v4.30h-4.30zM1577.60 2647.80h4.30v4.30h-4.30zM1551.80 2652.10h8.60v4.30h-8.60zM1573.30 2652.10h8.60v4.30h-8.60zM1560.40 2656.40h12.90v4.30h-12.90zM1573.30 2622.00h12.90v4.30h-12.90zM1564.70 2626.30h8.60v4.30h-8.60zM1586.20 2626.30h8.60v4.30h-8.60zM1564.70 2630.60h4.30v4.30h-4.30zM1590.50 2630.60h4.30v4.30h-4.30zM1560.40 2634.90h4.30v12.90h-4.30zM1594.80 2634.90h4.30v12.90h-4.30zM1564.70 2647.80h4.30v4.30h-4.30zM1590.50 2647.80h4.30v4.30h-4.30zM1564.70 2652.10h8.60v4.30h-8.60zM1586.20 2652.10h8.60v4.30h-8.60zM1573.30 2656.40h12.90v4.30h-12.90zM1586.20 2622.00h12.90v4.30h-12.90zM1577.60 2626.30h8.60v4.30h-8.60zM1599.10 2626.30h8.60v4.30h-8.60zM1577.60 2630.60h4.30v4.30h-4.30zM1603.40 2630.60h4.30v4.30h-4.30zM1573.30 2634.90h4.30v12.90h-4.30zM1607.70 2634.90h4.30v12.90h-4.30zM1577.60 2647.80h4.30v4.30h-4.30zM1603.40 2647.80h4.30v4.30h-4.30zM1577.60 2652.10h8.60v4.30h-8.60zM1599.10 2652.10h8.60v4.30h-8.60zM1586.20 2656.40h12.90v4.30h-12.90zM1599.10 2622.00h12.90v4.30h-12.90zM1590.50 2626.30h8.60v4.30h-8.60zM1612.00 2626.30h8.60v4.30h-8.60zM1590.50 2630.60h4.30v4.30h-4.30zM1616.30 2630.60h4.30v4.30h-4.30zM1586.20 2634.90h4.30v12.90h-4.30zM1620.60 2634.90h4.30v12.90h-4.30zM1590.50 2647.80h4.30v4.30h-4.30zM1616.30 2647.80h4.30v4.30h-4.30zM1590.50 2652.10h8.60v4.30h-8.60zM1612.00 2652.10h8.60v4.30h-8.60zM1599.10 2656.40h12.90v4.30h-12.90zM1612.00 2622.00h12.90v4.30h-12.90zM1603.40 2626.30h8.60v4.30h-8.60zM1624.90 2626.30h8.60v4.30h-8.60zM1603.40 2630.60h4.30v4.30h-4.30zM1629.20 2630.60h4.30v4.30h-4.30zM1599.10 2634.90h4.30v12.90h-4.30zM1633.50 2634.90h4.30v12.90h-4.30zM1603.40 2647.80h4.30v4.30h-4.30zM1629.20 2647.80h4.30v4.30h-4.30zM1603.40 2652.10h8.60v4.30h-8.60zM1624.90 2652.10h8.60v4.30h-8.60zM1612.00 2656.40h12.90v4.30h-12.90zM1624.90 2622.00h12.90v4.30h-12.90zM1616.30 2626.30h8.60v4.30h-8.60zM1637.80 2626.30h8.60v4.30h-8.60zM1616.30 2630.60h4.30v4.30h-4.30zM1642.10 2630.60h4.30v4.30h-4.30zM1612.00 2634.90h4.30v12.90h-4.30zM1646.40 2634.90h4.30v12.90h-4.30zM1616.30 2647.80h4.30v4.30h-4.30zM1642.10 2647.80h4.30v4.30h-4.30zM1616.30 2652.10h8.60v4.30h-8.60zM1637.80 2652.10h8.60v4.30h-8.60zM1624.90 2656.40h12.90v4.30h-12.90zM1637.80 2622.00h12.90v4.30h-12.90zM1629.20 2626.30h8.60v4.30h-8.60zM1650.70 2626.30h8.60v4.30h-8.60zM1629.20 2630.60h4.30v4.30h-4.30zM1655.00 2630.60h4.30v4.30h-4.30zM1624.90 2634.90h4.30v12.90h-4.30zM1659.30 2634.90h4.30v12.90h-4.30zM1629.20 2647.80h4.30v4.30h-4.30zM1655.00 2647.80h4.30v4.30h-4.30zM1629.20 2652.10h8.60v4.30h-8.60zM1650.70 2652.10h8.60v4.30h-8.60zM1637.80 2656.40h12.90v4.30h-12.90zM1650.70 2626.30h12.90v4.30h-12.90zM1642.10 2630.60h8.60v4.30h-8.60zM1663.60 2630.60h8.60v4.30h-8.60zM1642.10 2634.90h4.30v4.30h-4.30zM1667.90 2634.90h4.30v4.30h-4.30zM1637.80 2639.20h4.30v12.90h-4.30zM1672.20 2639.20h4.30v12.90h-4.30zM1642.10 2652.10h4.30v4.30h-4.30zM1667.90 2652.10h4.30v4.30h-4.30zM1642.10 2656.40h8.60v4.30h-8.60zM1663.60 2656.40h8.60v4.30h-8.60zM1650.70 2660.70h12.90v4.30h-12.90zM1663.60 2626.30h12.90v4.30h-12.90zM1655.00 2630.60h8.60v4.30h-8.60zM1676.50 2630.60h8.60v4.30h-8.60zM1655.00 2634.90h4.30v4.30h-4.30zM1680.80 2634.90h4.30v4.30h-4.30zM1650.70 2639.20h4.30v12.90h-4.30zM1685.10 2639.20h4.30v12.90h-4.30zM1655.00 2652.10h4.30v4.30h-4.30zM1680.80 2652.10h4.30v4.30h-4.30zM1655.00 2656.40h8.60v4.30h-8.60zM1676.50 2656.40h8.60v4.30h-8.60zM1663.60 2660.70h12.90v4.30h-12.90zM1676.50 2626.30h12.90v4.30h-12.90zM1667.90 2630.60h8.60v4.30h-8.60zM1689.40 2630.60h8.60v4.30h-8.60zM1667.90 2634.90h4.30v4.30h-4.30zM1693.70 2634.90h4.30v4.30h-4.30zM1663.60 2639.20h4.30v12.90h-4.30zM1698.00 2639.20h4.30v12.90h-4.30zM1667.90 2652.10h4.30v4.30h-4.30zM1693.70 2652.10h4.30v4.30h-4.30zM1667.90 2656.40h8.60v4.30h-8.60zM1689.40 2656.40h8.60v4.30h-8.60zM1676.50 2660.70h12.90v4.30h-12.90zM1685.10 2630.60h12.90v4.30h-12.90zM1676.50 2634.90h8.60v4.30h-8.60zM1698.00 2634.90h8.60v4.30h-8.60zM1676.50 2639.20h4.30v4.30h-4.30zM1702.30 2639.20h4.30v4.30h-4.30zM1672.20 2643.50h4.30v12.90h-4.30zM1706.60 2643.50h4.30v12.90h-4.30zM1676.50 2656.40h4.30v4.30h-4.30zM1702.30 2656.40h4.30v4.30h-4.30zM1676.50 2660.70h8.60v4.30h-8.60zM1698.00 2660.70h8.60v4.30h-8.60zM1685.10 2665.00h12.90v4.30h-12.90zM1698.00 2630.60h12.90v4.30h-12.90zM1689.40 2634.90h8.60v4.30h-8.60zM1710.90 2634.90h8.60v4.30h-8.60zM1689.40 2639.20h4.30v4.30h-4.30zM1715.20 2639.20h4.30v4.30h-4.30zM1685.10 2643.50h4.30v12.90h-4.30zM1719.50 2643.50h4.30v12.90h-4.30zM1689.40 2656.40h4.30v4.30h-4.30zM1715.20 2656.40h4.30v4.30h-4.30zM1689.40 2660.70h8.60v4.30h-8.60zM1710.90 2660.70h8.60v4.30h-8.60zM1698.00 2665.00h12.90v4.30h-12.90zM1710.90 2630.60h12.90v4.30h-12.90zM1702.30 2634.90h8.60v4.30h-8.60zM1723.80 2634.90h8.60v4.30h-8.60zM1702.30 2639.20h4.30v4.30h-4.30zM1728.10 2639.20h4.30v4.30h-4.30zM1698.00 2643.50h4.30v12.90h-4.30zM1732.40 2643.50h4.30v12.90h-4.30zM1702.30 2656.40h4.30v4.30h-4.30zM1728.10 2656.40h4.30v4.30h-4.30zM1702.30 2660.70h8.60v4.30h-8.60zM1723.80 2660.70h8.60v4.30h-8.60zM1710.90 2665.00h12.90v4.30h-12.90zM1723.80 2630.60h12.90v4.30h-12.90zM1715.20 2634.90h8.60v4.30h-8.60zM1736.70 2634.90h8.60v4.30h-8.60zM1715.20 2639.20h4.30v4.30h-4.30zM1741.00 2639.20h4.30v4.30h-4.30zM1710.90 2643.50h4.30v12.90h-4.30zM1745.30 2643.50h4.30v12.90h-4.30zM1715.20 2656.40h4.30v4.30h-4.30zM1741.00 2656.40h4.30v4.30h-4.30zM1715.20 2660.70h8.60v4.30h-8.60zM1736.70 2660.70h8.60v4.30h-8.60zM1723.80 2665.00h12.90v4.30h-12.90zM1736.70 2634.90h12.90v4.30h-12.90zM1728.10 2639.20h8.60v4.30h-8.60zM1749.60 2639.20h8.60v4.30h-8.60zM1728.10 2643.50h4.30v4.30h-4.30zM1753.90 2643.50h4.30v4.30h-4.30zM1723.80 2647.80h4.30v12.90h-4.30zM1758.20 2647.80h4.30v12.90h-4.30zM1728.10 2660.70h4.30v4.30h-4.30zM1753.90 2660.70h4.30v4.30h-4.30zM1728.10 2665.00h8.60v4.30h-8.60zM1749.60 2665.00h8.60v4.30h-8.60zM1736.70 2669.30h12.90v4.30h-12.90zM1749.60 2634.90h12.90v4.30h-12.90zM1741.00 2639.20h8.60v4.30h-8.60zM1762.50 2639.20h8.60v4.30h-8.60zM1741.00 2643.50h4.30v4.30h-4.30zM1766.80 2643.50h4.30v4.30h-4.30zM1736.70 2647.80h4.30v12.90h-4.30zM1771.10 2647.80h4.30v12.90h-4.30zM1741.00 2660.70h4.30v4.30h-4.30zM1766.80 2660.70h4.30v4.30h-4.30zM1741.00 2665.00h8.60v4.30h-8.60zM1762.50 2665.00h8.60v4.30h-8.60zM1749.60 2669.30h12.90v4.30h-12.90zM1762.50 2639.20h12.90v4.30h-12.90zM1753.90 2643.50h8.60v4.30h-8.60zM1775.40 2643.50h8.60v4.30h-8.60zM1753.90 2647.80h4.30v4.30h-4.30zM1779.70 2647.80h4.30v4.30h-4.30zM1749.60 2652.10h4.30v12.90h-4.30zM1784.00 2652.10h4.30v12.90h-4.30zM1753.90 2665.00h4.30v4.30h-4.30zM1779.70 2665.00h4.30v4.30h-4.30zM1753.90 2669.30h8.60v4.30h-8.60zM1775.40 2669.30h8.60v4.30h-8.60zM1762.50 2673.60h12.90v4.30h-12.90zM1775.40 2639.20h12.90v4.30h-12.90zM1766.80 2643.50h8.60v4.30h-8.60zM1788.30 2643.50h8.60v4.30h-8.60zM1766.80 2647.80h4.30v4.30h-4.30zM1792.60 2647.80h4.30v4.30h-4.30zM1762.50 2652.10h4.30v12.90h-4.30zM1796.90 2652.10h4.30v12.90h-4.30zM1766.80 2665.00h4.30v4.30h-4.30zM1792.60 2665.00h4.30v4.30h-4.30zM1766.80 2669.30h8.60v4.30h-8.60zM1788.30 2669.30h8.60v4.30h-8.60zM1775.40 2673.60h12.90v4.30h-12.90zM1788.30 2639.20h12.90v4.30h-12.90zM1779.70 2643.50h8.60v4.30h-8.60zM1801.20 2643.50h8.60v4.30h-8.60zM1779.70 2647.80h4.30v4.30h-4.30zM1805.50 2647.80h4.30v4.30h-4.30zM1775.40 2652.10h4.30v12.90h-4.30zM1809.80 2652.10h4.30v12.90h-4.30zM1779.70 2665.00h4.30v4.30h-4.30zM1805.50 2665.00h4.30v4.30h-4.30zM1779.70 2669.30h8.60v4.30h-8.60zM1801.20 2669.30h8.60v4.30h-8.60zM1788.30 2673.60h12.90v4.30h-12.90zM1801.20 2639.20h12.90v4.30h-12.90zM1792.60 2643.50h8.60v4.30h-8.60zM1814.10 2643.50h8.60v4.30h-8.60zM1792.60 2647.80h4.30v4.30h-4.30zM1818.40 2647.80h4.30v4.30h-4.30zM1788.30 2652.10h4.30v12.90h-4.30zM1822.70 2652.10h4.30v12.90h-4.30zM1792.60 2665.00h4.30v4.30h-4.30zM1818.40 2665.00h4.30v4.30h-4.30zM1792.60 2669.30h8.60v4.30h-8.60zM1814.10 2669.30h8.60v4.30h-8.60zM1801.20 2673.60h12.90v4.30h-12.90zM1814.10 2643.50h12.90v4.30h-12.90zM1805.50 2647.80h8.60v4.30h-8.60zM1827.00 2647.80h8.60v4.30h-8.60zM1805.50 2652.10h4.30v4.30h-4.30zM1831.30 2652.10h4.30v4.30h-4.30zM1801.20 2656.40h4.30v12.90h-4.30zM1835.60 2656.40h4.30v12.90h-4.30zM1805.50 2669.30h4.30v4.30h-4.30zM1831.30 2669.30h4.30v4.30h-4.30zM1805.50 2673.60h8.60v4.30h-8.60zM1827.00 2673.60h8.60v4.30h-8.60zM1814.10 2677.90h12.90v4.30h-12.90zM1827.00 2643.50h12.90v4.30h-12.90zM1818.40 2647.80h8.60v4.30h-8.60zM1839.90 2647.80h8.60v4.30h-8.60zM1818.40 2652.10h4.30v4.30h-4.30zM1844.20 2652.10h4.30v4.30h-4.30zM1814.10 2656.40h4.30v12.90h-4.30zM1848.50 2656.40h4.30v12.90h-4.30zM1818.40 2669.30h4.30v4.30h-4.30zM1844.20 2669.30h4.30v4.30h-4.30zM1818.40 2673.60h8.60v4.30h-8.60zM1839.90 2673.60h8.60v4.30h-8.60zM1827.00 2677.90h12.90v4.30h-12.90zM1835.60 2643.50h12.90v4.30h-12.90zM1827.00 2647.80h8.60v4.30h-8.60zM1848.50 2647.80h8.60v4.30h-8.60zM1827.00 2652.10h4.30v4.30h-4.30zM1852.80 2652.10h4.30v4.30h-4.30zM1822.70 2656.40h4.30v12.90h-4.30zM1857.10 2656.40h4.30v12.90h-4.30zM1827.00 2669.30h4.30v4.30h-4.30zM1852.80 2669.30h4.30v4.30h-4.30zM1827.00 2673.60h8.60v4.30h-8.60zM1848.50 2673.60h8.60v4.30h-8.60zM1835.60 2677.90h12.90v4.30h-12.90zM1848.50 2647.80h12.90v4.30h-12.90zM1839.90 2652.10h8.60v4.30h-8.60zM1861.40 2652.10h8.60v4.30h-8.60zM1839.90 2656.40h4.30v4.30h-4.30zM1865.70 2656.40h4.30v4.30h-4.30zM1835.60 2660.70h4.30v12.90h-4.30zM1870.00 2660.70h4.30v12.90h-4.30zM1839.90 2673.60h4.30v4.30h-4.30zM1865.70 2673.60h4.30v4.30h-4.30zM1839.90 2677.90h8.60v4.30h-8.60zM1861.40 2677.90h8.60v4.30h-8.60zM1848.50 2682.20h12.90v4.30h-12.90zM1861.40 2647.80h12.90v4.30h-12.90zM1852.80 2652.10h8.60v4.30h-8.60zM1874.30 2652.10h8.60v4.30h-8.60zM1852.80 2656.40h4.30v4.30h-4.30zM1878.60 2656.40h4.30v4.30h-4.30zM1848.50 2660.70h4.30v12.90h-4.30zM1882.90 2660.70h4.30v12.90h-4.30zM1852.80 2673.60h4.30v4.30h-4.30zM1878.60 2673.60h4.30v4.30h-4.30zM1852.80 2677.90h8.60v4.30h-8.60zM1874.30 2677.90h8.60v4.30h-8.60zM1861.40 2682.20h12.90v4.30h-12.90zM1874.30 2647.80h12.90v4.30h-12.90zM1865.70 2652.10h8.60v4.30h-8.60zM1887.20 2652.10h8.60v4.30h-8.60zM1865.70 2656.40h4.30v4.30h-4.30zM1891.50 2656.40h4.30v4.30h-4.30zM1861.40 2660.70h4.30v12.90h-4.30zM1895.80 2660.70h4.30v12.90h-4.30zM1865.70 2673.60h4.30v4.30h-4.30zM1891.50 2673.60h4.30v4.30h-4.30zM1865.70 2677.90h8.60v4.30h-8.60zM1887.20 2677.90h8.60v4.30h-8.60zM1874.30 2682.20h12.90v4.30h-12.90zM1887.20 2652.10h12.90v4.30h-12.90zM1878.60 2656.40h8.60v4.30h-8.60zM1900.10 2656.40h8.60v4.30h-8.60zM1878.60 2660.70h4.30v4.30h-4.30zM1904.40 2660.70h4.30v4.30h-4.30zM1874.30 2665.00h4.30v12.90h-4.30zM1908.70 2665.00h4.30v12.90h-4.30zM1878.60 2677.90h4.30v4.30h-4.30zM1904.40 2677.90h4.30v4.30h-4.30zM1878.60 2682.20h8.60v4.30h-8.60zM1900.10 2682.20h8.60v4.30h-8.60zM1887.20 2686.50h12.90v4.30h-12.90zM1900.10 2652.10h12.90v4.30h-12.90zM1891.50 2656.40h8.60v4.30h-8.60zM1913.00 2656.40h8.60v4.30h-8.60zM1891.50 2660.70h4.30v4.30h-4.30zM1917.30 2660.70h4.30v4.30h-4.30zM1887.20 2665.00h4.30v12.90h-4.30zM1921.60 2665.00h4.30v12.90h-4.30zM1891.50 2677.90h4.30v4.30h-4.30zM1917.30 2677.90h4.30v4.30h-4.30zM1891.50 2682.20h8.60v4.30h-8.60zM1913.00 2682.20h8.60v4.30h-8.60zM1900.10 2686.50h12.90v4.30h-12.90zM1913.00 2652.10h12.90v4.30h-12.90zM1904.40 2656.40h8.60v4.30h-8.60zM1925.90 2656.40h8.60v4.30h-8.60zM1904.40 2660.70h4.30v4.30h-4.30zM1930.20 2660.70h4.30v4.30h-4.30zM1900.10 2665.00h4.30v12.90h-4.30zM1934.50 2665.00h4.30v12.90h-4.30zM1904.40 2677.90h4.30v4.30h-4.30zM1930.20 2677.90h4.30v4.30h-4.30zM1904.40 2682.20h8.60v4.30h-8.60zM1925.90 2682.20h8.60v4.30h-8.60zM1913.00 2686.50h12.90v4.30h-12.90zM1925.90 2652.10h12.90v4.30h-12.90zM1917.30 2656.40h8.60v4.30h-8.60zM1938.80 2656.40h8.60v4.30h-8.60zM1917.30 2660.70h4.30v4.30h-4.30zM1943.10 2660.70h4.30v4.30h-4.30zM1913.00 2665.00h4.30v12.90h-4.30zM1947.40 2665.00h4.30v12.90h-4.30zM1917.30 2677.90h4.30v4.30h-4.30zM1943.10 2677.90h4.30v4.30h-4.30zM1917.30 2682.20h8.60v4.30h-8.60zM1938.80 2682.20h8.60v4.30h-8.60zM1925.90 2686.50h12.90v4.30h-12.90zM1938.80 2647.80h12.90v4.30h-12.90zM1930.20 2652.10h8.60v4.30h-8.60zM1951.70 2652.10h8.60v4.30h-8.60zM1930.20 2656.40h4.30v4.30h-4.30zM1956.00 2656.40h4.30v4.30h-4.30zM1925.90 2660.70h4.30v12.90h-4.30zM1960.30 2660.70h4.30v12.90h-4.30zM1930.20 2673.60h4.30v4.30h-4.30zM1956.00 2673.60h4.30v4.30h-4.30zM1930.20 2677.90h8.60v4.30h-8.60zM1951.70 2677.90h8.60v4.30h-8.60zM1938.80 2682.20h12.90v4.30h-12.90zM1951.70 2647.80h12.90v4.30h-12.90zM1943.10 2652.10h8.60v4.30h-8.60zM1964.60 2652.10h8.60v4.30h-8.60zM1943.10 2656.40h4.30v4.30h-4.30zM1968.90 2656.40h4.30v4.30h-4.30zM1938.80 2660.70h4.30v12.90h-4.30zM1973.20 2660.70h4.30v12.90h-4.30zM1943.10 2673.60h4.30v4.30h-4.30zM1968.90 2673.60h4.30v4.30h-4.30zM1943.10 2677.90h8.60v4.30h-8.60zM1964.60 2677.90h8.60v4.30h-8.60zM1951.70 2682.20h12.90v4.30h-12.90zM1964.60 2652.10h12.90v4.30h-12.90zM1956.00 2656.40h8.60v4.30h-8.60zM1977.50 2656.40h8.60v4.30h-8.60zM1956.00 2660.70h4.30v4.30h-4.30zM1981.80 2660.70h4.30v4.30h-4.30zM1951.70 2665.00h4.30v12.90h-4.30zM1986.10 2665.00h4.30v12.90h-4.30zM1956.00 2677.90h4.30v4.30h-4.30zM1981.80 2677.90h4.30v4.30h-4.30zM1956.00 2682.20h8.60v4.30h-8.60zM1977.50 2682.20h8.60v4.30h-8.60zM1964.60 2686.50h12.90v4.30h-12.90zM1977.50 2652.10h12.90v4.30h-12.90zM1968.90 2656.40h8.60v4.30h-8.60zM1990.40 2656.40h8.60v4.30h-8.60zM1968.90 2660.70h4.30v4.30h-4.30zM1994.70 2660.70h4.30v4.30h-4.30zM1964.60 2665.00h4.30v12.90h-4.30zM1999.00 2665.00h4.30v12.90h-4.30zM1968.90 2677.90h4.30v4.30h-4.30zM1994.70 2677.90h4.30v4.30h-4.30zM1968.90 2682.20h8.60v4.30h-8.60zM1990.40 2682.20h8.60v4.30h-8.60zM1977.50 2686.50h12.90v4.30h-12.90zM1990.40 2652.10h12.90v4.30h-12.90zM1981.80 2656.40h8.60v4.30h-8.60zM2003.30 2656.40h8.60v4.30h-8.60zM1981.80 2660.70h4.30v4.30h-4.30zM2007.60 2660.70h4.30v4.30h-4.30zM1977.50 2665.00h4.30v12.90h-4.30zM2011.90 2665.00h4.30v12.90h-4.30zM1981.80 2677.90h4.30v4.30h-4.30zM2007.60 2677.90h4.30v4.30h-4.30zM1981.80 2682.20h8.60v4.30h-8.60zM2003.30 2682.20h8.60v4.30h-8.60zM1990.40 2686.50h12.90v4.30h-12.90zM1999.00 2652.10h12.90v4.30h-12.90zM1990.40 2656.40h8.60v4.30h-8.60zM2011.90 2656.40h8.60v4.30h-8.60zM1990.40 2660.70h4.30v4.30h-4.30zM2016.20 2660.70h4.30v4.30h-4.30zM1986.10 2665.00h4.30v12.90h-4.30zM2020.50 2665.00h4.30v12.90h-4.30zM1990.40 2677.90h4.30v4.30h-4.30zM2016.20 2677.90h4.30v4.30h-4.30zM1990.40 2682.20h8.60v4.30h-8.60zM2011.90 2682.20h8.60v4.30h-8.60zM1999.00 2686.50h12.90v4.30h-12.90zM2011.90 2652.10h12.90v4.30h-12.90zM2003.30 2656.40h8.60v4.30h-8.60zM2024.80 2656.40h8.60v4.30h-8.60zM2003.30 2660.70h4.30v4.30h-4.30zM2029.10 2660.70h4.30v4.30h-4.30zM1999.00 2665.00h4.30v12.90h-4.30zM2033.40 2665.00h4.30v12.90h-4.30zM2003.30 2677.90h4.30v4.30h-4.30zM2029.10 2677.90h4.30v4.30h-4.30zM2003.30 2682.20h8.60v4.30h-8.60zM2024.80 2682.20h8.60v4.30h-8.60zM2011.90 2686.50h12.90v4.30h-12.90zM2024.80 2656.40h12.90v4.30h-12.90zM2016.20 2660.70h8.60v4.30h-8.60zM2037.70 2660.70h8.60v4.30h-8.60zM2016.20 2665.00h4.30v4.30h-4.30zM2042.00 2665.00h4.30v4.30h-4.30zM2011.90 2669.30h4.30v12.90h-4.30zM2046.30 2669.30h4.30v12.90h-4.30zM2016.20 2682.20h4.30v4.30h-4.30zM2042.00 2682.20h4.30v4.30h-4.30zM2016.20 2686.50h8.60v4.30h-8.60zM2037.70 2686.50h8.60v4.30h-8.60zM2024.80 2690.80h12.90v4.30h-12.90zM2037.70 2656.40h12.90v4.30h-12.90zM2029.10 2660.70h8.60v4.30h-8.60zM2050.60 2660.70h8.60v4.30h-8.60zM2029.10 2665.00h4.30v4.30h-4.30zM2054.90 2665.00h4.30v4.30h-4.30zM2024.80 2669.30h4.30v12.90h-4.30zM2059.20 2669.30h4.30v12.90h-4.30zM2029.10 2682.20h4.30v4.30h-4.30zM2054.90 2682.20h4.30v4.30h-4.30zM2029.10 2686.50h8.60v4.30h-8.60zM2050.60 2686.50h8.60v4.30h-8.60zM2037.70 2690.80h12.90v4.30h-12.90zM2050.60 2652.10h12.90v4.30h-12.90zM2042.00 2656.40h8.60v4.30h-8.60zM2063.50 2656.40h8.60v4.30h-8.60zM2042.00 2660.70h4.30v4.30h-4.30zM2067.80 2660.70h4.30v4.30h-4.30zM2037.70 2665.00h4.30v12.90h-4.30zM2072.10 2665.00h4.30v12.90h-4.30zM2042.00 2677.90h4.30v4.30h-4.30zM2067.80 2677.90h4.30v4.30h-4.30zM2042.00 2682.20h8.60v4.30h-8.60zM2063.50 2682.20h8.60v4.30h-8.60zM2050.60 2686.50h12.90v4.30h-12.90zM2063.50 2652.10h12.90v4.30h-12.90zM2054.90 2656.40h8.60v4.30h-8.60zM2076.40 2656.40h8.60v4.30h-8.60zM2054.90 2660.70h4.30v4.30h-4.30zM2080.70 2660.70h4.30v4.30h-4.30zM2050.60 2665.00h4.30v12.90h-4.30zM2085.00 2665.00h4.30v12.90h-4.30zM2054.90 2677.90h4.30v4.30h-4.30zM2080.70 2677.90h4.30v4.30h-4.30zM2054.90 2682.20h8.60v4.30h-8.60zM2076.40 2682.20h8.60v4.30h-8.60zM2063.50 2686.50h12.90v4.30h-12.90zM2076.40 2652.10h12.90v4.30h-12.90zM2067.80 2656.40h8.60v4.30h-8.60zM2089.30 2656.40h8.60v4.30h-8.60zM2067.80 2660.70h4.30v4.30h-4.30zM2093.60 2660.70h4.30v4.30h-4.30zM2063.50 2665.00h4.30v12.90h-4.30zM2097.90 2665.00h4.30v12.90h-4.30zM2067.80 2677.90h4.30v4.30h-4.30zM2093.60 2677.90h4.30v4.30h-4.30zM2067.80 2682.20h8.60v4.30h-8.60zM2089.30 2682.20h8.60v4.30h-8.60zM2076.40 2686.50h12.90v4.30h-12.90zM2089.30 2652.10h12.90v4.30h-12.90zM2080.70 2656.40h8.60v4.30h-8.60zM2102.20 2656.40h8.60v4.30h-8.60zM2080.70 2660.70h4.30v4.30h-4.30zM2106.50 2660.70h4.30v4.30h-4.30zM2076.40 2665.00h4.30v12.90h-4.30zM2110.80 2665.00h4.30v12.90h-4.30zM2080.70 2677.90h4.30v4.30h-4.30zM2106.50 2677.90h4.30v4.30h-4.30zM2080.70 2682.20h8.60v4.30h-8.60zM2102.20 2682.20h8.60v4.30h-8.60zM2089.30 2686.50h12.90v4.30h-12.90zM2102.20 2652.10h12.90v4.30h-12.90zM2093.60 2656.40h8.60v4.30h-8.60zM2115.10 2656.40h8.60v4.30h-8.60zM2093.60 2660.70h4.30v4.30h-4.30zM2119.40 2660.70h4.30v4.30h-4.30zM2089.30 2665.00h4.30v12.90h-4.30zM2123.70 2665.00h4.30v12.90h-4.30zM2093.60 2677.90h4.30v4.30h-4.30zM2119.40 2677.90h4.30v4.30h-4.30zM2093.60 2682.20h8.60v4.30h-8.60zM2115.10 2682.20h8.60v4.30h-8.60zM2102.20 2686.50h12.90v4.30h-12.90zM2115.10 2652.10h12.90v4.30h-12.90zM2106.50 2656.40h8.60v4.30h-8.60zM2128.00 2656.40h8.60v4.30h-8.60zM2106.50 2660.70h4.30v4.30h-4.30zM2132.30 2660.70h4.30v4.30h-4.30zM2102.20 2665.00h4.30v12.90h-4.30zM2136.60 2665.00h4.30v12.90h-4.30zM2106.50 2677.90h4.30v4.30h-4.30zM2132.30 2677.90h4.30v4.30h-4.30zM2106.50 2682.20h8.60v4.30h-8.60zM2128.00 2682.20h8.60v4.30h-8.60zM2115.10 2686.50h12.90v4.30h-12.90zM2128.00 2652.10h12.90v4.30h-12.90zM2119.40 2656.40h8.60v4.30h-8.60zM2140.90 2656.40h8.60v4.30h-8.60zM2119.40 2660.70h4.30v4.30h-4.30zM2145.20 2660.70h4.30v4.30h-4.30zM2115.10 2665.00h4.30v12.90h-4.30zM2149.50 2665.00h4.30v12.90h-4.30zM2119.40 2677.90h4.30v4.30h-4.30zM2145.20 2677.90h4.30v4.30h-4.30zM2119.40 2682.20h8.60v4.30h-8.60zM2140.90 2682.20h8.60v4.30h-8.60zM2128.00 2686.50h12.90v4.30h-12.90z" fill="#00ff00" shape-rendering="crispEdges"/>
<rect x="1527.2" y="1992.4" width="579.9" height="256.4" fill="#fff" stroke="#000" stroke-width="4.4"/>
<line x1="1559.6" y1="2039.4" x2="1732.7" y2="2039.4" stroke="#ff0000" stroke-width="4.4"/>
<path d="M1646.15 2020.05h4.30v38.70h-4.30zM1628.95 2037.25h38.70v4.30h-38.70zM1641.85 2032.95h12.90v12.90h-12.90zM1637.55 2028.65h4.30v4.30h-4.30zM1654.75 2028.65h4.30v4.30h-4.30zM1637.55 2045.85h4.30v4.30h-4.30zM1654.75 2045.85h4.30v4.30h-4.30z" fill="#ff0000" shape-rendering="crispEdges"/>
<line x1="1559.6" y1="2120.4" x2="1732.7" y2="2120.4" stroke="#0000ff" stroke-width="4.4"/>
<path d="M1633.25 2096.75h4.30v47.30h-4.30zM1637.55 2101.05h8.60v4.30h-8.60zM1646.15 2105.35h8.60v4.30h-8.60zM1654.75 2109.65h4.30v4.30h-4.30zM1659.05 2113.95h8.60v12.90h-8.60zM1650.45 2126.85h8.60v4.30h-8.60zM1646.15 2131.15h4.30v4.30h-4.30zM1637.55 2135.45h8.60v4.30h-8.60z" fill="#0000ff" shape-rendering="crispEdges"/>
<line x1="1559.6" y1="2197.7" x2="1732.7" y2="2197.7" stroke="#00ff00" stroke-width="4.4"/>
<path d="M1641.85 2178.35h12.90v4.30h-12.90zM1633.25 2182.65h8.60v4.30h-8.60zM1654.75 2182.65h8.60v4.30h-8.60zM1633.25 2186.95h4.30v4.30h-4.30zM1659.05 2186.95h4.30v4.30h-4.30zM1628.95 2191.25h4.30v12.90h-4.30zM1663.35 2191.25h4.30v12.90h-4.30zM1633.25 2204.15h4.30v4.30h-4.30zM1659.05 2204.15h4.30v4.30h-4.30zM1633.25 2208.45h8.60v4.30h-8.60zM1654.75 2208.45h8.60v4.30h-8.60zM1641.85 2212.75h12.90v4.30h-12.90z" fill="#00ff00" shape-rendering="crispEdges"/>
<text x="1748.5" y="2062.5" text-anchor="start" textLength="275.0" lengthAdjust="spacingAndGlyphs" font-size="61">range error</text>
<text x="1744.5" y="2143.3" text-anchor="start" textLength="326.0" lengthAdjust="spacingAndGlyphs" font-size="61">velocity error</text>
<text x="1749.5" y="2220.5" text-anchor="start" textLength="334.0" lengthAdjust="spacingAndGlyphs" font-size="61">azimuth error</text>
<text x="235.6" y="1981.4" text-anchor="end" textLength="107.5" lengthAdjust="spacingAndGlyphs" font-size="61">0.05</text>
<text x="235.6" y="2127.2" text-anchor="end" textLength="107.5" lengthAdjust="spacingAndGlyphs" font-size="61">0.04</text>
<text x="235.6" y="2272.8" text-anchor="end" textLength="107.5" lengthAdjust="spacingAndGlyphs" font-size="61">0.03</text>
<text x="235.6" y="2418.1" text-anchor="end" textLength="107.5" lengthAdjust="spacingAndGlyphs" font-size="61">0.02</text>
<text x="235.6" y="2563.5" text-anchor="end" textLength="107.5" lengthAdjust="spacingAndGlyphs" font-size="61">0.01</text>
<text x="235.6" y="2711.1" text-anchor="end" textLength="30.1" lengthAdjust="spacingAndGlyphs" font-size="61">0</text>
<text x="235.6" y="2858.8" text-anchor="end" textLength="124.7" lengthAdjust="spacingAndGlyphs" font-size="61">-0.01</text>
<text x="235.6" y="3004.3" text-anchor="end" textLength="124.7" lengthAdjust="spacingAndGlyphs" font-size="61">-0.02</text>
<text x="235.6" y="3149.9" text-anchor="end" textLength="124.7" lengthAdjust="spacingAndGlyphs" font-size="61">-0.03</text>
<text x="235.6" y="3295.4" text-anchor="end" textLength="124.7" lengthAdjust="spacingAndGlyphs" font-size="61">-0.04</text>
<text x="235.6" y="3445.4" text-anchor="end" textLength="124.7" lengthAdjust="spacingAndGlyphs" font-size="61">-0.05</text>
<text x="255.2" y="3491.3" text-anchor="middle" textLength="30.1" lengthAdjust="spacingAndGlyphs" font-size="61">0</text>
<text x="878.0" y="3491.3" text-anchor="middle" textLength="60.2" lengthAdjust="spacingAndGlyphs" font-size="61">50</text>
<text x="1505.4" y="3491.3" text-anchor="middle" textLength="90.3" lengthAdjust="spacingAndGlyphs" font-size="61">100</text>
<text x="2132.8" y="3491.3" text-anchor="middle" textLength="90.3" lengthAdjust="spacingAndGlyphs" font-size="61">150</text>
<text x="940.0" y="3564.4" text-anchor="start" textLength="495.0" lengthAdjust="spacingAndGlyphs" font-size="61">number of iterations</text>
<text transform="translate(63.5 2994.5) rotate(-90)" x="0" y="0" textLength="604" lengthAdjust="spacingAndGlyphs" font-size="61">Normalization coefficient</text>
<text class="cap" x="1149.3" y="3709.8" text-anchor="middle" font-size="91">(<tspan font-weight="bold">b</tspan>)</text>
</svg></body></html>
